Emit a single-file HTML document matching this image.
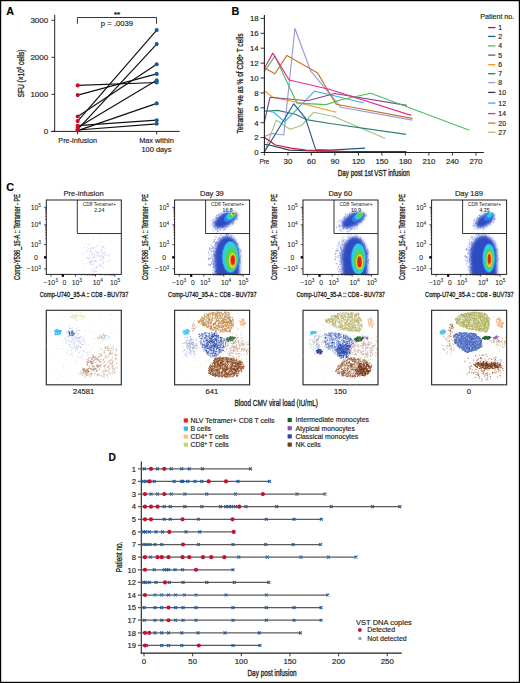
<!DOCTYPE html><html><head><meta charset="utf-8"><style>html,body{margin:0;padding:0;background:#fff;overflow:hidden;}svg{display:block;}text{font-family:"Liberation Sans", sans-serif;stroke:#231f20;stroke-width:0.16px;} text.cd{stroke-width:0.32px;}</style></head><body>
<svg width="520" height="683" viewBox="0 0 520 683">
<defs><filter id="bl" x="-30%" y="-30%" width="160%" height="160%"><feGaussianBlur stdDeviation="0.75"/></filter><filter id="bl2" x="-30%" y="-30%" width="160%" height="160%"><feGaussianBlur stdDeviation="1.5"/></filter></defs>
<rect x="0" y="0" width="520" height="683" fill="#fff"/>
<text x="6.30" y="14.60" font-size="10.8" text-anchor="start" font-weight="bold" fill="#000" >A</text>
<line x1="54.70" y1="14.80" x2="54.70" y2="131.90" stroke="#231f20" stroke-width="1"/>
<line x1="51.40" y1="131.40" x2="179.60" y2="131.40" stroke="#231f20" stroke-width="1"/>
<line x1="51.40" y1="131.40" x2="54.70" y2="131.40" stroke="#231f20" stroke-width="0.9"/>
<text x="48.20" y="134.30" font-size="8" text-anchor="end" font-weight="normal" fill="#231f20" >0</text>
<line x1="51.40" y1="94.37" x2="54.70" y2="94.37" stroke="#231f20" stroke-width="0.9"/>
<text x="48.20" y="97.27" font-size="8" text-anchor="end" font-weight="normal" fill="#231f20" >1000</text>
<line x1="51.40" y1="57.34" x2="54.70" y2="57.34" stroke="#231f20" stroke-width="0.9"/>
<text x="48.20" y="60.24" font-size="8" text-anchor="end" font-weight="normal" fill="#231f20" >2000</text>
<line x1="51.40" y1="20.31" x2="54.70" y2="20.31" stroke="#231f20" stroke-width="0.9"/>
<text x="48.20" y="23.21" font-size="8" text-anchor="end" font-weight="normal" fill="#231f20" >3000</text>
<line x1="77.60" y1="131.40" x2="77.60" y2="134.40" stroke="#231f20" stroke-width="0.9"/>
<line x1="156.60" y1="131.40" x2="156.60" y2="134.40" stroke="#231f20" stroke-width="0.9"/>
<text x="77.70" y="142.70" font-size="7.25" text-anchor="middle" font-weight="normal" fill="#231f20" >Pre-infusion</text>
<text x="156.50" y="142.70" font-size="7.35" text-anchor="middle" font-weight="normal" fill="#231f20" >Max within</text>
<text x="156.50" y="152.20" font-size="7.4" text-anchor="middle" font-weight="normal" fill="#231f20" >100 days</text>
<path d="M77.4,23.8 V17.5 H156.5 V23.8" fill="none" stroke="#231f20" stroke-width="0.9"/>
<text x="117.00" y="17.00" font-size="8" text-anchor="middle" font-weight="bold" fill="#231f20" >**</text>
<text x="117.00" y="25.90" font-size="7.7" text-anchor="middle" font-weight="normal" fill="#231f20" >p = .0039</text>
<text transform="translate(23.8,73.5) rotate(-90)" font-size="8.2" text-anchor="middle" fill="#231f20" textLength="48" lengthAdjust="spacingAndGlyphs" class="cd">SFU (×10<tspan font-size="5" dy="-2.6">5</tspan><tspan dy="2.6"> cells)</tspan></text>
<line x1="77.70" y1="85.40" x2="156.70" y2="82.50" stroke="#111" stroke-width="1.2"/>
<line x1="77.70" y1="95.10" x2="156.70" y2="73.90" stroke="#111" stroke-width="1.2"/>
<line x1="77.70" y1="116.50" x2="156.70" y2="64.20" stroke="#111" stroke-width="1.2"/>
<line x1="77.70" y1="121.10" x2="156.70" y2="30.10" stroke="#111" stroke-width="1.2"/>
<line x1="77.70" y1="129.30" x2="156.70" y2="44.10" stroke="#111" stroke-width="1.2"/>
<line x1="77.70" y1="127.50" x2="156.70" y2="80.30" stroke="#111" stroke-width="1.2"/>
<line x1="77.70" y1="130.60" x2="156.70" y2="103.40" stroke="#111" stroke-width="1.2"/>
<line x1="77.70" y1="125.70" x2="156.70" y2="120.20" stroke="#111" stroke-width="1.2"/>
<line x1="77.70" y1="130.00" x2="156.70" y2="123.80" stroke="#111" stroke-width="1.2"/>
<circle cx="77.70" cy="85.40" r="2.05" fill="#c8102e"/>
<circle cx="77.70" cy="95.10" r="2.05" fill="#c8102e"/>
<circle cx="77.70" cy="116.50" r="2.05" fill="#c8102e"/>
<circle cx="77.70" cy="121.10" r="2.05" fill="#c8102e"/>
<circle cx="77.70" cy="129.30" r="2.05" fill="#c8102e"/>
<circle cx="77.70" cy="127.50" r="2.05" fill="#c8102e"/>
<circle cx="77.70" cy="130.60" r="2.05" fill="#c8102e"/>
<circle cx="77.70" cy="125.70" r="2.05" fill="#c8102e"/>
<circle cx="77.70" cy="130.00" r="2.05" fill="#c8102e"/>
<circle cx="156.70" cy="82.50" r="2.05" fill="#1d5a96"/>
<circle cx="156.70" cy="73.90" r="2.05" fill="#1d5a96"/>
<circle cx="156.70" cy="64.20" r="2.05" fill="#1d5a96"/>
<circle cx="156.70" cy="30.10" r="2.05" fill="#1d5a96"/>
<circle cx="156.70" cy="44.10" r="2.05" fill="#1d5a96"/>
<circle cx="156.70" cy="80.30" r="2.05" fill="#1d5a96"/>
<circle cx="156.70" cy="103.40" r="2.05" fill="#1d5a96"/>
<circle cx="156.70" cy="120.20" r="2.05" fill="#1d5a96"/>
<circle cx="156.70" cy="123.80" r="2.05" fill="#1d5a96"/>
<text x="231.50" y="14.50" font-size="10.8" text-anchor="start" font-weight="bold" fill="#000" >B</text>
<polyline points="264.30,152.20 276.20,120.10 290.00,129.30 301.50,125.50 313.80,112.20 333.80,116.50 385.40,138.50" fill="none" stroke="#a3c287" stroke-width="1.15" stroke-linejoin="round"/>
<polyline points="264.30,111.20 277.70,110.40 295.40,114.20 306.20,119.60 330.00,123.50 406.20,134.40" fill="none" stroke="#2a8068" stroke-width="1.15" stroke-linejoin="round"/>
<polyline points="264.30,136.50 272.30,133.50 283.80,135.00 294.90,28.50 310.80,71.20 331.50,95.80 340.80,107.30 412.50,120.10" fill="none" stroke="#9b98d8" stroke-width="1.15" stroke-linejoin="round"/>
<polyline points="264.30,110.40 273.80,112.20 284.60,121.90 314.60,91.20 330.00,94.70 363.80,103.00" fill="none" stroke="#2db4e6" stroke-width="1.15" stroke-linejoin="round"/>
<polyline points="264.30,90.80 273.00,97.40 296.90,102.30 336.20,112.30" fill="none" stroke="#f7941d" stroke-width="1.15" stroke-linejoin="round"/>
<polyline points="264.30,122.70 270.00,97.30 307.70,100.80 334.60,93.50 406.90,105.40" fill="none" stroke="#7a4a94" stroke-width="1.15" stroke-linejoin="round"/>
<polyline points="264.30,71.50 274.90,56.20 296.90,103.10 326.20,104.60 340.00,100.00 370.80,93.20 469.40,130.20" fill="none" stroke="#4dbf58" stroke-width="1.15" stroke-linejoin="round"/>
<polyline points="264.30,67.70 274.90,73.80 286.90,55.40 317.70,73.10 331.50,96.50 336.20,104.20 412.50,118.40" fill="none" stroke="#c0782e" stroke-width="1.15" stroke-linejoin="round"/>
<polyline points="264.30,68.50 272.80,53.10 289.20,80.00 330.00,89.50 411.20,115.40" fill="none" stroke="#ea2a8e" stroke-width="1.15" stroke-linejoin="round"/>
<polyline points="264.30,152.20 293.80,103.80 305.40,118.10 315.70,149.60 330.00,150.10 365.10,148.10" fill="none" stroke="#1d5a96" stroke-width="1.15" stroke-linejoin="round"/>
<polyline points="264.30,144.50 269.20,145.00 289.20,150.10 320.00,151.20 406.50,151.60" fill="none" stroke="#2e3a58" stroke-width="1.15" stroke-linejoin="round"/>
<polyline points="264.30,137.30 275.40,145.00 290.80,148.10 306.00,150.00 340.00,151.20 349.20,151.60" fill="none" stroke="#c8102e" stroke-width="1.15" stroke-linejoin="round"/>
<line x1="264.40" y1="15.00" x2="264.40" y2="153.00" stroke="#231f20" stroke-width="1.1"/>
<line x1="263.90" y1="152.50" x2="483.90" y2="152.50" stroke="#231f20" stroke-width="1.1"/>
<line x1="260.60" y1="152.50" x2="264.40" y2="152.50" stroke="#231f20" stroke-width="0.9"/>
<text x="258.60" y="155.30" font-size="7.8" text-anchor="end" font-weight="normal" fill="#231f20" >0</text>
<line x1="260.60" y1="137.60" x2="264.40" y2="137.60" stroke="#231f20" stroke-width="0.9"/>
<text x="258.60" y="140.40" font-size="7.8" text-anchor="end" font-weight="normal" fill="#231f20" >2</text>
<line x1="260.60" y1="122.70" x2="264.40" y2="122.70" stroke="#231f20" stroke-width="0.9"/>
<text x="258.60" y="125.50" font-size="7.8" text-anchor="end" font-weight="normal" fill="#231f20" >4</text>
<line x1="260.60" y1="107.80" x2="264.40" y2="107.80" stroke="#231f20" stroke-width="0.9"/>
<text x="258.60" y="110.60" font-size="7.8" text-anchor="end" font-weight="normal" fill="#231f20" >6</text>
<line x1="260.60" y1="92.90" x2="264.40" y2="92.90" stroke="#231f20" stroke-width="0.9"/>
<text x="258.60" y="95.70" font-size="7.8" text-anchor="end" font-weight="normal" fill="#231f20" >8</text>
<line x1="260.60" y1="78.00" x2="264.40" y2="78.00" stroke="#231f20" stroke-width="0.9"/>
<text x="258.60" y="80.80" font-size="7.8" text-anchor="end" font-weight="normal" fill="#231f20" >10</text>
<line x1="260.60" y1="63.10" x2="264.40" y2="63.10" stroke="#231f20" stroke-width="0.9"/>
<text x="258.60" y="65.90" font-size="7.8" text-anchor="end" font-weight="normal" fill="#231f20" >12</text>
<line x1="260.60" y1="48.20" x2="264.40" y2="48.20" stroke="#231f20" stroke-width="0.9"/>
<text x="258.60" y="51.00" font-size="7.8" text-anchor="end" font-weight="normal" fill="#231f20" >14</text>
<line x1="260.60" y1="33.30" x2="264.40" y2="33.30" stroke="#231f20" stroke-width="0.9"/>
<text x="258.60" y="36.10" font-size="7.8" text-anchor="end" font-weight="normal" fill="#231f20" >16</text>
<line x1="260.60" y1="18.40" x2="264.40" y2="18.40" stroke="#231f20" stroke-width="0.9"/>
<text x="258.60" y="21.20" font-size="7.8" text-anchor="end" font-weight="normal" fill="#231f20" >18</text>
<line x1="264.40" y1="152.50" x2="264.40" y2="155.60" stroke="#231f20" stroke-width="0.9"/>
<text x="264.40" y="164.10" font-size="7.8" text-anchor="middle" font-weight="normal" fill="#231f20" textLength="10" lengthAdjust="spacingAndGlyphs" class="cd" style="stroke-width:0.16px">Pre</text>
<line x1="287.90" y1="152.50" x2="287.90" y2="155.60" stroke="#231f20" stroke-width="0.9"/>
<text x="287.90" y="164.10" font-size="7.8" text-anchor="middle" font-weight="normal" fill="#231f20" style="stroke-width:0.16px">30</text>
<line x1="311.40" y1="152.50" x2="311.40" y2="155.60" stroke="#231f20" stroke-width="0.9"/>
<text x="311.40" y="164.10" font-size="7.8" text-anchor="middle" font-weight="normal" fill="#231f20" style="stroke-width:0.16px">60</text>
<line x1="334.90" y1="152.50" x2="334.90" y2="155.60" stroke="#231f20" stroke-width="0.9"/>
<text x="334.90" y="164.10" font-size="7.8" text-anchor="middle" font-weight="normal" fill="#231f20" style="stroke-width:0.16px">90</text>
<line x1="358.40" y1="152.50" x2="358.40" y2="155.60" stroke="#231f20" stroke-width="0.9"/>
<text x="358.40" y="164.10" font-size="7.8" text-anchor="middle" font-weight="normal" fill="#231f20" style="stroke-width:0.16px">120</text>
<line x1="381.89" y1="152.50" x2="381.89" y2="155.60" stroke="#231f20" stroke-width="0.9"/>
<text x="381.89" y="164.10" font-size="7.8" text-anchor="middle" font-weight="normal" fill="#231f20" style="stroke-width:0.16px">150</text>
<line x1="405.39" y1="152.50" x2="405.39" y2="155.60" stroke="#231f20" stroke-width="0.9"/>
<text x="405.39" y="164.10" font-size="7.8" text-anchor="middle" font-weight="normal" fill="#231f20" style="stroke-width:0.16px">180</text>
<line x1="428.89" y1="152.50" x2="428.89" y2="155.60" stroke="#231f20" stroke-width="0.9"/>
<text x="428.89" y="164.10" font-size="7.8" text-anchor="middle" font-weight="normal" fill="#231f20" style="stroke-width:0.16px">210</text>
<line x1="452.39" y1="152.50" x2="452.39" y2="155.60" stroke="#231f20" stroke-width="0.9"/>
<text x="452.39" y="164.10" font-size="7.8" text-anchor="middle" font-weight="normal" fill="#231f20" style="stroke-width:0.16px">240</text>
<line x1="475.89" y1="152.50" x2="475.89" y2="155.60" stroke="#231f20" stroke-width="0.9"/>
<text x="475.89" y="164.10" font-size="7.8" text-anchor="middle" font-weight="normal" fill="#231f20" style="stroke-width:0.16px">270</text>
<text x="337.80" y="176.40" font-size="8.2" text-anchor="start" font-weight="normal" fill="#231f20" textLength="72" lengthAdjust="spacingAndGlyphs" class="cd" >Day post 1st VST infusion</text>
<text transform="translate(243.2,83.5) rotate(-90)" font-size="8.2" text-anchor="middle" fill="#231f20" textLength="100" lengthAdjust="spacingAndGlyphs" class="cd">Tetramer +ve as % of CD8<tspan font-size="5" dy="-2.6">+</tspan><tspan dy="2.6"> T cells</tspan></text>
<text x="480.30" y="18.80" font-size="7.1" text-anchor="start" font-weight="normal" fill="#231f20" >Patient no.</text>
<line x1="488.10" y1="27.60" x2="495.40" y2="27.60" stroke="#c8102e" stroke-width="1.3"/>
<text x="498.30" y="30.10" font-size="6.9" text-anchor="start" font-weight="normal" fill="#231f20" >1</text>
<line x1="488.10" y1="36.40" x2="495.40" y2="36.40" stroke="#1d5a96" stroke-width="1.3"/>
<text x="498.30" y="38.90" font-size="6.9" text-anchor="start" font-weight="normal" fill="#231f20" >2</text>
<line x1="488.10" y1="45.90" x2="495.40" y2="45.90" stroke="#4dbf58" stroke-width="1.3"/>
<text x="498.30" y="48.40" font-size="6.9" text-anchor="start" font-weight="normal" fill="#231f20" >4</text>
<line x1="488.10" y1="55.10" x2="495.40" y2="55.10" stroke="#7a4a94" stroke-width="1.3"/>
<text x="498.30" y="57.60" font-size="6.9" text-anchor="start" font-weight="normal" fill="#231f20" >5</text>
<line x1="488.10" y1="64.70" x2="495.40" y2="64.70" stroke="#f7941d" stroke-width="1.3"/>
<text x="498.30" y="67.20" font-size="6.9" text-anchor="start" font-weight="normal" fill="#231f20" >6</text>
<line x1="488.10" y1="73.70" x2="495.40" y2="73.70" stroke="#2a8068" stroke-width="1.3"/>
<text x="498.30" y="76.20" font-size="6.9" text-anchor="start" font-weight="normal" fill="#231f20" >7</text>
<line x1="488.10" y1="82.60" x2="495.40" y2="82.60" stroke="#9b98d8" stroke-width="1.3"/>
<text x="498.30" y="85.10" font-size="6.9" text-anchor="start" font-weight="normal" fill="#231f20" >8</text>
<line x1="488.10" y1="92.40" x2="495.40" y2="92.40" stroke="#2e3a58" stroke-width="1.3"/>
<text x="498.30" y="94.90" font-size="6.9" text-anchor="start" font-weight="normal" fill="#231f20" >10</text>
<line x1="488.10" y1="103.10" x2="495.40" y2="103.10" stroke="#2db4e6" stroke-width="1.3"/>
<text x="498.30" y="105.60" font-size="6.9" text-anchor="start" font-weight="normal" fill="#231f20" >12</text>
<line x1="488.10" y1="113.60" x2="495.40" y2="113.60" stroke="#ea2a8e" stroke-width="1.3"/>
<text x="498.30" y="116.10" font-size="6.9" text-anchor="start" font-weight="normal" fill="#231f20" >14</text>
<line x1="488.10" y1="123.10" x2="495.40" y2="123.10" stroke="#c0782e" stroke-width="1.3"/>
<text x="498.30" y="125.60" font-size="6.9" text-anchor="start" font-weight="normal" fill="#231f20" >20</text>
<line x1="488.10" y1="132.30" x2="495.40" y2="132.30" stroke="#a3c287" stroke-width="1.3"/>
<text x="498.30" y="134.80" font-size="6.9" text-anchor="start" font-weight="normal" fill="#231f20" >27</text>
<text x="6.20" y="190.60" font-size="10.8" text-anchor="start" font-weight="bold" fill="#000" >C</text>
<clipPath id="cp0"><rect x="46.3" y="200" width="75" height="74.4"/></clipPath>
<clipPath id="ct0"><rect x="46.3" y="310.3" width="75" height="74.5"/></clipPath>
<clipPath id="cp1"><rect x="174.6" y="200" width="75" height="74.4"/></clipPath>
<clipPath id="ct1"><rect x="174.6" y="310.3" width="75" height="74.5"/></clipPath>
<clipPath id="cp2"><rect x="303.0" y="200" width="75" height="74.4"/></clipPath>
<clipPath id="ct2"><rect x="303.0" y="310.3" width="75" height="74.5"/></clipPath>
<clipPath id="cp3"><rect x="431.6" y="200" width="75" height="74.4"/></clipPath>
<clipPath id="ct3"><rect x="431.6" y="310.3" width="75" height="74.5"/></clipPath>
<text x="83.60" y="195.80" font-size="7.5" text-anchor="middle" font-weight="normal" fill="#231f20" >Pre-infusion</text>
<g clip-path="url(#cp0)">
<path d="M94.6 260.8h0M103.0 258.6h0M96.8 267.2h0M90.4 248.3h0M90.6 264.2h0M102.5 252.9h0M90.0 252.0h0M103.2 253.2h0M101.8 266.6h0M91.2 261.9h0M103.1 263.8h0M100.0 256.5h0M104.8 252.8h0M90.4 250.7h0M89.0 258.6h0M98.6 265.9h0M86.4 243.7h0M86.9 258.1h0M95.0 247.2h0M100.9 265.4h0M84.5 252.1h0M99.8 265.0h0M89.0 254.6h0M94.8 257.1h0M98.2 252.6h0M92.0 268.9h0M92.5 264.5h0M87.2 250.8h0M94.1 258.0h0M88.5 245.1h0M91.3 260.9h0M88.2 248.9h0M96.4 271.2h0" stroke="#aab6ea" stroke-width="0.64" stroke-linecap="square" fill="none" opacity="1.0"/><path d="M103.5 261.1h0M108.6 261.3h0M93.4 248.4h0M81.9 260.6h0M103.7 246.8h0M97.1 245.5h0M108.4 255.8h0M93.5 239.1h0M87.7 257.6h0M103.0 267.6h0M105.7 249.1h0M109.1 254.2h0M82.2 254.4h0M95.7 269.5h0M101.6 250.7h0M105.7 255.0h0M96.8 267.8h0M92.9 253.0h0M92.3 259.1h0M105.0 252.0h0M90.7 261.6h0M90.4 263.3h0M99.3 255.8h0M102.0 246.2h0M92.7 252.7h0M101.0 249.4h0M103.1 256.2h0M96.0 261.9h0M94.8 271.7h0M96.9 255.3h0M103.0 247.3h0M102.5 256.7h0" stroke="#b0bcec" stroke-width="0.64" stroke-linecap="square" fill="none" opacity="1.0"/><path d="M83.9 247.2h0M97.9 252.6h0M90.5 252.5h0M92.0 271.1h0M103.0 263.2h0M92.7 270.9h0M86.8 263.5h0M103.5 257.8h0M90.5 250.1h0M96.7 252.1h0M99.9 255.2h0M90.6 264.5h0M89.8 257.5h0M100.4 258.9h0M102.6 248.2h0M94.1 261.8h0M100.4 241.8h0M93.3 261.0h0M95.7 251.4h0M91.6 248.1h0M84.2 263.5h0M103.3 257.6h0M87.6 247.2h0M98.0 254.6h0M95.8 267.4h0M91.9 261.1h0M99.2 238.8h0M90.3 262.4h0M93.9 256.3h0M94.4 274.8h0M94.2 271.5h0M94.9 254.8h0M90.8 248.9h0M94.4 266.2h0M101.8 255.1h0M102.2 255.6h0M104.4 254.7h0M109.4 260.3h0M100.8 260.0h0" stroke="#c0c8f0" stroke-width="0.64" stroke-linecap="square" fill="none" opacity="1.0"/><path d="M89.2 261.7h0M94.3 254.4h0M105.7 261.4h0M102.5 261.0h0M95.6 261.2h0M93.4 247.0h0M105.4 247.8h0M86.4 258.2h0M92.7 255.7h0M97.4 246.1h0M97.6 252.0h0M100.7 257.5h0M90.1 243.2h0M83.5 265.6h0M98.8 260.1h0M90.9 253.9h0M94.4 270.9h0M87.9 260.6h0M91.4 256.2h0M99.9 264.2h0M89.6 262.4h0M97.5 256.9h0" stroke="#e0c8d8" stroke-width="0.64" stroke-linecap="square" fill="none" opacity="1.0"/><path d="M88.0 251.9h0M101.1 260.0h0M93.1 263.2h0M84.7 267.8h0M95.7 261.0h0M99.7 251.3h0M106.1 255.4h0M90.3 245.0h0M107.8 255.5h0M90.5 257.9h0M98.0 252.8h0M98.5 242.6h0M104.9 258.5h0M101.4 252.2h0M88.6 259.6h0M104.7 270.3h0M95.9 260.9h0M92.3 254.8h0M96.5 265.7h0M91.8 247.6h0M94.3 257.7h0M92.6 257.8h0M96.1 256.8h0M96.0 260.2h0" stroke="#d0d6f4" stroke-width="0.64" stroke-linecap="square" fill="none" opacity="1.0"/>
</g>
<rect x="46.30" y="200.0" width="75" height="74.40" fill="none" stroke="#231f20" stroke-width="1"/>
<path d="M77.30,200.0 V233.5 H121.30" fill="none" stroke="#231f20" stroke-width="0.9"/>
<text x="99.30" y="205.50" font-size="4.9" text-anchor="middle" font-weight="normal" fill="#231f20" style="stroke-width:0">CD8 Tetramer+</text>
<text x="99.30" y="212.00" font-size="5.2" text-anchor="middle" font-weight="normal" fill="#231f20" style="stroke-width:0.05px">2.24</text>
<line x1="44.10" y1="207.30" x2="46.30" y2="207.30" stroke="#231f20" stroke-width="0.8"/>
<text x="40.90" y="209.90" font-size="6.8" text-anchor="end" fill="#231f20" style="stroke-width:0.06px">10<tspan font-size="4.8" dy="-2.9">5</tspan></text>
<line x1="44.10" y1="224.80" x2="46.30" y2="224.80" stroke="#231f20" stroke-width="0.8"/>
<text x="40.90" y="227.40" font-size="6.8" text-anchor="end" fill="#231f20" style="stroke-width:0.06px">10<tspan font-size="4.8" dy="-2.9">4</tspan></text>
<line x1="44.10" y1="244.60" x2="46.30" y2="244.60" stroke="#231f20" stroke-width="0.8"/>
<text x="40.90" y="247.20" font-size="6.8" text-anchor="end" fill="#231f20" style="stroke-width:0.06px">10<tspan font-size="4.8" dy="-2.9">3</tspan></text>
<line x1="44.10" y1="257.30" x2="46.30" y2="257.30" stroke="#231f20" stroke-width="0.8"/>
<text x="37.70" y="259.90" font-size="6.8" text-anchor="end" font-weight="normal" fill="#231f20" style="stroke-width:0.06px">0</text>
<line x1="44.10" y1="268.80" x2="46.30" y2="268.80" stroke="#231f20" stroke-width="0.8"/>
<text x="40.90" y="271.40" font-size="6.8" text-anchor="end" fill="#231f20" style="stroke-width:0.06px">−10<tspan font-size="4.8" dy="-2.9">3</tspan></text>
<line x1="45.10" y1="219.53" x2="46.30" y2="219.53" stroke="#231f20" stroke-width="0.6"/>
<line x1="45.10" y1="216.45" x2="46.30" y2="216.45" stroke="#231f20" stroke-width="0.6"/>
<line x1="45.10" y1="214.26" x2="46.30" y2="214.26" stroke="#231f20" stroke-width="0.6"/>
<line x1="45.10" y1="212.57" x2="46.30" y2="212.57" stroke="#231f20" stroke-width="0.6"/>
<line x1="45.10" y1="211.18" x2="46.30" y2="211.18" stroke="#231f20" stroke-width="0.6"/>
<line x1="45.10" y1="210.01" x2="46.30" y2="210.01" stroke="#231f20" stroke-width="0.6"/>
<line x1="45.10" y1="209.00" x2="46.30" y2="209.00" stroke="#231f20" stroke-width="0.6"/>
<line x1="45.10" y1="208.10" x2="46.30" y2="208.10" stroke="#231f20" stroke-width="0.6"/>
<line x1="45.10" y1="238.64" x2="46.30" y2="238.64" stroke="#231f20" stroke-width="0.6"/>
<line x1="45.10" y1="235.15" x2="46.30" y2="235.15" stroke="#231f20" stroke-width="0.6"/>
<line x1="45.10" y1="232.68" x2="46.30" y2="232.68" stroke="#231f20" stroke-width="0.6"/>
<line x1="45.10" y1="230.76" x2="46.30" y2="230.76" stroke="#231f20" stroke-width="0.6"/>
<line x1="45.10" y1="229.19" x2="46.30" y2="229.19" stroke="#231f20" stroke-width="0.6"/>
<line x1="45.10" y1="227.87" x2="46.30" y2="227.87" stroke="#231f20" stroke-width="0.6"/>
<line x1="45.10" y1="226.72" x2="46.30" y2="226.72" stroke="#231f20" stroke-width="0.6"/>
<line x1="45.10" y1="225.71" x2="46.30" y2="225.71" stroke="#231f20" stroke-width="0.6"/>
<rect x="44.00" y="256.2" width="2.3" height="2.3" fill="#000"/>
<line x1="50.90" y1="274.40" x2="50.90" y2="276.60" stroke="#231f20" stroke-width="0.8"/>
<text x="50.70" y="285.1" font-size="6.8" text-anchor="middle" fill="#231f20" style="stroke-width:0.06px">−10<tspan font-size="4.8" dy="-2.9">3</tspan></text>
<line x1="62.80" y1="274.40" x2="62.80" y2="276.60" stroke="#231f20" stroke-width="0.8"/>
<text x="64.50" y="285.10" font-size="6.8" text-anchor="middle" font-weight="normal" fill="#231f20" style="stroke-width:0.06px">0</text>
<line x1="75.50" y1="274.40" x2="75.50" y2="276.60" stroke="#231f20" stroke-width="0.8"/>
<text x="76.80" y="285.1" font-size="6.8" text-anchor="middle" fill="#231f20" style="stroke-width:0.06px">10<tspan font-size="4.8" dy="-2.9">3</tspan></text>
<line x1="95.50" y1="274.40" x2="95.50" y2="276.60" stroke="#231f20" stroke-width="0.8"/>
<text x="97.80" y="285.1" font-size="6.8" text-anchor="middle" fill="#231f20" style="stroke-width:0.06px">10<tspan font-size="4.8" dy="-2.9">4</tspan></text>
<line x1="114.80" y1="274.40" x2="114.80" y2="276.60" stroke="#231f20" stroke-width="0.8"/>
<text x="115.10" y="285.1" font-size="6.8" text-anchor="middle" fill="#231f20" style="stroke-width:0.06px">10<tspan font-size="4.8" dy="-2.9">5</tspan></text>
<line x1="81.52" y1="274.40" x2="81.52" y2="275.60" stroke="#231f20" stroke-width="0.6"/>
<line x1="85.04" y1="274.40" x2="85.04" y2="275.60" stroke="#231f20" stroke-width="0.6"/>
<line x1="87.54" y1="274.40" x2="87.54" y2="275.60" stroke="#231f20" stroke-width="0.6"/>
<line x1="89.48" y1="274.40" x2="89.48" y2="275.60" stroke="#231f20" stroke-width="0.6"/>
<line x1="91.06" y1="274.40" x2="91.06" y2="275.60" stroke="#231f20" stroke-width="0.6"/>
<line x1="92.40" y1="274.40" x2="92.40" y2="275.60" stroke="#231f20" stroke-width="0.6"/>
<line x1="93.56" y1="274.40" x2="93.56" y2="275.60" stroke="#231f20" stroke-width="0.6"/>
<line x1="94.58" y1="274.40" x2="94.58" y2="275.60" stroke="#231f20" stroke-width="0.6"/>
<line x1="101.31" y1="274.40" x2="101.31" y2="275.60" stroke="#231f20" stroke-width="0.6"/>
<line x1="104.71" y1="274.40" x2="104.71" y2="275.60" stroke="#231f20" stroke-width="0.6"/>
<line x1="107.12" y1="274.40" x2="107.12" y2="275.60" stroke="#231f20" stroke-width="0.6"/>
<line x1="108.99" y1="274.40" x2="108.99" y2="275.60" stroke="#231f20" stroke-width="0.6"/>
<line x1="110.52" y1="274.40" x2="110.52" y2="275.60" stroke="#231f20" stroke-width="0.6"/>
<line x1="111.81" y1="274.40" x2="111.81" y2="275.60" stroke="#231f20" stroke-width="0.6"/>
<line x1="112.93" y1="274.40" x2="112.93" y2="275.60" stroke="#231f20" stroke-width="0.6"/>
<line x1="113.92" y1="274.40" x2="113.92" y2="275.60" stroke="#231f20" stroke-width="0.6"/>
<rect x="61.70" y="274.40" width="2.3" height="2.3" fill="#000"/>
<text x="84.05" y="296.50" font-size="8.0" text-anchor="middle" font-weight="normal" fill="#231f20" textLength="88.5" lengthAdjust="spacingAndGlyphs" class="cd" >Comp-U740_35-A :: CD8 - BUV737</text>
<text transform="translate(20.10,236.9) rotate(-90)" font-size="8.2" text-anchor="middle" fill="#231f20" textLength="86" lengthAdjust="spacingAndGlyphs" class="cd">Comp-Y586_15-A :: Tetramer - PE</text>
<text x="211.90" y="195.80" font-size="7.5" text-anchor="middle" font-weight="normal" fill="#231f20" >Day 39</text>
<g clip-path="url(#cp1)">
<path d="M216.1 222.6h0M225.8 220.5h0M224.4 222.6h0M217.1 222.0h0M216.5 217.8h0M226.9 220.1h0M227.0 218.2h0M223.7 220.7h0M219.7 213.1h0M237.4 218.9h0M219.9 220.9h0M218.5 225.7h0M213.0 229.7h0M221.7 225.7h0M215.1 224.1h0M214.0 226.6h0M231.5 217.4h0M216.3 217.4h0M220.2 219.8h0M225.8 223.4h0M226.3 227.7h0M232.7 224.3h0M222.3 225.8h0M225.6 220.4h0M222.9 217.1h0M216.2 223.2h0M233.3 219.7h0M220.3 219.9h0M220.0 225.6h0M222.7 227.8h0M222.6 222.1h0M234.0 218.9h0M221.9 218.8h0M227.1 217.8h0M214.4 222.5h0M227.7 219.3h0M230.7 218.8h0M216.8 229.1h0M223.2 219.6h0M233.1 215.1h0M223.6 227.0h0M212.6 223.4h0M224.2 220.7h0M222.9 216.3h0M225.9 219.3h0M224.1 217.8h0M220.5 230.2h0M233.8 212.2h0M222.5 219.7h0M225.5 213.4h0M223.7 225.5h0M229.4 218.1h0M236.6 216.1h0M216.4 215.6h0M220.0 222.2h0" stroke="#4a64cc" stroke-width="0.60" stroke-linecap="square" fill="none" opacity="1.0"/><path d="M223.4 224.7h0M233.5 222.0h0M218.1 214.7h0M225.5 213.8h0M212.8 224.6h0M228.5 226.8h0M220.2 223.5h0M230.8 216.7h0M230.0 212.0h0M218.4 219.2h0M224.6 218.2h0M224.6 213.6h0M215.9 223.6h0M231.6 216.3h0M217.8 223.2h0M222.7 223.4h0M217.5 231.5h0M217.1 230.5h0M231.6 220.7h0M224.7 222.9h0M218.3 220.6h0M224.4 225.0h0M218.5 224.5h0M220.3 216.7h0M218.7 223.9h0M233.6 219.8h0M225.3 220.4h0M215.4 229.9h0M228.7 216.1h0M235.2 218.5h0M223.7 219.2h0M225.7 211.8h0M222.7 214.7h0M227.0 222.8h0M226.0 223.8h0M222.2 226.4h0M231.8 219.8h0M234.0 217.2h0M229.1 215.7h0M227.1 223.8h0M236.1 215.8h0M223.5 213.7h0M220.8 220.9h0M224.1 221.3h0M216.4 222.8h0M225.8 221.0h0M231.9 220.0h0M230.3 213.1h0M228.8 220.8h0M218.3 220.5h0M215.6 221.5h0M218.0 214.8h0M224.4 229.7h0M215.7 217.9h0M225.6 229.3h0M214.2 227.3h0M223.3 222.5h0M222.9 223.3h0M218.6 215.3h0M223.2 227.2h0M219.3 225.8h0M224.6 221.2h0M233.1 216.0h0M229.3 216.9h0M232.5 219.0h0M224.9 224.1h0M228.3 223.1h0M226.7 214.9h0M217.1 222.9h0M217.9 228.6h0M219.5 221.2h0M222.5 220.4h0M219.9 223.5h0M219.9 229.8h0M223.9 221.1h0M213.7 226.1h0M224.1 224.3h0M224.5 219.7h0M223.3 226.4h0" stroke="#7a8edc" stroke-width="0.60" stroke-linecap="square" fill="none" opacity="1.0"/><path d="M214.2 219.5h0M221.1 214.2h0M238.2 215.2h0M230.0 216.0h0M221.4 220.6h0M216.5 225.3h0M219.9 221.2h0M220.3 218.8h0M223.3 223.2h0M232.0 216.8h0M221.0 224.4h0M223.9 225.7h0M222.5 220.0h0M218.9 222.7h0M220.0 225.2h0M221.1 220.8h0M230.5 211.4h0M217.8 229.3h0M230.7 220.8h0M226.3 210.4h0M236.9 219.4h0M215.3 221.2h0M229.9 217.6h0M228.7 219.2h0M229.0 219.7h0M227.1 218.0h0M216.2 220.1h0M234.9 216.0h0M210.7 225.2h0M218.4 231.6h0M228.1 223.1h0M231.5 217.5h0M229.2 218.4h0M219.4 217.8h0M224.1 218.2h0M221.1 224.4h0M227.9 223.8h0M226.5 221.8h0M225.2 211.3h0M225.5 220.5h0M217.3 220.5h0M213.4 231.3h0M211.0 220.4h0M219.0 221.4h0M227.2 222.3h0M218.7 219.9h0M215.4 229.1h0M215.0 228.3h0M227.0 210.9h0M227.4 220.5h0M226.3 225.9h0M220.9 217.6h0M232.1 221.9h0M229.5 224.5h0M213.9 222.8h0M233.1 217.3h0M227.8 221.3h0M234.3 217.6h0M223.2 220.7h0M220.8 216.8h0M220.5 218.8h0M216.2 232.3h0M212.3 225.9h0M221.8 215.1h0M232.2 216.2h0M215.0 216.8h0M220.8 226.8h0M230.7 211.5h0" stroke="#98a8e4" stroke-width="0.60" stroke-linecap="square" fill="none" opacity="1.0"/><path d="M232.0 211.5h0M223.0 221.4h0M220.8 216.4h0M227.7 216.3h0M213.6 221.8h0M229.7 219.0h0M218.5 226.5h0M223.0 216.0h0M220.2 226.2h0M236.1 210.9h0M231.5 215.3h0M236.6 218.1h0M223.1 217.6h0M221.4 219.9h0M227.3 222.6h0M227.6 217.0h0M228.8 214.4h0M230.1 211.6h0M220.7 223.6h0M224.4 225.3h0M225.6 220.2h0M222.0 225.4h0M228.2 216.3h0M229.7 222.1h0M229.2 217.4h0M213.3 221.6h0M218.2 223.9h0M230.0 218.4h0M218.7 225.1h0M220.8 222.0h0M217.8 219.7h0M224.4 226.7h0M223.2 230.6h0M231.6 215.5h0M213.4 222.2h0M233.5 217.0h0M218.9 223.6h0M217.8 231.3h0M222.5 215.5h0M213.0 219.7h0M233.3 223.3h0M231.0 215.5h0M232.3 223.6h0M218.6 226.3h0M228.4 221.0h0M219.1 218.1h0M226.5 222.1h0M226.1 227.0h0M215.2 227.0h0M225.1 221.1h0M216.9 218.0h0M228.5 220.4h0M232.1 211.5h0M227.2 213.1h0M223.5 219.8h0M224.3 229.0h0M220.1 223.1h0M226.9 224.8h0" stroke="#5a74d4" stroke-width="0.60" stroke-linecap="square" fill="none" opacity="1.0"/><path d="M220.2 265.7h0M216.4 242.5h0M223.0 277.0h0M228.6 266.1h0M226.2 263.5h0M231.8 242.3h0M218.3 248.5h0M234.9 260.6h0M234.3 251.6h0M216.1 242.1h0M217.6 259.0h0M226.4 243.7h0M224.6 262.6h0M228.4 234.7h0M218.3 253.8h0M222.6 248.4h0M214.8 256.1h0M237.8 261.0h0M216.6 274.5h0M220.9 251.7h0M241.3 255.0h0M215.2 271.9h0M219.0 263.7h0M223.3 243.6h0M221.7 265.5h0M223.5 263.4h0M226.3 249.3h0M218.9 256.7h0M227.7 233.7h0M226.3 234.9h0M224.5 260.3h0M231.5 266.7h0M226.1 250.3h0M217.2 260.2h0M212.8 259.4h0M217.8 274.0h0M222.2 242.2h0M218.2 252.7h0M214.4 241.5h0M218.6 260.9h0M227.3 246.7h0M226.8 272.3h0M230.3 244.9h0M222.9 236.8h0M227.8 272.9h0M233.0 270.2h0M222.8 257.9h0M222.4 261.3h0M230.8 265.5h0M218.7 254.8h0M225.9 246.2h0M222.9 267.0h0M234.4 265.1h0M230.8 243.1h0M217.4 259.0h0M220.5 276.8h0M213.7 265.9h0M223.2 273.8h0M217.3 277.7h0M212.3 256.9h0M231.4 248.9h0M209.1 253.7h0M219.1 256.8h0M213.8 247.8h0M219.9 256.4h0M220.9 260.2h0M213.6 263.2h0M225.4 264.0h0M225.0 268.9h0M224.2 259.7h0M224.8 263.3h0M222.6 279.6h0M215.6 252.4h0M217.7 251.0h0M216.2 265.1h0M237.9 260.4h0M219.6 237.5h0M229.5 238.0h0M231.3 261.2h0M223.8 241.8h0M213.3 247.6h0M236.3 256.8h0M211.8 256.0h0M215.4 263.3h0M226.9 263.4h0M226.8 266.9h0M233.5 271.0h0M224.9 249.7h0M231.0 260.6h0M233.0 258.9h0M223.0 264.4h0M224.2 246.3h0M219.8 248.0h0M214.6 257.5h0M228.4 263.7h0M225.6 257.6h0M215.7 255.7h0M221.3 260.6h0M236.0 258.5h0M220.4 258.5h0M236.3 270.8h0M233.5 244.3h0M221.3 244.7h0M232.9 245.5h0M217.7 269.3h0M220.1 264.4h0M223.9 242.7h0M234.8 250.2h0M228.5 248.1h0M225.2 240.2h0M229.1 275.4h0M225.5 258.9h0M213.6 253.2h0M221.5 252.7h0M236.1 239.9h0M216.8 255.0h0M208.9 265.5h0M221.0 247.1h0M235.8 251.3h0M231.9 247.3h0M219.8 269.1h0M225.3 260.8h0M227.8 233.5h0M218.5 237.1h0M234.4 260.4h0M230.2 273.5h0M221.1 263.8h0M223.8 247.5h0M219.8 238.8h0M238.3 266.4h0M215.0 255.1h0M215.4 261.3h0M224.9 250.2h0M217.7 267.8h0M222.0 255.2h0M219.6 266.5h0M225.1 251.0h0M227.5 260.1h0M222.0 255.4h0M211.2 250.8h0M240.3 256.7h0M221.5 247.7h0M223.1 263.0h0M217.2 241.3h0M214.4 273.1h0M213.2 267.8h0M227.4 252.2h0M228.0 242.9h0M226.2 260.4h0M228.5 239.0h0M222.2 265.6h0M233.4 274.6h0M226.1 263.5h0M232.3 259.7h0M227.5 269.9h0M232.2 254.8h0M233.5 265.6h0M236.8 265.9h0M216.5 256.5h0M222.3 271.9h0M236.1 246.5h0M209.6 258.5h0M222.3 249.0h0M234.2 265.0h0M227.1 256.6h0M239.3 261.3h0M223.3 239.0h0M228.9 237.3h0M224.7 239.9h0M218.0 239.4h0M236.2 245.8h0M224.7 233.7h0M227.6 269.6h0M215.8 265.2h0M218.7 263.9h0M221.9 266.8h0M223.7 258.0h0M215.9 252.4h0M231.9 273.7h0M226.0 245.8h0M215.9 256.9h0M225.9 246.7h0M221.4 263.2h0M227.4 239.3h0M232.0 271.6h0M226.5 270.0h0M234.8 253.8h0M227.6 277.9h0M212.7 248.1h0M233.3 262.9h0M233.2 245.6h0M227.2 236.1h0M225.7 246.1h0M227.3 243.9h0M226.7 237.9h0M230.8 235.7h0M212.5 258.7h0M221.7 260.8h0M227.9 251.4h0M222.1 254.5h0M235.6 257.5h0M230.6 259.7h0M228.5 260.8h0M212.4 261.8h0M228.0 275.2h0M223.0 252.4h0M237.0 261.9h0M234.5 249.8h0M231.3 251.9h0M236.2 243.4h0M230.1 269.5h0M228.2 255.7h0M217.1 244.1h0M224.3 269.0h0M225.6 254.4h0M221.8 250.6h0M215.4 268.7h0M215.7 271.5h0M225.5 264.8h0M225.9 233.6h0M221.9 258.9h0M230.0 260.7h0M217.8 242.5h0M220.3 259.5h0M222.1 266.8h0M232.6 252.5h0M221.9 249.7h0M234.0 257.0h0M211.4 248.4h0M223.3 269.3h0M226.8 254.3h0M226.2 248.1h0M237.5 265.6h0M216.9 274.1h0M217.3 259.3h0M228.2 256.3h0M216.3 253.8h0M228.8 263.1h0M227.6 252.9h0M226.3 234.3h0M215.8 243.0h0M239.6 260.9h0M230.1 261.7h0M225.4 266.3h0M219.8 269.5h0M222.0 255.6h0M225.8 251.9h0M228.2 263.0h0M234.0 267.7h0M222.6 267.2h0M231.4 247.7h0M224.4 274.8h0M235.9 274.6h0M222.5 246.0h0M220.1 262.0h0M224.3 270.5h0M219.1 263.0h0M237.3 258.4h0M238.3 255.9h0M212.7 272.6h0M226.3 267.7h0M235.5 257.0h0M238.1 243.4h0M219.7 251.7h0M226.9 235.6h0M226.4 279.2h0M224.5 238.1h0M213.2 267.5h0M217.9 258.6h0M214.6 259.5h0M235.9 252.1h0M220.5 249.0h0M228.0 253.8h0M215.4 243.3h0M231.9 259.6h0M228.4 261.6h0M227.2 267.7h0M237.9 256.4h0M234.0 249.2h0M211.6 257.4h0M229.1 247.6h0M219.7 268.9h0M224.4 255.9h0" stroke="#7a8edc" stroke-width="0.60" stroke-linecap="square" fill="none" opacity="1.0"/><path d="M230.9 247.3h0M229.0 268.3h0M222.7 240.9h0M221.1 243.7h0M221.9 240.5h0M214.4 239.7h0M215.8 244.0h0M223.7 268.6h0M238.2 257.3h0M216.8 270.6h0M220.2 247.4h0M226.4 253.7h0M225.6 250.5h0M225.4 261.5h0M216.3 237.2h0M222.2 250.2h0M215.7 277.3h0M222.9 267.7h0M209.6 249.5h0M218.5 268.1h0M217.8 256.8h0M221.0 266.2h0M222.0 255.9h0M235.2 248.0h0M227.8 252.3h0M218.5 253.5h0M233.9 273.9h0M238.6 249.9h0M223.8 261.1h0M230.2 242.8h0M219.0 258.8h0M221.1 258.3h0M225.5 248.3h0M226.5 264.1h0M219.6 252.7h0M223.6 252.0h0M231.4 278.3h0M225.0 260.3h0M236.5 250.3h0M235.0 264.8h0M220.4 260.7h0M224.3 265.0h0M228.0 254.5h0M220.2 260.6h0M210.5 264.4h0M216.8 255.7h0M230.9 277.8h0M227.8 256.1h0M221.1 235.4h0M231.7 240.8h0M222.4 263.0h0M236.5 260.7h0M232.9 268.1h0M215.1 262.3h0M234.2 249.0h0M224.8 262.1h0M221.3 250.5h0M233.0 254.7h0M221.2 266.5h0M213.6 251.8h0M219.3 242.2h0M234.4 275.9h0M232.4 242.2h0M213.3 254.4h0M219.3 263.9h0M221.4 254.5h0M221.4 271.2h0M218.5 264.2h0M220.8 256.1h0M215.5 258.1h0M220.6 248.7h0M231.2 275.3h0M217.0 242.2h0M228.5 264.0h0M227.5 247.7h0M227.5 252.1h0M228.2 267.3h0M224.8 280.2h0M227.8 254.0h0M235.6 270.2h0M223.6 254.0h0M219.1 257.5h0M232.8 269.7h0M226.6 251.8h0M229.5 268.1h0M224.6 252.0h0M209.8 258.5h0M217.2 243.7h0M235.4 268.4h0M217.3 268.2h0M218.7 258.1h0M215.7 255.8h0M228.8 252.9h0M239.9 257.6h0M215.9 251.4h0M223.3 246.4h0M216.4 252.0h0M212.4 259.1h0M222.9 250.7h0M228.1 251.7h0M226.6 251.5h0M214.3 255.8h0M224.2 253.5h0M219.1 252.2h0M225.9 256.4h0M217.9 268.3h0M219.9 268.8h0M223.1 271.0h0M221.6 247.7h0M217.9 273.2h0M235.7 243.0h0M236.8 243.5h0M217.5 263.8h0M222.3 266.8h0M218.4 251.8h0M221.8 254.1h0M224.4 255.8h0M219.5 247.2h0M226.0 255.0h0M235.6 262.7h0M219.6 265.9h0M218.3 243.4h0M225.8 236.3h0M217.1 252.9h0M237.1 269.8h0M219.5 254.4h0M225.0 268.2h0M225.3 239.8h0M220.3 259.6h0M225.8 256.7h0M225.5 260.5h0M218.5 244.7h0M225.3 271.1h0M222.7 260.4h0M214.9 245.3h0M237.5 247.6h0M232.7 249.6h0M227.7 257.0h0M214.3 254.8h0M228.1 261.8h0M218.9 265.1h0M220.9 271.1h0M227.3 269.0h0M214.1 263.9h0M229.5 253.4h0M228.7 270.7h0M231.8 263.1h0M234.8 241.0h0M215.4 265.4h0M227.1 275.8h0M213.9 266.0h0M240.2 262.9h0M217.7 255.4h0M226.7 266.3h0M223.1 253.8h0M218.9 268.1h0M224.3 249.5h0M221.9 251.9h0M223.2 271.9h0M226.0 252.8h0M220.1 252.8h0M226.5 265.0h0M226.4 254.1h0M225.5 251.9h0M223.8 275.4h0M210.0 265.9h0M238.1 265.7h0M213.0 270.2h0M226.3 274.8h0M218.1 261.6h0M217.2 248.9h0M231.2 243.2h0M229.7 262.5h0M234.0 272.1h0M222.9 252.9h0M232.9 249.2h0M229.8 256.9h0M231.5 238.1h0M214.1 267.4h0M224.7 247.4h0M222.9 245.2h0M224.9 253.5h0M231.4 240.7h0M225.9 245.1h0M216.5 265.3h0M214.5 254.1h0M215.5 265.9h0M226.2 240.8h0M217.5 258.0h0M225.0 254.2h0M221.9 259.0h0M225.4 249.0h0M230.8 242.2h0M213.4 251.0h0M221.1 257.4h0M230.7 245.1h0M218.8 256.6h0M230.3 257.4h0M221.2 240.0h0M221.9 253.7h0M230.3 262.1h0M225.0 250.2h0M225.5 253.2h0M212.2 263.7h0M219.2 245.7h0M217.1 254.4h0M237.2 270.7h0M220.7 252.2h0M224.7 247.9h0M218.5 245.5h0M230.7 246.8h0M229.2 262.1h0M231.4 271.7h0M231.2 260.8h0M227.3 251.9h0M215.1 271.4h0M236.5 262.5h0M224.9 264.3h0M225.4 261.9h0M222.0 253.0h0M221.8 244.0h0M222.2 251.4h0M234.0 274.1h0M223.6 233.4h0M208.9 264.3h0M228.0 269.7h0M224.7 256.8h0M229.2 256.9h0M215.2 261.7h0M225.8 261.5h0M219.7 253.8h0M219.2 247.3h0M217.8 247.5h0M229.6 251.9h0M217.4 266.6h0M215.4 259.5h0M213.3 274.1h0M217.4 250.0h0M229.3 255.7h0M231.7 261.9h0M216.2 263.8h0M215.3 244.0h0M229.3 246.3h0M224.7 242.8h0M226.7 266.9h0M226.7 234.7h0M216.4 265.8h0M218.2 276.0h0M220.8 244.4h0M227.1 238.1h0M223.6 261.3h0M236.2 254.5h0M231.1 274.5h0M232.0 235.5h0M216.9 277.6h0M231.4 253.8h0M227.1 248.5h0M215.4 276.1h0M226.2 255.4h0M221.3 267.0h0M221.7 249.9h0M227.4 266.1h0M226.8 266.7h0M211.0 250.6h0M227.5 245.1h0M224.5 248.2h0M216.4 252.5h0M212.9 261.3h0M219.0 267.1h0M233.1 254.5h0M229.1 254.9h0M220.8 246.1h0M213.8 247.3h0M218.5 269.0h0M218.4 246.5h0M224.3 273.5h0M218.0 254.7h0M224.2 250.4h0M225.0 261.1h0M216.8 261.8h0M221.3 267.7h0M237.6 255.9h0M217.8 245.0h0" stroke="#4a64cc" stroke-width="0.60" stroke-linecap="square" fill="none" opacity="1.0"/><path d="M220.7 254.0h0M228.4 238.3h0M223.3 257.4h0M220.0 258.5h0M230.9 257.3h0M221.2 241.8h0M219.4 241.5h0M229.6 251.5h0M227.0 267.6h0M227.8 274.7h0M233.4 258.0h0M230.2 263.5h0M229.0 241.2h0M217.3 270.7h0M237.3 255.1h0M227.9 250.9h0M221.8 262.7h0M228.6 265.9h0M215.9 266.1h0M226.6 259.3h0M214.9 245.9h0M227.5 274.3h0M225.9 244.6h0M223.2 257.7h0M221.9 251.1h0M221.2 255.5h0M222.8 272.4h0M224.1 252.0h0M229.5 254.9h0M210.0 260.0h0M224.8 268.9h0M222.1 280.2h0M222.6 261.2h0M223.5 260.8h0M223.6 256.1h0M232.3 247.4h0M217.5 268.7h0M221.8 261.0h0M229.4 261.5h0M234.9 261.8h0M213.4 250.2h0M226.0 253.8h0M216.5 259.1h0M228.2 252.8h0M220.1 259.6h0M224.3 262.8h0M232.1 270.5h0M228.2 268.8h0M233.9 236.9h0M232.0 263.6h0M223.6 262.5h0M224.1 247.7h0M228.8 258.7h0M231.3 269.5h0M232.8 276.3h0M226.0 269.4h0M214.2 260.7h0M221.8 263.7h0M221.8 258.6h0M229.0 243.9h0M221.2 259.9h0M225.7 241.1h0M232.7 245.2h0M223.4 247.2h0M238.7 257.8h0M227.6 244.9h0M230.2 254.9h0M231.1 258.5h0M214.4 255.4h0M223.0 254.3h0M228.8 261.3h0M229.7 260.0h0M230.5 258.0h0M217.3 263.3h0M229.0 260.8h0M216.7 253.1h0M228.9 266.4h0M218.5 256.7h0M236.0 256.8h0M218.1 254.5h0M220.8 278.5h0M222.9 268.9h0M226.1 255.4h0M215.0 266.3h0M226.9 266.7h0M219.0 253.6h0M223.2 248.0h0M224.6 251.9h0M223.9 262.1h0M217.3 260.9h0M220.8 244.2h0M225.1 265.9h0M216.8 276.1h0M216.9 249.2h0M235.2 261.0h0M226.7 258.8h0M240.9 257.4h0M228.1 250.1h0M220.6 263.9h0M229.4 273.5h0M215.2 255.7h0M225.0 268.2h0M210.6 264.8h0M234.4 256.5h0M235.2 264.5h0M228.4 278.5h0M221.6 267.0h0M223.7 259.1h0M223.9 250.4h0M218.3 269.3h0M228.0 263.6h0M232.6 256.1h0M222.9 248.9h0M234.6 265.6h0M233.2 256.1h0M226.1 273.5h0M218.4 244.6h0M225.4 258.2h0M231.6 270.7h0M219.5 248.7h0M216.6 252.2h0M226.3 257.5h0M231.4 272.5h0M224.7 243.6h0M231.1 262.9h0M228.4 259.3h0M234.1 243.4h0M215.3 264.0h0M232.9 255.0h0M215.6 265.6h0M212.5 259.9h0M213.2 256.0h0M225.8 273.8h0M225.0 264.4h0M221.1 267.2h0M221.1 258.5h0M217.2 246.8h0M224.4 266.4h0M222.9 247.2h0M232.7 263.3h0M233.1 266.7h0M221.8 244.8h0M226.0 260.9h0M217.9 239.7h0M222.5 267.3h0M215.0 252.1h0M216.6 254.3h0M230.4 258.9h0M221.1 275.3h0M226.7 254.1h0M226.7 253.5h0M210.4 248.9h0M222.1 244.5h0M222.9 259.0h0M229.5 239.1h0M235.4 260.9h0M216.6 277.1h0M227.7 252.9h0M227.7 246.9h0M232.8 252.5h0M227.1 243.7h0M211.3 246.2h0M231.6 247.6h0M221.2 255.6h0M220.7 263.5h0M223.5 239.0h0M216.5 270.5h0M215.5 239.5h0M217.4 277.3h0M212.9 259.6h0M218.0 264.3h0M224.0 265.1h0M222.7 271.6h0M227.2 252.1h0M227.3 253.2h0M232.1 242.7h0M235.9 245.3h0M227.9 252.6h0M215.1 261.7h0M222.8 241.3h0M221.6 263.5h0M223.7 242.6h0M223.7 238.6h0M237.0 244.1h0M227.0 266.1h0M227.3 261.4h0M229.5 248.5h0M233.2 252.6h0M222.6 243.8h0M221.2 253.3h0M224.7 257.5h0M225.0 253.4h0M219.0 249.9h0M240.4 260.4h0M215.3 255.3h0M222.4 251.3h0M222.9 261.8h0M223.6 266.0h0M229.9 256.5h0M218.2 243.5h0M227.2 261.6h0M224.8 259.9h0M220.5 257.5h0M228.1 260.3h0M231.9 261.7h0M225.6 250.8h0M218.6 255.0h0M225.6 270.6h0M217.0 248.5h0M221.5 259.3h0M230.7 247.9h0M225.0 255.4h0M217.5 251.8h0M218.0 238.3h0M226.2 260.8h0M229.4 274.6h0M229.0 244.9h0M225.9 266.8h0M226.7 260.2h0M208.8 264.3h0M225.6 245.5h0M221.7 253.2h0M221.3 258.9h0M218.3 277.3h0M227.2 263.5h0M223.8 276.7h0M219.0 251.0h0M229.0 234.8h0M233.6 252.5h0M227.6 269.7h0M221.0 269.7h0M220.2 272.8h0M227.1 254.3h0M233.7 256.4h0M222.4 253.4h0M222.3 251.2h0M220.2 254.5h0M219.2 256.8h0M232.4 239.7h0M225.4 268.1h0M223.8 246.2h0M239.0 262.4h0M217.3 270.4h0M226.2 250.4h0M213.1 242.5h0M222.3 270.6h0M219.5 260.2h0M218.4 250.5h0M212.2 248.8h0M233.7 276.9h0M233.1 273.4h0M234.0 248.2h0" stroke="#98a8e4" stroke-width="0.60" stroke-linecap="square" fill="none" opacity="1.0"/><path d="M229.7 256.8h0M224.0 262.7h0M218.6 260.8h0M230.3 245.8h0M230.6 250.4h0M217.1 266.0h0M211.5 252.1h0M223.1 240.6h0M224.5 268.8h0M219.6 258.7h0M215.7 258.6h0M223.6 255.5h0M225.9 250.0h0M218.7 257.3h0M224.1 244.1h0M229.1 245.0h0M208.2 251.1h0M223.3 254.8h0M236.8 254.3h0M215.7 245.7h0M230.7 247.8h0M225.5 259.9h0M213.6 264.3h0M214.3 257.2h0M225.7 263.7h0M223.6 257.7h0M227.6 252.4h0M224.0 249.3h0M224.3 255.2h0M234.2 244.8h0M240.2 251.0h0M233.9 242.9h0M227.1 247.8h0M211.2 245.6h0M225.8 250.2h0M218.8 269.0h0M232.9 256.6h0M208.2 258.9h0M232.5 244.0h0M227.4 255.5h0M229.1 259.3h0M216.8 250.1h0M210.2 264.8h0M223.3 258.7h0M228.0 253.6h0M209.6 248.6h0M223.3 249.3h0M219.6 253.0h0M220.9 243.4h0M237.5 261.3h0M225.5 264.5h0M220.5 271.1h0M211.5 254.3h0M212.3 246.6h0M220.6 241.8h0M231.2 235.6h0M224.6 269.6h0M217.7 268.1h0M222.0 264.2h0M214.2 240.8h0M234.9 248.7h0M219.9 250.7h0M228.6 247.3h0M223.4 257.5h0M219.5 238.4h0M228.2 266.2h0M229.3 244.2h0M234.8 262.7h0M225.2 257.1h0M232.0 251.0h0M214.5 255.3h0M229.8 242.2h0M227.8 265.3h0M234.2 253.5h0M221.8 271.9h0M218.3 271.9h0M223.3 265.6h0M227.6 252.6h0M221.5 268.1h0M219.2 273.0h0M223.3 238.1h0M219.2 243.2h0M218.4 254.5h0M228.5 266.6h0M234.4 258.1h0M230.2 263.6h0M221.9 271.9h0M235.5 255.1h0M222.6 253.0h0M228.0 249.2h0M236.1 256.6h0M226.6 260.6h0M213.3 242.0h0M231.5 245.9h0M230.2 255.4h0M227.5 279.5h0M226.0 270.1h0M209.4 247.4h0M226.0 250.9h0M228.1 269.7h0M234.2 272.7h0M222.4 259.1h0M229.2 238.5h0M233.3 265.9h0M235.3 241.6h0M232.8 245.2h0M233.5 247.1h0M226.8 256.8h0M234.8 242.1h0M229.5 260.5h0M223.5 266.1h0M222.6 270.9h0M226.4 267.4h0M232.3 278.3h0M233.7 273.0h0M224.8 251.8h0M217.3 259.6h0M235.4 269.2h0M229.3 264.7h0M232.8 241.3h0M232.7 272.9h0M230.7 258.8h0M212.9 248.6h0M234.8 254.3h0M217.5 245.8h0M208.6 252.7h0M231.3 257.9h0M223.8 267.6h0M235.9 242.3h0M230.3 241.2h0M232.8 239.5h0M217.5 253.8h0M232.2 243.3h0M222.3 269.6h0M224.4 272.3h0M234.8 266.3h0M218.6 249.2h0M222.9 245.6h0M229.9 260.1h0M214.8 254.7h0M214.4 257.8h0M231.0 244.2h0M222.2 243.6h0M222.2 264.0h0M211.8 262.1h0M224.5 255.4h0M225.6 262.3h0M225.7 262.0h0M228.5 265.3h0M213.0 264.7h0M239.3 259.3h0M215.9 248.4h0M218.3 252.2h0M216.8 249.5h0M216.6 270.7h0M222.4 265.8h0M219.6 258.4h0M225.7 255.7h0M228.4 264.7h0M214.0 264.7h0M225.2 277.7h0M223.8 252.7h0M217.1 255.3h0M224.5 240.9h0M232.6 246.1h0M228.6 246.1h0M223.1 257.1h0M234.0 269.5h0M238.9 248.7h0M224.0 254.9h0M222.7 237.2h0M233.8 252.6h0M231.6 269.6h0M220.2 250.6h0M229.1 252.0h0M224.0 265.9h0M227.3 263.5h0M229.8 265.1h0M227.4 255.0h0M219.4 250.8h0M221.7 267.6h0M216.2 271.4h0M215.0 248.3h0M240.0 262.5h0M214.0 266.6h0M231.9 274.5h0M236.5 247.7h0M229.9 260.1h0M231.9 256.5h0M239.9 260.8h0M222.1 257.8h0M225.4 241.4h0M215.3 242.3h0M224.2 263.9h0M225.1 256.6h0M209.8 249.3h0M234.3 238.1h0M224.7 255.6h0M236.5 247.2h0M238.4 245.1h0M228.5 234.4h0M217.7 261.9h0M232.6 252.3h0M221.0 250.3h0M222.6 244.6h0M223.6 261.1h0M221.4 256.0h0M232.8 250.7h0M211.7 263.6h0M221.3 248.5h0M226.5 253.2h0M208.5 259.7h0M217.7 267.9h0M231.9 274.5h0M218.5 246.5h0M225.1 267.9h0M240.9 251.5h0M233.0 261.7h0M220.4 247.3h0M225.1 258.6h0M216.6 242.7h0M234.0 258.3h0M238.7 253.8h0M218.1 263.1h0M228.7 263.8h0M222.3 259.1h0M233.6 239.3h0M223.1 252.8h0M233.4 246.0h0M218.5 277.1h0M219.8 252.8h0M228.8 257.7h0M224.0 266.4h0M223.3 248.5h0M226.2 248.6h0M224.3 254.0h0M235.5 262.6h0M225.2 251.4h0M218.1 248.0h0M236.5 264.0h0M220.2 239.0h0M219.6 244.1h0M214.2 261.0h0M209.3 255.2h0M219.5 240.9h0M239.0 258.3h0M229.6 241.3h0M225.5 275.9h0M228.0 252.5h0M228.5 259.4h0M227.5 258.9h0M224.1 245.8h0M215.4 236.9h0M213.9 260.7h0M222.8 244.6h0M236.7 269.7h0M210.4 258.1h0M227.3 258.3h0M215.1 255.9h0M228.0 272.2h0M222.3 279.7h0M224.1 257.1h0M227.7 264.2h0M231.7 269.5h0M218.8 246.4h0M212.8 251.1h0M236.8 244.1h0M216.5 257.3h0M239.8 259.3h0M230.1 258.1h0M229.9 247.8h0M227.4 258.0h0M215.4 261.6h0M227.8 240.8h0M213.4 262.6h0M226.8 242.2h0M219.8 256.5h0M224.3 255.9h0M230.4 256.7h0M240.7 250.0h0M208.7 258.1h0M230.1 262.8h0" stroke="#5a74d4" stroke-width="0.60" stroke-linecap="square" fill="none" opacity="1.0"/><g filter="url(#bl2)"><ellipse cx="225.60" cy="219.50" rx="13.00" ry="6.50" transform="rotate(-32 225.60 219.50)" fill="#2d4cc2" opacity="1"/><ellipse cx="227.10" cy="257.00" rx="12.50" ry="21.00" transform="rotate(0 227.10 257.00)" fill="#2d4cc2" opacity="1"/><rect x="215.10" y="259.00" width="24.50" height="26.00" rx="2" fill="#2d4cc2"/></g><g filter="url(#bl)"><ellipse cx="230.10" cy="216.50" rx="7.50" ry="4.20" transform="rotate(-40 230.10 216.50)" fill="#2e7ee8" opacity="1"/><ellipse cx="231.20" cy="215.50" rx="5.60" ry="3.30" transform="rotate(-40 231.20 215.50)" fill="#2ad0e0" opacity="1"/><ellipse cx="232.40" cy="214.50" rx="3.80" ry="2.40" transform="rotate(-40 232.40 214.50)" fill="#5cd050" opacity="1"/><ellipse cx="233.00" cy="213.70" rx="2.20" ry="1.60" transform="rotate(-40 233.00 213.70)" fill="#f2e232" opacity="1"/><ellipse cx="233.30" cy="213.40" rx="1.30" ry="1.00" transform="rotate(-40 233.30 213.40)" fill="#e52418" opacity="1"/><ellipse cx="230.40" cy="257.00" rx="8.80" ry="16.10" transform="rotate(0 230.40 257.00)" fill="#2e7ee8" opacity="1"/><ellipse cx="230.50" cy="257.00" rx="8.00" ry="15.30" transform="rotate(0 230.50 257.00)" fill="#2ad0e0" opacity="1"/><ellipse cx="231.40" cy="258.90" rx="5.85" ry="11.85" transform="rotate(0 231.40 258.90)" fill="#5cd050" opacity="1"/><ellipse cx="232.50" cy="260.50" rx="3.50" ry="7.50" transform="rotate(0 232.50 260.50)" fill="#f2e232" opacity="1"/><ellipse cx="232.70" cy="260.30" rx="2.70" ry="6.10" transform="rotate(0 232.70 260.30)" fill="#f48a20" opacity="1"/><ellipse cx="232.85" cy="260.10" rx="2.05" ry="4.70" transform="rotate(0 232.85 260.10)" fill="#e52418" opacity="1"/></g>
<rect x="207.60" y="201" width="40.00" height="11.5" fill="#fff" opacity="0.72"/>
</g>
<rect x="174.60" y="200.0" width="75" height="74.40" fill="none" stroke="#231f20" stroke-width="1"/>
<path d="M205.60,200.0 V233.5 H249.60" fill="none" stroke="#231f20" stroke-width="0.9"/>
<text x="227.60" y="205.50" font-size="4.9" text-anchor="middle" font-weight="normal" fill="#231f20" style="stroke-width:0">CD8 Tetramer+</text>
<text x="227.60" y="212.00" font-size="5.2" text-anchor="middle" font-weight="normal" fill="#231f20" style="stroke-width:0.05px">16.8</text>
<line x1="172.40" y1="207.30" x2="174.60" y2="207.30" stroke="#231f20" stroke-width="0.8"/>
<text x="169.20" y="209.90" font-size="6.8" text-anchor="end" fill="#231f20" style="stroke-width:0.06px">10<tspan font-size="4.8" dy="-2.9">5</tspan></text>
<line x1="172.40" y1="224.80" x2="174.60" y2="224.80" stroke="#231f20" stroke-width="0.8"/>
<text x="169.20" y="227.40" font-size="6.8" text-anchor="end" fill="#231f20" style="stroke-width:0.06px">10<tspan font-size="4.8" dy="-2.9">4</tspan></text>
<line x1="172.40" y1="244.60" x2="174.60" y2="244.60" stroke="#231f20" stroke-width="0.8"/>
<text x="169.20" y="247.20" font-size="6.8" text-anchor="end" fill="#231f20" style="stroke-width:0.06px">10<tspan font-size="4.8" dy="-2.9">3</tspan></text>
<line x1="172.40" y1="257.30" x2="174.60" y2="257.30" stroke="#231f20" stroke-width="0.8"/>
<text x="166.00" y="259.90" font-size="6.8" text-anchor="end" font-weight="normal" fill="#231f20" style="stroke-width:0.06px">0</text>
<line x1="172.40" y1="268.80" x2="174.60" y2="268.80" stroke="#231f20" stroke-width="0.8"/>
<text x="169.20" y="271.40" font-size="6.8" text-anchor="end" fill="#231f20" style="stroke-width:0.06px">−10<tspan font-size="4.8" dy="-2.9">3</tspan></text>
<line x1="173.40" y1="219.53" x2="174.60" y2="219.53" stroke="#231f20" stroke-width="0.6"/>
<line x1="173.40" y1="216.45" x2="174.60" y2="216.45" stroke="#231f20" stroke-width="0.6"/>
<line x1="173.40" y1="214.26" x2="174.60" y2="214.26" stroke="#231f20" stroke-width="0.6"/>
<line x1="173.40" y1="212.57" x2="174.60" y2="212.57" stroke="#231f20" stroke-width="0.6"/>
<line x1="173.40" y1="211.18" x2="174.60" y2="211.18" stroke="#231f20" stroke-width="0.6"/>
<line x1="173.40" y1="210.01" x2="174.60" y2="210.01" stroke="#231f20" stroke-width="0.6"/>
<line x1="173.40" y1="209.00" x2="174.60" y2="209.00" stroke="#231f20" stroke-width="0.6"/>
<line x1="173.40" y1="208.10" x2="174.60" y2="208.10" stroke="#231f20" stroke-width="0.6"/>
<line x1="173.40" y1="238.64" x2="174.60" y2="238.64" stroke="#231f20" stroke-width="0.6"/>
<line x1="173.40" y1="235.15" x2="174.60" y2="235.15" stroke="#231f20" stroke-width="0.6"/>
<line x1="173.40" y1="232.68" x2="174.60" y2="232.68" stroke="#231f20" stroke-width="0.6"/>
<line x1="173.40" y1="230.76" x2="174.60" y2="230.76" stroke="#231f20" stroke-width="0.6"/>
<line x1="173.40" y1="229.19" x2="174.60" y2="229.19" stroke="#231f20" stroke-width="0.6"/>
<line x1="173.40" y1="227.87" x2="174.60" y2="227.87" stroke="#231f20" stroke-width="0.6"/>
<line x1="173.40" y1="226.72" x2="174.60" y2="226.72" stroke="#231f20" stroke-width="0.6"/>
<line x1="173.40" y1="225.71" x2="174.60" y2="225.71" stroke="#231f20" stroke-width="0.6"/>
<rect x="172.30" y="256.2" width="2.3" height="2.3" fill="#000"/>
<line x1="179.20" y1="274.40" x2="179.20" y2="276.60" stroke="#231f20" stroke-width="0.8"/>
<text x="179.00" y="285.1" font-size="6.8" text-anchor="middle" fill="#231f20" style="stroke-width:0.06px">−10<tspan font-size="4.8" dy="-2.9">3</tspan></text>
<line x1="191.10" y1="274.40" x2="191.10" y2="276.60" stroke="#231f20" stroke-width="0.8"/>
<text x="192.80" y="285.10" font-size="6.8" text-anchor="middle" font-weight="normal" fill="#231f20" style="stroke-width:0.06px">0</text>
<line x1="203.80" y1="274.40" x2="203.80" y2="276.60" stroke="#231f20" stroke-width="0.8"/>
<text x="205.10" y="285.1" font-size="6.8" text-anchor="middle" fill="#231f20" style="stroke-width:0.06px">10<tspan font-size="4.8" dy="-2.9">3</tspan></text>
<line x1="223.80" y1="274.40" x2="223.80" y2="276.60" stroke="#231f20" stroke-width="0.8"/>
<text x="226.10" y="285.1" font-size="6.8" text-anchor="middle" fill="#231f20" style="stroke-width:0.06px">10<tspan font-size="4.8" dy="-2.9">4</tspan></text>
<line x1="243.10" y1="274.40" x2="243.10" y2="276.60" stroke="#231f20" stroke-width="0.8"/>
<text x="243.40" y="285.1" font-size="6.8" text-anchor="middle" fill="#231f20" style="stroke-width:0.06px">10<tspan font-size="4.8" dy="-2.9">5</tspan></text>
<line x1="209.82" y1="274.40" x2="209.82" y2="275.60" stroke="#231f20" stroke-width="0.6"/>
<line x1="213.34" y1="274.40" x2="213.34" y2="275.60" stroke="#231f20" stroke-width="0.6"/>
<line x1="215.84" y1="274.40" x2="215.84" y2="275.60" stroke="#231f20" stroke-width="0.6"/>
<line x1="217.78" y1="274.40" x2="217.78" y2="275.60" stroke="#231f20" stroke-width="0.6"/>
<line x1="219.36" y1="274.40" x2="219.36" y2="275.60" stroke="#231f20" stroke-width="0.6"/>
<line x1="220.70" y1="274.40" x2="220.70" y2="275.60" stroke="#231f20" stroke-width="0.6"/>
<line x1="221.86" y1="274.40" x2="221.86" y2="275.60" stroke="#231f20" stroke-width="0.6"/>
<line x1="222.88" y1="274.40" x2="222.88" y2="275.60" stroke="#231f20" stroke-width="0.6"/>
<line x1="229.61" y1="274.40" x2="229.61" y2="275.60" stroke="#231f20" stroke-width="0.6"/>
<line x1="233.01" y1="274.40" x2="233.01" y2="275.60" stroke="#231f20" stroke-width="0.6"/>
<line x1="235.42" y1="274.40" x2="235.42" y2="275.60" stroke="#231f20" stroke-width="0.6"/>
<line x1="237.29" y1="274.40" x2="237.29" y2="275.60" stroke="#231f20" stroke-width="0.6"/>
<line x1="238.82" y1="274.40" x2="238.82" y2="275.60" stroke="#231f20" stroke-width="0.6"/>
<line x1="240.11" y1="274.40" x2="240.11" y2="275.60" stroke="#231f20" stroke-width="0.6"/>
<line x1="241.23" y1="274.40" x2="241.23" y2="275.60" stroke="#231f20" stroke-width="0.6"/>
<line x1="242.22" y1="274.40" x2="242.22" y2="275.60" stroke="#231f20" stroke-width="0.6"/>
<rect x="190.00" y="274.40" width="2.3" height="2.3" fill="#000"/>
<text x="212.35" y="296.50" font-size="8.0" text-anchor="middle" font-weight="normal" fill="#231f20" textLength="88.5" lengthAdjust="spacingAndGlyphs" class="cd" >Comp-U740_35-A :: CD8 - BUV737</text>
<text transform="translate(148.40,236.9) rotate(-90)" font-size="8.2" text-anchor="middle" fill="#231f20" textLength="86" lengthAdjust="spacingAndGlyphs" class="cd">Comp-Y586_15-A :: Tetramer - PE</text>
<text x="340.30" y="195.80" font-size="7.5" text-anchor="middle" font-weight="normal" fill="#231f20" >Day 60</text>
<g clip-path="url(#cp2)">
<path d="M344.3 222.0h0M360.2 219.0h0M360.5 219.6h0M357.6 225.2h0M349.9 214.3h0M366.6 215.4h0M340.0 220.1h0M339.9 229.5h0M360.5 221.4h0M346.9 228.3h0M357.6 220.8h0M347.9 228.8h0M356.6 216.7h0M363.8 219.7h0M355.5 222.8h0M353.5 223.2h0M353.8 211.6h0M363.4 218.6h0M350.6 225.3h0M352.9 223.7h0M354.2 219.8h0M358.4 219.5h0M351.5 224.5h0M350.0 214.1h0M345.7 214.4h0M349.3 223.2h0M359.5 216.1h0M341.9 220.8h0M340.6 226.4h0M352.3 217.3h0M345.1 225.4h0M348.3 224.6h0M348.4 223.0h0M346.0 226.4h0M351.4 221.9h0M356.0 225.6h0M342.4 225.7h0M345.8 224.4h0M355.5 224.0h0M342.7 222.4h0M352.3 223.0h0M354.1 215.7h0M349.9 226.8h0M344.6 216.8h0M350.5 219.3h0M343.0 218.6h0M339.2 224.8h0M356.9 221.8h0M341.3 230.6h0M356.2 217.2h0M354.4 223.2h0M364.8 215.1h0M350.4 230.6h0M346.6 223.2h0M357.1 221.8h0M355.1 222.6h0" stroke="#4a64cc" stroke-width="0.60" stroke-linecap="square" fill="none" opacity="1.0"/><path d="M351.5 217.8h0M339.1 231.3h0M354.1 225.9h0M343.8 221.0h0M356.1 223.9h0M352.6 213.3h0M348.5 222.1h0M351.0 223.5h0M350.9 217.1h0M366.4 216.7h0M362.2 214.8h0M354.4 213.6h0M347.3 225.8h0M349.3 220.5h0M355.5 224.1h0M354.5 218.4h0M353.0 222.8h0M362.7 211.0h0M354.5 220.9h0M360.3 221.0h0M355.9 211.6h0M346.3 223.9h0M345.0 223.6h0M360.7 209.8h0M354.3 228.6h0M350.9 221.8h0M350.2 212.2h0M363.8 213.0h0M352.5 221.2h0M358.6 222.6h0M345.8 219.7h0M353.1 223.5h0M352.3 219.2h0M344.4 218.3h0M352.4 227.0h0M340.7 231.1h0M361.2 213.3h0M347.1 228.2h0M345.9 225.7h0M349.2 224.4h0M347.5 216.0h0M362.1 222.5h0M351.2 213.8h0M343.2 229.1h0M354.2 221.9h0M350.6 228.6h0M343.4 227.0h0M346.0 220.4h0M352.9 222.7h0M352.1 221.0h0M354.6 223.3h0M363.7 220.0h0M353.1 221.7h0M339.4 221.9h0M345.0 218.9h0M354.1 229.4h0M359.2 219.2h0M353.1 220.2h0M339.2 221.0h0" stroke="#98a8e4" stroke-width="0.60" stroke-linecap="square" fill="none" opacity="1.0"/><path d="M344.2 218.2h0M349.0 223.0h0M357.1 224.9h0M361.3 213.6h0M358.7 213.2h0M355.2 217.7h0M352.3 228.7h0M348.3 224.8h0M357.0 224.1h0M350.5 218.1h0M362.9 214.3h0M358.0 219.7h0M346.7 219.5h0M344.0 225.1h0M354.9 221.3h0M358.9 222.2h0M344.1 223.6h0M356.2 215.6h0M350.1 217.3h0M345.3 224.7h0M343.5 229.0h0M355.2 220.1h0M343.7 223.6h0M364.2 216.3h0M358.2 220.4h0M359.5 215.9h0M347.4 220.2h0M358.4 218.5h0M345.6 223.5h0M348.8 231.7h0M361.0 220.5h0M350.7 225.1h0M350.3 220.2h0M361.7 221.3h0M353.7 213.2h0M350.8 228.4h0M358.4 221.0h0M364.1 215.2h0M351.7 229.2h0M351.2 221.3h0M349.8 218.6h0M357.6 221.0h0M347.1 231.4h0M353.5 224.9h0M349.3 219.5h0M344.8 220.4h0M353.2 221.7h0M339.5 225.6h0M362.0 217.7h0M357.0 220.5h0M348.2 226.0h0M360.7 215.8h0" stroke="#5a74d4" stroke-width="0.60" stroke-linecap="square" fill="none" opacity="1.0"/><path d="M339.4 226.1h0M347.0 232.1h0M349.1 218.0h0M350.9 224.3h0M352.6 222.5h0M355.4 224.8h0M344.2 223.8h0M349.7 215.4h0M347.3 219.2h0M336.7 227.1h0M345.0 224.6h0M357.1 218.4h0M355.5 216.9h0M361.3 222.7h0M353.1 223.2h0M349.6 218.6h0M356.8 226.9h0M348.9 230.4h0M352.8 222.0h0M360.6 219.9h0M343.2 222.9h0M339.4 227.1h0M347.5 223.4h0M355.0 225.1h0M362.3 220.7h0M342.8 231.7h0M356.5 212.8h0M358.9 220.4h0M361.8 213.9h0M358.3 220.8h0M341.8 221.7h0M344.3 225.3h0M353.2 214.9h0M350.0 218.7h0M341.1 228.8h0M353.3 219.3h0M352.2 223.8h0M356.4 217.9h0M351.1 223.0h0M359.1 216.5h0M358.2 220.4h0M344.7 218.6h0M357.4 224.4h0M352.1 224.3h0M348.2 223.0h0M352.9 220.0h0M357.3 228.2h0M343.1 227.8h0M357.8 220.5h0M352.3 221.3h0M338.2 226.3h0M356.7 219.6h0M354.7 226.9h0M351.2 228.8h0M342.8 226.6h0M362.5 218.5h0M354.8 229.4h0M362.6 216.0h0M336.7 227.7h0M337.9 222.4h0M351.4 215.8h0M347.3 213.9h0M358.0 214.7h0M351.7 217.8h0M345.1 225.5h0M355.9 228.5h0M349.6 224.3h0M345.3 215.1h0M343.0 221.1h0M344.1 217.0h0M353.3 221.9h0M343.4 227.6h0M343.7 228.8h0" stroke="#7a8edc" stroke-width="0.60" stroke-linecap="square" fill="none" opacity="1.0"/><path d="M357.3 266.4h0M349.7 262.4h0M362.3 269.9h0M341.2 255.2h0M353.1 258.5h0M359.8 250.1h0M347.7 275.0h0M345.7 251.7h0M338.1 243.2h0M349.9 266.2h0M356.0 242.7h0M347.8 261.4h0M355.4 258.1h0M342.5 254.4h0M357.3 248.1h0M346.8 262.1h0M343.4 260.0h0M352.2 266.9h0M355.3 253.0h0M361.6 261.2h0M341.2 260.2h0M350.0 250.1h0M360.3 263.1h0M362.4 243.8h0M337.8 269.1h0M346.0 247.9h0M354.3 267.4h0M346.0 248.1h0M341.6 257.0h0M343.4 257.6h0M343.0 257.2h0M348.5 248.7h0M361.5 267.2h0M361.4 249.0h0M345.1 247.4h0M359.4 257.9h0M348.5 252.6h0M352.8 253.2h0M358.6 241.4h0M356.8 264.6h0M347.3 256.7h0M354.3 249.0h0M352.6 275.5h0M354.2 266.8h0M355.7 252.1h0M357.5 261.5h0M348.1 272.8h0M346.5 256.5h0M348.9 261.3h0M362.7 248.8h0M350.2 238.6h0M346.6 248.5h0M353.1 267.2h0M346.7 253.8h0M359.1 249.8h0M348.6 249.9h0M358.4 274.2h0M344.1 268.4h0M343.9 257.1h0M352.2 266.3h0M346.1 268.4h0M342.4 255.5h0M345.3 251.6h0M355.9 276.9h0M355.3 271.3h0M349.8 260.7h0M354.7 247.6h0M357.2 274.9h0M355.4 255.7h0M358.0 266.1h0M339.9 264.4h0M340.7 257.2h0M351.4 262.0h0M340.1 261.3h0M357.9 256.4h0M358.3 265.8h0M355.6 256.1h0M343.5 264.7h0M365.4 253.0h0M346.6 271.5h0M356.5 269.6h0M356.6 266.5h0M346.2 240.4h0M349.6 252.2h0M362.9 259.2h0M351.4 280.3h0M350.6 266.4h0M353.5 277.7h0M356.2 267.0h0M356.9 264.3h0M339.5 269.2h0M353.0 242.2h0M340.1 261.7h0M348.0 265.9h0M347.6 259.0h0M354.3 247.3h0M360.8 253.3h0M354.5 255.4h0M367.2 252.7h0M341.8 252.1h0M350.5 254.1h0M353.5 252.8h0M358.6 278.9h0M359.2 251.0h0M361.4 273.5h0M338.6 245.0h0M349.7 264.8h0M348.0 240.8h0M351.3 279.2h0M351.8 268.5h0M335.8 250.7h0M339.5 253.0h0M358.3 252.8h0M355.3 257.0h0M345.6 254.6h0M351.4 233.8h0M359.0 259.3h0M342.0 275.0h0M366.5 259.3h0M364.8 244.4h0M357.5 237.3h0M347.3 254.0h0M354.3 266.7h0M342.5 253.4h0M350.8 239.9h0M347.2 265.2h0M345.6 242.2h0M359.2 266.8h0M354.8 254.3h0M364.6 259.0h0M353.3 242.2h0M343.3 262.7h0M347.8 233.8h0M344.4 260.7h0M349.0 270.3h0M340.5 261.3h0M336.9 257.9h0M341.7 262.9h0M341.0 253.6h0M353.1 251.2h0M353.1 266.3h0M340.4 256.1h0M362.9 252.4h0M360.2 274.3h0M359.1 248.5h0M357.0 256.8h0M352.4 260.7h0M350.4 251.3h0M348.7 264.5h0M368.7 252.3h0M356.6 257.2h0M351.5 266.4h0M341.2 250.7h0M353.4 242.6h0M356.3 261.5h0M355.2 254.2h0M352.0 261.6h0M341.9 247.0h0M361.1 259.9h0M350.0 254.8h0M357.7 278.5h0M360.8 243.0h0M364.0 245.4h0M361.1 251.5h0M362.1 241.8h0M357.0 264.5h0M343.6 257.6h0M360.3 238.8h0M350.3 271.2h0M357.7 262.8h0M368.0 250.3h0M358.0 250.5h0M354.5 242.1h0M341.5 258.7h0M359.0 261.0h0M357.8 257.0h0M354.7 244.8h0M358.1 245.8h0M357.2 252.9h0M359.8 253.1h0M367.2 249.2h0M344.9 253.4h0M354.9 266.4h0M353.3 273.9h0M351.3 253.8h0M357.0 258.0h0M335.2 258.7h0M355.8 260.0h0M343.9 250.1h0M343.5 259.9h0M353.7 244.2h0M344.3 254.0h0M336.9 248.8h0M359.8 266.5h0M366.3 254.3h0M352.7 260.1h0M359.5 274.0h0M348.1 259.0h0M350.6 246.4h0M351.5 265.5h0M341.2 255.6h0M358.4 250.0h0M351.4 247.5h0M365.5 253.4h0M359.5 241.7h0M340.9 256.0h0M354.6 270.0h0M350.3 251.7h0M350.6 244.8h0M352.3 238.1h0M351.6 253.5h0M355.0 254.5h0M352.1 241.3h0M342.8 237.4h0M350.3 243.0h0M345.1 245.7h0M359.2 256.5h0M355.3 250.0h0M356.5 244.2h0M360.6 271.1h0M352.1 253.3h0M354.6 270.8h0M359.5 247.2h0M353.1 267.4h0M345.9 244.6h0M342.7 242.4h0M354.7 265.1h0M354.0 263.9h0M346.8 250.0h0M342.7 269.8h0M359.7 273.0h0M353.2 238.0h0M353.2 243.2h0M357.1 261.3h0M347.5 247.9h0M349.1 268.4h0M351.4 252.1h0M361.1 247.4h0M340.8 264.8h0M354.6 259.0h0M362.4 273.1h0M349.9 256.5h0M354.0 264.3h0M362.0 264.6h0M357.9 253.3h0M348.7 271.5h0M359.1 254.6h0M363.1 251.8h0M360.6 252.3h0M352.8 250.3h0M358.4 266.8h0M353.3 256.1h0M343.1 258.0h0M346.9 256.1h0M367.2 253.5h0M344.7 255.1h0M348.1 251.9h0M347.8 258.9h0M353.3 246.4h0M345.0 255.3h0M352.6 241.7h0M338.6 271.3h0M353.5 271.5h0M342.2 258.1h0M357.7 259.9h0M346.1 274.5h0M342.5 269.3h0M358.2 253.5h0M335.7 256.5h0M353.1 270.3h0M347.2 258.2h0M349.1 266.1h0M361.5 255.5h0M343.7 254.7h0M348.0 265.6h0M365.1 257.7h0M365.6 256.7h0M352.2 244.5h0M360.6 237.2h0M351.8 258.2h0M355.3 263.7h0M350.6 239.6h0M355.7 272.0h0M361.1 247.1h0M352.0 260.3h0M349.1 258.3h0M351.3 250.7h0M341.0 267.9h0M348.5 250.2h0M339.1 247.2h0M345.1 257.2h0M354.4 253.8h0M352.1 243.8h0M357.2 249.4h0M337.1 263.8h0M354.7 248.7h0M341.2 252.7h0M355.7 260.3h0" stroke="#5a74d4" stroke-width="0.60" stroke-linecap="square" fill="none" opacity="1.0"/><path d="M351.0 254.9h0M348.7 241.1h0M355.4 253.3h0M347.9 262.5h0M342.3 239.0h0M356.0 251.2h0M357.9 268.9h0M364.2 269.9h0M355.0 246.4h0M348.9 248.1h0M350.4 245.6h0M339.8 259.6h0M357.3 259.1h0M343.0 266.0h0M366.4 252.4h0M350.3 278.0h0M349.8 266.0h0M353.8 270.2h0M344.2 245.5h0M353.6 244.2h0M354.9 267.0h0M353.1 253.2h0M366.6 261.9h0M368.1 260.9h0M358.2 246.2h0M367.8 252.2h0M350.8 256.1h0M352.2 272.7h0M346.8 270.1h0M353.9 248.6h0M352.2 271.5h0M356.7 254.9h0M360.5 276.7h0M350.5 261.1h0M348.2 254.0h0M348.5 258.9h0M352.9 256.4h0M358.1 248.2h0M354.3 253.9h0M360.0 244.1h0M360.6 252.1h0M343.0 261.5h0M368.3 260.6h0M350.5 258.1h0M353.5 268.5h0M343.3 269.8h0M344.0 250.5h0M352.8 273.8h0M348.0 267.4h0M351.7 253.7h0M353.3 277.8h0M358.6 262.1h0M347.2 250.1h0M358.7 256.1h0M358.5 277.1h0M352.3 250.6h0M361.2 258.1h0M362.5 259.8h0M343.6 244.3h0M347.3 276.1h0M353.9 277.7h0M346.5 269.0h0M352.0 272.8h0M354.8 242.1h0M360.7 270.3h0M356.2 272.7h0M359.0 252.5h0M352.0 253.4h0M360.1 243.0h0M350.8 255.7h0M345.3 255.3h0M348.2 260.6h0M358.7 275.5h0M353.4 251.0h0M360.0 271.2h0M343.6 249.6h0M348.0 254.2h0M344.5 252.7h0M350.1 262.3h0M353.2 274.8h0M351.6 275.6h0M360.6 267.6h0M346.7 260.8h0M361.2 266.4h0M345.2 252.3h0M363.0 247.5h0M344.1 264.7h0M339.3 254.1h0M358.0 249.5h0M365.4 257.3h0M356.9 242.7h0M339.1 250.6h0M347.0 256.7h0M340.6 254.0h0M357.3 249.5h0M344.1 271.7h0M347.7 240.5h0M342.0 252.0h0M361.8 275.9h0M347.4 275.4h0M354.0 255.5h0M361.5 244.7h0M353.0 256.6h0M345.0 273.2h0M348.4 258.0h0M349.1 265.4h0M346.5 246.6h0M338.6 255.8h0M365.1 246.8h0M361.5 239.4h0M357.9 257.1h0M353.1 275.8h0M351.3 236.0h0M359.1 252.7h0M344.1 236.8h0M347.0 259.9h0M352.2 262.7h0M356.7 262.3h0M348.4 254.0h0M354.1 253.0h0M352.2 275.4h0M358.7 261.1h0M356.0 269.1h0M356.9 279.6h0M367.9 253.3h0M364.1 247.3h0M353.4 259.5h0M349.4 265.7h0M335.4 253.4h0M341.9 245.5h0M347.9 259.5h0M352.8 246.2h0M346.0 278.7h0M344.2 251.5h0M355.1 265.3h0M341.6 273.6h0M344.7 256.7h0M343.8 244.9h0M351.0 264.8h0M351.8 269.3h0M353.5 264.4h0M358.5 264.1h0M344.4 255.0h0M356.7 260.2h0M353.4 246.6h0M357.9 250.9h0M353.2 266.4h0M342.3 274.2h0M340.7 274.3h0M344.8 243.9h0M359.0 260.3h0M359.7 262.0h0M349.1 266.8h0M360.3 253.6h0M363.7 268.2h0M348.3 255.7h0M341.3 241.6h0M358.1 254.6h0M354.3 264.2h0M351.1 245.4h0M346.5 252.7h0M357.0 247.9h0M343.9 259.7h0M342.2 254.0h0M352.5 262.1h0M344.9 244.9h0M354.8 257.8h0M353.4 258.2h0M353.8 258.6h0M360.4 239.9h0M354.5 241.6h0M346.6 256.0h0M342.8 251.0h0M341.4 258.0h0M346.9 247.5h0M354.2 253.6h0M347.4 253.5h0M345.8 247.6h0M356.5 243.2h0M352.3 244.2h0M349.6 274.5h0M341.6 261.1h0M345.7 261.7h0M354.9 259.4h0M341.5 264.1h0M350.9 233.7h0M352.6 268.6h0M352.7 239.6h0M344.3 254.0h0M353.8 239.6h0M362.1 256.0h0M350.4 249.9h0M343.7 276.0h0M360.2 238.7h0M358.4 252.8h0M353.4 257.4h0M352.7 263.4h0M361.6 252.5h0M345.2 260.2h0M358.5 248.0h0M343.9 270.5h0M352.6 247.4h0M347.8 250.5h0M350.3 246.5h0M347.0 257.5h0M337.9 260.8h0M347.5 274.8h0M362.7 253.0h0M358.2 252.0h0M366.9 261.4h0M356.4 250.2h0M354.3 280.7h0M350.6 253.2h0M360.1 246.3h0M349.9 262.7h0M347.8 248.8h0M349.1 249.3h0M353.9 242.8h0M342.2 260.6h0M358.4 271.2h0M348.7 244.2h0M344.5 261.3h0M349.1 263.3h0M338.6 257.8h0M350.2 266.0h0M354.5 262.6h0M355.3 252.7h0M363.0 249.2h0M363.5 247.7h0M348.7 256.0h0M362.0 251.1h0M346.8 251.4h0M348.6 255.0h0M357.3 238.9h0M360.5 257.9h0M351.7 279.2h0M341.4 259.1h0M362.7 245.6h0M356.6 279.7h0M346.9 248.7h0M364.2 248.9h0M349.2 245.4h0M354.7 243.6h0M338.2 267.9h0M361.0 268.4h0M355.8 260.6h0M356.8 258.1h0M341.6 243.5h0M342.8 273.3h0M351.0 269.4h0M344.9 267.7h0M342.7 267.2h0M338.2 256.6h0M350.5 264.9h0M349.5 253.5h0M344.9 254.6h0M340.3 257.9h0M356.2 245.4h0M342.8 267.6h0M347.8 253.3h0M351.3 254.9h0M350.3 263.0h0M346.9 252.6h0M348.0 263.4h0M353.3 259.7h0M348.3 257.4h0M352.1 249.9h0M342.3 257.5h0M343.0 269.7h0M346.2 264.6h0M350.9 248.7h0M355.6 235.9h0M339.9 254.3h0M343.6 257.9h0M356.3 254.6h0M359.4 267.4h0M357.2 254.2h0M341.4 252.0h0M349.7 269.2h0M339.6 255.8h0M346.9 267.6h0M350.3 240.4h0M353.2 238.6h0M347.2 253.3h0" stroke="#98a8e4" stroke-width="0.60" stroke-linecap="square" fill="none" opacity="1.0"/><path d="M350.1 242.7h0M355.7 239.4h0M345.3 265.6h0M356.0 264.7h0M353.7 258.5h0M341.9 240.2h0M342.0 263.8h0M360.7 249.6h0M351.3 279.0h0M359.1 268.3h0M351.3 273.6h0M347.2 277.5h0M346.3 271.1h0M359.1 242.2h0M347.3 256.0h0M337.2 250.2h0M352.1 275.2h0M349.4 257.4h0M344.6 245.2h0M352.6 248.1h0M356.4 256.1h0M347.0 273.8h0M356.0 241.6h0M363.1 274.9h0M363.2 248.3h0M358.4 265.1h0M354.2 242.6h0M349.2 276.3h0M343.5 262.0h0M347.1 262.3h0M343.0 246.2h0M340.8 273.0h0M346.1 243.8h0M355.0 258.2h0M364.5 254.1h0M340.9 257.1h0M355.9 277.3h0M349.7 257.2h0M348.6 274.7h0M346.0 247.2h0M349.8 270.6h0M344.0 272.8h0M352.6 266.0h0M364.9 260.9h0M346.3 268.2h0M363.5 252.1h0M354.8 252.2h0M348.5 244.6h0M348.9 253.7h0M354.0 263.9h0M365.9 256.4h0M359.8 247.8h0M357.2 261.8h0M360.1 264.5h0M352.4 246.8h0M356.2 256.2h0M343.2 240.3h0M349.8 253.8h0M362.7 260.6h0M348.0 259.0h0M347.1 245.3h0M344.2 250.3h0M344.9 260.4h0M355.5 266.0h0M350.2 249.1h0M344.1 250.2h0M367.8 254.3h0M340.6 255.7h0M344.8 253.7h0M346.0 249.8h0M356.0 261.8h0M345.1 267.6h0M359.4 258.2h0M355.0 257.7h0M350.1 262.8h0M343.9 267.0h0M341.4 250.2h0M355.8 257.6h0M361.0 249.3h0M355.5 254.3h0M349.6 237.2h0M335.5 259.0h0M363.0 248.4h0M357.8 254.8h0M346.1 251.2h0M346.1 259.8h0M343.9 246.3h0M356.1 248.7h0M355.7 257.1h0M358.4 266.3h0M361.0 258.5h0M352.8 261.6h0M348.1 269.5h0M354.7 244.0h0M345.2 276.1h0M342.5 259.3h0M345.1 249.0h0M344.9 253.3h0M339.1 244.5h0M342.1 256.7h0M346.6 256.0h0M349.3 264.3h0M351.0 268.8h0M364.3 266.9h0M354.5 269.6h0M350.6 240.5h0M356.3 258.4h0M345.6 248.4h0M358.7 260.7h0M343.8 241.2h0M358.6 257.1h0M359.6 249.2h0M356.9 245.0h0M357.4 257.3h0M339.8 253.7h0M355.7 266.8h0M340.6 248.9h0M353.6 249.7h0M355.2 251.8h0M335.5 253.4h0M350.0 252.7h0M342.0 250.9h0M366.1 253.3h0M356.4 267.4h0M343.7 254.8h0M344.8 244.5h0M350.8 259.8h0M355.0 270.8h0M351.5 241.9h0M363.2 273.1h0M336.8 246.3h0M357.2 262.9h0M352.0 274.1h0M352.8 258.2h0M358.5 267.9h0M362.7 267.7h0M356.4 262.7h0M355.3 255.7h0M358.4 263.0h0M350.8 256.1h0M351.6 271.3h0M340.3 271.5h0M348.6 254.1h0M346.1 263.6h0M348.0 264.1h0M350.4 252.3h0M341.2 266.4h0M355.2 266.8h0M362.8 245.8h0M355.8 234.9h0M358.4 252.0h0M355.0 260.3h0M338.2 266.4h0M349.2 251.2h0M348.8 278.2h0M347.7 278.1h0M359.2 261.8h0M349.8 241.0h0M363.1 258.4h0M362.1 262.8h0M357.2 265.4h0M336.8 250.4h0M349.9 260.4h0M360.3 242.3h0M361.5 262.4h0M347.0 248.9h0M355.3 263.1h0M362.7 243.8h0M357.2 252.2h0M353.7 256.9h0M343.8 261.9h0M347.1 244.8h0M355.2 258.2h0M354.6 255.3h0M347.6 255.4h0M364.5 256.0h0M364.5 243.2h0M346.0 244.7h0M343.8 247.9h0M344.0 247.6h0M345.8 267.2h0M335.3 260.0h0M355.1 272.9h0M345.1 264.9h0M349.5 271.6h0M352.8 261.2h0M355.1 244.7h0M361.8 248.2h0M348.9 259.7h0M351.7 261.7h0M360.0 277.0h0M361.3 249.0h0M360.7 247.5h0M355.6 266.3h0M366.1 266.8h0M352.2 278.6h0M344.4 247.2h0M361.5 252.9h0M349.9 269.9h0M354.9 248.9h0M347.8 254.5h0M350.6 266.4h0M338.9 243.4h0M343.9 249.0h0M360.2 254.4h0M350.2 271.2h0M343.8 260.1h0M346.1 262.3h0M344.9 257.6h0M351.1 259.3h0M352.8 248.4h0M360.0 241.4h0M352.0 253.7h0M337.6 256.1h0M340.5 246.4h0M355.8 270.0h0M347.7 267.3h0M361.6 240.3h0M359.1 248.3h0M353.6 245.3h0M344.6 239.8h0M353.8 250.8h0M336.8 253.4h0M356.4 236.6h0M364.8 264.0h0M350.9 255.6h0M356.7 271.0h0M342.9 264.1h0M341.2 254.5h0M342.7 244.0h0M343.2 276.6h0M348.7 247.4h0M352.6 244.5h0M356.6 263.2h0M353.8 265.9h0M348.9 269.7h0M361.3 261.3h0M358.7 241.9h0M363.4 249.8h0M351.7 240.9h0M351.6 275.9h0M348.0 275.1h0M350.6 246.6h0M344.8 242.7h0M352.0 266.5h0M336.2 251.5h0M356.5 254.6h0M342.1 275.8h0M359.3 265.6h0M356.2 263.2h0M341.3 265.2h0M355.5 252.6h0M344.0 249.6h0M352.4 238.3h0M340.8 259.1h0M354.8 255.1h0M355.6 271.2h0M363.8 254.9h0M345.5 248.8h0M354.3 250.7h0M346.1 258.0h0M349.6 266.9h0M346.9 248.4h0M363.6 248.7h0M354.9 254.1h0M343.3 245.0h0M344.3 242.6h0M344.6 265.2h0M359.1 263.5h0M352.7 264.7h0" stroke="#7a8edc" stroke-width="0.60" stroke-linecap="square" fill="none" opacity="1.0"/><path d="M348.5 277.7h0M359.2 256.7h0M341.4 248.0h0M343.0 267.5h0M361.0 259.7h0M349.4 254.2h0M355.8 245.8h0M340.0 252.3h0M340.4 247.0h0M361.3 258.8h0M360.5 265.1h0M352.6 262.9h0M351.4 275.7h0M345.1 265.0h0M346.5 243.7h0M367.4 254.1h0M359.5 248.8h0M347.5 261.6h0M356.2 242.7h0M358.3 259.2h0M353.5 265.0h0M346.6 252.4h0M345.8 245.7h0M360.6 267.8h0M359.3 240.1h0M356.9 270.7h0M353.5 256.1h0M355.8 268.7h0M358.4 244.4h0M350.7 262.1h0M352.7 278.1h0M356.2 250.0h0M343.7 258.4h0M363.1 248.8h0M348.2 260.4h0M353.1 253.2h0M348.9 246.1h0M349.0 262.1h0M352.2 252.6h0M349.5 252.8h0M343.2 268.1h0M354.8 238.3h0M347.9 275.3h0M343.0 251.9h0M345.2 275.5h0M351.2 249.1h0M350.5 258.5h0M358.4 253.3h0M353.3 256.5h0M351.4 267.9h0M350.0 271.1h0M357.3 265.7h0M351.4 253.6h0M363.9 269.6h0M355.2 244.4h0M341.4 263.1h0M351.7 259.9h0M352.1 259.9h0M352.8 249.8h0M346.5 254.2h0M348.0 259.2h0M362.8 248.7h0M356.0 264.5h0M341.2 262.1h0M349.9 270.1h0M357.1 234.1h0M339.5 242.0h0M360.3 248.6h0M353.0 250.2h0M351.2 249.7h0M355.4 266.7h0M355.4 260.1h0M367.8 255.0h0M355.5 270.0h0M336.2 263.6h0M340.2 269.5h0M348.4 237.8h0M347.6 248.0h0M352.1 264.2h0M345.7 244.9h0M347.0 259.5h0M347.8 236.4h0M350.0 263.1h0M349.1 246.2h0M348.8 246.7h0M367.0 262.3h0M366.4 251.9h0M359.9 268.8h0M342.8 249.9h0M347.3 267.2h0M361.8 262.1h0M342.7 259.4h0M348.9 260.2h0M356.2 250.6h0M352.7 257.9h0M345.5 273.7h0M352.0 259.7h0M350.9 259.2h0M363.8 265.0h0M361.4 250.4h0M368.2 261.0h0M363.1 269.2h0M354.3 267.6h0M359.7 258.4h0M347.2 262.2h0M338.9 272.0h0M355.4 259.5h0M351.4 263.8h0M341.3 249.0h0M354.7 263.0h0M354.8 251.9h0M359.0 262.2h0M343.1 257.8h0M367.2 256.9h0M349.1 251.1h0M361.5 254.5h0M358.8 255.2h0M357.0 252.2h0M347.7 249.3h0M362.1 256.2h0M349.9 242.4h0M353.2 249.5h0M343.6 240.1h0M353.9 252.4h0M355.5 259.7h0M356.7 271.4h0M362.0 258.8h0M348.0 264.2h0M348.4 272.8h0M349.9 250.5h0M335.3 254.6h0M341.9 259.8h0M354.9 253.0h0M344.5 257.5h0M349.6 244.1h0M355.8 265.5h0M350.3 253.3h0M349.1 257.6h0M348.2 246.5h0M341.0 244.9h0M351.8 269.3h0M338.4 250.1h0M342.3 254.0h0M365.9 251.6h0M349.0 267.7h0M346.5 257.4h0M361.4 240.8h0M344.9 276.1h0M354.7 267.4h0M348.4 246.8h0M356.8 245.5h0M364.5 267.9h0M355.4 250.8h0M360.2 245.2h0M349.0 272.1h0M341.9 269.4h0M342.1 244.3h0M349.5 257.7h0M352.5 254.3h0M352.8 248.7h0M356.0 260.6h0M358.5 251.8h0M360.2 261.8h0M365.7 258.4h0M350.1 249.2h0M360.3 263.9h0M345.5 275.3h0M366.1 269.1h0M361.2 274.8h0M356.9 256.8h0M354.4 253.9h0M345.6 266.5h0M340.6 248.1h0M361.4 268.9h0M355.4 253.0h0M345.8 249.0h0M350.1 268.2h0M355.9 254.0h0M368.5 259.4h0M354.3 258.8h0M338.6 266.8h0M351.5 241.8h0M350.2 251.5h0M351.2 245.5h0M347.9 256.2h0M352.5 249.6h0M353.8 260.1h0M337.4 251.1h0M352.8 260.4h0M351.6 255.5h0M357.3 258.4h0M353.4 261.9h0M351.1 260.9h0M342.6 241.8h0M353.7 269.3h0M363.1 256.2h0M360.1 264.5h0M352.7 251.2h0M354.7 261.2h0M366.5 261.5h0M347.6 250.9h0M351.2 257.1h0M351.6 250.2h0M366.2 250.7h0M341.8 274.0h0M352.8 265.3h0M348.9 255.4h0M345.8 260.8h0M356.6 256.9h0M353.4 246.7h0M358.2 258.0h0M342.0 249.3h0M348.2 264.9h0M358.4 269.6h0M351.4 266.3h0M353.6 264.1h0M347.5 257.4h0M343.3 266.0h0M363.8 271.9h0M350.4 246.2h0M341.3 270.9h0M350.7 261.1h0M345.3 257.9h0M348.1 243.6h0M350.0 254.1h0M349.0 272.2h0M368.4 263.2h0M365.7 259.8h0M363.8 256.8h0M344.8 264.4h0M353.4 256.1h0M352.3 255.5h0M360.6 247.3h0M352.2 260.5h0M348.0 274.2h0M349.7 234.6h0M354.4 247.7h0M353.4 261.5h0M364.3 244.9h0M352.6 238.3h0M356.2 270.7h0M349.9 241.0h0M348.7 266.8h0M361.2 254.6h0M342.3 251.3h0M341.2 258.6h0M367.8 250.7h0M356.3 238.8h0" stroke="#4a64cc" stroke-width="0.60" stroke-linecap="square" fill="none" opacity="1.0"/><g filter="url(#bl2)"><ellipse cx="353.50" cy="219.50" rx="13.00" ry="6.30" transform="rotate(-32 353.50 219.50)" fill="#2d4cc2" opacity="1"/><ellipse cx="354.80" cy="258.00" rx="12.70" ry="21.30" transform="rotate(0 354.80 258.00)" fill="#2d4cc2" opacity="1"/><rect x="342.60" y="259.00" width="24.90" height="26.00" rx="2" fill="#2d4cc2"/></g><g filter="url(#bl)"><ellipse cx="358.00" cy="216.50" rx="7.00" ry="4.00" transform="rotate(-40 358.00 216.50)" fill="#2e7ee8" opacity="1"/><ellipse cx="359.20" cy="215.50" rx="5.20" ry="3.00" transform="rotate(-40 359.20 215.50)" fill="#2ad0e0" opacity="1"/><ellipse cx="360.00" cy="215.00" rx="3.50" ry="2.20" transform="rotate(-40 360.00 215.00)" fill="#5cd050" opacity="1"/><ellipse cx="358.40" cy="259.00" rx="7.80" ry="16.10" transform="rotate(0 358.40 259.00)" fill="#2e7ee8" opacity="1"/><ellipse cx="358.50" cy="259.00" rx="7.05" ry="15.30" transform="rotate(0 358.50 259.00)" fill="#2ad0e0" opacity="1"/><ellipse cx="359.10" cy="260.10" rx="5.25" ry="10.50" transform="rotate(0 359.10 260.10)" fill="#5cd050" opacity="1"/><ellipse cx="359.70" cy="262.00" rx="3.50" ry="7.60" transform="rotate(0 359.70 262.00)" fill="#f2e232" opacity="1"/><ellipse cx="359.60" cy="262.00" rx="2.70" ry="6.40" transform="rotate(0 359.60 262.00)" fill="#f48a20" opacity="1"/><ellipse cx="359.45" cy="261.90" rx="2.05" ry="5.30" transform="rotate(0 359.45 261.90)" fill="#e52418" opacity="1"/></g>
<rect x="336.00" y="201" width="40.00" height="11.5" fill="#fff" opacity="0.72"/>
</g>
<rect x="303.00" y="200.0" width="75" height="74.40" fill="none" stroke="#231f20" stroke-width="1"/>
<path d="M334.00,200.0 V233.5 H378.00" fill="none" stroke="#231f20" stroke-width="0.9"/>
<text x="356.00" y="205.50" font-size="4.9" text-anchor="middle" font-weight="normal" fill="#231f20" style="stroke-width:0">CD8 Tetramer+</text>
<text x="356.00" y="212.00" font-size="5.2" text-anchor="middle" font-weight="normal" fill="#231f20" style="stroke-width:0.05px">10.9</text>
<line x1="300.80" y1="207.30" x2="303.00" y2="207.30" stroke="#231f20" stroke-width="0.8"/>
<text x="297.60" y="209.90" font-size="6.8" text-anchor="end" fill="#231f20" style="stroke-width:0.06px">10<tspan font-size="4.8" dy="-2.9">5</tspan></text>
<line x1="300.80" y1="224.80" x2="303.00" y2="224.80" stroke="#231f20" stroke-width="0.8"/>
<text x="297.60" y="227.40" font-size="6.8" text-anchor="end" fill="#231f20" style="stroke-width:0.06px">10<tspan font-size="4.8" dy="-2.9">4</tspan></text>
<line x1="300.80" y1="244.60" x2="303.00" y2="244.60" stroke="#231f20" stroke-width="0.8"/>
<text x="297.60" y="247.20" font-size="6.8" text-anchor="end" fill="#231f20" style="stroke-width:0.06px">10<tspan font-size="4.8" dy="-2.9">3</tspan></text>
<line x1="300.80" y1="257.30" x2="303.00" y2="257.30" stroke="#231f20" stroke-width="0.8"/>
<text x="294.40" y="259.90" font-size="6.8" text-anchor="end" font-weight="normal" fill="#231f20" style="stroke-width:0.06px">0</text>
<line x1="300.80" y1="268.80" x2="303.00" y2="268.80" stroke="#231f20" stroke-width="0.8"/>
<text x="297.60" y="271.40" font-size="6.8" text-anchor="end" fill="#231f20" style="stroke-width:0.06px">−10<tspan font-size="4.8" dy="-2.9">3</tspan></text>
<line x1="301.80" y1="219.53" x2="303.00" y2="219.53" stroke="#231f20" stroke-width="0.6"/>
<line x1="301.80" y1="216.45" x2="303.00" y2="216.45" stroke="#231f20" stroke-width="0.6"/>
<line x1="301.80" y1="214.26" x2="303.00" y2="214.26" stroke="#231f20" stroke-width="0.6"/>
<line x1="301.80" y1="212.57" x2="303.00" y2="212.57" stroke="#231f20" stroke-width="0.6"/>
<line x1="301.80" y1="211.18" x2="303.00" y2="211.18" stroke="#231f20" stroke-width="0.6"/>
<line x1="301.80" y1="210.01" x2="303.00" y2="210.01" stroke="#231f20" stroke-width="0.6"/>
<line x1="301.80" y1="209.00" x2="303.00" y2="209.00" stroke="#231f20" stroke-width="0.6"/>
<line x1="301.80" y1="208.10" x2="303.00" y2="208.10" stroke="#231f20" stroke-width="0.6"/>
<line x1="301.80" y1="238.64" x2="303.00" y2="238.64" stroke="#231f20" stroke-width="0.6"/>
<line x1="301.80" y1="235.15" x2="303.00" y2="235.15" stroke="#231f20" stroke-width="0.6"/>
<line x1="301.80" y1="232.68" x2="303.00" y2="232.68" stroke="#231f20" stroke-width="0.6"/>
<line x1="301.80" y1="230.76" x2="303.00" y2="230.76" stroke="#231f20" stroke-width="0.6"/>
<line x1="301.80" y1="229.19" x2="303.00" y2="229.19" stroke="#231f20" stroke-width="0.6"/>
<line x1="301.80" y1="227.87" x2="303.00" y2="227.87" stroke="#231f20" stroke-width="0.6"/>
<line x1="301.80" y1="226.72" x2="303.00" y2="226.72" stroke="#231f20" stroke-width="0.6"/>
<line x1="301.80" y1="225.71" x2="303.00" y2="225.71" stroke="#231f20" stroke-width="0.6"/>
<rect x="300.70" y="256.2" width="2.3" height="2.3" fill="#000"/>
<line x1="307.60" y1="274.40" x2="307.60" y2="276.60" stroke="#231f20" stroke-width="0.8"/>
<text x="307.40" y="285.1" font-size="6.8" text-anchor="middle" fill="#231f20" style="stroke-width:0.06px">−10<tspan font-size="4.8" dy="-2.9">3</tspan></text>
<line x1="319.50" y1="274.40" x2="319.50" y2="276.60" stroke="#231f20" stroke-width="0.8"/>
<text x="321.20" y="285.10" font-size="6.8" text-anchor="middle" font-weight="normal" fill="#231f20" style="stroke-width:0.06px">0</text>
<line x1="332.20" y1="274.40" x2="332.20" y2="276.60" stroke="#231f20" stroke-width="0.8"/>
<text x="333.50" y="285.1" font-size="6.8" text-anchor="middle" fill="#231f20" style="stroke-width:0.06px">10<tspan font-size="4.8" dy="-2.9">3</tspan></text>
<line x1="352.20" y1="274.40" x2="352.20" y2="276.60" stroke="#231f20" stroke-width="0.8"/>
<text x="354.50" y="285.1" font-size="6.8" text-anchor="middle" fill="#231f20" style="stroke-width:0.06px">10<tspan font-size="4.8" dy="-2.9">4</tspan></text>
<line x1="371.50" y1="274.40" x2="371.50" y2="276.60" stroke="#231f20" stroke-width="0.8"/>
<text x="371.80" y="285.1" font-size="6.8" text-anchor="middle" fill="#231f20" style="stroke-width:0.06px">10<tspan font-size="4.8" dy="-2.9">5</tspan></text>
<line x1="338.22" y1="274.40" x2="338.22" y2="275.60" stroke="#231f20" stroke-width="0.6"/>
<line x1="341.74" y1="274.40" x2="341.74" y2="275.60" stroke="#231f20" stroke-width="0.6"/>
<line x1="344.24" y1="274.40" x2="344.24" y2="275.60" stroke="#231f20" stroke-width="0.6"/>
<line x1="346.18" y1="274.40" x2="346.18" y2="275.60" stroke="#231f20" stroke-width="0.6"/>
<line x1="347.76" y1="274.40" x2="347.76" y2="275.60" stroke="#231f20" stroke-width="0.6"/>
<line x1="349.10" y1="274.40" x2="349.10" y2="275.60" stroke="#231f20" stroke-width="0.6"/>
<line x1="350.26" y1="274.40" x2="350.26" y2="275.60" stroke="#231f20" stroke-width="0.6"/>
<line x1="351.28" y1="274.40" x2="351.28" y2="275.60" stroke="#231f20" stroke-width="0.6"/>
<line x1="358.01" y1="274.40" x2="358.01" y2="275.60" stroke="#231f20" stroke-width="0.6"/>
<line x1="361.41" y1="274.40" x2="361.41" y2="275.60" stroke="#231f20" stroke-width="0.6"/>
<line x1="363.82" y1="274.40" x2="363.82" y2="275.60" stroke="#231f20" stroke-width="0.6"/>
<line x1="365.69" y1="274.40" x2="365.69" y2="275.60" stroke="#231f20" stroke-width="0.6"/>
<line x1="367.22" y1="274.40" x2="367.22" y2="275.60" stroke="#231f20" stroke-width="0.6"/>
<line x1="368.51" y1="274.40" x2="368.51" y2="275.60" stroke="#231f20" stroke-width="0.6"/>
<line x1="369.63" y1="274.40" x2="369.63" y2="275.60" stroke="#231f20" stroke-width="0.6"/>
<line x1="370.62" y1="274.40" x2="370.62" y2="275.60" stroke="#231f20" stroke-width="0.6"/>
<rect x="318.40" y="274.40" width="2.3" height="2.3" fill="#000"/>
<text x="340.75" y="296.50" font-size="8.0" text-anchor="middle" font-weight="normal" fill="#231f20" textLength="88.5" lengthAdjust="spacingAndGlyphs" class="cd" >Comp-U740_35-A :: CD8 - BUV737</text>
<text transform="translate(276.80,236.9) rotate(-90)" font-size="8.2" text-anchor="middle" fill="#231f20" textLength="86" lengthAdjust="spacingAndGlyphs" class="cd">Comp-Y586_15-A :: Tetramer - PE</text>
<text x="468.90" y="195.80" font-size="7.5" text-anchor="middle" font-weight="normal" fill="#231f20" >Day 189</text>
<g clip-path="url(#cp3)">
<path d="M480.3 216.5h0M479.6 219.1h0M478.2 225.6h0M493.8 215.1h0M483.3 222.8h0M476.3 221.7h0M481.5 224.6h0M479.4 218.8h0M494.0 218.7h0M482.6 218.6h0M480.8 225.0h0M486.4 216.8h0M488.0 217.8h0M474.4 225.0h0M482.8 229.9h0M488.3 213.1h0M480.8 222.6h0M473.5 223.7h0M481.7 223.4h0M481.7 219.0h0M486.9 222.9h0M484.7 219.4h0M475.6 223.5h0M479.4 215.4h0M487.6 222.5h0M480.5 227.3h0M472.3 225.9h0M479.3 215.6h0M477.8 229.4h0M481.9 226.4h0M476.4 227.7h0M477.9 227.0h0M489.1 219.3h0M486.2 224.0h0M483.6 217.2h0M488.7 212.4h0M478.7 225.6h0M486.7 216.7h0M479.6 219.7h0M493.3 222.1h0M480.8 226.6h0M481.8 223.3h0M480.0 217.9h0M475.0 226.4h0M488.5 220.3h0M480.4 224.2h0M484.2 213.0h0M485.9 220.8h0M490.2 219.8h0M482.2 219.6h0M478.0 217.5h0M485.2 221.1h0" stroke="#5a74d4" stroke-width="0.60" stroke-linecap="square" fill="none" opacity="1.0"/><path d="M494.9 219.8h0M487.0 213.0h0M484.0 222.2h0M488.4 221.0h0M488.8 215.3h0M491.5 220.9h0M481.2 219.8h0M482.0 220.1h0M476.1 223.6h0M474.1 221.0h0M494.7 218.9h0M488.3 223.0h0M487.0 226.1h0M482.2 216.0h0M482.4 218.0h0M489.9 216.1h0M487.9 217.2h0M488.2 213.1h0M478.5 227.5h0M487.2 214.6h0M485.8 218.3h0M477.3 224.4h0M489.6 218.3h0M490.1 222.2h0M474.0 225.7h0M475.3 222.9h0M482.3 226.2h0M479.0 225.8h0M483.6 228.4h0M478.9 219.4h0M481.0 224.5h0M479.4 222.0h0M489.8 222.9h0" stroke="#4a64cc" stroke-width="0.60" stroke-linecap="square" fill="none" opacity="1.0"/><path d="M485.6 220.7h0M490.5 218.1h0M485.8 225.3h0M483.4 225.1h0M481.8 218.3h0M483.2 225.4h0M474.6 219.5h0M473.6 220.7h0M488.6 222.5h0M489.7 222.0h0M485.1 224.4h0M481.8 221.5h0M482.2 218.1h0M487.3 212.9h0M480.3 222.6h0M494.5 218.8h0M490.0 222.2h0M480.5 223.4h0M484.3 224.8h0M482.3 218.1h0M482.2 224.0h0M490.9 220.1h0M480.9 225.2h0M482.2 222.7h0M474.6 229.4h0M489.7 217.9h0M484.6 223.6h0M482.4 219.6h0M474.1 225.4h0M481.9 226.9h0M484.6 215.1h0M483.4 221.9h0M485.6 221.6h0M478.6 225.8h0M481.1 218.1h0M486.1 224.5h0M491.5 212.9h0" stroke="#7a8edc" stroke-width="0.60" stroke-linecap="square" fill="none" opacity="1.0"/><path d="M493.4 222.2h0M490.0 211.9h0M485.1 228.7h0M479.6 228.3h0M482.6 220.8h0M492.7 215.6h0M484.7 225.6h0M487.4 217.3h0M484.6 219.9h0M484.4 221.2h0M485.8 213.3h0M480.7 218.4h0M473.9 228.1h0M488.8 224.2h0M480.1 221.1h0M475.9 217.8h0M484.5 219.4h0M479.6 226.4h0M479.4 218.3h0M485.9 219.9h0M486.2 216.0h0M480.7 215.3h0M482.8 217.1h0M482.9 224.6h0M487.0 221.2h0M484.3 221.3h0M490.6 221.6h0M477.6 219.0h0M477.6 218.8h0M490.6 224.9h0M476.5 218.6h0M481.6 222.4h0M486.8 222.5h0M486.4 226.7h0M483.5 226.7h0M484.1 220.7h0M481.4 221.8h0M488.7 212.8h0M484.1 216.2h0M481.6 220.1h0M478.2 223.3h0M480.8 225.3h0M480.2 222.8h0M485.6 213.8h0M483.4 221.8h0M484.9 214.8h0M481.4 223.4h0M484.0 227.4h0M478.3 225.8h0M480.1 219.7h0M482.1 220.5h0M476.4 220.5h0M481.5 226.5h0M489.5 217.9h0M489.9 221.4h0M490.1 224.0h0M486.2 221.4h0M487.6 221.5h0" stroke="#98a8e4" stroke-width="0.60" stroke-linecap="square" fill="none" opacity="1.0"/><path d="M480.8 260.1h0M486.1 252.8h0M491.1 255.5h0M485.6 255.3h0M472.0 253.9h0M485.6 258.5h0M482.7 242.7h0M471.7 249.6h0M479.7 270.5h0M481.3 248.5h0M482.4 247.2h0M485.5 263.0h0M477.6 268.0h0M473.6 262.1h0M480.5 270.0h0M494.0 260.5h0M479.2 255.1h0M470.2 243.0h0M483.8 240.0h0M493.7 257.6h0M475.2 249.9h0M481.4 255.5h0M478.1 264.3h0M479.6 245.5h0M466.8 250.2h0M489.3 255.4h0M496.4 252.0h0M482.0 261.5h0M487.5 261.2h0M478.1 254.6h0M489.0 254.3h0M478.9 258.7h0M479.0 234.3h0M485.7 241.0h0M484.8 256.6h0M487.6 249.0h0M484.0 263.8h0M485.9 256.4h0M484.2 251.5h0M482.9 269.6h0M491.8 249.8h0M484.6 241.8h0M490.8 271.0h0M488.2 250.5h0M483.1 255.1h0M472.9 265.4h0M482.3 277.2h0M487.0 250.7h0M476.0 262.3h0M482.9 247.6h0M473.9 275.8h0M496.8 256.3h0M473.3 260.9h0M472.2 267.7h0M476.1 269.7h0M482.1 262.1h0M476.1 250.6h0M472.0 236.7h0M484.4 263.8h0M485.0 257.8h0M481.1 263.1h0M487.0 273.7h0M489.5 253.5h0M490.9 270.6h0M479.6 247.3h0M476.9 259.1h0M476.3 252.1h0M473.6 247.6h0M484.6 264.7h0M481.7 260.4h0M487.0 239.4h0M481.9 255.8h0M485.2 261.1h0M472.3 244.8h0M481.3 239.0h0M472.9 260.6h0M473.6 261.2h0M472.3 250.1h0M492.8 249.7h0M487.5 259.2h0M481.5 264.6h0M478.8 264.9h0M477.7 256.3h0M474.3 252.7h0M487.2 256.7h0M476.7 256.8h0M471.5 248.6h0M482.6 270.0h0M473.2 245.5h0M482.6 249.5h0M487.2 239.7h0M476.4 270.6h0M492.8 238.0h0M486.6 253.8h0M474.0 261.9h0M484.7 246.8h0M483.6 275.3h0M492.8 269.8h0M476.9 258.1h0M480.7 265.0h0M478.4 259.0h0M489.5 245.9h0M473.0 242.3h0M473.0 251.3h0M491.1 256.7h0M480.5 249.7h0M484.9 246.6h0M487.9 245.2h0M469.6 247.6h0M485.6 259.4h0M478.1 253.8h0M489.0 254.7h0M476.0 258.7h0M480.0 247.8h0M486.0 238.2h0M482.8 245.1h0M475.4 264.5h0M483.7 256.9h0M481.4 248.5h0M482.0 244.8h0M488.7 275.6h0M475.6 252.9h0M471.0 257.5h0M482.2 245.3h0M481.0 257.8h0M481.1 275.2h0M488.0 266.4h0M469.9 252.1h0M468.5 252.3h0M483.5 253.5h0M483.5 269.1h0M481.4 238.7h0M476.3 264.6h0M482.7 237.3h0M471.3 248.9h0M481.0 256.1h0M477.5 255.2h0M475.0 261.2h0M479.7 267.9h0M481.0 246.7h0M491.6 251.5h0M485.6 269.6h0M482.5 245.6h0M480.5 270.6h0M498.2 258.3h0M492.0 255.4h0M472.0 262.9h0M472.4 257.8h0M483.8 264.4h0M471.8 263.0h0M484.8 251.5h0M476.4 240.0h0M485.0 269.5h0M480.8 253.6h0M475.1 276.4h0M478.6 241.9h0M471.1 268.8h0M483.1 255.7h0M482.7 260.6h0M478.0 246.6h0M484.9 241.1h0M493.0 262.9h0M490.2 271.5h0M489.7 251.5h0M482.7 259.0h0M486.3 261.0h0M488.9 253.2h0M471.6 237.3h0M472.5 255.7h0M477.6 249.9h0M492.0 248.2h0M471.8 243.1h0M496.5 249.3h0M470.9 257.5h0M485.9 235.8h0M491.2 241.9h0M483.3 241.7h0M478.8 254.1h0M487.0 251.3h0M491.4 260.8h0M481.0 250.3h0M473.6 244.5h0M486.4 256.6h0M486.9 270.6h0M478.4 251.1h0M486.3 255.8h0M492.3 255.9h0M474.4 250.0h0M478.1 238.5h0M487.0 251.4h0M479.3 265.7h0M474.0 249.7h0M468.1 252.7h0M479.6 251.0h0M477.0 261.9h0M480.0 275.0h0M471.4 260.3h0M487.4 242.0h0M483.3 249.4h0M479.9 273.1h0M487.1 256.8h0M484.6 266.6h0M487.4 250.0h0M481.0 275.1h0M485.7 245.8h0M481.7 253.3h0M476.2 254.0h0M476.7 252.8h0M480.1 244.8h0M481.7 236.4h0M477.3 248.8h0M489.4 252.0h0M477.7 249.8h0M482.5 268.1h0M469.3 239.6h0M494.8 249.8h0M481.4 271.9h0M491.7 265.3h0M477.7 256.3h0M478.8 266.2h0M479.7 261.0h0M469.5 241.1h0M484.0 265.1h0M481.0 255.1h0M476.4 267.5h0M491.1 256.4h0M483.0 267.3h0M487.8 239.1h0M469.5 244.4h0M487.1 272.2h0M476.9 269.3h0M475.1 239.2h0M487.4 272.5h0M472.9 247.5h0M483.8 262.3h0M485.4 245.5h0M481.9 259.6h0M491.8 250.8h0M479.1 259.0h0M490.0 264.5h0M474.8 260.8h0M481.4 261.2h0M466.0 260.7h0M480.2 254.5h0M469.0 250.6h0M491.8 256.8h0M486.0 263.5h0M486.6 250.0h0M480.8 251.0h0M478.7 239.1h0M488.1 242.1h0M486.5 278.7h0M481.6 266.3h0M496.9 260.9h0M484.9 255.5h0M476.2 258.4h0M476.7 265.8h0M473.3 238.9h0M485.1 261.0h0M481.2 235.3h0M488.4 255.7h0M481.5 256.4h0M488.8 245.1h0M478.2 250.4h0M471.9 250.3h0M479.0 263.9h0M480.6 262.8h0M471.6 251.9h0M474.7 259.3h0M483.7 278.3h0M493.1 256.7h0M482.5 262.2h0M478.9 242.0h0M469.6 270.5h0M494.6 268.8h0M495.6 250.0h0M484.7 237.2h0M486.3 237.4h0M487.0 266.8h0M489.4 257.7h0M467.4 258.2h0M466.5 249.2h0M481.5 263.2h0M479.4 240.6h0M477.3 260.3h0M476.3 238.9h0M498.1 260.1h0M483.1 254.6h0M473.7 255.5h0M472.9 267.6h0M480.9 252.9h0M491.5 256.6h0M471.0 245.0h0M489.4 262.3h0M481.4 257.0h0M476.3 254.8h0M477.1 254.6h0M466.4 248.6h0M474.0 254.2h0M491.1 240.8h0M478.6 234.4h0" stroke="#5a74d4" stroke-width="0.60" stroke-linecap="square" fill="none" opacity="1.0"/><path d="M478.3 260.6h0M487.4 254.5h0M471.1 264.1h0M475.9 272.5h0M477.0 247.3h0M472.4 263.0h0M482.1 247.3h0M488.9 276.5h0M469.8 267.6h0M469.9 250.0h0M484.1 260.3h0M495.4 265.3h0M470.2 267.7h0M474.1 251.6h0M487.3 265.7h0M483.2 265.0h0M488.6 274.6h0M477.7 259.0h0M471.7 246.7h0M478.1 235.2h0M479.4 249.0h0M482.4 259.5h0M474.7 243.3h0M478.7 274.0h0M491.0 255.2h0M480.6 267.5h0M485.2 241.3h0M474.0 260.2h0M487.0 239.6h0M479.3 263.7h0M482.4 247.8h0M492.4 253.3h0M484.0 246.0h0M489.6 261.4h0M484.9 264.6h0M491.3 257.0h0M482.1 270.2h0M475.2 247.1h0M479.8 250.5h0M482.8 266.6h0M481.2 258.6h0M482.3 261.1h0M470.5 253.1h0M491.6 272.5h0M479.1 243.5h0M490.8 249.0h0M490.0 242.7h0M486.5 262.8h0M492.8 263.3h0M471.4 256.5h0M482.0 267.0h0M480.7 263.6h0M476.8 262.7h0M478.4 243.4h0M484.8 273.8h0M476.7 245.2h0M489.9 265.7h0M474.6 267.2h0M492.1 256.8h0M474.5 264.8h0M482.3 244.5h0M480.8 263.7h0M485.7 233.9h0M488.8 257.2h0M487.7 260.7h0M477.7 247.8h0M471.3 260.2h0M478.7 252.9h0M471.5 242.6h0M476.4 240.5h0M475.6 257.7h0M474.9 270.7h0M482.7 263.2h0M476.7 267.5h0M493.4 255.8h0M477.5 256.0h0M475.5 274.0h0M484.1 258.3h0M485.6 272.9h0M482.5 267.5h0M487.4 258.0h0M481.9 243.0h0M471.6 257.5h0M477.7 272.8h0M482.2 245.3h0M484.0 254.8h0M473.1 257.6h0M482.2 245.2h0M478.7 247.7h0M486.1 254.6h0M484.9 263.8h0M479.4 237.1h0M476.9 253.6h0M475.4 270.4h0M480.1 240.6h0M484.8 247.6h0M475.8 244.5h0M486.7 271.0h0M471.6 251.7h0M488.3 258.7h0M479.3 264.7h0M481.7 258.0h0M481.2 263.1h0M484.9 266.4h0M480.2 246.6h0M474.8 253.9h0M472.4 253.3h0M489.8 267.4h0M477.4 264.2h0M485.6 263.1h0M494.4 255.0h0M469.3 261.4h0M482.7 250.2h0M484.0 267.5h0M483.1 266.9h0M482.3 256.6h0M490.9 260.2h0M484.7 241.6h0M485.2 262.4h0M478.1 242.8h0M485.9 265.6h0M481.2 264.0h0M480.8 263.5h0M482.0 275.7h0M468.0 246.8h0M480.6 276.5h0M475.5 260.0h0M478.5 265.1h0M485.1 267.5h0M488.3 252.7h0M474.4 254.5h0M477.2 257.6h0M476.5 252.3h0M478.6 262.7h0M486.4 261.7h0M468.1 269.1h0M480.2 253.2h0M474.6 246.8h0M477.7 258.7h0M471.5 248.9h0M483.6 247.4h0M477.4 254.3h0M471.1 248.5h0M473.0 255.9h0M479.9 260.2h0M481.4 266.7h0M482.1 266.9h0M488.0 250.6h0M468.8 242.8h0M484.2 270.9h0M490.7 250.9h0M470.0 258.7h0M477.6 252.1h0M492.4 248.5h0M471.2 245.0h0M477.7 273.1h0M478.7 252.3h0M495.7 249.1h0M488.4 253.9h0M477.9 247.9h0M481.6 242.8h0M487.5 264.0h0M474.8 241.4h0M491.6 259.2h0M472.3 256.9h0M483.8 259.0h0M474.6 254.2h0M476.9 258.9h0M491.8 250.4h0M484.9 258.3h0M476.0 257.9h0M482.3 274.0h0M474.6 253.8h0M492.9 245.0h0M488.0 253.9h0M490.4 247.7h0M490.2 272.5h0M486.5 257.7h0M473.9 244.6h0M493.9 263.3h0M486.0 251.0h0M473.0 243.0h0M466.0 256.3h0M476.2 267.6h0M478.0 254.7h0M484.4 276.0h0M476.3 256.7h0M477.9 251.7h0M470.7 270.3h0M486.6 265.2h0M491.7 257.9h0M472.5 252.1h0M493.3 257.8h0M484.3 265.2h0M493.6 258.3h0M476.2 251.2h0M482.3 245.5h0M475.8 267.7h0M485.5 261.8h0M476.8 278.3h0M488.6 267.9h0M482.9 240.0h0M490.3 245.7h0M493.6 253.6h0M473.0 258.7h0M479.2 266.7h0M473.1 254.1h0M484.5 249.3h0M473.1 246.6h0M476.5 240.0h0M482.0 253.4h0M483.2 262.8h0M481.8 243.5h0M481.9 252.6h0M489.3 247.7h0M480.5 259.5h0M482.5 254.3h0M475.1 251.4h0M488.4 259.5h0M479.6 265.2h0M481.4 250.7h0M492.3 242.4h0M475.8 239.2h0M466.6 264.0h0M475.5 260.2h0M476.0 250.4h0M486.0 260.8h0M490.8 254.4h0M493.0 263.5h0M495.6 253.9h0M472.8 267.5h0M484.9 246.2h0M480.6 249.8h0M494.7 249.5h0M476.6 249.6h0M492.4 265.2h0M477.7 262.0h0M488.3 253.5h0M483.7 244.8h0M488.1 267.0h0M479.4 257.8h0M476.9 247.1h0M474.6 260.8h0M487.3 243.1h0M477.3 249.1h0M479.1 267.7h0M476.4 251.1h0M480.2 257.3h0M479.7 270.8h0M474.6 272.8h0M472.1 270.2h0M474.0 250.0h0M474.8 262.6h0M480.2 259.2h0M491.0 257.5h0M481.7 257.1h0M475.1 268.4h0M484.6 260.1h0M485.9 264.8h0M494.3 240.4h0M480.3 251.7h0M489.0 250.4h0M483.5 255.3h0M482.5 256.3h0M473.8 249.0h0M469.6 260.3h0M478.9 245.3h0M487.8 261.5h0M495.0 242.2h0M480.4 245.4h0M485.8 256.0h0M494.8 250.8h0M481.6 247.2h0M484.0 237.4h0M497.4 249.4h0M469.8 254.7h0M486.1 249.8h0M488.4 246.0h0M466.7 256.4h0M483.0 262.0h0M465.1 256.3h0M474.7 253.4h0M479.3 261.9h0M487.6 252.5h0M487.9 247.6h0M487.8 249.7h0M491.1 264.7h0M484.0 254.0h0M480.4 265.0h0M481.1 255.8h0M465.9 257.7h0M488.4 267.2h0M468.8 249.9h0M480.9 268.1h0M483.8 265.0h0M479.9 265.3h0M487.1 260.1h0M483.6 263.8h0M472.8 270.8h0M479.5 252.4h0M477.4 265.6h0M482.1 252.5h0M484.1 263.8h0M484.1 234.4h0M482.9 266.9h0M481.2 258.8h0M473.9 255.1h0" stroke="#4a64cc" stroke-width="0.60" stroke-linecap="square" fill="none" opacity="1.0"/><path d="M490.7 254.8h0M476.5 243.3h0M474.9 261.8h0M476.3 250.2h0M479.7 238.2h0M487.9 257.3h0M475.8 276.8h0M472.1 245.0h0M489.4 255.5h0M481.1 269.7h0M474.3 266.9h0M481.9 259.9h0M477.6 259.3h0M484.2 254.0h0M477.1 258.8h0M487.5 271.0h0M488.5 250.4h0M475.1 247.6h0M472.6 255.7h0M488.4 267.0h0M481.3 266.1h0M487.2 250.5h0M485.2 267.4h0M485.0 278.4h0M489.6 254.0h0M468.8 266.9h0M478.6 246.4h0M476.2 270.5h0M492.4 266.5h0M487.0 265.1h0M476.2 272.9h0M478.2 251.3h0M471.8 257.5h0M472.4 237.9h0M474.8 252.6h0M478.2 254.1h0M481.9 251.9h0M477.7 265.3h0M482.0 265.3h0M487.3 257.2h0M475.8 248.4h0M481.3 274.4h0M489.5 252.2h0M487.5 255.8h0M497.3 255.7h0M486.9 248.8h0M482.9 243.3h0M487.7 239.7h0M481.6 245.3h0M477.4 274.8h0M471.1 267.5h0M473.3 259.1h0M477.2 244.1h0M484.4 272.3h0M470.0 258.4h0M475.5 266.3h0M479.9 260.6h0M487.5 261.9h0M473.7 266.6h0M493.7 256.7h0M483.2 258.7h0M480.5 263.1h0M473.2 254.8h0M484.2 254.3h0M485.0 237.1h0M481.7 252.1h0M482.8 251.6h0M482.8 254.0h0M477.6 276.8h0M482.4 268.6h0M477.1 262.7h0M483.4 258.4h0M472.0 248.0h0M484.9 254.7h0M486.8 242.9h0M473.1 256.8h0M494.0 252.2h0M465.3 255.8h0M486.9 253.5h0M470.4 250.6h0M495.0 250.5h0M485.5 261.9h0M495.7 243.1h0M491.4 243.6h0M494.1 263.1h0M482.5 268.7h0M467.7 249.4h0M472.4 254.8h0M477.9 252.0h0M486.9 237.0h0M478.4 252.5h0M469.5 262.5h0M474.1 238.0h0M485.6 271.0h0M474.9 257.9h0M483.8 257.2h0M476.1 263.8h0M474.1 253.9h0M474.3 254.1h0M487.7 248.9h0M478.3 240.2h0M484.0 240.3h0M482.1 276.6h0M480.3 247.6h0M473.5 260.9h0M485.8 247.0h0M477.2 257.3h0M487.4 252.1h0M483.0 263.4h0M491.9 252.0h0M490.5 258.9h0M473.8 254.3h0M481.7 264.6h0M477.2 261.3h0M485.9 244.6h0M477.6 262.6h0M485.0 269.5h0M489.7 255.0h0M475.3 263.6h0M472.8 265.0h0M490.9 256.7h0M481.9 246.0h0M496.2 260.8h0M493.9 257.6h0M481.2 240.5h0M481.6 273.9h0M491.9 252.1h0M471.7 248.0h0M483.3 263.6h0M482.4 251.6h0M473.9 255.0h0M490.1 238.6h0M481.3 250.6h0M489.3 258.5h0M477.6 255.2h0M485.2 269.2h0M477.7 255.8h0M473.4 260.5h0M484.7 260.5h0M475.7 234.7h0M475.0 267.7h0M480.3 269.3h0M467.5 253.9h0M476.4 272.7h0M470.2 255.2h0M485.5 256.0h0M482.5 264.4h0M489.6 276.5h0M494.0 264.4h0M485.8 256.5h0M490.6 270.6h0M480.1 250.5h0M482.2 249.1h0M474.7 270.4h0M494.0 244.7h0M472.2 262.7h0M489.8 265.0h0M474.7 256.1h0M474.6 248.5h0M487.6 267.9h0M483.5 257.5h0M480.8 252.9h0M483.4 245.7h0M488.3 265.8h0M481.5 238.9h0M476.4 234.6h0M490.2 270.5h0M481.0 245.3h0M486.2 245.1h0M486.2 246.5h0M484.5 252.6h0M467.2 260.7h0M465.3 249.7h0M487.3 248.7h0M477.4 263.2h0M482.7 276.9h0M481.4 248.7h0M480.2 260.9h0M480.9 254.2h0M492.7 253.6h0M488.9 254.0h0M491.7 265.2h0M484.7 275.4h0M486.5 256.1h0M476.0 244.1h0M473.3 252.9h0M496.4 265.0h0M488.7 246.8h0M487.4 267.0h0M493.4 261.7h0M479.8 242.7h0M481.5 236.8h0M478.8 245.2h0M471.6 251.5h0M480.1 255.8h0M484.2 257.8h0M490.5 253.3h0M491.4 263.7h0M476.0 251.4h0M481.6 251.2h0M475.6 265.9h0M485.3 264.4h0M486.2 271.1h0M482.9 252.5h0M494.5 245.7h0M477.1 257.9h0M484.0 258.6h0M476.2 255.4h0M473.2 249.7h0M470.7 272.1h0M478.8 256.2h0M482.0 252.5h0M475.2 270.1h0M485.2 249.1h0M472.7 257.9h0M472.6 254.9h0M479.2 255.9h0M487.1 264.6h0M473.8 246.6h0M489.3 264.2h0M491.7 254.8h0M480.7 258.5h0M471.7 241.4h0M484.5 256.3h0M477.9 265.0h0M487.0 252.3h0M487.8 255.2h0M487.1 242.4h0M489.4 251.0h0M490.5 260.2h0M490.9 252.1h0M472.3 263.4h0M493.8 250.2h0M486.3 242.9h0M476.4 258.1h0M486.3 273.0h0M476.5 256.7h0M475.5 246.2h0M471.0 274.5h0M481.1 251.2h0M483.9 246.4h0M486.3 263.9h0M488.4 271.1h0M484.3 253.4h0M482.4 237.5h0M476.1 247.8h0M482.1 261.0h0M489.8 253.2h0M490.0 258.0h0M488.7 250.7h0M492.3 250.0h0M491.9 257.2h0M476.6 267.4h0M483.9 262.1h0M475.0 241.9h0M487.6 259.4h0M488.8 266.6h0M487.7 260.4h0M491.2 245.2h0M473.6 270.2h0M466.8 256.8h0M479.4 259.3h0M470.8 256.4h0M470.3 254.5h0M476.7 237.2h0M488.6 260.1h0M477.4 267.3h0M481.0 269.6h0M478.1 247.1h0M482.0 239.9h0M481.1 253.0h0M470.7 268.1h0M480.4 245.8h0M488.8 256.5h0M484.7 256.3h0M488.9 262.5h0M473.0 265.1h0M487.2 258.1h0M489.9 264.5h0M477.6 270.8h0M488.9 245.0h0M481.6 246.1h0M474.7 244.0h0M491.6 255.5h0M481.6 277.9h0M491.0 261.8h0M489.1 255.9h0M485.1 263.3h0M475.3 248.2h0M481.5 254.5h0M488.7 263.5h0M467.2 260.4h0M470.0 250.3h0M478.0 256.5h0M470.7 264.0h0M472.1 268.5h0M474.0 274.6h0M482.6 269.7h0M477.0 248.1h0M478.3 243.9h0M473.0 267.6h0M476.0 250.1h0M484.8 264.0h0M494.6 264.8h0M482.9 252.6h0M478.6 269.4h0M496.0 244.9h0M485.2 257.5h0M478.5 254.7h0M497.5 258.7h0M476.4 266.3h0M471.2 237.9h0M473.0 255.4h0M470.8 263.9h0M478.1 248.7h0M469.6 253.8h0M488.1 265.6h0M491.1 262.1h0M472.9 268.3h0M494.0 252.2h0M485.8 257.4h0M482.0 254.5h0M483.4 240.7h0M478.4 250.4h0M479.3 252.0h0M495.4 255.2h0M486.7 269.3h0" stroke="#7a8edc" stroke-width="0.60" stroke-linecap="square" fill="none" opacity="1.0"/><path d="M478.4 250.1h0M488.1 252.4h0M480.5 246.5h0M478.9 247.5h0M485.0 244.4h0M481.9 249.7h0M467.5 266.7h0M480.0 240.5h0M484.2 265.8h0M480.9 257.8h0M480.5 243.0h0M498.1 251.1h0M481.5 241.6h0M487.4 253.2h0M479.6 248.9h0M492.1 253.3h0M484.6 275.0h0M476.3 254.5h0M476.3 259.5h0M476.8 263.5h0M481.9 258.8h0M487.7 275.7h0M477.9 259.2h0M478.0 263.4h0M482.0 253.0h0M480.3 251.3h0M480.7 265.0h0M469.6 272.0h0M489.9 266.6h0M486.6 242.6h0M480.5 257.7h0M488.1 247.7h0M488.4 269.0h0M478.7 239.5h0M485.2 247.0h0M492.4 261.7h0M489.5 249.7h0M477.1 269.5h0M481.1 263.8h0M470.0 259.2h0M476.2 239.7h0M491.2 261.8h0M471.0 253.5h0M473.3 269.3h0M486.3 262.2h0M489.9 259.9h0M487.0 261.5h0M480.5 238.0h0M488.9 255.9h0M483.7 261.5h0M469.1 259.2h0M476.1 268.5h0M477.7 236.1h0M487.6 261.1h0M484.3 263.9h0M478.2 266.1h0M489.9 248.4h0M481.3 237.7h0M482.6 248.2h0M473.0 255.3h0M482.0 259.3h0M484.0 255.3h0M482.8 239.5h0M494.2 252.0h0M494.8 249.0h0M479.4 258.4h0M481.0 235.8h0M476.3 250.8h0M476.1 248.3h0M484.8 262.3h0M482.4 243.6h0M475.1 243.0h0M483.0 272.3h0M481.5 268.1h0M479.0 251.6h0M481.4 261.1h0M476.1 270.6h0M474.3 249.3h0M470.3 259.9h0M477.7 253.7h0M468.5 253.1h0M483.6 274.9h0M479.6 271.2h0M491.5 252.1h0M482.0 276.6h0M486.2 263.6h0M472.7 235.8h0M476.6 262.2h0M474.3 256.2h0M484.5 253.3h0M473.3 274.4h0M483.7 252.9h0M488.5 263.5h0M487.4 269.4h0M481.8 274.3h0M487.0 261.1h0M478.8 270.4h0M480.1 256.1h0M492.2 273.5h0M484.9 264.5h0M478.2 250.5h0M482.3 257.3h0M474.6 236.7h0M492.3 265.3h0M471.8 252.4h0M484.7 253.2h0M476.9 260.1h0M477.6 253.9h0M487.8 254.3h0M487.0 256.2h0M485.8 237.3h0M480.9 258.8h0M487.4 257.4h0M493.0 273.0h0M486.2 256.9h0M478.1 246.4h0M471.4 250.2h0M480.6 269.8h0M481.2 262.0h0M478.6 269.1h0M479.0 237.8h0M467.3 248.7h0M472.7 257.5h0M492.4 252.2h0M471.9 266.4h0M493.6 256.2h0M478.7 267.8h0M490.8 260.6h0M466.9 257.6h0M480.3 269.1h0M494.1 250.8h0M482.0 265.4h0M483.5 260.5h0M465.4 260.1h0M496.4 260.5h0M481.1 261.1h0M487.6 253.7h0M469.4 262.5h0M472.0 261.4h0M477.1 274.3h0M484.7 267.0h0M477.6 252.4h0M475.3 240.4h0M478.6 273.7h0M480.2 259.2h0M472.9 246.9h0M473.9 247.7h0M487.3 269.8h0M470.9 264.9h0M485.6 263.3h0M484.0 247.6h0M478.8 241.2h0M477.6 261.2h0M479.2 268.0h0M482.8 262.9h0M484.9 245.5h0M491.1 264.7h0M489.0 240.2h0M485.3 248.6h0M487.6 249.8h0M484.5 239.1h0M487.2 257.7h0M476.2 264.9h0M482.2 259.2h0M492.8 259.5h0M491.7 243.5h0M496.7 254.1h0M485.9 251.8h0M474.4 259.5h0M482.6 266.9h0M474.5 263.2h0M494.0 249.4h0M474.2 255.5h0M474.3 254.2h0M479.2 255.3h0M482.6 268.7h0M477.0 235.7h0M471.9 266.1h0M492.2 257.0h0M479.1 255.6h0M470.3 249.8h0M479.4 235.0h0M477.1 246.8h0M485.2 253.0h0M466.8 262.7h0M490.7 245.5h0M487.7 274.1h0M473.0 260.3h0M473.4 242.6h0M482.5 264.5h0M490.7 254.8h0M475.8 271.8h0M471.8 259.7h0M490.1 254.3h0M474.5 252.3h0M478.3 255.0h0M474.6 261.8h0M479.1 252.3h0M480.7 259.9h0M492.5 269.7h0M485.3 270.3h0M486.7 249.9h0M492.1 242.1h0M484.2 268.8h0M477.1 243.3h0M489.4 271.6h0M484.5 250.3h0M483.9 247.5h0M479.8 245.0h0M478.2 261.0h0M484.0 255.9h0M474.9 256.7h0M471.3 253.3h0M486.9 239.7h0M484.6 267.4h0M480.7 267.0h0M474.6 263.0h0M475.6 244.2h0M485.1 264.1h0M481.4 244.7h0M476.0 253.7h0M496.4 254.5h0M481.8 272.8h0M478.8 240.3h0M482.9 244.1h0M484.4 236.7h0M492.7 258.1h0M479.4 259.0h0M478.0 258.5h0M483.1 254.3h0M489.3 244.7h0M469.5 256.4h0M472.6 244.4h0M479.7 263.9h0M486.3 258.7h0M477.5 266.2h0M484.6 251.3h0M482.5 269.4h0M472.1 257.2h0M482.5 260.3h0M466.6 257.4h0M479.2 244.3h0M480.7 259.7h0M478.8 246.4h0M494.5 245.8h0M481.0 262.5h0M485.3 239.6h0M494.5 258.9h0M490.5 255.5h0M488.4 247.4h0M478.9 263.0h0M486.4 258.1h0M485.1 263.8h0M495.9 244.2h0M482.7 250.7h0M472.1 239.2h0M483.7 255.7h0M470.7 264.4h0M486.2 277.3h0M483.2 261.5h0M478.4 238.3h0M485.8 257.8h0M475.4 267.5h0M480.1 263.9h0M488.3 259.6h0M471.9 257.4h0M468.9 244.5h0M468.2 257.2h0M484.9 238.1h0M486.3 257.1h0M486.0 251.3h0M476.8 273.4h0M491.7 247.6h0M471.2 268.7h0M492.5 259.2h0M481.7 259.2h0M477.7 244.4h0M490.1 266.1h0M468.2 259.9h0M492.2 265.7h0M472.3 239.9h0M488.2 268.2h0M470.9 242.4h0M482.7 256.7h0M476.1 250.8h0M467.6 262.4h0M474.8 252.4h0M476.1 261.3h0M476.7 249.0h0M494.5 259.8h0M475.7 262.1h0M477.5 276.4h0M490.5 250.8h0M472.8 248.1h0M473.1 254.2h0M480.1 249.8h0M488.8 253.4h0M479.5 261.5h0M472.5 254.2h0M470.3 266.0h0M482.7 249.6h0M491.4 250.8h0M484.5 258.7h0M473.7 253.3h0M477.1 259.7h0M493.5 265.4h0M489.7 260.5h0M489.5 258.3h0M473.4 260.4h0M481.8 237.7h0M476.7 251.3h0M478.5 233.9h0M478.3 254.5h0M487.6 260.7h0M478.6 245.0h0M494.3 259.6h0M490.8 266.9h0M483.4 271.4h0M475.4 246.1h0M492.4 242.6h0M491.0 264.5h0M482.5 260.9h0M478.2 261.1h0M489.8 266.9h0M476.9 257.7h0M480.5 265.5h0M486.4 260.3h0M475.7 237.4h0M494.7 265.5h0M476.7 264.8h0M474.6 272.5h0M485.0 271.4h0M488.0 255.3h0M482.2 278.0h0M486.4 266.5h0M476.8 240.9h0M485.8 245.9h0M484.1 234.1h0M468.4 266.4h0M486.6 264.0h0M474.9 255.4h0M484.1 243.4h0M485.5 254.0h0M487.2 265.1h0M486.8 238.0h0M475.1 247.3h0M469.0 250.7h0M469.0 261.3h0M476.4 243.1h0M477.8 256.0h0M488.9 245.0h0M478.0 269.6h0M474.1 252.3h0M493.0 257.6h0M491.4 240.1h0M472.0 268.1h0M481.9 267.2h0M487.4 255.8h0M489.7 251.6h0M485.4 255.4h0M485.4 260.9h0M469.5 246.2h0M477.4 258.7h0M473.5 266.2h0M482.8 242.6h0" stroke="#98a8e4" stroke-width="0.60" stroke-linecap="square" fill="none" opacity="1.0"/><g filter="url(#bl2)"><ellipse cx="485.10" cy="220.00" rx="10.50" ry="5.50" transform="rotate(-35 485.10 220.00)" fill="#2d4cc2" opacity="1"/><ellipse cx="483.60" cy="256.00" rx="13.50" ry="20.50" transform="rotate(0 483.60 256.00)" fill="#2d4cc2" opacity="1"/><rect x="470.60" y="256.00" width="26.50" height="29.00" rx="2" fill="#2d4cc2"/></g><g filter="url(#bl)"><ellipse cx="488.60" cy="216.50" rx="5.50" ry="3.30" transform="rotate(-40 488.60 216.50)" fill="#2e7ee8" opacity="1"/><ellipse cx="489.80" cy="215.20" rx="3.00" ry="2.00" transform="rotate(-40 489.80 215.20)" fill="#2ad0e0" opacity="1"/><ellipse cx="488.80" cy="258.10" rx="6.70" ry="14.60" transform="rotate(0 488.80 258.10)" fill="#2e7ee8" opacity="1"/><ellipse cx="488.90" cy="258.10" rx="5.90" ry="13.80" transform="rotate(0 488.90 258.10)" fill="#2ad0e0" opacity="1"/><ellipse cx="489.20" cy="259.00" rx="4.40" ry="10.50" transform="rotate(0 489.20 259.00)" fill="#5cd050" opacity="1"/><ellipse cx="489.50" cy="259.50" rx="2.90" ry="7.60" transform="rotate(0 489.50 259.50)" fill="#f2e232" opacity="1"/><ellipse cx="489.40" cy="259.30" rx="2.20" ry="6.20" transform="rotate(0 489.40 259.30)" fill="#f48a20" opacity="1"/><ellipse cx="489.25" cy="259.00" rx="1.45" ry="4.70" transform="rotate(0 489.25 259.00)" fill="#e52418" opacity="1"/></g>
<rect x="464.60" y="201" width="40.00" height="11.5" fill="#fff" opacity="0.72"/>
</g>
<rect x="431.60" y="200.0" width="75" height="74.40" fill="none" stroke="#231f20" stroke-width="1"/>
<path d="M462.60,200.0 V233.5 H506.60" fill="none" stroke="#231f20" stroke-width="0.9"/>
<text x="484.60" y="205.50" font-size="4.9" text-anchor="middle" font-weight="normal" fill="#231f20" style="stroke-width:0">CD8 Tetramer+</text>
<text x="484.60" y="212.00" font-size="5.2" text-anchor="middle" font-weight="normal" fill="#231f20" style="stroke-width:0.05px">4.35</text>
<line x1="429.40" y1="207.30" x2="431.60" y2="207.30" stroke="#231f20" stroke-width="0.8"/>
<text x="426.20" y="209.90" font-size="6.8" text-anchor="end" fill="#231f20" style="stroke-width:0.06px">10<tspan font-size="4.8" dy="-2.9">5</tspan></text>
<line x1="429.40" y1="224.80" x2="431.60" y2="224.80" stroke="#231f20" stroke-width="0.8"/>
<text x="426.20" y="227.40" font-size="6.8" text-anchor="end" fill="#231f20" style="stroke-width:0.06px">10<tspan font-size="4.8" dy="-2.9">4</tspan></text>
<line x1="429.40" y1="244.60" x2="431.60" y2="244.60" stroke="#231f20" stroke-width="0.8"/>
<text x="426.20" y="247.20" font-size="6.8" text-anchor="end" fill="#231f20" style="stroke-width:0.06px">10<tspan font-size="4.8" dy="-2.9">3</tspan></text>
<line x1="429.40" y1="257.30" x2="431.60" y2="257.30" stroke="#231f20" stroke-width="0.8"/>
<text x="423.00" y="259.90" font-size="6.8" text-anchor="end" font-weight="normal" fill="#231f20" style="stroke-width:0.06px">0</text>
<line x1="429.40" y1="268.80" x2="431.60" y2="268.80" stroke="#231f20" stroke-width="0.8"/>
<text x="426.20" y="271.40" font-size="6.8" text-anchor="end" fill="#231f20" style="stroke-width:0.06px">−10<tspan font-size="4.8" dy="-2.9">3</tspan></text>
<line x1="430.40" y1="219.53" x2="431.60" y2="219.53" stroke="#231f20" stroke-width="0.6"/>
<line x1="430.40" y1="216.45" x2="431.60" y2="216.45" stroke="#231f20" stroke-width="0.6"/>
<line x1="430.40" y1="214.26" x2="431.60" y2="214.26" stroke="#231f20" stroke-width="0.6"/>
<line x1="430.40" y1="212.57" x2="431.60" y2="212.57" stroke="#231f20" stroke-width="0.6"/>
<line x1="430.40" y1="211.18" x2="431.60" y2="211.18" stroke="#231f20" stroke-width="0.6"/>
<line x1="430.40" y1="210.01" x2="431.60" y2="210.01" stroke="#231f20" stroke-width="0.6"/>
<line x1="430.40" y1="209.00" x2="431.60" y2="209.00" stroke="#231f20" stroke-width="0.6"/>
<line x1="430.40" y1="208.10" x2="431.60" y2="208.10" stroke="#231f20" stroke-width="0.6"/>
<line x1="430.40" y1="238.64" x2="431.60" y2="238.64" stroke="#231f20" stroke-width="0.6"/>
<line x1="430.40" y1="235.15" x2="431.60" y2="235.15" stroke="#231f20" stroke-width="0.6"/>
<line x1="430.40" y1="232.68" x2="431.60" y2="232.68" stroke="#231f20" stroke-width="0.6"/>
<line x1="430.40" y1="230.76" x2="431.60" y2="230.76" stroke="#231f20" stroke-width="0.6"/>
<line x1="430.40" y1="229.19" x2="431.60" y2="229.19" stroke="#231f20" stroke-width="0.6"/>
<line x1="430.40" y1="227.87" x2="431.60" y2="227.87" stroke="#231f20" stroke-width="0.6"/>
<line x1="430.40" y1="226.72" x2="431.60" y2="226.72" stroke="#231f20" stroke-width="0.6"/>
<line x1="430.40" y1="225.71" x2="431.60" y2="225.71" stroke="#231f20" stroke-width="0.6"/>
<rect x="429.30" y="256.2" width="2.3" height="2.3" fill="#000"/>
<line x1="436.20" y1="274.40" x2="436.20" y2="276.60" stroke="#231f20" stroke-width="0.8"/>
<text x="436.00" y="285.1" font-size="6.8" text-anchor="middle" fill="#231f20" style="stroke-width:0.06px">−10<tspan font-size="4.8" dy="-2.9">3</tspan></text>
<line x1="448.10" y1="274.40" x2="448.10" y2="276.60" stroke="#231f20" stroke-width="0.8"/>
<text x="449.80" y="285.10" font-size="6.8" text-anchor="middle" font-weight="normal" fill="#231f20" style="stroke-width:0.06px">0</text>
<line x1="460.80" y1="274.40" x2="460.80" y2="276.60" stroke="#231f20" stroke-width="0.8"/>
<text x="462.10" y="285.1" font-size="6.8" text-anchor="middle" fill="#231f20" style="stroke-width:0.06px">10<tspan font-size="4.8" dy="-2.9">3</tspan></text>
<line x1="480.80" y1="274.40" x2="480.80" y2="276.60" stroke="#231f20" stroke-width="0.8"/>
<text x="483.10" y="285.1" font-size="6.8" text-anchor="middle" fill="#231f20" style="stroke-width:0.06px">10<tspan font-size="4.8" dy="-2.9">4</tspan></text>
<line x1="500.10" y1="274.40" x2="500.10" y2="276.60" stroke="#231f20" stroke-width="0.8"/>
<text x="500.40" y="285.1" font-size="6.8" text-anchor="middle" fill="#231f20" style="stroke-width:0.06px">10<tspan font-size="4.8" dy="-2.9">5</tspan></text>
<line x1="466.82" y1="274.40" x2="466.82" y2="275.60" stroke="#231f20" stroke-width="0.6"/>
<line x1="470.34" y1="274.40" x2="470.34" y2="275.60" stroke="#231f20" stroke-width="0.6"/>
<line x1="472.84" y1="274.40" x2="472.84" y2="275.60" stroke="#231f20" stroke-width="0.6"/>
<line x1="474.78" y1="274.40" x2="474.78" y2="275.60" stroke="#231f20" stroke-width="0.6"/>
<line x1="476.36" y1="274.40" x2="476.36" y2="275.60" stroke="#231f20" stroke-width="0.6"/>
<line x1="477.70" y1="274.40" x2="477.70" y2="275.60" stroke="#231f20" stroke-width="0.6"/>
<line x1="478.86" y1="274.40" x2="478.86" y2="275.60" stroke="#231f20" stroke-width="0.6"/>
<line x1="479.88" y1="274.40" x2="479.88" y2="275.60" stroke="#231f20" stroke-width="0.6"/>
<line x1="486.61" y1="274.40" x2="486.61" y2="275.60" stroke="#231f20" stroke-width="0.6"/>
<line x1="490.01" y1="274.40" x2="490.01" y2="275.60" stroke="#231f20" stroke-width="0.6"/>
<line x1="492.42" y1="274.40" x2="492.42" y2="275.60" stroke="#231f20" stroke-width="0.6"/>
<line x1="494.29" y1="274.40" x2="494.29" y2="275.60" stroke="#231f20" stroke-width="0.6"/>
<line x1="495.82" y1="274.40" x2="495.82" y2="275.60" stroke="#231f20" stroke-width="0.6"/>
<line x1="497.11" y1="274.40" x2="497.11" y2="275.60" stroke="#231f20" stroke-width="0.6"/>
<line x1="498.23" y1="274.40" x2="498.23" y2="275.60" stroke="#231f20" stroke-width="0.6"/>
<line x1="499.22" y1="274.40" x2="499.22" y2="275.60" stroke="#231f20" stroke-width="0.6"/>
<rect x="447.00" y="274.40" width="2.3" height="2.3" fill="#000"/>
<text x="469.35" y="296.50" font-size="8.0" text-anchor="middle" font-weight="normal" fill="#231f20" textLength="88.5" lengthAdjust="spacingAndGlyphs" class="cd" >Comp-U740_35-A :: CD8 - BUV737</text>
<text transform="translate(405.40,236.9) rotate(-90)" font-size="8.2" text-anchor="middle" fill="#231f20" textLength="86" lengthAdjust="spacingAndGlyphs" class="cd">Comp-Y586_15-A :: Tetramer - PE</text>
<rect x="46.30" y="310.3" width="75" height="74.50" fill="none" stroke="#333" stroke-width="1.2"/>
<text x="83.60" y="393.80" font-size="7.6" text-anchor="middle" font-weight="normal" fill="#231f20" >24581</text>
<rect x="174.60" y="310.3" width="75" height="74.50" fill="none" stroke="#333" stroke-width="1.2"/>
<text x="211.90" y="393.80" font-size="7.6" text-anchor="middle" font-weight="normal" fill="#231f20" >641</text>
<rect x="303.00" y="310.3" width="75" height="74.50" fill="none" stroke="#333" stroke-width="1.2"/>
<text x="340.30" y="393.80" font-size="7.6" text-anchor="middle" font-weight="normal" fill="#231f20" >150</text>
<rect x="431.60" y="310.3" width="75" height="74.50" fill="none" stroke="#333" stroke-width="1.2"/>
<text x="468.90" y="393.80" font-size="7.6" text-anchor="middle" font-weight="normal" fill="#231f20" >0</text>
<text x="234.50" y="406.20" font-size="8.8" text-anchor="start" font-weight="normal" fill="#231f20" textLength="83.5" lengthAdjust="spacingAndGlyphs" class="cd" >Blood CMV viral load (IU/mL)</text>
<rect x="183.7" y="418.40" width="4.2" height="4.2" fill="#e8202a"/>
<text x="190.50" y="422.90" font-size="6.96" text-anchor="start" font-weight="normal" fill="#231f20" >NLV Tetramer+ CD8 T cells</text>
<rect x="183.7" y="426.50" width="4.2" height="4.2" fill="#29b5e8"/>
<text x="190.50" y="431.00" font-size="6.96" text-anchor="start" font-weight="normal" fill="#231f20" >B cells</text>
<rect x="183.7" y="434.60" width="4.2" height="4.2" fill="#f9c07e"/>
<text x="190.50" y="439.10" font-size="6.96" text-anchor="start" font-weight="normal" fill="#231f20" >CD4<tspan font-size="4.5" dy="-2.5">+</tspan><tspan dy="2.5"> T cells</tspan></text>
<rect x="183.7" y="442.70" width="4.2" height="4.2" fill="#b9d873"/>
<text x="190.50" y="447.20" font-size="6.96" text-anchor="start" font-weight="normal" fill="#231f20" >CD8<tspan font-size="4.5" dy="-2.5">+</tspan><tspan dy="2.5"> T cells</tspan></text>
<rect x="287.6" y="417.90" width="4.2" height="4.2" fill="#1a5c2a"/>
<text x="295.50" y="422.40" font-size="6.9" text-anchor="start" font-weight="normal" fill="#231f20" >Intermediate monocytes</text>
<rect x="287.6" y="426.10" width="4.2" height="4.2" fill="#8b4fb8"/>
<text x="295.50" y="430.60" font-size="6.9" text-anchor="start" font-weight="normal" fill="#231f20" >Atypical monocytes</text>
<rect x="287.6" y="434.30" width="4.2" height="4.2" fill="#2a48a8"/>
<text x="295.50" y="438.80" font-size="6.9" text-anchor="start" font-weight="normal" fill="#231f20" >Classical monocytes</text>
<rect x="287.6" y="442.50" width="4.2" height="4.2" fill="#7a3a12"/>
<text x="295.50" y="447.00" font-size="6.9" text-anchor="start" font-weight="normal" fill="#231f20" >NK cells</text>
<g clip-path="url(#ct0)"><path d="M84.1 335.8h0M103.1 360.5h0M54.4 409.9h0M50.1 331.0h0M100.1 317.0h0M48.6 354.1h0M57.1 378.3h0M71.4 368.1h0M121.2 323.1h0M114.8 335.5h0M71.5 337.8h0M84.9 376.6h0M132.2 357.1h0M76.8 330.9h0M123.2 382.4h0M79.1 337.7h0M39.5 346.5h0M65.7 359.0h0M65.3 341.0h0M82.3 357.5h0M77.1 321.2h0M44.4 381.9h0M105.8 346.8h0M53.9 393.2h0M77.6 356.0h0M111.7 275.4h0M49.9 322.8h0M63.9 368.4h0M13.6 388.3h0M186.5 267.5h0M106.2 339.8h0M131.7 292.3h0M68.1 333.8h0M54.9 409.1h0M77.9 327.4h0" stroke="#d8d0c8" stroke-width="0.60" stroke-linecap="square" fill="none" opacity="1.0"/><path d="M101.8 348.9h0M81.2 357.6h0M110.5 314.5h0M84.0 398.6h0M50.8 319.9h0M95.9 333.5h0M100.6 341.5h0M95.3 357.4h0M95.8 408.1h0M104.7 330.9h0M129.5 362.8h0M61.9 376.3h0M67.4 378.8h0M33.4 351.8h0M88.6 345.1h0M100.3 386.6h0M98.7 360.3h0M57.1 309.6h0M77.6 357.4h0M62.4 345.6h0M77.3 330.6h0M61.4 363.3h0M32.0 367.1h0M75.9 308.4h0M108.9 299.9h0M70.5 365.1h0M59.5 374.2h0M76.6 330.7h0M38.7 355.9h0M47.7 376.5h0M91.8 322.8h0M77.1 295.5h0M72.9 330.4h0" stroke="#d0d8e4" stroke-width="0.60" stroke-linecap="square" fill="none" opacity="1.0"/><path d="M73.7 386.3h0M86.7 314.1h0M66.2 364.4h0M46.6 346.1h0M67.6 426.5h0M94.1 347.6h0M28.7 358.5h0M46.9 329.4h0M92.4 373.4h0M42.1 380.5h0M58.4 395.2h0M80.8 341.1h0M88.5 329.7h0M90.3 286.7h0M65.0 301.6h0M36.2 333.8h0M89.6 332.7h0M91.6 330.2h0M49.9 370.6h0M85.8 350.5h0M76.1 278.3h0M78.9 342.6h0M91.4 367.9h0M74.6 344.3h0M111.3 332.4h0M28.5 393.5h0M76.7 300.0h0M76.4 339.4h0M60.4 337.2h0M63.2 367.1h0M65.7 332.6h0M116.6 348.7h0M20.7 365.0h0M16.8 374.3h0M82.7 336.7h0M82.1 350.0h0M33.2 354.3h0M56.8 393.5h0M76.2 292.9h0M114.8 283.5h0M105.7 327.3h0M37.4 338.0h0" stroke="#e4d8c8" stroke-width="0.60" stroke-linecap="square" fill="none" opacity="1.0"/><path d="M47.9 306.4h0M131.6 384.7h0M107.3 378.0h0M80.6 399.8h0M125.0 357.8h0M116.6 346.6h0M76.5 328.5h0M84.9 398.5h0M105.6 369.0h0M76.9 334.9h0M38.1 353.1h0M131.3 344.9h0M107.8 414.1h0M54.9 330.2h0M81.9 367.5h0M67.4 355.9h0M42.3 350.7h0M83.1 359.9h0M67.0 339.8h0M67.4 350.1h0M120.8 357.9h0M84.6 316.3h0M85.9 443.8h0M81.6 386.1h0M96.0 358.5h0M153.2 344.7h0M63.4 348.7h0M92.9 346.2h0M100.1 348.2h0M57.7 348.6h0M85.4 330.0h0M93.4 333.0h0M69.9 354.6h0M74.6 303.3h0M111.3 319.2h0M107.8 365.6h0M90.7 349.4h0M105.0 427.1h0M78.2 336.4h0M99.2 300.0h0M73.2 279.7h0M93.6 415.5h0M12.6 337.2h0M55.9 364.0h0M78.9 358.0h0M60.6 419.3h0M106.9 338.8h0M108.9 336.2h0M63.4 365.2h0M91.1 373.4h0" stroke="#c8d0e4" stroke-width="0.60" stroke-linecap="square" fill="none" opacity="1.0"/><path d="M77.4 312.8h0M84.9 316.6h0M76.7 315.0h0M81.6 316.3h0M72.9 316.7h0M81.8 316.3h0M74.8 317.7h0M74.0 315.3h0M75.8 320.0h0M79.1 315.5h0M80.9 315.6h0M81.0 314.5h0M76.0 316.6h0" stroke="#e0d8a0" stroke-width="0.70" stroke-linecap="square" fill="none" opacity="1.0"/><path d="M72.8 317.0h0M70.0 313.4h0M83.9 316.6h0M72.0 316.0h0M75.5 315.8h0M72.5 314.9h0M74.9 316.2h0M74.5 318.8h0M83.5 316.8h0M75.3 317.6h0M74.6 317.5h0M78.4 315.8h0M70.8 317.2h0" stroke="#c8d890" stroke-width="0.70" stroke-linecap="square" fill="none" opacity="1.0"/><path d="M63.9 316.6h0M72.0 317.3h0M72.4 317.0h0M71.5 316.1h0M80.2 312.5h0M82.6 318.1h0M77.1 315.5h0M83.4 316.3h0M75.0 314.9h0M76.5 318.4h0M80.2 317.1h0M75.1 315.5h0M81.8 319.1h0M76.5 320.3h0" stroke="#d0dc98" stroke-width="0.70" stroke-linecap="square" fill="none" opacity="1.0"/><path d="M61.3 331.0h0M57.5 333.4h0M54.6 330.4h0M57.7 334.6h0M55.9 331.4h0M60.1 330.5h0M55.6 334.8h0M59.3 330.6h0M56.1 332.7h0M57.5 329.9h0M60.7 332.8h0M57.0 332.3h0M57.7 332.2h0M55.7 331.3h0M59.8 333.9h0M57.2 329.8h0M55.5 333.1h0M54.5 330.7h0M60.9 330.9h0M56.1 332.1h0M61.1 331.4h0M57.1 334.3h0M58.9 331.3h0M61.2 330.7h0M55.1 331.9h0M60.2 331.1h0M55.1 330.4h0M55.4 333.3h0M54.9 334.0h0M57.2 331.5h0M58.8 332.2h0M55.9 331.1h0M57.0 333.9h0M58.0 331.2h0M58.4 330.3h0M59.6 330.6h0M56.1 330.3h0M57.1 329.5h0" stroke="#40c0f0" stroke-width="0.80" stroke-linecap="square" fill="none" opacity="1.0"/><path d="M58.5 330.9h0M59.0 330.8h0M56.7 331.4h0M59.7 333.5h0M58.2 333.0h0M60.3 333.2h0M56.6 330.6h0M58.5 334.2h0M54.6 330.9h0M60.0 332.2h0M56.3 334.7h0M59.4 333.0h0M55.8 334.7h0M57.5 332.6h0M55.1 334.6h0M58.1 330.8h0M60.2 334.0h0M56.8 330.2h0M59.0 331.6h0M59.7 332.5h0M57.5 330.7h0M59.2 331.4h0M58.9 334.4h0M55.8 332.6h0M56.1 330.8h0M57.0 331.8h0M57.1 333.0h0M60.0 332.7h0M59.4 333.3h0M60.8 331.1h0M57.1 334.5h0M55.5 333.2h0" stroke="#28b4ee" stroke-width="0.80" stroke-linecap="square" fill="none" opacity="1.0"/><path d="M69.1 334.9h0M71.3 332.9h0M71.1 335.7h0M72.1 331.2h0M72.0 333.9h0M68.8 331.0h0M69.8 332.1h0" stroke="#3050b0" stroke-width="0.76" stroke-linecap="square" fill="none" opacity="1.0"/><path d="M70.2 335.3h0M69.7 332.5h0M73.9 334.2h0M69.3 332.8h0M73.3 335.2h0M72.5 332.2h0M73.7 334.3h0M71.9 335.5h0M69.9 334.1h0M72.2 330.5h0M69.6 334.2h0M74.2 333.9h0" stroke="#2a5a6a" stroke-width="0.76" stroke-linecap="square" fill="none" opacity="1.0"/><path d="M72.3 334.1h0M73.7 332.7h0M73.0 333.3h0M69.3 335.7h0M72.2 332.6h0M73.4 332.8h0M72.4 331.6h0M69.1 333.1h0M71.5 333.7h0M68.6 331.4h0M73.4 334.0h0M72.1 332.7h0M71.8 333.5h0M69.6 332.8h0" stroke="#6078c0" stroke-width="0.76" stroke-linecap="square" fill="none" opacity="1.0"/><path d="M69.4 332.2h0M72.8 335.2h0M69.6 333.6h0M73.0 333.0h0M71.1 331.8h0M72.5 335.7h0M71.6 333.4h0" stroke="#1a3a9a" stroke-width="0.76" stroke-linecap="square" fill="none" opacity="1.0"/><path d="M78.4 333.5h0M84.5 338.0h0M73.8 346.3h0M75.2 338.6h0M79.2 343.0h0M72.2 356.0h0M78.2 344.6h0M75.3 342.0h0M68.8 340.0h0M78.5 335.3h0M67.8 332.4h0M75.7 333.6h0M73.5 347.3h0M82.4 338.8h0M73.1 337.8h0M72.8 339.9h0M75.8 340.8h0M73.6 341.9h0M71.7 347.6h0M83.0 341.0h0M73.9 335.9h0M66.2 331.3h0M78.4 340.5h0M71.3 350.6h0M83.5 351.4h0M73.2 335.6h0M74.8 337.6h0M77.3 337.2h0M85.9 345.0h0M75.4 360.0h0M80.6 347.3h0M72.6 348.4h0M63.7 342.7h0M72.9 333.9h0" stroke="#b0bce4" stroke-width="0.60" stroke-linecap="square" fill="none" opacity="1.0"/><path d="M76.2 349.0h0M77.7 340.2h0M64.3 338.1h0M69.2 336.3h0M79.1 352.4h0M72.2 342.7h0M78.5 338.4h0M78.1 340.5h0M74.1 343.8h0M81.0 343.3h0M75.8 346.9h0M62.6 335.0h0M71.0 341.3h0M65.3 338.3h0M62.4 333.3h0M69.5 337.4h0M74.6 341.1h0M80.6 336.8h0M69.7 344.8h0M70.7 328.6h0M69.8 355.3h0M66.7 332.4h0M67.7 342.5h0M66.9 333.2h0M72.3 344.1h0M79.3 352.8h0M70.6 347.2h0M82.6 354.8h0M78.3 347.3h0M65.5 338.8h0M71.2 350.2h0M77.3 361.9h0" stroke="#c0c8e8" stroke-width="0.60" stroke-linecap="square" fill="none" opacity="1.0"/><path d="M77.3 333.3h0M75.7 349.2h0M84.5 342.0h0M77.0 338.7h0M78.4 345.9h0M82.9 344.5h0M75.2 336.8h0M80.0 346.7h0M69.8 344.7h0M71.8 353.6h0M82.2 344.4h0M80.0 340.7h0M79.5 338.5h0M66.3 340.7h0M79.8 330.7h0M76.9 347.5h0M74.6 344.0h0M75.3 332.7h0M87.0 352.5h0M81.0 337.2h0M69.2 341.3h0M83.6 340.2h0M72.2 327.9h0M76.5 345.7h0M83.2 351.8h0M75.6 351.1h0" stroke="#8898d0" stroke-width="0.60" stroke-linecap="square" fill="none" opacity="1.0"/><path d="M77.7 348.0h0M71.6 342.0h0M80.6 342.8h0M78.9 337.8h0M87.6 354.9h0M89.4 352.1h0M79.6 337.5h0M75.7 347.1h0M66.7 352.1h0M77.5 349.6h0M68.2 331.6h0M81.0 347.2h0M68.6 345.4h0M81.2 356.4h0M70.1 328.5h0M85.1 359.0h0M69.1 327.2h0M69.2 328.8h0M67.9 337.9h0M66.0 343.3h0M72.1 353.3h0M76.6 337.8h0M78.6 330.3h0M72.0 340.0h0M70.0 324.9h0M73.4 339.0h0M67.7 336.6h0M78.3 341.5h0" stroke="#98a8d8" stroke-width="0.60" stroke-linecap="square" fill="none" opacity="1.0"/><path d="M104.0 335.2h0M100.1 337.5h0M101.4 337.9h0M104.1 337.6h0M99.5 337.9h0M104.8 336.1h0M105.0 337.1h0M101.4 338.8h0M103.5 334.0h0M104.6 338.1h0M102.7 340.3h0M101.6 336.6h0" stroke="#8aa090" stroke-width="0.60" stroke-linecap="square" fill="none" opacity="1.0"/><path d="M101.9 336.8h0M97.7 337.6h0M99.1 336.9h0M103.8 335.0h0M106.4 335.8h0M98.0 339.0h0" stroke="#6a8a70" stroke-width="0.60" stroke-linecap="square" fill="none" opacity="1.0"/><path d="M101.4 337.6h0M94.2 338.6h0M103.6 338.7h0M101.2 335.8h0M105.2 335.6h0M102.1 335.9h0M101.3 334.6h0M102.3 337.9h0M104.2 338.1h0M109.1 338.1h0M99.4 335.3h0M108.6 336.9h0" stroke="#a0b0b0" stroke-width="0.60" stroke-linecap="square" fill="none" opacity="1.0"/><path d="M94.8 373.6h0M108.4 366.6h0M107.9 348.3h0M109.6 353.6h0M110.3 362.8h0M99.7 369.6h0M83.9 374.2h0M88.6 358.9h0M115.5 355.1h0M112.1 367.1h0M105.6 370.4h0M101.5 355.3h0M110.2 373.4h0M116.3 358.9h0M104.3 366.4h0M109.9 368.4h0M87.5 364.9h0M93.5 356.4h0M88.1 361.7h0M110.6 350.7h0M113.0 368.6h0M104.0 374.9h0M106.7 347.6h0M99.6 361.3h0M104.1 352.9h0M111.4 348.5h0M106.3 371.0h0M105.1 365.4h0M88.7 372.7h0M116.7 363.6h0M113.4 347.6h0M86.3 375.0h0M80.9 371.3h0M104.4 351.9h0M110.3 353.7h0M97.6 365.9h0" stroke="#a06040" stroke-width="0.64" stroke-linecap="square" fill="none" opacity="1.0"/><path d="M109.0 371.7h0M110.4 350.8h0M109.2 348.3h0M108.0 349.1h0M94.2 357.7h0M101.3 349.9h0M103.2 376.6h0M92.9 354.8h0M87.6 359.6h0M101.6 375.5h0M108.7 350.8h0M110.4 364.0h0M96.8 359.8h0M97.0 375.1h0M98.9 360.4h0M113.0 369.8h0M112.0 355.1h0M112.5 366.0h0M106.8 374.8h0M82.5 375.3h0M89.2 357.4h0M112.2 362.6h0M105.2 347.4h0M101.1 353.7h0M91.6 361.4h0M101.0 356.2h0M108.6 366.7h0M90.4 376.4h0M109.6 360.6h0M97.5 370.4h0M101.0 354.6h0M104.7 372.1h0M98.9 365.8h0M103.3 371.5h0M91.6 359.9h0M99.9 356.5h0M114.6 373.3h0M98.9 353.8h0M88.5 368.3h0M82.3 372.9h0M85.7 371.4h0M110.7 363.8h0M97.8 374.8h0M93.5 368.5h0M87.3 364.0h0M87.0 375.1h0M113.0 371.3h0M108.5 369.8h0M105.0 358.2h0M87.1 374.9h0" stroke="#b08060" stroke-width="0.64" stroke-linecap="square" fill="none" opacity="1.0"/><path d="M115.2 355.6h0M97.6 364.5h0M108.3 373.0h0M83.2 372.9h0M105.5 348.3h0M104.3 374.4h0M88.6 362.6h0M107.5 346.4h0M99.2 369.0h0M114.0 364.7h0M104.2 363.1h0M97.7 370.5h0M117.0 351.9h0M107.6 362.0h0M81.1 373.6h0M105.0 370.7h0M117.3 368.1h0M100.7 365.4h0M114.9 369.8h0M103.2 373.4h0M108.5 356.7h0M115.1 361.9h0M111.9 353.5h0M112.8 349.7h0M114.3 372.5h0M98.1 374.3h0M107.5 367.6h0M105.1 365.5h0M102.9 371.0h0M106.3 356.2h0M93.1 369.5h0M116.6 350.0h0M104.0 374.7h0M110.5 352.7h0M82.9 368.1h0M92.7 367.8h0M114.3 368.9h0M88.5 374.9h0M93.0 355.9h0M112.4 363.5h0M102.7 362.4h0M89.3 366.3h0M104.6 376.9h0M112.5 357.8h0M112.1 352.0h0" stroke="#c09878" stroke-width="0.64" stroke-linecap="square" fill="none" opacity="1.0"/><path d="M108.8 346.6h0M110.8 345.5h0M104.6 367.1h0M112.2 360.4h0M87.7 371.5h0M92.1 363.0h0M108.5 355.2h0M92.4 370.0h0M101.5 372.8h0M113.2 349.8h0M96.8 370.2h0M98.1 376.2h0M108.4 362.0h0M89.7 368.3h0M98.2 366.2h0M111.8 364.6h0M108.2 367.5h0M99.2 374.8h0M109.1 353.1h0M92.4 354.8h0M109.7 361.9h0M103.3 350.7h0M112.1 352.9h0M92.8 366.6h0M88.1 365.3h0M82.1 370.3h0M112.5 361.9h0M111.0 360.1h0M94.0 369.7h0M104.9 361.6h0M115.0 369.6h0M93.5 360.9h0M87.2 375.4h0M79.1 373.4h0M115.6 357.7h0M110.3 373.3h0M109.1 349.8h0M105.2 353.8h0M95.2 359.0h0M107.8 357.0h0M87.9 372.5h0M80.1 374.1h0M92.2 369.1h0M92.1 359.3h0M98.5 359.8h0M94.2 369.6h0M115.1 358.9h0M112.3 365.4h0M92.2 366.5h0M94.9 374.1h0M98.3 375.5h0M99.7 362.0h0M104.8 368.8h0M100.1 361.7h0M94.2 357.0h0M117.1 367.6h0" stroke="#d0b098" stroke-width="0.64" stroke-linecap="square" fill="none" opacity="1.0"/><path d="M101.5 377.0h0M105.1 356.3h0M115.7 349.7h0M99.6 374.8h0M85.2 376.8h0M105.8 355.1h0M105.7 364.8h0M85.4 375.7h0M96.3 370.3h0M115.9 359.3h0M110.8 360.0h0M104.8 347.1h0M113.2 353.1h0M112.2 374.5h0M92.3 357.2h0M115.3 367.5h0M100.1 354.9h0M92.2 371.5h0M109.3 365.3h0M110.1 354.7h0M112.4 372.7h0M107.5 375.5h0M96.1 365.9h0M106.3 357.5h0M84.5 368.5h0M103.7 365.8h0M98.5 351.0h0M116.3 355.4h0M101.0 367.1h0M81.0 373.3h0M89.4 374.8h0M112.8 361.1h0M87.0 361.1h0M111.3 358.9h0M90.3 356.9h0M99.2 374.6h0M112.7 345.9h0M99.7 362.5h0M105.4 370.7h0M112.3 366.6h0M88.7 371.1h0M107.8 370.3h0M113.3 366.4h0M113.1 362.8h0M86.5 369.0h0M107.5 350.3h0M87.8 361.2h0M116.9 354.5h0M116.4 349.9h0M115.3 371.7h0M105.4 350.3h0M107.7 377.2h0M115.1 353.5h0" stroke="#c8a888" stroke-width="0.64" stroke-linecap="square" fill="none" opacity="1.0"/><path d="M85.1 370.2h0M95.8 368.5h0M101.0 361.8h0M95.9 368.3h0M101.1 364.5h0M91.8 361.8h0M90.8 368.7h0M93.8 362.3h0M92.5 365.3h0M89.4 368.1h0M84.7 370.6h0M86.4 370.0h0M88.3 368.9h0M91.2 375.1h0M92.8 363.2h0M91.3 358.7h0M89.3 371.3h0M91.9 370.2h0M93.7 369.7h0M83.0 369.7h0M87.2 372.5h0M87.9 362.0h0M87.2 362.3h0M97.7 367.4h0M86.9 364.9h0M96.5 371.0h0" stroke="#a0603a" stroke-width="0.66" stroke-linecap="square" fill="none" opacity="1.0"/><path d="M93.8 366.1h0M89.8 366.0h0M90.6 368.9h0M96.2 371.6h0M92.0 358.5h0M93.8 370.3h0M92.7 359.7h0M93.8 366.7h0M91.3 368.4h0M83.6 370.3h0M94.2 358.0h0M90.0 362.4h0M88.1 370.3h0M99.5 365.3h0M89.1 360.6h0M83.4 368.9h0M92.0 361.5h0M97.4 364.8h0M87.1 369.4h0M87.3 372.0h0M85.7 373.4h0M94.5 367.8h0M97.1 357.2h0M85.9 371.0h0M88.0 371.6h0M100.2 366.5h0M90.3 361.1h0M90.8 362.2h0M98.9 366.2h0M87.7 362.8h0M93.8 360.5h0M86.4 371.4h0M84.4 371.9h0M87.2 369.4h0M94.5 369.4h0M98.8 367.9h0M100.9 359.6h0" stroke="#b07050" stroke-width="0.66" stroke-linecap="square" fill="none" opacity="1.0"/><path d="M87.3 370.3h0M83.8 370.0h0M98.2 360.2h0M85.6 372.0h0M91.7 363.8h0M97.5 359.0h0M95.2 369.1h0M92.0 363.1h0M95.2 359.7h0M83.6 371.1h0M84.8 369.1h0M98.9 356.7h0M91.5 373.9h0M95.3 356.8h0M96.0 362.0h0M91.6 363.7h0M93.3 357.5h0M84.0 372.8h0M90.8 361.6h0M88.3 371.3h0M90.7 373.6h0M86.7 373.7h0M103.5 359.8h0M97.2 366.0h0M83.2 369.2h0M96.9 358.6h0M96.9 365.8h0" stroke="#8a4a20" stroke-width="0.66" stroke-linecap="square" fill="none" opacity="1.0"/></g>
<g clip-path="url(#ct1)"><path d="M234.4 348.9h0M201.5 384.8h0M198.6 332.0h0M284.0 355.4h0M219.2 363.6h0M227.3 400.4h0M193.2 339.4h0M239.7 305.5h0M221.1 318.3h0M197.1 399.8h0M112.1 331.1h0M198.2 400.4h0M188.5 426.0h0M206.3 320.6h0M208.3 361.0h0M237.2 313.2h0M197.3 317.5h0M204.0 313.4h0M178.9 319.7h0M220.8 352.1h0M219.4 386.5h0M244.9 327.6h0M163.4 368.9h0M190.8 376.3h0M240.8 332.4h0M209.5 355.0h0M234.9 365.7h0M231.5 385.8h0M173.8 360.5h0M198.5 360.0h0M304.5 332.3h0M188.3 315.2h0M155.6 316.4h0M248.1 322.5h0M207.9 336.6h0M236.6 349.4h0M211.8 341.6h0M225.4 339.8h0M205.4 339.1h0M252.1 350.9h0M220.0 355.9h0M182.1 356.5h0M189.7 293.7h0M240.9 422.0h0" stroke="#c8d0e4" stroke-width="0.60" stroke-linecap="square" fill="none" opacity="1.0"/><path d="M207.9 381.6h0M188.2 271.3h0M197.4 351.2h0M184.9 324.1h0M250.7 264.8h0M241.0 368.9h0M265.0 366.2h0M236.1 351.5h0M222.6 344.1h0M224.5 375.7h0M192.6 332.0h0M233.1 298.5h0M261.7 407.4h0M237.4 331.4h0M261.0 362.1h0M220.1 283.4h0M238.2 313.0h0M240.3 371.3h0M220.3 392.4h0M213.9 357.7h0M229.5 367.1h0M216.5 381.0h0M295.0 351.1h0M218.7 385.1h0M190.5 347.5h0M234.1 408.2h0M257.5 343.1h0M218.9 336.8h0M201.0 419.3h0M222.9 348.5h0M269.1 330.2h0M223.9 371.3h0M200.3 366.0h0M241.7 376.2h0M205.1 361.1h0M221.1 339.6h0M200.8 363.8h0M164.7 337.0h0" stroke="#e4d8c8" stroke-width="0.60" stroke-linecap="square" fill="none" opacity="1.0"/><path d="M273.7 315.4h0M263.1 328.0h0M195.6 358.5h0M237.2 349.5h0M247.2 297.1h0M204.0 363.7h0M210.5 396.8h0M209.5 375.5h0M237.0 390.9h0M157.6 366.3h0M217.7 383.1h0M257.4 330.8h0M185.6 385.4h0M202.7 317.0h0M262.1 356.8h0M262.5 332.4h0M237.2 338.6h0M187.9 387.5h0M233.7 375.3h0M240.5 337.8h0M188.0 343.1h0M206.4 309.6h0M139.4 337.3h0M254.2 350.6h0M258.2 308.6h0M212.0 391.6h0M122.0 292.4h0M206.7 344.8h0M213.4 404.0h0M193.8 328.9h0M213.4 362.2h0M196.7 367.6h0M216.2 427.2h0M210.3 327.7h0M268.3 355.2h0M178.5 373.5h0M176.8 354.7h0M236.6 368.6h0" stroke="#d8d0c8" stroke-width="0.60" stroke-linecap="square" fill="none" opacity="1.0"/><path d="M228.0 319.1h0M209.0 325.2h0M226.4 315.0h0M216.4 313.5h0M229.1 316.2h0M220.0 329.3h0M221.5 327.6h0M206.7 326.7h0M222.0 321.9h0M213.0 313.5h0M215.6 321.7h0M215.1 320.2h0M208.6 316.9h0M221.2 314.5h0M224.8 328.9h0M232.0 327.3h0M225.6 320.2h0M211.7 321.3h0M229.3 329.0h0M218.4 319.3h0M227.9 320.5h0M228.5 326.9h0M213.4 312.5h0M225.7 329.5h0M230.1 322.7h0M219.0 321.6h0M210.8 324.3h0M229.8 331.8h0M203.2 320.8h0M201.3 318.3h0M207.5 314.4h0M213.8 330.5h0M206.4 313.7h0M226.2 328.7h0M209.3 315.4h0M210.0 328.8h0M217.9 321.0h0M228.6 318.5h0M219.2 322.9h0M208.4 318.2h0M219.9 327.3h0M222.1 328.7h0M228.3 327.9h0M220.2 323.3h0M225.5 317.6h0M224.1 326.5h0M207.7 314.3h0M210.6 322.9h0M217.5 327.9h0M218.6 326.2h0M213.7 326.3h0M231.6 320.9h0M218.8 315.0h0M216.7 325.5h0M198.1 320.5h0M224.9 326.4h0M200.5 321.1h0M228.9 322.2h0M221.4 324.6h0M221.7 314.4h0M215.2 315.2h0M217.0 316.0h0M225.3 314.7h0M212.3 314.6h0M211.3 327.4h0M217.4 313.4h0M204.2 324.3h0M222.6 322.9h0M211.6 328.3h0M205.1 320.1h0M207.0 327.6h0" stroke="#d8a060" stroke-width="0.84" stroke-linecap="square" fill="none" opacity="1.0"/><path d="M230.2 324.2h0M229.7 313.8h0M203.1 322.0h0M215.8 330.9h0M222.6 326.3h0M211.3 326.1h0M233.3 324.1h0M201.7 323.5h0M224.2 321.0h0M208.0 314.6h0M215.6 314.4h0M231.8 326.1h0M226.7 329.0h0M224.9 331.6h0M228.9 327.6h0M208.1 319.9h0M212.3 320.7h0M226.1 319.5h0M205.3 316.8h0M208.6 323.6h0M224.1 330.6h0M233.2 323.3h0M223.2 325.7h0M223.0 318.6h0M210.7 321.4h0M217.0 317.9h0M231.5 322.0h0M205.6 320.2h0M231.8 328.6h0M209.9 325.7h0M222.0 313.8h0M223.3 325.7h0M221.2 312.8h0M232.1 324.4h0M222.1 330.2h0M220.6 316.6h0M211.4 327.8h0M212.2 329.6h0M222.6 332.1h0M211.9 320.1h0M224.2 321.0h0M210.4 321.2h0M217.1 311.9h0M233.4 322.7h0M210.2 314.8h0M222.2 316.7h0M208.6 325.7h0M212.2 318.7h0M202.7 317.2h0M217.4 313.5h0M220.6 330.7h0M226.6 323.2h0M211.3 323.4h0M225.2 330.0h0M216.0 328.4h0M217.0 329.7h0M202.8 321.6h0M218.0 313.2h0M231.0 328.6h0M207.2 314.3h0M204.6 325.6h0M225.8 329.7h0M229.0 323.8h0M228.2 312.5h0M209.5 320.1h0M211.9 313.8h0M229.4 321.1h0M233.0 319.4h0M222.4 320.6h0M204.2 319.0h0M212.4 320.6h0M218.3 328.1h0M200.5 320.6h0M211.0 326.7h0M200.5 320.8h0M220.2 319.0h0M199.7 322.2h0M230.9 322.8h0M229.3 317.0h0M209.3 318.4h0M228.9 331.3h0M219.2 314.8h0M224.1 319.7h0M227.8 318.0h0M224.1 329.0h0M209.4 319.9h0M215.0 316.7h0M212.1 316.3h0M213.8 314.3h0M214.9 318.3h0M211.9 329.6h0M201.5 317.0h0M221.6 320.5h0" stroke="#b8a058" stroke-width="0.84" stroke-linecap="square" fill="none" opacity="1.0"/><path d="M208.2 316.0h0M228.9 314.8h0M205.1 316.8h0M206.2 323.9h0M212.8 312.7h0M218.4 326.1h0M198.1 322.2h0M215.4 324.0h0M211.4 313.3h0M217.4 328.5h0M224.5 322.4h0M216.2 325.2h0M229.0 326.1h0M230.5 330.6h0M223.0 314.0h0M225.6 329.3h0M219.7 326.4h0M227.1 322.4h0M211.4 323.2h0M218.8 324.0h0M203.0 323.1h0M211.2 319.8h0M215.5 322.4h0M221.7 317.7h0M225.6 312.8h0M228.3 327.8h0M221.1 327.3h0M203.7 324.4h0M210.5 328.8h0M230.6 321.0h0M224.7 313.3h0M224.9 312.4h0M221.4 317.8h0M229.1 321.9h0M228.1 318.6h0M212.3 317.8h0M231.7 320.9h0M208.7 326.3h0M228.0 323.9h0M208.5 315.0h0M215.5 315.8h0M230.4 317.1h0M229.3 322.8h0M209.9 322.3h0M224.6 317.6h0M208.4 319.3h0M228.9 318.4h0M230.7 321.0h0M219.8 318.4h0M208.5 313.8h0M216.9 320.8h0M217.5 317.4h0M222.3 329.2h0M219.0 320.6h0M206.3 321.5h0M220.5 316.2h0M230.5 319.6h0M218.4 312.3h0M230.2 326.2h0M227.6 331.2h0M225.2 315.8h0M232.7 319.7h0M215.8 317.8h0M215.1 313.3h0M229.5 330.6h0M232.9 326.2h0M218.6 312.3h0M215.1 327.2h0M222.8 315.0h0M218.2 324.3h0M226.9 322.7h0M226.3 326.7h0M226.0 322.6h0M214.6 323.5h0M225.2 316.3h0M208.7 323.5h0M226.1 321.5h0M232.3 325.3h0M202.8 321.5h0M225.4 329.4h0M220.0 322.5h0M228.6 322.0h0M221.2 325.2h0M208.7 322.5h0M214.6 328.7h0M216.8 314.3h0" stroke="#c06838" stroke-width="0.84" stroke-linecap="square" fill="none" opacity="1.0"/><path d="M204.4 324.4h0M221.8 325.5h0M229.9 329.4h0M219.1 317.0h0M216.0 331.0h0M227.9 312.6h0M228.2 315.3h0M219.0 312.9h0M214.3 324.3h0M204.6 322.4h0M214.1 329.8h0M230.0 325.5h0M228.0 318.5h0M221.5 313.1h0M228.8 326.5h0M223.5 313.7h0M211.9 330.0h0M223.9 318.2h0M219.6 314.1h0M231.2 325.2h0M227.3 324.5h0M213.5 324.8h0M219.7 316.8h0M228.7 314.5h0M219.4 318.1h0M217.0 317.2h0M213.8 327.4h0M223.0 329.6h0M212.5 318.7h0M217.7 329.7h0M215.1 328.1h0M230.8 327.5h0M220.9 331.8h0M223.1 320.4h0M206.1 325.6h0M214.9 327.7h0M204.3 323.6h0M209.7 328.3h0M233.3 321.2h0M231.4 325.4h0M216.5 319.5h0M206.1 323.8h0M216.4 315.3h0M222.1 327.2h0M223.2 320.8h0M217.0 320.6h0M203.6 321.8h0M223.4 327.3h0M207.1 326.8h0M228.1 331.5h0M201.5 322.0h0M227.8 327.5h0M230.2 331.8h0M229.1 330.8h0M219.0 318.6h0M208.8 317.2h0M218.0 316.0h0M230.9 321.2h0M224.6 316.2h0M224.2 330.0h0M203.8 323.6h0M217.9 319.8h0M223.4 321.8h0M217.8 320.6h0M214.4 312.4h0M224.9 311.9h0M211.4 326.1h0M216.0 324.2h0M200.5 320.9h0M226.7 331.4h0M231.7 320.9h0M218.1 312.1h0" stroke="#a8a860" stroke-width="0.84" stroke-linecap="square" fill="none" opacity="1.0"/><path d="M203.4 320.4h0M203.8 318.7h0M216.4 328.8h0M226.3 316.9h0M215.7 329.2h0M207.4 322.0h0M222.2 323.3h0M223.3 323.4h0M210.7 327.9h0M203.9 322.0h0M213.0 315.0h0M223.5 318.7h0M221.8 323.2h0M201.7 321.3h0M224.5 324.6h0M209.0 322.3h0M204.5 318.1h0M225.0 315.5h0M207.3 315.3h0M210.3 316.9h0M219.5 312.8h0M202.7 320.6h0M208.1 323.1h0M215.6 327.2h0M220.7 323.0h0M225.2 319.2h0M231.3 327.7h0M210.1 324.8h0M217.7 314.0h0M220.7 330.0h0M223.4 322.4h0M217.1 315.4h0M210.3 327.0h0M224.7 319.1h0M220.9 321.2h0M203.6 317.9h0M220.1 322.4h0M219.2 331.9h0M219.7 325.3h0M203.3 325.0h0M199.0 322.0h0M220.4 327.0h0M229.5 318.3h0M203.6 318.1h0M211.7 327.4h0M228.8 318.1h0M202.7 319.1h0M210.2 313.3h0M224.1 321.6h0M227.5 323.9h0M213.0 329.9h0M210.2 319.1h0M205.2 325.3h0M200.8 319.0h0M222.1 325.7h0M222.9 329.7h0M221.8 321.3h0M204.6 315.5h0M226.6 319.7h0M216.3 326.8h0M218.4 324.9h0M222.1 320.4h0M205.4 322.9h0M231.9 323.5h0M218.9 326.1h0M229.2 328.8h0M226.2 325.6h0M224.5 319.3h0M211.3 322.2h0M216.0 330.6h0M217.8 326.4h0M208.1 324.8h0M208.3 321.6h0M209.0 314.9h0M230.5 322.9h0M230.1 319.9h0M222.2 315.7h0M218.9 323.3h0M226.2 322.2h0M229.0 321.3h0M213.8 314.6h0M215.0 327.8h0M226.7 326.9h0M226.3 315.9h0M219.9 313.6h0M220.0 312.8h0M228.0 322.0h0M219.0 329.6h0M214.3 323.9h0M213.2 317.7h0M210.8 329.3h0M226.3 330.8h0M200.0 320.6h0M203.5 325.5h0M225.4 324.6h0" stroke="#d08848" stroke-width="0.84" stroke-linecap="square" fill="none" opacity="1.0"/><path d="M227.6 318.8h0M207.7 320.8h0M198.2 320.5h0M233.3 319.7h0M200.5 320.6h0M209.9 317.5h0M218.0 322.6h0M208.8 325.9h0M225.4 325.8h0M229.1 316.9h0M211.0 313.7h0M207.0 324.9h0M215.2 319.8h0M204.5 323.2h0M227.0 316.1h0M231.0 324.4h0M230.8 318.4h0M206.5 325.2h0M219.4 315.6h0M223.1 326.1h0M208.4 314.8h0M203.1 317.5h0M224.2 332.1h0M226.5 326.1h0M206.3 322.3h0M225.4 317.1h0M216.9 318.1h0M223.7 319.1h0M222.7 327.7h0M230.0 319.9h0M228.5 318.9h0M224.8 322.4h0M227.3 325.5h0M233.0 323.9h0M202.2 324.7h0M229.1 312.4h0M228.2 322.7h0M215.4 314.5h0M217.4 319.7h0M229.2 323.6h0M228.0 313.8h0M226.3 320.5h0M222.9 322.1h0M222.8 321.2h0M222.2 314.2h0M225.3 323.3h0M223.2 325.7h0M230.9 321.9h0M228.7 327.5h0M201.7 321.8h0M217.4 327.4h0M214.7 315.0h0M221.0 317.5h0M207.5 327.3h0M212.9 314.6h0M212.5 316.5h0M219.1 329.8h0M212.4 313.3h0M220.8 313.1h0M218.6 316.2h0M213.6 313.5h0M217.3 321.0h0M204.7 323.3h0M226.5 321.0h0M216.3 321.2h0M208.6 321.6h0M228.6 323.9h0M224.3 322.2h0M224.9 318.1h0M199.0 322.9h0M216.3 317.8h0M216.9 320.8h0M205.3 322.5h0M222.4 317.7h0M231.5 326.5h0M227.7 319.0h0" stroke="#e0b070" stroke-width="0.84" stroke-linecap="square" fill="none" opacity="1.0"/><path d="M225.9 325.5h0M209.5 313.2h0M218.0 320.7h0M223.0 320.8h0M228.2 327.4h0M225.6 314.1h0M211.8 312.9h0M216.5 321.1h0M203.6 323.6h0M199.1 322.3h0M226.9 328.4h0M223.8 331.0h0M213.7 323.9h0M210.5 314.2h0M206.1 316.1h0M215.2 315.1h0M201.8 319.6h0M206.8 317.7h0M214.2 323.6h0M208.9 320.4h0M217.3 312.4h0M205.7 319.4h0M213.3 323.9h0M224.8 328.3h0M223.9 322.7h0M226.2 313.3h0M222.8 323.9h0M207.7 323.2h0M208.0 326.7h0M229.3 319.7h0M228.3 317.5h0M218.7 324.2h0M213.2 324.6h0M230.9 321.9h0M217.4 325.5h0M202.2 318.2h0M212.6 328.7h0M222.9 329.9h0M214.7 323.2h0M212.6 318.8h0M231.7 325.1h0M222.4 331.7h0M204.5 314.3h0M226.7 322.4h0M229.1 317.7h0M222.7 323.1h0M222.5 319.9h0M221.7 327.0h0M215.6 327.1h0M232.9 320.3h0M221.2 330.9h0M228.7 314.1h0M223.5 325.9h0M225.4 322.7h0M201.1 323.9h0M208.1 316.6h0M231.1 323.0h0M223.5 321.7h0M230.4 320.3h0M214.1 327.5h0M215.2 323.3h0M220.4 323.0h0M204.9 325.7h0M212.7 315.2h0M208.0 327.4h0M202.7 324.3h0M222.8 318.6h0M210.3 326.6h0M220.1 332.1h0M199.5 321.2h0M230.3 330.5h0M215.1 324.3h0M225.7 312.1h0M215.7 331.2h0M209.6 318.3h0M228.3 325.5h0M229.5 320.3h0" stroke="#c87840" stroke-width="0.84" stroke-linecap="square" fill="none" opacity="1.0"/><path d="M219.0 320.7h0M225.4 330.5h0M222.6 315.3h0M203.3 324.8h0M224.1 319.5h0M231.7 321.2h0M202.9 320.1h0M210.7 323.7h0M213.3 325.5h0M229.3 323.9h0M216.4 315.7h0M222.3 327.1h0M207.0 318.2h0M201.1 320.5h0M218.6 323.8h0M207.2 318.2h0M226.0 325.7h0M227.9 331.5h0M226.1 317.7h0M202.6 322.5h0M229.5 316.3h0M223.8 321.8h0M206.2 325.3h0M204.2 323.1h0M218.9 321.0h0M212.1 318.8h0M227.7 328.0h0M225.3 325.7h0M224.1 321.2h0M227.4 314.8h0M219.9 327.1h0M231.8 323.4h0M206.0 316.5h0M220.5 315.6h0M225.0 330.0h0M228.0 312.3h0M219.5 329.4h0M215.3 317.7h0M204.3 319.0h0M233.5 325.1h0M221.3 312.3h0M200.3 319.8h0M223.8 322.4h0M211.9 325.8h0M231.9 317.6h0M204.1 315.9h0M202.8 325.1h0M209.0 320.4h0M217.9 317.9h0M227.4 321.8h0M216.7 314.8h0M225.8 324.8h0M207.5 315.1h0M199.3 322.2h0M223.5 326.3h0M215.3 317.9h0M209.0 315.7h0M206.7 326.1h0M229.4 328.3h0M227.6 316.8h0M215.4 313.3h0M230.6 323.0h0M230.2 332.2h0M205.6 324.3h0M212.7 312.4h0M206.6 321.3h0M219.2 315.4h0M216.8 316.0h0M224.8 322.2h0M227.2 318.2h0M221.0 322.8h0M216.4 321.9h0M232.6 317.6h0M226.5 331.2h0M226.6 325.7h0M204.1 326.1h0M209.4 319.6h0M210.0 328.3h0M219.0 327.3h0M226.8 322.2h0" stroke="#b89050" stroke-width="0.84" stroke-linecap="square" fill="none" opacity="1.0"/><path d="M244.1 321.8h0M242.0 321.5h0M241.2 324.3h0M245.0 322.9h0M242.4 319.7h0M244.2 323.2h0M244.4 323.4h0M239.3 320.2h0M242.6 323.9h0M243.7 325.4h0M241.6 323.0h0M243.1 323.3h0M242.1 325.6h0M245.6 323.6h0M241.9 319.8h0M243.9 322.1h0M243.0 319.8h0M242.5 319.7h0M241.2 319.9h0M242.2 323.0h0M242.5 320.5h0M241.6 321.8h0" stroke="#f0b888" stroke-width="0.70" stroke-linecap="square" fill="none" opacity="1.0"/><path d="M243.1 320.0h0M243.3 325.6h0M244.3 324.7h0M239.4 320.8h0M245.2 324.2h0M241.2 322.3h0M241.0 322.6h0M243.3 319.9h0M241.3 324.1h0M245.4 323.6h0M241.3 321.1h0M241.3 323.0h0M244.1 325.7h0M243.2 322.9h0M242.1 324.1h0M243.9 319.6h0M242.7 321.3h0M240.2 322.6h0M242.7 324.7h0" stroke="#f8c8a0" stroke-width="0.70" stroke-linecap="square" fill="none" opacity="1.0"/><path d="M243.9 322.0h0M242.3 324.5h0M240.0 322.1h0M243.4 319.1h0M245.4 323.3h0M243.6 324.2h0M244.2 320.1h0M240.8 324.4h0M241.2 318.8h0M243.5 320.2h0M245.3 322.5h0M243.2 321.0h0M243.6 324.2h0M240.4 324.5h0M241.7 321.0h0M243.2 323.5h0M242.8 318.9h0M241.0 322.3h0M240.5 321.5h0" stroke="#e8a070" stroke-width="0.70" stroke-linecap="square" fill="none" opacity="1.0"/><path d="M185.4 334.3h0M185.4 331.7h0M188.3 333.6h0M187.2 329.7h0M186.4 332.4h0M187.5 332.6h0M187.1 334.1h0M185.6 333.6h0M188.7 331.9h0M184.5 334.1h0M187.8 330.4h0M188.3 330.9h0M183.5 334.0h0M186.5 331.1h0M186.8 334.0h0M186.5 329.9h0M186.7 332.8h0M184.1 332.5h0M187.3 332.3h0M183.2 332.5h0M186.8 332.3h0M187.0 330.8h0M185.9 330.9h0M188.9 333.6h0M183.1 330.8h0M186.0 332.9h0M187.4 332.6h0M188.0 330.0h0M187.0 333.8h0M185.2 331.2h0M185.0 331.7h0M186.2 333.6h0M186.3 332.5h0M185.3 332.8h0" stroke="#30bdf0" stroke-width="0.80" stroke-linecap="square" fill="none" opacity="1.0"/><path d="M186.3 332.5h0M184.5 330.4h0M186.7 330.1h0M188.7 331.5h0M187.2 331.4h0M185.3 333.2h0M186.4 333.7h0M186.1 332.0h0M186.7 333.6h0M189.5 331.6h0M189.6 330.6h0M187.2 329.6h0M188.4 333.0h0M188.4 330.4h0M186.8 329.4h0M184.0 330.8h0M187.9 332.2h0M189.8 331.0h0M187.7 331.0h0M184.4 330.8h0M184.1 331.8h0M187.0 329.8h0M187.8 330.6h0M185.2 330.0h0M185.3 333.0h0M186.5 330.2h0M183.6 332.4h0M185.0 333.8h0M186.2 332.4h0M183.0 331.8h0M186.8 330.5h0M187.8 331.5h0M186.5 329.9h0M187.0 330.8h0M185.1 332.7h0M185.6 332.8h0" stroke="#48c8f0" stroke-width="0.80" stroke-linecap="square" fill="none" opacity="1.0"/><path d="M197.2 326.3h0M192.0 328.2h0M192.9 330.9h0M192.3 331.6h0M193.4 328.8h0M195.2 328.4h0M195.8 327.4h0M193.6 322.8h0M192.0 328.1h0M193.1 324.8h0M192.1 328.2h0" stroke="#d0a090" stroke-width="0.60" stroke-linecap="square" fill="none" opacity="1.0"/><path d="M194.1 328.6h0M195.4 325.7h0M194.5 325.1h0M193.2 330.0h0M193.8 326.8h0M192.6 326.1h0M192.6 326.4h0M193.7 328.1h0M194.0 328.8h0M193.4 323.6h0M193.3 324.4h0M194.5 320.7h0M192.4 325.4h0M193.8 330.0h0" stroke="#c09080" stroke-width="0.60" stroke-linecap="square" fill="none" opacity="1.0"/><path d="M190.7 352.0h0M189.4 343.8h0M189.0 342.9h0M190.1 340.2h0M189.8 342.3h0M188.6 346.5h0M187.1 344.3h0M187.3 345.4h0M190.4 336.7h0M192.5 342.5h0M184.1 350.6h0M188.6 340.7h0M190.3 339.7h0M194.3 348.1h0M191.9 343.4h0M193.3 345.1h0M187.0 347.6h0M190.0 344.1h0M195.8 345.1h0M185.8 343.0h0M196.0 343.5h0M193.9 342.4h0M190.0 346.6h0M196.6 345.7h0M193.7 347.8h0M184.8 349.8h0M190.2 336.4h0M194.1 352.0h0M198.5 342.1h0M190.0 352.9h0M187.2 343.8h0M194.9 354.7h0M196.5 339.3h0M191.8 339.3h0M189.7 349.3h0M193.0 344.4h0" stroke="#7080c0" stroke-width="0.60" stroke-linecap="square" fill="none" opacity="1.0"/><path d="M191.3 344.2h0M184.0 343.5h0M190.6 346.8h0M188.6 353.1h0M198.8 347.8h0M184.4 342.8h0M193.5 350.7h0M195.1 348.8h0M191.0 339.4h0M188.0 340.8h0M193.0 340.1h0M188.8 343.4h0M192.3 347.2h0M191.9 342.7h0M196.1 340.8h0M182.7 347.4h0M182.9 351.7h0M187.1 351.6h0M191.1 338.5h0M188.1 348.4h0M195.9 345.3h0M188.8 345.9h0" stroke="#a0a8d0" stroke-width="0.60" stroke-linecap="square" fill="none" opacity="1.0"/><path d="M186.6 342.4h0M189.8 346.1h0M193.8 343.3h0M193.8 346.9h0M193.0 348.5h0M189.5 342.1h0M190.3 344.1h0M193.4 352.1h0M186.3 355.8h0M184.4 354.0h0M190.2 345.3h0M192.9 345.1h0M192.7 347.4h0M185.9 340.9h0M186.5 346.4h0M187.1 356.8h0M187.0 352.4h0M192.2 344.3h0M187.3 349.6h0M194.6 351.5h0M193.6 343.0h0M193.9 346.9h0M193.8 357.2h0M189.4 342.9h0M193.3 339.7h0M188.0 343.6h0M186.0 354.1h0M187.0 340.0h0M192.8 345.0h0M186.8 337.0h0" stroke="#b8b0c0" stroke-width="0.60" stroke-linecap="square" fill="none" opacity="1.0"/><path d="M193.2 347.2h0M193.5 351.8h0M188.0 343.8h0M187.9 347.1h0M190.9 340.3h0M196.5 347.8h0M192.7 344.2h0M194.9 345.7h0M196.7 349.7h0M185.1 355.0h0M190.4 350.2h0M191.1 341.8h0M187.5 337.1h0M194.5 345.6h0M189.5 350.5h0M186.6 354.6h0M188.8 347.0h0M192.6 348.4h0M186.7 342.8h0M197.2 346.0h0M191.4 343.6h0M190.3 348.3h0M191.9 354.1h0M190.9 350.3h0M191.8 341.4h0M190.5 343.6h0M190.0 344.6h0M182.7 343.4h0M195.8 344.9h0M190.9 347.4h0M192.8 348.3h0M189.3 348.5h0M190.6 354.5h0M194.3 354.0h0M186.3 340.5h0M192.1 344.4h0M192.6 350.0h0M191.1 351.7h0M184.8 337.3h0M190.4 351.8h0M195.4 347.8h0M188.8 345.9h0" stroke="#8898c8" stroke-width="0.60" stroke-linecap="square" fill="none" opacity="1.0"/><path d="M202.3 344.6h0M217.1 347.7h0M214.4 355.3h0M208.0 341.0h0M220.7 340.0h0M223.3 341.9h0M210.1 349.3h0M217.5 346.7h0M211.7 336.4h0M223.7 345.1h0M204.4 333.3h0M225.5 344.2h0M212.5 337.5h0M205.9 335.0h0M215.2 338.6h0M209.0 347.3h0M205.8 333.4h0M219.6 352.8h0M209.2 352.3h0M199.4 334.0h0M202.3 333.7h0M203.9 334.3h0M200.7 343.9h0M215.0 338.8h0M206.0 347.3h0M210.3 350.7h0M212.6 342.4h0M220.5 351.3h0M219.3 347.3h0M217.3 344.5h0M214.3 348.8h0M210.4 347.6h0M220.7 343.0h0M211.3 352.1h0M206.8 350.7h0M212.4 342.9h0M222.7 342.1h0M215.3 344.7h0M218.2 335.5h0M208.0 336.3h0M210.7 345.3h0M213.9 343.0h0M205.6 337.8h0M222.8 343.7h0M212.0 340.2h0M205.6 347.3h0M218.3 340.7h0M222.9 349.4h0M214.8 349.7h0M202.8 345.6h0M222.6 343.9h0M203.9 347.0h0M211.9 333.8h0M211.9 342.0h0M215.8 354.3h0M202.5 347.5h0" stroke="#5070c8" stroke-width="0.80" stroke-linecap="square" fill="none" opacity="1.0"/><path d="M210.4 347.5h0M211.6 347.8h0M206.7 341.5h0M223.8 338.8h0M210.9 350.6h0M206.4 340.1h0M218.7 337.5h0M204.2 344.4h0M219.4 341.2h0M217.0 341.1h0M209.4 348.3h0M206.2 352.0h0M207.5 339.1h0M200.5 341.7h0M201.4 338.5h0M223.0 347.7h0M221.4 337.9h0M212.1 335.4h0M215.4 345.0h0M214.3 346.0h0M218.2 340.5h0M207.6 343.0h0M223.0 350.4h0M216.7 342.4h0M201.4 340.2h0M205.1 348.3h0M207.4 354.0h0M223.4 350.4h0M220.2 337.8h0M216.2 335.8h0M209.1 346.6h0M202.6 347.1h0M209.5 348.8h0M199.1 334.4h0M225.6 340.8h0M202.3 334.6h0M217.0 346.8h0M223.6 346.4h0M214.3 345.4h0M215.2 353.7h0M215.0 345.2h0M215.8 352.3h0M212.1 334.3h0M218.7 336.2h0M220.7 337.2h0M206.6 343.6h0M207.0 335.8h0M214.6 335.2h0M211.0 348.1h0M207.7 352.5h0M201.0 338.5h0M204.7 337.5h0M219.6 351.6h0M217.2 340.2h0M202.0 334.8h0M207.3 353.3h0" stroke="#2248b0" stroke-width="0.80" stroke-linecap="square" fill="none" opacity="1.0"/><path d="M207.2 339.3h0M216.5 340.9h0M214.5 354.6h0M207.3 348.0h0M217.8 345.4h0M201.5 343.2h0M220.1 348.9h0M215.8 340.7h0M200.9 344.1h0M208.0 345.6h0M200.5 341.8h0M211.4 349.5h0M216.3 343.5h0M213.0 336.9h0M201.4 333.3h0M219.5 352.4h0M207.7 346.3h0M215.5 355.9h0M206.1 349.3h0M206.5 350.8h0M215.0 353.3h0M214.4 347.6h0M214.7 346.9h0M225.8 346.1h0M219.2 343.0h0M210.7 356.3h0M206.3 349.0h0M219.8 349.7h0M224.1 340.3h0M214.0 335.3h0M211.2 344.1h0M221.0 352.7h0M204.8 349.8h0M207.3 332.9h0M218.3 336.7h0M217.1 339.7h0M205.9 341.4h0M206.5 343.6h0M216.4 349.7h0M210.2 353.8h0M204.2 333.1h0M201.2 339.0h0M199.4 337.8h0M222.1 350.8h0M214.9 350.9h0M216.7 337.4h0M218.3 354.8h0M208.8 355.5h0M216.3 339.4h0M218.8 351.1h0M203.2 346.6h0M204.4 347.8h0M210.9 353.1h0M223.4 343.1h0M225.5 340.6h0M216.1 340.8h0M215.9 344.8h0M219.7 347.6h0M207.1 340.8h0M216.5 348.4h0" stroke="#6a84d0" stroke-width="0.80" stroke-linecap="square" fill="none" opacity="1.0"/><path d="M209.2 345.8h0M212.3 350.6h0M204.1 333.9h0M215.8 334.0h0M216.4 340.3h0M219.3 344.5h0M209.6 346.7h0M221.8 344.7h0M211.2 349.3h0M200.5 336.2h0M210.0 348.9h0M202.0 346.9h0M212.1 354.8h0M219.0 339.7h0M205.5 332.9h0M212.0 342.3h0M202.6 337.9h0M213.4 344.5h0M218.1 340.9h0M217.3 335.4h0M211.8 352.7h0M214.3 342.0h0M211.9 354.0h0M210.8 354.1h0M217.7 337.8h0M221.1 348.9h0M211.9 335.7h0M216.3 355.0h0M225.1 342.7h0M217.9 337.0h0M216.0 340.6h0M213.5 337.6h0M225.5 340.5h0M218.2 342.6h0M206.3 335.3h0M205.5 349.1h0M218.4 353.1h0M209.7 339.9h0M217.4 340.3h0M200.3 341.0h0M216.9 341.8h0M210.1 355.7h0M212.5 354.0h0M209.6 341.8h0M217.3 344.8h0M219.3 346.3h0M200.7 340.5h0M215.6 337.2h0M219.7 342.3h0M220.5 342.2h0M217.2 352.1h0M209.3 339.5h0M203.4 339.3h0M199.3 333.7h0M220.9 343.7h0M214.1 357.4h0M218.0 344.8h0M204.8 335.5h0M213.5 334.2h0M214.3 334.4h0" stroke="#c0c8e8" stroke-width="0.80" stroke-linecap="square" fill="none" opacity="1.0"/><path d="M214.4 333.9h0M224.0 340.6h0M213.1 355.2h0M223.9 346.8h0M211.3 347.1h0M218.9 349.9h0M203.0 344.4h0M224.1 340.1h0M222.0 338.1h0M217.1 348.5h0M217.1 338.0h0M212.9 350.5h0M215.8 351.3h0M211.5 346.2h0M212.4 340.4h0M208.3 343.3h0M214.7 355.4h0M216.7 336.1h0M211.4 356.4h0M212.8 347.3h0M204.3 333.9h0M210.6 341.5h0M220.0 351.8h0M204.3 338.3h0M202.5 335.7h0M203.3 349.6h0M209.9 341.7h0M210.6 347.1h0M206.3 346.6h0M209.2 333.7h0M211.8 342.2h0M205.0 345.2h0M208.7 333.8h0M213.2 336.5h0M212.9 343.0h0M211.4 336.9h0M214.6 335.6h0M207.9 352.4h0M205.8 340.5h0M214.7 351.2h0M225.9 342.2h0M215.1 353.7h0M214.3 346.0h0M221.9 350.3h0M199.7 334.8h0M208.1 354.3h0M202.6 336.7h0M213.0 336.2h0M202.5 338.1h0M209.0 348.1h0M211.7 336.9h0M212.8 353.9h0M201.3 342.2h0M206.1 344.0h0M209.5 337.5h0M220.9 341.0h0M207.8 342.1h0M202.8 344.7h0M216.1 355.1h0M209.4 340.8h0M217.5 342.7h0" stroke="#3a5ac0" stroke-width="0.80" stroke-linecap="square" fill="none" opacity="1.0"/><path d="M207.5 351.0h0M207.2 347.4h0M214.3 347.3h0M214.2 358.4h0M206.7 351.3h0M204.7 342.1h0M221.6 348.8h0M202.6 342.9h0M202.5 345.3h0M209.5 334.3h0M218.0 343.3h0M208.4 339.5h0M214.1 346.4h0M205.2 337.4h0M211.2 334.6h0M218.9 337.7h0M212.3 339.5h0M212.0 345.8h0M217.8 341.3h0M214.6 347.4h0M209.1 343.0h0M206.3 336.5h0M210.6 347.3h0M208.4 337.7h0M216.0 336.2h0M199.5 336.4h0M201.6 343.7h0M211.3 335.0h0M226.0 342.2h0M211.2 338.8h0M208.9 342.2h0M219.2 350.7h0M216.8 338.3h0M214.8 354.4h0M204.0 351.2h0M206.1 349.1h0M215.9 346.9h0M212.0 342.5h0M224.3 340.0h0M205.8 340.5h0M215.5 352.1h0M219.9 344.9h0M217.4 343.1h0M205.9 336.3h0M218.5 341.6h0M218.2 338.3h0M218.3 339.6h0M207.3 341.2h0M221.8 340.6h0M215.4 357.2h0M214.9 348.5h0M203.3 345.2h0M218.9 345.2h0M216.9 355.9h0M222.5 338.6h0M208.9 352.6h0M217.4 354.7h0M220.6 351.6h0M220.1 343.2h0M212.6 357.1h0M209.0 337.9h0" stroke="#b0bce8" stroke-width="0.80" stroke-linecap="square" fill="none" opacity="1.0"/><path d="M210.1 347.4h0M219.3 350.7h0M213.9 350.9h0M217.2 354.4h0M210.7 353.6h0M221.7 337.9h0M215.7 353.5h0M220.9 350.4h0M213.5 351.0h0M207.4 348.3h0M206.1 335.8h0M207.0 345.0h0M211.9 343.9h0M204.6 341.7h0M215.0 335.5h0M210.0 355.0h0M225.4 343.7h0M211.7 348.0h0M218.2 337.5h0M218.5 335.5h0M213.5 350.3h0M215.2 346.7h0M211.8 340.6h0M216.2 339.6h0M213.5 336.9h0M219.5 342.6h0M211.3 346.6h0M211.4 347.1h0M212.1 339.0h0M212.6 355.9h0M207.0 352.3h0M216.4 336.7h0M205.2 338.0h0M200.7 335.3h0M212.3 341.3h0M207.2 344.4h0M201.3 338.2h0M214.3 334.1h0M222.3 347.3h0M221.0 350.3h0M214.3 346.5h0M199.2 336.5h0M217.2 334.3h0M204.2 339.0h0M208.0 337.1h0M213.4 349.0h0M223.6 346.7h0M216.7 355.9h0M215.2 351.9h0M214.6 355.8h0M218.7 353.1h0M216.7 339.1h0M216.0 353.8h0M204.6 345.5h0M223.5 345.2h0M213.3 336.3h0M202.5 344.9h0M215.3 335.8h0M222.4 347.1h0M223.1 347.0h0M209.9 338.3h0M213.8 356.2h0M210.6 345.1h0M224.3 339.1h0M205.7 332.5h0" stroke="#2a4ab0" stroke-width="0.80" stroke-linecap="square" fill="none" opacity="1.0"/><path d="M216.5 340.5h0M217.8 351.5h0M208.9 342.4h0M214.3 350.6h0M206.5 341.5h0M201.7 339.4h0M211.9 348.2h0M211.4 334.3h0M212.9 356.4h0M211.8 347.4h0M224.3 346.2h0M209.0 335.0h0M210.2 334.5h0M206.0 334.1h0M222.2 346.5h0M206.3 333.2h0M215.2 357.5h0M201.9 343.4h0M206.1 342.4h0M218.4 347.6h0M215.5 336.7h0M205.4 351.0h0M213.3 335.4h0M208.5 339.5h0M219.8 342.0h0M215.9 356.9h0M210.1 343.4h0M206.1 336.7h0M205.5 340.0h0M207.1 339.2h0M217.5 340.6h0M209.1 348.4h0M221.6 340.9h0M205.3 349.2h0M203.3 336.5h0M205.1 335.2h0M203.3 344.7h0M204.6 347.0h0M216.1 343.4h0M220.0 351.1h0M205.8 349.0h0M215.0 339.6h0M206.3 351.3h0M226.2 345.4h0M203.8 350.1h0" stroke="#a0b0e0" stroke-width="0.80" stroke-linecap="square" fill="none" opacity="1.0"/><path d="M222.8 343.4h0M199.8 336.3h0M221.7 345.8h0M213.9 348.3h0M220.4 351.8h0M211.4 349.2h0M204.5 343.7h0M215.7 339.4h0M211.6 342.5h0M219.9 339.0h0M206.4 343.4h0M209.0 351.3h0M201.6 345.9h0M202.1 334.2h0M219.1 348.2h0M221.7 351.3h0M210.7 337.7h0M213.4 339.5h0M225.6 343.5h0M220.5 345.6h0M211.6 341.3h0M208.6 341.5h0M200.7 343.1h0M219.1 341.6h0M202.0 336.2h0M206.9 353.3h0M213.8 351.7h0M221.4 342.2h0M216.1 334.6h0M222.0 347.9h0M203.3 334.9h0M216.8 346.1h0M218.6 350.4h0M215.3 344.0h0M216.7 351.2h0M208.5 344.6h0M208.1 338.9h0M224.1 347.5h0M214.8 348.1h0M220.8 349.6h0M203.3 341.0h0M223.1 342.4h0M220.8 339.7h0M207.2 342.6h0M214.7 340.3h0M205.2 350.2h0M217.2 347.3h0M206.4 350.4h0M219.0 352.7h0M216.9 336.3h0M213.4 334.6h0M218.9 341.9h0M211.9 335.8h0M203.1 342.6h0M216.8 342.7h0M201.9 336.2h0" stroke="#8898d8" stroke-width="0.80" stroke-linecap="square" fill="none" opacity="1.0"/><path d="M217.5 348.3h0M216.7 341.4h0M219.3 349.1h0M216.4 344.0h0M218.8 345.5h0M218.9 343.1h0M213.5 345.2h0M210.6 343.4h0M214.5 341.8h0M213.9 349.6h0M215.8 339.3h0M210.7 340.1h0M216.5 349.3h0M208.6 353.1h0M213.4 345.8h0M209.9 342.2h0M213.1 334.5h0M210.1 349.9h0M207.4 345.4h0M214.3 339.7h0M218.6 348.3h0M208.8 348.9h0M212.7 345.3h0M206.3 340.4h0M216.7 351.6h0M207.4 348.2h0M209.7 336.9h0M218.8 347.3h0M211.2 346.8h0M206.0 350.6h0M221.0 339.1h0M213.1 342.4h0M213.7 341.1h0M211.4 350.7h0M221.8 340.4h0M215.0 332.6h0M221.1 341.5h0M206.3 350.4h0M211.6 338.7h0M212.0 341.0h0M210.2 338.6h0M213.8 339.9h0M206.0 346.6h0" stroke="#2a4ab8" stroke-width="0.90" stroke-linecap="square" fill="none" opacity="1.0"/><path d="M220.7 337.5h0M207.7 342.1h0M215.8 347.2h0M212.9 346.6h0M204.9 347.6h0M221.0 341.1h0M213.2 348.5h0M207.2 340.6h0M213.9 353.1h0M219.5 349.6h0M220.9 340.1h0M212.4 336.8h0M214.5 333.5h0M216.6 339.9h0M210.7 339.7h0M209.4 345.9h0M217.0 347.3h0M220.4 346.1h0M209.7 341.1h0M212.0 338.6h0M208.2 348.3h0M209.9 338.2h0M206.7 345.5h0M212.7 336.5h0M221.0 343.8h0M215.0 342.9h0M212.1 345.4h0M215.9 335.9h0M219.2 344.8h0M211.5 341.8h0M214.6 346.6h0M215.5 340.2h0M206.9 351.6h0M209.2 335.8h0M220.9 344.7h0M214.3 343.7h0M209.4 342.4h0M213.6 347.9h0M212.1 336.1h0M203.7 341.2h0M206.8 343.7h0M213.2 341.5h0" stroke="#1e3ea8" stroke-width="0.90" stroke-linecap="square" fill="none" opacity="1.0"/><path d="M217.4 345.3h0M214.4 343.8h0M208.4 344.0h0M210.4 348.0h0M208.6 351.1h0M213.7 342.5h0M213.3 351.8h0M216.2 333.0h0M213.3 344.7h0M214.8 343.8h0M208.5 341.5h0M217.7 346.2h0M214.4 346.5h0M216.3 344.6h0M205.2 346.8h0M203.9 345.0h0M209.3 333.1h0M206.4 337.0h0M206.1 345.4h0M216.2 344.0h0M215.7 338.5h0M212.8 336.2h0M210.3 341.0h0M205.7 335.7h0M213.0 353.0h0M208.4 344.6h0M209.7 335.6h0M213.3 352.1h0M214.3 336.9h0M215.3 345.0h0M211.7 336.5h0M211.0 349.6h0M217.3 336.3h0M212.4 335.0h0M207.1 346.6h0M206.3 339.1h0M215.2 346.0h0M214.0 334.0h0M211.3 338.8h0M211.4 341.5h0M216.8 335.5h0M220.7 347.5h0M212.0 353.5h0M216.9 345.8h0M211.9 332.4h0" stroke="#2848b0" stroke-width="0.90" stroke-linecap="square" fill="none" opacity="1.0"/><path d="M230.3 340.1h0M231.4 339.9h0M227.2 339.8h0M229.7 337.5h0M231.6 340.5h0M231.5 338.2h0M232.2 337.0h0M232.7 340.5h0M229.7 339.6h0M228.4 339.4h0M227.1 338.6h0M232.1 337.6h0M230.8 338.8h0M228.8 338.9h0M227.8 338.3h0M230.9 337.4h0M229.2 337.3h0M227.9 339.0h0M233.5 339.0h0M231.2 337.3h0M232.5 338.0h0M232.6 338.7h0M232.2 338.7h0M231.7 338.8h0M231.8 337.3h0M230.9 337.2h0M234.3 338.6h0M233.2 338.0h0M230.0 338.4h0M232.1 340.6h0" stroke="#2a6a3a" stroke-width="0.90" stroke-linecap="square" fill="none" opacity="1.0"/><path d="M226.8 340.0h0M233.0 337.3h0M229.1 339.9h0M230.2 338.7h0M233.3 337.6h0M233.7 338.2h0M230.5 340.6h0M232.3 339.3h0M233.9 338.2h0M230.6 336.7h0M229.9 339.9h0M228.6 341.4h0M227.4 338.0h0M228.1 341.2h0M233.2 337.7h0M230.5 338.3h0M226.9 338.7h0M231.9 338.5h0M232.7 338.7h0M232.1 340.6h0M232.0 339.0h0M228.2 341.4h0M230.1 339.8h0M227.7 340.4h0M230.5 337.5h0M231.8 339.1h0M233.2 337.6h0M229.4 339.0h0M232.2 339.6h0M231.8 338.9h0M231.3 338.0h0M235.1 337.4h0M226.8 339.1h0" stroke="#1e6030" stroke-width="0.90" stroke-linecap="square" fill="none" opacity="1.0"/><path d="M230.8 340.9h0M231.4 340.1h0M230.1 337.1h0M234.7 337.9h0M232.6 338.8h0M233.5 337.3h0M227.2 339.9h0M231.5 338.0h0M231.9 340.2h0M232.8 338.1h0M228.1 340.7h0M231.6 338.8h0M235.4 337.6h0M231.1 337.8h0M233.1 339.7h0M233.1 337.1h0M227.8 338.8h0M228.0 337.6h0M230.7 339.6h0M231.2 338.6h0M230.7 339.9h0M230.0 337.2h0M228.5 340.6h0M229.2 341.0h0M232.3 338.3h0M231.6 340.4h0M227.4 338.5h0" stroke="#3a7a48" stroke-width="0.90" stroke-linecap="square" fill="none" opacity="1.0"/><path d="M234.9 339.8h0M238.0 337.7h0M236.2 359.7h0M220.3 357.8h0M241.3 338.3h0M233.8 350.5h0M242.2 337.5h0M234.1 346.9h0M234.2 359.7h0M235.8 340.3h0M231.1 352.7h0M235.4 349.2h0M244.0 341.4h0M255.9 356.7h0M235.1 351.1h0M233.4 341.9h0M236.2 353.6h0M229.4 354.3h0M225.3 348.1h0M243.7 344.4h0M231.5 367.8h0M251.0 358.4h0M231.5 360.6h0M232.4 339.2h0M237.4 351.6h0M232.1 353.3h0M239.7 348.9h0M226.4 349.8h0M242.1 345.6h0M246.0 346.1h0M239.8 347.4h0M228.5 345.3h0M230.0 355.1h0M248.5 341.5h0M247.8 344.7h0M241.7 355.4h0M235.5 353.6h0M257.0 355.8h0M231.8 346.8h0M236.2 349.0h0M241.1 343.4h0M229.6 353.5h0M236.5 359.0h0M230.2 352.4h0M238.5 342.7h0M239.7 346.7h0M233.3 350.0h0M244.3 350.4h0M228.3 345.5h0M234.8 343.7h0M247.0 343.4h0M227.0 359.1h0M240.1 351.6h0M232.4 333.7h0M246.0 353.8h0M241.7 349.5h0M246.8 352.9h0M230.1 340.1h0M240.4 345.0h0M244.2 354.3h0" stroke="#c8a898" stroke-width="0.60" stroke-linecap="square" fill="none" opacity="1.0"/><path d="M233.5 343.2h0M222.7 341.9h0M232.6 357.1h0M237.9 350.8h0M235.7 340.7h0M251.0 351.1h0M244.1 344.3h0M231.5 348.8h0M247.0 350.6h0M224.8 351.5h0M233.6 346.6h0M243.7 349.2h0M250.8 349.9h0M232.7 347.2h0M251.8 354.2h0M241.4 335.0h0M238.3 348.6h0M226.5 342.1h0M244.9 347.8h0M218.1 338.8h0M229.0 354.2h0M230.1 355.3h0M236.4 357.8h0M233.4 345.9h0M238.0 328.9h0M231.1 351.0h0M237.3 336.0h0M241.4 350.8h0M242.6 348.2h0M244.9 349.1h0M234.2 350.3h0M231.2 343.5h0M239.0 358.5h0M250.1 349.2h0M237.0 348.6h0M249.5 357.6h0M241.3 359.8h0M237.5 337.9h0M230.8 347.5h0M239.7 344.6h0M229.6 348.7h0M246.4 351.5h0M234.5 342.1h0M236.9 345.5h0M240.1 354.1h0M239.2 356.2h0M220.1 341.3h0M233.3 341.5h0M222.8 341.9h0M230.4 350.1h0M235.7 341.6h0M233.1 353.0h0M247.2 353.2h0M238.9 348.3h0M234.2 350.9h0M238.5 356.8h0M236.7 353.9h0M241.7 341.1h0M235.3 348.0h0M232.1 353.1h0M225.5 344.1h0M221.9 345.1h0M234.7 346.7h0" stroke="#b08060" stroke-width="0.60" stroke-linecap="square" fill="none" opacity="1.0"/><path d="M242.8 344.7h0M252.9 342.9h0M219.5 345.8h0M238.7 340.1h0M244.1 350.6h0M225.6 339.0h0M242.8 349.1h0M241.7 349.3h0M221.1 342.6h0M248.8 343.8h0M233.1 338.3h0M250.3 346.4h0M233.5 343.3h0M238.7 341.5h0M247.4 349.4h0M236.4 347.4h0M250.0 345.6h0M237.0 359.7h0M232.8 349.9h0M235.1 342.0h0M231.8 338.9h0M245.0 349.6h0M235.7 346.3h0M242.5 343.5h0M248.9 344.7h0M242.3 340.8h0M238.8 343.2h0M234.0 357.7h0M243.8 344.0h0M227.4 345.0h0M225.1 341.8h0M253.6 356.5h0M241.5 349.4h0M250.5 352.0h0M236.1 342.7h0M238.9 345.6h0M224.8 346.9h0M237.1 349.3h0M236.3 339.2h0M229.0 351.9h0M238.5 353.5h0M234.8 360.1h0M226.6 338.0h0M251.4 354.9h0M234.0 348.0h0M246.6 350.9h0M243.1 345.7h0M237.7 341.3h0M237.9 360.3h0M233.4 351.5h0M233.9 342.6h0M239.0 353.6h0M240.3 342.6h0" stroke="#a07050" stroke-width="0.60" stroke-linecap="square" fill="none" opacity="1.0"/><path d="M252.4 350.3h0M237.9 354.2h0M241.1 346.2h0M246.5 359.0h0M239.8 344.6h0M229.1 343.7h0M232.5 343.2h0M248.2 351.2h0M259.3 340.1h0M254.5 342.7h0M246.8 342.0h0M237.2 350.7h0M233.8 346.6h0M239.8 347.8h0M236.4 346.7h0M231.0 353.2h0M243.9 342.9h0M233.9 355.4h0M233.6 348.0h0M248.3 348.7h0M233.3 356.8h0M232.7 344.6h0M247.0 344.5h0M236.3 337.9h0M231.9 345.9h0M231.2 350.6h0M227.4 353.2h0M227.4 346.6h0M227.0 348.5h0M250.0 342.3h0M233.3 343.6h0M231.2 339.6h0M241.5 344.7h0M247.1 355.4h0M234.3 343.3h0M235.0 345.9h0M227.8 343.1h0M236.5 344.6h0M236.5 334.3h0M234.4 336.3h0M224.4 351.7h0M227.8 343.9h0M260.2 351.6h0M230.0 355.9h0" stroke="#c0a090" stroke-width="0.60" stroke-linecap="square" fill="none" opacity="1.0"/><path d="M224.1 374.0h0M218.8 373.1h0M222.4 358.1h0M217.3 373.2h0M229.7 365.9h0M227.5 365.5h0M222.4 368.3h0M212.4 373.5h0M225.6 373.4h0M219.3 375.0h0M218.8 376.5h0M240.5 364.4h0M237.4 365.9h0M242.6 362.7h0M231.9 360.1h0M223.7 368.9h0M217.8 370.8h0M235.9 369.0h0M210.6 372.4h0M231.3 371.6h0M228.7 376.8h0M227.9 361.6h0M222.9 360.7h0M219.1 365.1h0M209.5 367.0h0M235.5 371.8h0M227.5 373.5h0M237.5 368.7h0M230.8 358.3h0M225.9 370.2h0M223.2 363.6h0M237.8 370.6h0M216.9 362.2h0M233.8 370.8h0M242.1 367.7h0M231.5 367.4h0M231.7 369.1h0M222.7 368.2h0M228.0 373.7h0M228.7 368.5h0M236.4 360.1h0M232.3 360.9h0M226.2 360.2h0M215.4 376.1h0M211.0 365.4h0M226.4 366.7h0M226.2 370.3h0M228.8 360.9h0M230.7 358.5h0M226.8 359.3h0M212.1 372.8h0M234.4 368.6h0M238.8 366.1h0M238.1 368.8h0M239.6 363.7h0M214.6 374.8h0M214.8 364.0h0M233.1 360.7h0M243.4 366.0h0M214.7 359.9h0M209.4 369.7h0M224.6 376.4h0M234.2 359.0h0M231.8 363.6h0M219.5 359.3h0M242.9 368.2h0M235.0 372.4h0M212.5 373.9h0M222.9 364.8h0M233.8 359.6h0M231.2 370.0h0M236.6 371.3h0M213.2 375.4h0M241.3 365.1h0M224.9 364.6h0M225.4 367.2h0M237.3 365.9h0M222.1 359.0h0M221.2 374.6h0M216.4 359.2h0M233.7 365.5h0M231.1 359.1h0M217.0 371.0h0M214.3 365.7h0M240.3 368.4h0M236.7 364.1h0M218.7 360.7h0M228.5 369.1h0M229.3 372.2h0M220.7 363.1h0M226.4 367.1h0M212.7 366.8h0M218.7 375.1h0M208.7 370.2h0M212.8 372.0h0M238.0 362.9h0M222.0 359.0h0M210.0 373.0h0M215.3 362.5h0M232.3 372.5h0M227.2 373.9h0M210.4 373.9h0M230.6 367.5h0M223.0 369.5h0M230.7 360.2h0M234.6 360.3h0M234.4 375.3h0M215.7 376.4h0M225.2 373.1h0M238.7 364.1h0M217.8 374.5h0M232.2 365.2h0M233.0 368.3h0M227.6 362.0h0M220.5 368.3h0M225.5 373.1h0M231.6 362.9h0M221.8 372.5h0M215.9 362.7h0M227.2 367.6h0M241.6 367.0h0M233.5 369.3h0M212.7 368.8h0M222.2 360.9h0M230.4 371.4h0M241.9 363.1h0M238.4 372.2h0M231.8 364.5h0M238.4 364.6h0M213.6 363.2h0M226.2 377.3h0M226.3 375.0h0M223.7 357.8h0M236.7 368.5h0M218.8 376.8h0M220.7 359.8h0M223.1 375.7h0M208.8 373.3h0M218.1 358.8h0M232.1 366.5h0M216.1 375.5h0M215.3 376.1h0M230.6 374.9h0M216.9 366.6h0M230.1 362.9h0M225.8 365.5h0M222.6 368.6h0M217.1 364.7h0M230.5 371.3h0M222.6 365.9h0M230.8 359.4h0M223.8 359.9h0M236.7 375.1h0M235.0 365.5h0M222.6 362.1h0M233.6 360.4h0M236.8 366.8h0M234.5 373.4h0M227.5 369.7h0M213.9 360.8h0M210.6 364.9h0M215.1 362.1h0M220.7 368.1h0M230.3 359.9h0M221.9 361.3h0M227.8 363.1h0M228.5 373.1h0M224.1 364.3h0M220.5 363.9h0M234.6 366.6h0M237.5 373.7h0M224.7 360.9h0M238.0 369.0h0M211.3 369.2h0M221.1 363.6h0M226.9 368.1h0M214.5 362.1h0M210.2 373.4h0M232.2 372.8h0M210.7 367.4h0M236.9 366.9h0M229.9 375.7h0M242.4 367.1h0M230.9 365.4h0M217.2 361.7h0M237.8 364.9h0M238.8 366.0h0M215.5 375.0h0M219.4 372.6h0M222.6 368.7h0M218.8 371.0h0M217.7 370.9h0M212.2 364.8h0M237.6 366.9h0M238.0 364.3h0M221.6 365.1h0M222.0 359.4h0M219.8 365.7h0M237.7 362.4h0M238.1 368.5h0M219.4 375.0h0M223.5 361.4h0M219.4 357.7h0M234.6 363.3h0M238.8 362.8h0M237.3 375.7h0M216.2 370.1h0M218.4 370.3h0M225.1 370.1h0M225.6 371.5h0M226.1 361.1h0M223.3 375.1h0M224.9 371.4h0" stroke="#7a3a12" stroke-width="0.84" stroke-linecap="square" fill="none" opacity="1.0"/><path d="M233.2 359.6h0M232.8 368.8h0M229.5 360.1h0M227.4 360.3h0M241.6 371.2h0M234.3 368.7h0M218.9 371.4h0M224.7 370.6h0M214.3 370.0h0M216.8 369.1h0M215.4 366.4h0M214.1 366.1h0M239.5 364.8h0M225.0 369.8h0M211.1 368.1h0M229.7 359.6h0M237.6 373.7h0M228.4 359.0h0M212.2 370.4h0M210.8 372.5h0M222.5 370.9h0M240.1 369.0h0M242.7 367.3h0M222.7 374.1h0M235.0 368.0h0M231.2 360.4h0M217.5 373.1h0M222.7 376.3h0M215.4 369.2h0M226.1 377.0h0M212.8 366.7h0M216.2 371.7h0M217.5 364.3h0M227.4 367.4h0M243.5 366.2h0M210.6 367.2h0M233.9 360.0h0M227.5 372.4h0M235.5 363.8h0M234.1 359.3h0M218.8 362.4h0M233.2 368.6h0M219.6 357.8h0M219.2 360.5h0M236.8 370.6h0M243.8 364.7h0M226.0 367.6h0M230.0 366.5h0M214.5 366.3h0M215.5 369.2h0M229.6 370.7h0M234.5 361.6h0M227.7 358.2h0M217.8 358.3h0M226.9 365.9h0M232.4 358.6h0M221.6 376.2h0M217.0 367.8h0M220.2 368.5h0M234.6 363.0h0M236.7 375.9h0M232.6 367.3h0M216.9 366.8h0M234.4 362.5h0M232.0 370.7h0M217.6 364.9h0M240.1 367.0h0M223.9 366.4h0M230.1 366.4h0M234.8 370.2h0M233.3 376.6h0M217.6 371.2h0M236.8 362.3h0M224.9 373.4h0M211.1 371.2h0M241.7 364.9h0M227.0 373.5h0M238.2 369.2h0M234.8 373.8h0M215.9 369.7h0M234.2 375.8h0M238.2 366.9h0M215.5 372.5h0M215.7 366.9h0M214.9 368.9h0M227.7 374.6h0M240.6 366.7h0M243.1 366.9h0M210.4 373.0h0M214.9 364.2h0M240.5 361.8h0M225.0 367.8h0M235.2 369.2h0M237.0 364.3h0M218.9 364.3h0M212.0 366.2h0M230.1 374.8h0M238.8 371.8h0M240.0 368.2h0M243.5 367.0h0M231.7 371.3h0M217.0 363.3h0M216.2 365.3h0M214.7 370.1h0M218.0 370.6h0M232.8 362.5h0M224.3 363.9h0M239.9 367.4h0M209.3 369.3h0M221.3 363.2h0M221.6 359.6h0M238.9 367.8h0M229.4 359.2h0M233.1 360.4h0M237.6 372.0h0M242.0 367.7h0M221.3 371.8h0M220.8 377.0h0M224.9 366.5h0M222.9 362.1h0M222.8 367.7h0M217.4 359.8h0M211.1 370.6h0M241.4 363.2h0M228.4 361.8h0M234.0 374.9h0M219.0 358.2h0M236.2 373.7h0M226.1 364.0h0M209.5 371.1h0" stroke="#c09070" stroke-width="0.84" stroke-linecap="square" fill="none" opacity="1.0"/><path d="M215.5 374.6h0M228.3 361.5h0M226.5 376.7h0M227.2 370.8h0M237.7 363.5h0M232.7 362.6h0M223.1 369.4h0M217.3 360.1h0M232.8 363.6h0M216.3 369.8h0M227.5 358.6h0M225.2 359.6h0M235.4 369.1h0M240.2 363.8h0M219.9 366.4h0M217.7 364.8h0M229.9 371.0h0M233.3 360.2h0M240.3 366.2h0M226.5 369.4h0M223.5 359.0h0M238.3 373.0h0M216.3 369.7h0M235.8 370.7h0M231.4 368.7h0M213.8 373.4h0M227.5 369.1h0M215.8 358.8h0M224.2 371.2h0M218.7 363.3h0M211.5 371.7h0M238.2 367.7h0M238.8 367.1h0M219.7 373.6h0M232.6 368.4h0M226.6 373.5h0M219.9 375.9h0M208.9 368.3h0M226.4 358.3h0M218.8 364.0h0M230.0 374.1h0M225.8 357.5h0M219.1 376.3h0M242.2 367.1h0M214.0 369.1h0M209.9 366.2h0M225.3 371.0h0M239.4 366.5h0M217.5 363.5h0M235.2 361.7h0M225.1 370.6h0M231.0 361.5h0M211.1 374.3h0M235.6 370.4h0M220.1 369.2h0M211.7 366.5h0M233.1 369.1h0M218.0 366.4h0M236.3 373.8h0M219.6 372.4h0M241.5 369.2h0M211.3 370.1h0M223.3 364.5h0M222.2 358.5h0M219.5 359.9h0M236.4 371.4h0M217.9 369.6h0M224.8 368.8h0M214.9 359.3h0M215.1 374.6h0M214.5 365.8h0M221.1 373.2h0M221.5 360.9h0M229.9 377.1h0M230.2 368.4h0M231.2 358.6h0M217.8 358.1h0M225.8 369.7h0M234.8 366.3h0M219.1 368.9h0M229.2 370.3h0M238.1 363.4h0M210.5 367.5h0M222.6 362.7h0M210.3 373.3h0M236.4 371.4h0M221.3 362.0h0M226.5 368.8h0M237.8 369.6h0M240.2 362.5h0M213.3 375.6h0M232.4 364.4h0M224.8 375.9h0M218.0 362.1h0M214.5 365.8h0M220.3 365.2h0M228.8 357.9h0M210.8 372.7h0M227.0 358.1h0M235.9 370.6h0M222.0 376.9h0M235.1 366.8h0M218.4 364.6h0M218.2 369.0h0M225.7 369.4h0M217.9 376.0h0M209.3 370.9h0M228.5 373.0h0M239.0 367.8h0M211.2 368.9h0M239.1 371.2h0M210.8 370.7h0M224.4 374.7h0M232.5 373.8h0M221.8 371.4h0M219.0 371.4h0M218.8 358.2h0M219.6 365.1h0M235.8 365.1h0M240.3 362.9h0M232.2 359.1h0M231.3 370.4h0M233.8 363.0h0M243.3 368.5h0M239.1 367.7h0M225.4 364.5h0M236.9 376.1h0M233.7 369.2h0M218.7 362.8h0M231.1 367.2h0M222.8 365.0h0M219.3 369.5h0M217.4 361.9h0M232.6 372.0h0M222.7 358.1h0M232.0 370.3h0M226.1 367.7h0M234.9 369.4h0M211.1 368.4h0M220.8 365.1h0M212.2 374.8h0M231.7 366.4h0M232.1 362.1h0M231.2 376.4h0M224.0 367.9h0M242.2 364.4h0M224.8 366.7h0M218.8 358.9h0M214.2 371.1h0M214.8 367.4h0M235.6 366.0h0M228.1 374.1h0M222.9 372.8h0M223.5 370.3h0M213.2 368.1h0M234.1 368.9h0M216.2 372.8h0M242.9 367.4h0M212.5 375.1h0M237.4 364.2h0M217.1 365.2h0M227.3 362.2h0M215.6 358.8h0M222.5 370.0h0M236.4 367.1h0M235.6 362.6h0M222.3 372.2h0M221.8 366.8h0M229.1 368.0h0M221.8 373.0h0M235.9 366.6h0M234.4 370.8h0M233.6 373.4h0M237.5 368.8h0M217.4 372.4h0M221.4 358.7h0M225.8 362.7h0M235.3 369.8h0M217.1 359.2h0M220.0 367.2h0M220.3 357.3h0M226.5 368.5h0M221.2 362.8h0M225.2 363.4h0M209.3 371.7h0M217.9 367.8h0M221.9 375.7h0M218.8 365.4h0M221.0 365.4h0M220.5 362.9h0M220.1 367.9h0M225.4 365.4h0M210.0 373.4h0M236.8 363.1h0M226.6 357.9h0M234.6 372.7h0M222.5 361.3h0M221.5 363.3h0M227.8 360.8h0M220.2 360.5h0M214.3 363.8h0M220.7 365.4h0M233.9 375.0h0M222.4 364.2h0M225.3 376.3h0M221.9 372.9h0M233.4 368.4h0M233.3 368.8h0M221.8 373.9h0M216.9 371.2h0M224.8 368.4h0M227.4 361.2h0M211.7 369.9h0M216.0 361.5h0M212.2 371.3h0M215.0 364.1h0M235.8 373.4h0M217.6 372.4h0M212.5 369.6h0M215.3 360.3h0M228.0 362.0h0M223.5 364.4h0M229.6 372.1h0M210.6 367.0h0M232.8 376.8h0M224.0 362.1h0M220.3 363.8h0M237.5 375.5h0M239.5 361.1h0M232.9 365.4h0M231.9 373.6h0M214.3 363.0h0M229.1 376.0h0M215.4 373.8h0M220.7 362.5h0M240.3 361.2h0M213.4 365.9h0" stroke="#6a3010" stroke-width="0.84" stroke-linecap="square" fill="none" opacity="1.0"/><path d="M215.4 365.1h0M226.8 376.1h0M238.3 363.5h0M219.2 372.0h0M221.3 363.1h0M217.4 374.9h0M215.9 374.2h0M235.6 366.2h0M236.4 366.4h0M216.9 375.7h0M216.9 357.6h0M231.8 361.4h0M232.8 372.8h0M217.0 364.8h0M236.9 363.8h0M224.1 364.8h0M234.1 363.1h0M220.2 360.7h0M216.6 370.4h0M225.0 365.4h0M224.2 368.7h0M212.1 374.5h0M227.4 366.2h0M227.0 367.1h0M234.1 367.9h0M238.1 371.3h0M238.0 361.3h0M237.7 375.7h0M241.5 367.2h0M238.7 365.6h0M240.6 363.8h0M224.7 372.9h0M223.0 371.0h0M227.3 375.6h0M222.7 367.2h0M226.1 368.9h0M213.3 369.3h0M231.2 370.0h0M232.1 368.6h0M238.3 367.6h0M228.2 374.2h0M239.1 364.4h0M213.3 373.3h0M212.8 373.7h0M219.4 372.2h0M220.6 367.8h0M240.3 366.2h0M231.4 374.6h0M239.8 362.5h0M236.3 365.2h0M226.0 367.5h0M219.3 360.7h0M227.9 364.7h0M229.8 361.7h0M216.6 366.7h0M224.3 357.9h0M225.4 363.2h0M215.7 364.9h0M236.1 360.1h0M228.3 374.7h0M217.3 361.5h0M230.6 366.9h0M209.7 366.5h0M228.2 372.9h0M221.9 373.4h0M210.6 373.6h0M209.8 371.1h0M217.5 373.1h0M237.1 362.3h0M212.2 371.0h0M239.1 374.1h0M224.8 377.0h0M216.7 374.5h0M222.0 358.3h0M222.3 367.4h0M220.3 361.4h0M233.2 358.6h0M220.4 366.9h0M237.9 369.7h0M228.8 358.1h0M244.3 366.7h0M227.5 362.2h0M220.7 366.4h0M228.5 371.9h0M211.0 368.8h0M240.3 365.0h0M236.4 369.5h0M229.3 375.8h0M226.5 361.2h0M209.6 369.3h0M216.5 375.2h0M229.5 370.2h0M211.4 369.9h0M239.8 361.1h0M225.2 374.1h0M226.9 359.9h0M232.9 366.5h0M219.4 366.3h0M226.7 358.7h0M226.2 361.4h0M215.4 369.8h0M224.3 365.8h0M228.2 373.3h0M236.2 373.7h0M236.6 359.9h0M233.5 368.6h0M241.8 368.0h0M232.5 368.4h0M233.7 365.5h0M212.0 371.1h0M220.1 368.4h0M217.1 367.6h0M225.1 374.7h0M231.0 358.6h0M219.9 372.9h0M229.6 361.9h0M222.2 376.0h0M221.6 358.1h0" stroke="#9a5a30" stroke-width="0.84" stroke-linecap="square" fill="none" opacity="1.0"/><path d="M225.2 357.5h0M222.2 367.8h0M226.9 359.0h0M234.9 367.1h0M212.8 366.8h0M220.8 359.6h0M212.6 362.9h0M223.1 369.1h0M231.1 364.7h0M222.5 363.0h0M226.4 372.4h0M231.5 370.7h0M234.6 363.1h0M224.7 358.3h0M216.7 360.7h0M221.8 376.8h0M210.5 369.8h0M233.0 361.3h0M233.5 374.2h0M239.2 370.7h0M218.4 373.4h0M209.1 370.2h0M229.1 371.9h0M218.7 360.3h0M215.2 371.2h0M223.5 375.5h0M240.2 367.7h0M220.0 370.3h0M234.2 372.1h0M229.9 372.9h0M211.0 369.3h0M232.0 369.1h0M227.4 377.2h0M222.0 363.3h0M215.8 358.3h0M226.4 364.9h0M213.6 370.8h0M235.9 368.2h0M226.5 376.7h0M217.8 363.0h0M230.0 372.2h0M217.2 370.6h0M226.0 363.6h0M218.1 373.4h0M231.5 373.9h0M231.2 363.9h0M222.8 367.5h0M242.3 370.3h0M227.1 362.6h0M237.0 361.8h0M236.5 369.0h0M212.3 374.8h0M230.1 368.6h0M210.3 369.1h0M230.2 368.1h0M212.0 363.1h0M239.6 362.1h0M222.7 374.0h0M233.9 372.0h0M242.0 367.9h0M213.3 370.5h0M224.1 359.6h0M234.1 365.1h0M214.5 368.6h0M241.0 361.3h0M213.4 370.8h0M219.8 365.9h0M209.5 371.4h0M223.8 376.1h0M220.0 359.0h0M234.3 374.8h0M225.5 364.6h0M220.4 375.3h0M240.9 361.9h0M230.8 368.9h0M215.4 363.3h0M224.7 366.0h0M226.4 372.3h0M240.3 369.1h0M208.8 370.6h0M227.8 376.1h0M231.9 363.6h0M214.2 374.2h0M238.5 363.0h0M227.0 359.7h0M213.4 374.5h0M233.4 362.8h0M235.8 372.9h0M233.2 360.6h0M222.9 365.2h0M231.6 364.1h0M223.8 370.9h0M215.4 365.4h0M241.0 368.7h0M241.2 368.7h0M212.7 367.4h0M209.0 368.0h0M208.6 372.5h0M220.1 359.0h0M233.0 361.7h0M217.7 373.1h0M215.0 370.1h0M229.6 375.0h0M231.7 371.5h0M227.4 376.0h0M220.2 358.4h0M229.2 368.6h0M232.4 363.6h0M232.5 373.2h0M220.3 365.3h0M235.2 374.0h0M212.7 363.8h0M224.6 376.5h0M216.7 366.8h0M214.1 360.6h0M226.1 374.1h0M227.5 363.9h0M221.3 372.7h0M222.4 372.0h0M231.2 368.0h0M217.1 363.5h0M217.6 372.2h0M215.6 364.0h0M229.2 359.7h0M230.7 364.4h0M237.8 375.4h0M219.6 375.6h0" stroke="#a86a40" stroke-width="0.84" stroke-linecap="square" fill="none" opacity="1.0"/><path d="M234.4 367.0h0M227.9 366.7h0M214.1 372.9h0M232.3 364.5h0M230.7 362.1h0M215.7 373.5h0M223.4 358.0h0M216.1 367.0h0M233.1 376.1h0M213.9 362.5h0M231.1 359.1h0M233.1 366.2h0M224.5 375.0h0M212.0 369.2h0M236.5 360.2h0M225.7 376.3h0M217.2 368.8h0M238.8 363.3h0M214.7 376.0h0M235.8 360.7h0M240.5 370.1h0M213.7 374.1h0M216.2 370.4h0M238.8 361.8h0M222.1 376.3h0M224.9 372.1h0M238.9 366.3h0M212.0 366.4h0M214.8 366.9h0M219.1 366.8h0M234.5 369.9h0M214.7 361.4h0M228.7 362.9h0M222.4 360.6h0M213.0 371.3h0M214.7 371.8h0M217.5 361.1h0M216.7 361.7h0M230.8 374.5h0M216.8 375.7h0M237.3 375.9h0M235.5 369.4h0M233.3 362.7h0M235.1 369.6h0M213.2 368.2h0M239.4 370.9h0M215.1 367.4h0M235.2 373.1h0M215.9 370.1h0M227.8 361.9h0M239.1 365.0h0M227.1 366.3h0M225.7 358.7h0M216.6 362.4h0M234.9 362.7h0M216.2 362.1h0M227.9 367.6h0M219.2 358.7h0M212.0 366.4h0M230.9 373.7h0M226.9 374.9h0M214.3 361.7h0M228.4 359.6h0M232.2 369.8h0M227.3 374.9h0M215.8 358.5h0M234.5 373.3h0M233.6 363.7h0M218.8 360.6h0M230.6 368.8h0M225.7 372.8h0M243.6 366.3h0M227.1 368.2h0M214.7 366.3h0M221.2 368.6h0M231.9 369.2h0M231.3 374.3h0M243.0 366.5h0M219.2 373.3h0M237.5 369.6h0M218.6 361.7h0M229.0 374.3h0M213.6 360.6h0M220.0 357.2h0M231.1 361.1h0M228.2 374.8h0M229.5 362.0h0M235.7 363.2h0M218.7 361.0h0M233.3 372.8h0M232.2 362.7h0M221.0 366.7h0M219.3 364.5h0M214.9 359.4h0M235.5 364.3h0M228.5 364.5h0M226.7 359.6h0M234.4 375.1h0M240.9 368.3h0M224.7 375.0h0M232.1 375.0h0M236.4 363.9h0M229.0 374.5h0M224.4 369.4h0M230.6 369.4h0M217.3 369.4h0M214.9 363.8h0M227.6 373.8h0M222.8 361.4h0M241.6 370.0h0M241.7 362.2h0M219.8 372.4h0M219.2 360.6h0M214.6 364.8h0M217.4 375.1h0M221.4 362.4h0M225.1 374.3h0M232.3 372.0h0M231.5 366.5h0M216.8 360.2h0M241.5 371.8h0M212.3 366.3h0M236.1 372.8h0M218.5 366.8h0M223.2 371.3h0" stroke="#8a4a20" stroke-width="0.84" stroke-linecap="square" fill="none" opacity="1.0"/></g>
<g clip-path="url(#ct2)"><path d="M324.3 362.3h0M318.0 340.3h0M323.5 374.1h0M381.0 351.5h0M311.4 344.9h0M364.4 384.0h0M400.1 375.1h0M354.2 346.7h0M309.9 345.7h0M366.2 375.9h0M320.1 348.1h0M356.7 384.2h0M315.8 338.9h0M332.5 371.3h0M267.2 342.7h0M345.7 316.8h0M365.2 415.1h0M289.1 356.3h0M346.6 350.2h0M408.2 380.8h0M324.7 355.8h0M323.2 356.1h0M324.7 329.4h0M338.0 368.7h0M332.1 339.5h0M342.3 364.5h0M348.4 366.2h0M338.9 330.5h0M298.4 380.5h0M339.1 364.9h0M417.6 313.0h0M339.9 372.8h0M359.3 359.9h0M303.8 355.7h0M339.9 332.6h0M339.9 365.7h0M342.1 316.0h0M341.6 338.6h0" stroke="#e4d8c8" stroke-width="0.60" stroke-linecap="square" fill="none" opacity="1.0"/><path d="M329.9 358.2h0M310.0 344.1h0M370.4 373.3h0M360.4 321.1h0M377.3 346.2h0M353.0 323.0h0M372.8 369.6h0M363.9 396.3h0M350.0 366.1h0M338.9 369.4h0M292.8 352.1h0M403.3 397.6h0M378.3 412.3h0M343.4 403.2h0M345.6 309.8h0M386.4 379.4h0M348.6 311.3h0M313.7 309.2h0M342.3 393.7h0M332.4 324.0h0M363.9 331.8h0M372.2 376.5h0M383.5 398.7h0M338.5 393.0h0M315.0 352.1h0M333.1 347.9h0M394.9 346.1h0M367.8 376.0h0M337.9 324.2h0M368.5 363.0h0M405.6 372.2h0M357.3 360.5h0M341.7 374.6h0M323.0 324.9h0M329.5 367.9h0M341.0 310.0h0" stroke="#d8d0c8" stroke-width="0.60" stroke-linecap="square" fill="none" opacity="1.0"/><path d="M348.8 355.6h0M346.3 376.0h0M349.8 323.1h0M347.0 329.9h0M334.0 391.6h0M323.7 379.4h0M343.0 369.8h0M379.7 377.4h0M346.1 311.0h0M372.1 393.5h0M389.0 323.3h0M406.7 381.1h0M370.7 382.0h0M318.6 395.3h0M358.4 381.6h0M337.9 324.8h0M359.3 349.8h0M344.1 363.0h0M377.7 381.2h0M369.4 311.6h0M330.4 350.1h0M301.7 359.2h0M349.3 353.8h0M341.4 339.6h0M335.5 355.8h0M291.8 352.3h0M349.9 384.6h0M299.1 322.7h0M311.3 373.4h0M389.8 379.7h0M352.4 339.8h0M318.0 323.3h0M369.9 357.6h0M415.8 301.6h0M326.9 338.0h0M358.3 349.3h0M298.4 339.5h0M370.5 344.3h0M350.0 353.7h0M328.3 339.2h0M317.3 341.5h0M335.7 335.7h0M334.8 344.0h0M351.9 345.1h0M383.8 363.4h0M320.4 397.6h0" stroke="#c8d0e4" stroke-width="0.60" stroke-linecap="square" fill="none" opacity="1.0"/><path d="M340.5 323.7h0M356.1 321.4h0M354.2 320.8h0M346.8 328.8h0M345.2 319.1h0M345.0 330.0h0M335.4 322.0h0M349.7 326.2h0M359.5 318.7h0M341.8 327.9h0M335.7 316.7h0M345.1 320.5h0M332.9 323.3h0M341.4 325.3h0M358.1 330.1h0M356.5 315.0h0M329.7 319.3h0M328.3 318.5h0M339.1 318.0h0M335.7 322.6h0M360.4 326.2h0M356.4 315.0h0M334.1 323.8h0M348.6 324.9h0M338.8 319.0h0M361.7 328.1h0M336.0 315.7h0M352.3 316.8h0M360.3 320.8h0M362.0 325.6h0M356.1 320.0h0M340.5 327.6h0M359.3 325.6h0M355.6 320.1h0M336.2 316.9h0M339.1 316.0h0M355.2 330.5h0M343.4 318.9h0M350.9 314.1h0M353.5 325.0h0M338.9 319.0h0M358.6 313.9h0M351.4 323.9h0M350.2 329.5h0M359.1 317.0h0M329.4 320.4h0M355.4 316.3h0M349.1 320.1h0M342.9 316.5h0M340.7 320.0h0M334.0 315.8h0M347.8 316.9h0M344.0 316.5h0M336.4 318.1h0M334.6 323.1h0M326.4 319.7h0M355.3 330.6h0M335.1 320.6h0M327.3 320.3h0M355.5 321.1h0M357.5 317.8h0M346.2 327.2h0M352.1 316.3h0M356.7 322.5h0M337.9 315.0h0M346.5 323.5h0M335.6 319.8h0M351.9 327.6h0M352.5 327.8h0M345.7 324.0h0M357.9 319.8h0M355.8 328.2h0M349.3 330.2h0M346.1 325.3h0M356.1 325.6h0M351.7 313.1h0M327.3 322.3h0M326.9 322.4h0M341.7 323.6h0M348.6 326.6h0M352.5 331.1h0" stroke="#c0b070" stroke-width="0.84" stroke-linecap="square" fill="none" opacity="1.0"/><path d="M356.3 329.0h0M360.1 317.2h0M344.1 314.7h0M348.8 328.8h0M347.5 325.7h0M360.9 319.9h0M340.8 326.8h0M359.2 329.7h0M342.3 326.6h0M342.5 313.0h0M352.1 329.1h0M359.1 327.3h0M347.8 330.2h0M344.4 326.7h0M351.2 316.3h0M350.5 321.3h0M358.4 319.8h0M333.3 322.5h0M342.1 325.2h0M347.5 314.7h0M358.7 330.8h0M342.0 325.2h0M350.2 324.6h0M356.8 321.2h0M326.3 319.6h0M351.0 324.1h0M343.1 312.6h0M335.8 316.6h0M333.4 319.1h0M349.7 328.2h0M328.6 319.0h0M352.3 313.7h0M348.6 317.4h0M333.5 319.2h0M336.8 328.1h0M349.2 314.0h0M351.1 313.8h0M344.2 328.8h0M350.2 321.1h0M355.4 315.8h0M332.2 316.1h0M342.4 318.3h0M340.2 327.1h0M335.2 315.4h0M333.4 317.2h0M332.4 318.7h0M349.9 327.7h0M352.4 324.9h0M330.7 318.4h0M356.5 314.0h0M335.6 316.9h0M351.7 313.8h0M359.0 330.6h0M358.5 329.2h0M355.7 325.5h0M350.6 313.1h0M347.8 322.9h0M325.9 321.1h0M354.2 330.4h0M351.1 330.9h0M334.5 317.9h0M357.4 330.0h0M353.9 330.4h0M335.7 326.0h0M336.8 316.0h0M342.4 325.6h0M341.5 320.7h0M347.2 321.5h0M354.5 327.1h0M358.7 316.9h0M341.7 313.9h0M341.9 329.3h0M359.4 326.9h0M362.5 326.9h0M350.8 317.6h0M335.4 326.7h0M355.7 327.4h0M354.1 326.0h0M341.1 325.0h0M353.8 321.2h0M351.0 321.5h0M350.2 317.5h0M354.5 318.8h0M331.5 318.2h0M345.4 322.9h0M337.9 316.4h0M350.1 321.8h0M328.4 320.4h0M341.8 315.8h0M356.3 328.1h0M341.5 318.3h0M351.4 320.0h0M328.8 320.3h0M351.0 316.4h0M353.7 326.0h0M348.0 324.9h0M355.5 315.9h0M350.9 329.6h0M340.2 320.1h0" stroke="#a8c080" stroke-width="0.84" stroke-linecap="square" fill="none" opacity="1.0"/><path d="M335.6 321.6h0M356.0 313.1h0M333.0 323.6h0M355.3 323.6h0M358.8 313.4h0M348.5 317.5h0M328.7 320.6h0M333.4 321.1h0M339.3 322.3h0M355.6 327.5h0M341.1 326.8h0M334.9 315.7h0M342.4 328.1h0M352.3 315.2h0M332.4 320.1h0M330.5 319.4h0M343.7 319.5h0M355.3 330.0h0M327.0 322.5h0M345.6 315.7h0M333.4 319.8h0M353.9 325.5h0M327.6 320.8h0M361.1 326.0h0M355.0 327.3h0M356.3 315.1h0M354.0 329.2h0M331.2 319.8h0M337.4 321.7h0M342.1 318.1h0M351.2 316.1h0M352.4 314.4h0M328.2 321.0h0M354.0 318.7h0M350.7 321.5h0M335.7 322.3h0M350.6 316.2h0M347.0 314.0h0M358.8 332.0h0M358.8 320.3h0M330.6 321.5h0M341.5 326.0h0M334.3 326.9h0M360.0 328.6h0M357.9 331.6h0M352.6 328.3h0M326.5 321.5h0M346.8 330.5h0M346.0 316.2h0M354.6 317.0h0M326.5 320.4h0M337.0 315.4h0M358.9 324.0h0M347.2 321.3h0M350.5 328.0h0M337.2 327.1h0M357.0 314.7h0M347.2 320.0h0M360.2 329.9h0M358.7 315.1h0M350.0 327.9h0M334.8 323.0h0M361.3 320.2h0M356.5 329.4h0M347.8 328.4h0M351.3 313.2h0M326.5 321.9h0M349.3 323.4h0M357.1 320.4h0M344.7 315.5h0M326.0 320.1h0M352.0 320.1h0M336.6 317.4h0M350.5 322.1h0M354.3 315.2h0M348.6 314.2h0M357.8 330.0h0M339.2 321.5h0M358.4 322.9h0M347.3 328.1h0M334.6 317.1h0M357.3 314.2h0M356.5 314.6h0M358.2 324.6h0M345.7 312.6h0M330.1 320.2h0" stroke="#a8b870" stroke-width="0.84" stroke-linecap="square" fill="none" opacity="1.0"/><path d="M349.7 323.9h0M350.0 314.5h0M345.3 323.1h0M335.9 325.0h0M349.2 323.3h0M339.2 321.2h0M339.4 325.4h0M352.0 316.4h0M341.9 329.4h0M344.3 329.2h0M331.9 321.5h0M352.6 327.5h0M330.0 321.6h0M360.8 325.2h0M362.1 325.0h0M355.8 327.1h0M356.2 331.3h0M343.9 329.9h0M343.2 326.4h0M347.8 314.2h0M329.0 320.1h0M351.0 321.4h0M334.6 325.1h0M358.1 325.3h0M350.3 326.8h0M355.7 321.0h0M355.4 320.5h0M339.7 323.2h0M346.3 328.2h0M343.9 319.1h0M343.2 329.1h0M353.2 328.5h0M355.2 319.8h0M350.2 329.2h0M350.1 318.2h0M338.4 316.7h0M338.9 322.8h0M345.7 328.3h0M342.7 322.0h0M339.6 320.9h0M358.7 321.4h0M340.6 317.3h0M348.6 319.1h0M333.3 325.3h0M358.2 330.5h0M331.1 325.2h0M357.5 325.1h0M331.7 316.3h0M349.0 315.2h0M352.2 326.6h0M330.0 322.3h0M334.7 315.6h0M358.2 322.2h0M353.3 330.7h0M359.0 318.5h0M341.6 313.9h0M360.7 323.9h0M346.5 312.9h0M346.4 323.9h0M337.6 314.1h0M352.4 319.4h0M355.9 314.0h0M347.8 320.7h0M345.5 324.6h0M343.7 317.5h0M347.6 316.8h0M344.1 314.1h0M354.8 327.1h0M341.6 315.6h0M346.2 319.8h0M348.9 328.9h0M359.5 328.4h0M333.9 324.1h0M361.0 319.7h0M337.6 318.7h0M337.6 320.1h0M329.0 319.2h0M344.0 328.6h0M352.3 318.9h0M352.4 327.5h0M351.7 315.7h0M336.1 326.0h0" stroke="#b0b868" stroke-width="0.84" stroke-linecap="square" fill="none" opacity="1.0"/><path d="M332.2 321.2h0M349.7 317.7h0M329.6 322.9h0M356.7 314.2h0M335.6 316.2h0M332.4 322.0h0M331.3 319.5h0M357.6 322.8h0M342.8 321.1h0M343.4 328.4h0M346.0 328.4h0M340.6 315.3h0M332.6 320.4h0M338.2 317.2h0M352.9 325.0h0M326.4 320.7h0M347.9 324.6h0M358.0 314.7h0M360.0 330.6h0M344.6 328.2h0M336.2 321.1h0M339.6 314.2h0M352.9 318.4h0M326.4 321.3h0M354.1 322.9h0M360.0 326.1h0M345.5 328.2h0M359.1 318.4h0M348.7 326.5h0M348.8 330.9h0M358.8 320.7h0M357.1 319.5h0M332.1 318.4h0M333.4 326.1h0M351.6 317.5h0M345.6 317.6h0M359.2 322.4h0M358.8 318.9h0M352.3 326.8h0M335.6 322.5h0M341.7 318.7h0M345.2 326.6h0M335.9 320.3h0M351.3 325.2h0M346.2 324.3h0M360.3 318.8h0M338.7 318.4h0M342.7 318.6h0M340.7 325.5h0M344.8 328.3h0M342.0 316.5h0M339.5 322.8h0M354.5 315.9h0M344.2 315.6h0M341.3 324.6h0M360.3 320.1h0M356.7 321.0h0M337.8 314.7h0M345.0 319.5h0M333.9 320.2h0M349.7 324.3h0M335.3 316.2h0M357.0 321.4h0M330.5 321.5h0M339.2 327.5h0M351.7 329.3h0M346.0 313.8h0M355.3 314.3h0M358.9 314.6h0M349.8 330.2h0M336.4 316.6h0" stroke="#c09858" stroke-width="0.84" stroke-linecap="square" fill="none" opacity="1.0"/><path d="M347.8 317.9h0M356.7 315.7h0M336.8 319.1h0M333.7 325.4h0M338.9 313.7h0M347.0 328.1h0M350.9 312.7h0M352.2 331.2h0M357.5 327.5h0M351.5 313.3h0M346.6 320.9h0M355.7 315.4h0M356.0 316.7h0M339.2 314.5h0M342.0 316.1h0M347.4 329.2h0M357.0 321.3h0M340.6 327.0h0M354.7 325.1h0M351.2 328.7h0M344.8 328.4h0M347.6 327.8h0M353.6 327.5h0M325.7 320.7h0M346.0 325.5h0M353.1 325.1h0M346.9 322.5h0M333.3 319.5h0M335.5 324.5h0M348.5 323.9h0M353.1 318.2h0M334.8 322.8h0M329.5 322.3h0M344.3 313.8h0M334.5 323.5h0M354.7 329.0h0M344.6 322.2h0M353.0 312.7h0M355.8 314.8h0M337.8 313.7h0M358.7 323.9h0M350.7 323.8h0M356.3 330.1h0M344.0 326.9h0M338.9 326.5h0M332.2 321.4h0M350.1 317.3h0M344.8 322.9h0M338.5 326.0h0M332.2 323.6h0M344.3 324.5h0M335.1 318.0h0M341.6 315.3h0M341.4 320.8h0M346.6 322.0h0M339.6 323.4h0M356.7 330.2h0M356.5 314.5h0M345.2 316.9h0M331.3 316.4h0M348.3 314.2h0M349.0 315.2h0M342.2 326.6h0M348.9 315.7h0M335.1 319.7h0M327.1 320.2h0M348.2 319.5h0M340.4 312.7h0M332.6 324.7h0M352.2 322.4h0" stroke="#c8a868" stroke-width="0.84" stroke-linecap="square" fill="none" opacity="1.0"/><path d="M332.3 322.6h0M343.8 328.6h0M359.0 328.7h0M333.6 323.7h0M359.0 322.6h0M333.9 315.1h0M351.2 314.8h0M331.4 321.6h0M331.7 317.3h0M350.0 326.4h0M341.4 327.5h0M355.1 330.8h0M357.3 329.3h0M342.1 322.3h0M357.6 320.3h0M355.6 330.9h0M329.3 323.6h0M356.3 318.2h0M356.5 314.8h0M344.9 319.6h0M349.0 323.8h0M353.4 322.3h0M332.9 324.3h0M357.5 314.2h0M346.4 321.4h0M348.7 329.2h0M349.5 319.3h0M343.5 314.7h0M350.6 330.8h0M347.9 313.1h0M350.1 327.7h0M328.5 319.3h0M332.5 316.0h0M334.6 317.4h0M338.6 321.9h0M337.1 316.9h0M361.2 329.6h0M349.0 316.5h0M348.4 317.8h0M355.3 317.6h0M354.4 319.9h0M347.2 313.5h0M352.5 321.1h0M359.2 317.7h0M331.4 318.6h0M349.6 327.2h0M361.4 325.7h0M357.7 325.5h0M354.9 324.6h0M348.4 314.2h0M355.4 319.7h0M340.7 329.2h0M359.5 326.6h0M341.5 324.4h0M354.3 321.6h0M352.0 322.9h0M348.0 325.6h0M358.4 313.1h0M338.7 326.9h0M352.9 313.0h0M351.5 326.1h0M343.9 328.4h0M340.6 322.7h0M352.9 323.1h0M352.5 320.5h0M336.6 327.0h0M354.4 322.8h0M350.9 330.6h0M338.0 317.2h0M340.6 314.9h0M351.8 330.3h0M350.8 320.3h0M352.3 330.9h0M354.2 322.2h0M333.4 323.9h0M348.1 320.1h0M358.4 315.9h0M348.4 314.7h0M326.8 319.3h0M353.4 313.9h0" stroke="#b8c078" stroke-width="0.84" stroke-linecap="square" fill="none" opacity="1.0"/><path d="M331.5 315.9h0M345.7 327.0h0M356.3 330.7h0M356.9 319.0h0M359.7 323.6h0M355.2 329.0h0M361.9 323.3h0M333.4 322.2h0M335.5 319.0h0M361.8 324.5h0M359.5 323.8h0M330.0 319.7h0M346.0 325.8h0M355.7 316.7h0M352.2 319.7h0M361.5 321.4h0M348.1 329.9h0M333.8 315.6h0M335.9 319.1h0M344.1 315.9h0M333.5 325.1h0M357.1 323.8h0M347.8 322.6h0M340.2 329.1h0M353.5 328.9h0M349.5 325.7h0M340.7 322.1h0M352.2 323.5h0M347.0 317.8h0M349.2 330.8h0M347.8 328.6h0M343.3 319.9h0M344.6 313.3h0M335.4 320.9h0M358.4 328.2h0M353.6 319.2h0M346.5 324.3h0M335.9 320.6h0M346.6 327.1h0M344.2 326.7h0M359.9 329.6h0M347.3 320.8h0M333.3 321.4h0M337.1 317.2h0M334.8 315.0h0M335.0 319.9h0M342.2 328.6h0M360.5 329.4h0M347.6 318.0h0M345.7 319.3h0M335.2 323.9h0M357.8 318.0h0M333.0 321.0h0M343.5 319.0h0M355.3 314.4h0M339.0 327.0h0M343.8 324.8h0M356.0 317.0h0M339.5 314.8h0M349.6 321.9h0M345.0 324.3h0M344.6 320.7h0M344.5 323.6h0M352.0 316.3h0M342.5 317.4h0M341.5 313.5h0M339.1 328.0h0M351.6 314.3h0M343.1 320.8h0M330.1 321.9h0M347.2 318.9h0M343.3 313.3h0M353.9 321.4h0M344.8 317.2h0M335.1 322.8h0M359.6 331.7h0M341.0 317.3h0M345.0 328.7h0M344.3 328.9h0M354.3 316.8h0M356.3 317.5h0" stroke="#d0c890" stroke-width="0.84" stroke-linecap="square" fill="none" opacity="1.0"/><path d="M370.6 321.5h0M370.6 322.3h0M371.9 322.1h0M371.0 320.7h0M370.9 324.4h0M371.9 319.2h0M371.1 317.8h0M369.6 324.1h0M369.3 318.9h0M372.5 327.2h0M371.5 324.4h0M368.5 322.1h0M368.3 320.8h0M370.5 318.4h0M371.6 323.2h0M369.2 326.2h0M372.2 325.4h0M371.7 326.3h0M370.8 319.9h0M371.5 322.3h0M368.0 319.5h0" stroke="#e8a070" stroke-width="0.70" stroke-linecap="square" fill="none" opacity="1.0"/><path d="M368.4 321.4h0M372.2 324.2h0M374.2 324.1h0M370.0 324.8h0M370.3 322.0h0M369.9 322.7h0M370.9 318.9h0M373.0 321.0h0M373.3 323.3h0M370.2 325.0h0M368.8 322.5h0M373.3 325.3h0M369.8 318.6h0M369.4 325.6h0M368.7 323.9h0M371.2 324.8h0M371.4 327.0h0M372.0 320.2h0M370.3 322.9h0M368.5 323.9h0M368.5 323.8h0M372.6 320.7h0M372.3 326.7h0M368.6 321.5h0" stroke="#f0b888" stroke-width="0.70" stroke-linecap="square" fill="none" opacity="1.0"/><path d="M371.2 318.6h0M368.9 322.2h0M368.0 321.3h0M368.9 321.1h0M370.9 319.8h0M371.3 324.5h0M369.8 319.4h0M368.5 320.7h0M371.9 324.5h0M371.4 322.0h0M372.5 322.4h0M368.4 319.7h0M371.4 320.9h0M369.4 319.7h0M370.9 323.0h0" stroke="#f8c8a0" stroke-width="0.70" stroke-linecap="square" fill="none" opacity="1.0"/><path d="M312.5 332.5h0M315.3 332.7h0M313.9 333.3h0M312.8 334.1h0M314.2 333.1h0M313.3 332.5h0M312.0 332.7h0M313.0 331.8h0M313.0 331.6h0M313.6 331.8h0M314.5 331.3h0M310.5 332.2h0M313.9 333.0h0M311.5 333.1h0M310.9 332.2h0M315.2 331.7h0M312.5 331.3h0M313.0 333.4h0M313.5 332.2h0M313.1 333.3h0M315.3 331.6h0M310.9 333.9h0M312.1 333.2h0M315.6 332.0h0M315.3 333.3h0M312.7 332.4h0" stroke="#30bdf0" stroke-width="0.80" stroke-linecap="square" fill="none" opacity="1.0"/><path d="M315.3 332.3h0M312.2 333.2h0M313.8 331.8h0M312.2 331.5h0M315.6 333.1h0M311.1 333.5h0M314.5 331.4h0M314.8 332.3h0M313.0 332.5h0M312.8 331.9h0M311.6 331.5h0M313.6 332.4h0M313.8 332.2h0M311.5 331.6h0M316.1 331.9h0M314.5 332.2h0M311.9 334.2h0M311.2 334.4h0M311.8 332.5h0M315.7 332.4h0M311.4 333.6h0M314.8 332.8h0M312.1 334.1h0M311.8 333.8h0M311.6 333.7h0M313.4 331.9h0M314.2 332.4h0M315.8 332.3h0M313.6 333.1h0M313.0 333.4h0M312.5 332.4h0M311.6 333.2h0M311.4 333.6h0M311.6 333.3h0" stroke="#48c8f0" stroke-width="0.80" stroke-linecap="square" fill="none" opacity="1.0"/><path d="M314.5 343.0h0M316.4 339.6h0M319.0 345.1h0M322.0 342.5h0M317.9 339.5h0M323.2 349.9h0M311.0 344.4h0M320.1 336.5h0M322.8 335.2h0M315.0 336.3h0M318.7 339.8h0M314.7 343.1h0M314.3 338.7h0M313.5 346.6h0M314.4 341.6h0M316.6 344.1h0M318.2 339.8h0M320.2 353.4h0M318.8 335.9h0M318.6 345.8h0M315.6 351.0h0M315.0 336.3h0M313.3 342.0h0M318.4 346.0h0" stroke="#8898c8" stroke-width="0.60" stroke-linecap="square" fill="none" opacity="1.0"/><path d="M314.7 353.5h0M316.5 344.4h0M312.8 344.3h0M317.8 340.2h0M316.8 333.1h0M319.3 337.5h0M316.7 344.6h0M310.2 335.5h0M319.5 350.4h0M316.4 340.1h0M316.1 341.5h0M317.4 338.4h0M310.2 340.2h0M318.6 348.8h0M318.3 334.3h0M319.4 345.2h0M313.4 350.5h0M315.3 341.2h0M316.1 335.7h0M323.1 342.5h0M321.2 339.8h0M322.2 346.8h0M315.3 354.1h0M324.8 347.4h0M319.2 347.6h0M316.5 340.2h0M313.8 349.8h0M316.8 347.6h0M319.5 345.9h0M323.0 341.4h0" stroke="#c0a890" stroke-width="0.60" stroke-linecap="square" fill="none" opacity="1.0"/><path d="M320.1 341.7h0M323.6 337.3h0M318.8 338.1h0M314.7 348.3h0M317.8 344.6h0M319.0 349.7h0M318.3 337.5h0M319.0 346.1h0M315.6 346.6h0M313.3 333.6h0M314.6 340.4h0M319.0 335.6h0M320.3 331.2h0M321.5 344.0h0M318.7 344.2h0M316.2 345.8h0M316.7 338.9h0M314.5 331.9h0M319.2 346.5h0M319.9 337.2h0M312.3 340.5h0M320.3 334.0h0M316.1 336.2h0M323.0 341.2h0M309.8 343.5h0M315.3 331.6h0M321.5 336.7h0M313.6 339.2h0M318.2 346.7h0" stroke="#b8b0c0" stroke-width="0.60" stroke-linecap="square" fill="none" opacity="1.0"/><path d="M317.6 348.1h0M316.7 332.2h0M310.9 347.0h0M318.1 352.6h0M317.5 344.2h0M317.3 342.3h0M318.3 336.4h0M315.6 335.7h0M318.7 343.0h0M315.9 348.5h0M312.0 339.2h0M317.5 346.8h0M316.4 344.4h0M318.0 340.2h0M315.9 341.5h0M316.8 345.9h0M317.9 347.8h0M317.1 339.6h0M322.9 336.1h0M310.1 348.2h0M309.4 340.1h0M317.9 338.7h0M314.5 337.2h0M312.3 341.5h0M313.9 342.6h0M316.7 343.2h0M317.3 343.8h0" stroke="#a0a8d0" stroke-width="0.60" stroke-linecap="square" fill="none" opacity="1.0"/><path d="M321.9 351.9h0M319.9 351.5h0M316.6 350.9h0M317.6 353.1h0M319.1 353.6h0M318.9 351.3h0M321.3 352.9h0M316.5 350.6h0M318.7 352.6h0M319.2 350.2h0M317.4 350.1h0M321.7 351.8h0M319.2 349.7h0M318.7 349.1h0M318.5 350.8h0M320.4 352.7h0M317.6 350.9h0M322.0 351.6h0" stroke="#1e3ea8" stroke-width="0.90" stroke-linecap="square" fill="none" opacity="1.0"/><path d="M319.9 350.4h0M320.9 352.5h0M318.2 349.9h0M318.8 350.0h0M321.8 351.9h0M320.9 352.8h0M317.2 352.9h0M318.7 350.2h0M317.6 351.6h0M320.4 353.8h0M320.2 353.0h0M321.3 351.9h0M317.2 352.5h0M318.7 351.5h0M316.6 350.5h0M319.9 354.0h0M318.8 349.3h0M321.2 353.7h0M320.0 350.2h0M321.0 352.6h0M321.7 351.5h0M320.8 350.3h0M319.2 351.2h0M319.5 352.1h0M319.0 351.2h0M317.8 352.2h0" stroke="#2848b0" stroke-width="0.90" stroke-linecap="square" fill="none" opacity="1.0"/><path d="M320.6 352.1h0M318.8 351.6h0M322.1 351.3h0M319.0 350.1h0M321.2 351.7h0M317.1 351.4h0M320.8 352.7h0M317.4 350.5h0M321.1 352.0h0M318.6 352.6h0M317.9 352.0h0M320.1 352.6h0M321.1 353.0h0M318.1 349.8h0M320.4 350.6h0M320.6 352.9h0M317.3 351.6h0M320.7 351.7h0M317.1 352.7h0M319.5 349.8h0M320.5 349.7h0M321.3 350.1h0M320.7 353.6h0M317.2 351.2h0M320.8 350.8h0M320.9 350.0h0" stroke="#2a4ab8" stroke-width="0.90" stroke-linecap="square" fill="none" opacity="1.0"/><path d="M336.4 346.5h0M326.5 343.8h0M343.6 341.2h0M326.7 335.3h0M350.4 339.1h0M342.9 344.0h0M324.4 340.7h0M345.3 347.3h0M349.6 350.2h0M351.8 342.3h0M341.3 347.3h0M343.9 344.7h0M336.0 338.2h0M352.9 340.7h0M344.0 344.4h0M330.4 335.3h0M347.8 346.6h0M332.8 351.0h0M327.7 340.8h0M330.5 339.0h0M334.7 346.9h0M339.6 353.4h0M346.2 349.6h0M324.5 340.6h0M331.2 338.3h0M329.4 345.4h0M334.2 340.3h0M344.2 341.2h0M346.4 347.0h0M337.1 345.0h0M333.5 339.7h0M333.2 348.4h0M327.3 337.8h0M330.8 349.4h0M343.6 335.3h0M338.6 354.9h0M352.5 346.5h0M343.2 357.2h0M332.1 342.3h0M332.9 351.3h0M337.0 346.8h0M343.3 339.4h0M338.5 338.3h0M332.7 349.6h0M353.3 346.1h0M337.9 337.3h0M324.9 346.0h0M338.0 336.9h0M329.4 349.0h0M337.0 342.5h0M343.2 342.9h0M331.6 343.2h0M337.8 350.3h0M345.1 355.5h0M329.5 340.2h0M339.6 347.5h0M351.7 341.3h0M338.7 338.7h0M344.0 349.1h0M325.9 336.9h0M341.2 344.5h0M336.2 343.2h0M339.9 351.7h0" stroke="#8898d8" stroke-width="0.80" stroke-linecap="square" fill="none" opacity="1.0"/><path d="M329.8 334.3h0M335.8 335.3h0M327.4 339.8h0M325.6 343.2h0M341.2 348.3h0M338.2 335.0h0M335.8 346.8h0M345.0 337.2h0M328.1 335.9h0M327.7 343.5h0M336.2 334.0h0M338.4 346.5h0M336.6 340.6h0M338.5 347.0h0M341.0 358.3h0M345.3 348.1h0M332.6 345.3h0M348.9 348.4h0M345.1 338.4h0M339.9 334.5h0M336.9 336.5h0M347.9 341.2h0M347.7 343.5h0M338.9 352.4h0M343.7 345.2h0M347.9 339.7h0M347.6 341.6h0M346.1 342.8h0M325.1 335.4h0M330.8 336.0h0M330.9 346.1h0M331.8 348.0h0M343.9 335.6h0M343.6 336.5h0M329.8 333.4h0M343.0 350.8h0M339.9 348.0h0M334.7 334.9h0M343.6 340.7h0M338.9 341.4h0M328.5 348.2h0M342.6 352.0h0M348.0 338.5h0M342.4 349.1h0M335.7 336.5h0M331.0 345.6h0M328.2 344.1h0M331.2 340.2h0M338.4 346.0h0M346.1 344.3h0M340.8 345.3h0M346.3 344.4h0M349.5 341.7h0M343.1 354.6h0M334.9 340.3h0M341.3 358.6h0M340.5 337.3h0M326.3 334.1h0M335.0 353.9h0M345.9 336.6h0M330.1 338.2h0M338.2 354.2h0M339.0 337.7h0M328.6 333.3h0M349.2 338.7h0M340.0 357.6h0M335.4 338.9h0M337.2 341.6h0" stroke="#3a5ac0" stroke-width="0.80" stroke-linecap="square" fill="none" opacity="1.0"/><path d="M340.9 351.8h0M329.2 335.8h0M328.3 343.2h0M338.1 341.0h0M324.9 333.8h0M338.9 350.2h0M333.0 343.8h0M349.8 345.6h0M347.0 341.3h0M332.6 340.4h0M346.2 343.0h0M348.9 349.5h0M327.1 340.6h0M329.8 335.2h0M352.8 343.6h0M325.7 337.5h0M347.4 341.5h0M343.6 337.5h0M347.1 336.6h0M335.2 333.9h0M348.7 344.2h0M328.5 345.2h0M339.7 348.6h0M334.2 342.4h0M331.1 334.0h0M351.2 339.1h0M347.3 337.9h0M335.1 338.0h0M347.0 350.1h0M331.1 338.5h0M350.7 339.9h0M344.3 351.9h0M346.5 348.6h0M344.9 338.4h0M335.7 352.0h0M347.6 346.8h0M332.7 332.9h0M349.6 346.5h0M341.8 340.8h0M338.6 336.0h0M340.2 342.2h0M349.8 347.5h0M332.7 342.6h0M349.9 340.1h0M345.5 351.6h0M325.9 341.8h0M338.5 342.4h0M339.0 344.6h0M337.3 355.0h0M335.1 333.5h0M328.2 335.3h0M333.4 342.5h0M334.5 346.3h0M349.2 343.0h0M338.8 333.5h0M332.6 341.7h0M345.0 345.1h0M345.4 335.1h0M331.0 342.8h0M338.6 352.7h0M332.1 345.3h0" stroke="#2a4ab0" stroke-width="0.80" stroke-linecap="square" fill="none" opacity="1.0"/><path d="M341.6 337.1h0M339.3 355.4h0M348.1 337.0h0M345.1 342.7h0M339.3 338.2h0M326.5 344.6h0M343.6 351.7h0M328.1 337.9h0M351.1 349.1h0M349.6 346.1h0M348.2 339.5h0M334.7 347.6h0M335.5 336.4h0M340.7 351.5h0M348.8 337.4h0M349.3 346.0h0M339.6 337.2h0M341.8 345.2h0M325.0 340.4h0M334.8 342.9h0M346.0 351.5h0M339.9 355.8h0M332.7 347.5h0M341.0 344.6h0M338.1 341.2h0M340.0 341.6h0M332.2 346.0h0M331.2 345.6h0M346.6 348.4h0M345.3 348.2h0M345.5 340.1h0M350.3 338.3h0M339.4 343.5h0M339.6 338.7h0M337.8 356.3h0M326.0 346.6h0M339.5 355.8h0M339.1 335.7h0M333.9 334.9h0M337.9 348.1h0M333.7 338.9h0M353.3 344.2h0M345.9 352.4h0M331.5 336.5h0M352.2 343.1h0M343.4 345.7h0M334.2 335.5h0M346.1 346.4h0M349.7 343.7h0M335.3 348.3h0M340.9 349.2h0M325.5 337.4h0M335.0 350.5h0M341.3 350.5h0M329.1 333.8h0M342.6 340.2h0M349.2 340.8h0M346.3 344.2h0M342.8 344.1h0M335.4 332.7h0M327.1 345.2h0M329.4 340.1h0M336.9 337.0h0M338.6 343.4h0M325.6 344.7h0M331.0 345.3h0M334.2 334.3h0M348.4 341.3h0M339.2 353.7h0M347.2 335.8h0M353.2 341.9h0M335.5 347.6h0M337.0 338.3h0M336.9 343.0h0M351.6 344.6h0M328.6 348.9h0M351.4 344.4h0M336.9 348.5h0M339.3 337.3h0M338.2 335.8h0" stroke="#5070c8" stroke-width="0.80" stroke-linecap="square" fill="none" opacity="1.0"/><path d="M348.8 339.0h0M328.6 346.4h0M346.6 342.0h0M330.8 336.0h0M339.9 346.5h0M340.8 345.9h0M334.4 344.9h0M348.2 349.6h0M344.9 353.1h0M339.0 348.0h0M337.5 355.3h0M341.8 334.1h0M338.4 333.6h0M341.5 356.9h0M332.2 342.5h0M328.3 344.5h0M345.5 337.2h0M334.2 346.9h0M345.0 341.5h0M344.5 353.0h0M343.6 341.2h0M343.4 348.9h0M329.5 343.7h0M336.8 349.6h0M347.0 338.0h0M330.8 336.3h0M325.6 338.4h0M331.7 338.3h0M337.6 351.1h0M343.6 346.3h0M324.8 341.1h0M343.6 335.1h0M351.4 348.2h0M326.9 334.7h0M349.7 340.9h0M339.1 355.4h0M333.0 338.3h0M353.3 343.3h0M350.1 344.1h0M340.2 346.9h0M325.0 342.3h0M343.0 346.5h0M342.8 355.9h0M343.0 349.7h0M324.9 337.4h0M350.2 346.3h0M335.5 335.6h0M347.3 343.8h0M332.0 334.9h0M345.4 337.8h0M331.7 336.8h0M332.9 339.6h0M346.7 351.8h0M350.3 338.5h0M331.1 332.8h0M343.7 336.5h0M329.9 341.9h0M331.6 339.9h0M343.3 357.5h0M345.6 338.1h0M339.7 348.5h0M344.5 352.7h0M342.3 352.0h0M350.8 339.8h0M347.5 347.9h0M351.2 339.4h0M334.7 349.7h0M339.5 333.8h0M345.3 354.5h0M351.5 342.1h0M330.7 347.9h0M325.7 337.7h0M342.3 352.5h0M329.5 347.2h0M335.7 350.2h0M332.1 346.7h0M339.5 350.0h0M337.2 354.2h0M339.3 335.2h0M346.5 339.8h0" stroke="#2248b0" stroke-width="0.80" stroke-linecap="square" fill="none" opacity="1.0"/><path d="M337.7 338.1h0M343.0 339.0h0M350.8 348.4h0M345.0 352.7h0M344.4 355.0h0M351.0 340.9h0M329.1 334.0h0M350.5 342.9h0M339.4 348.9h0M326.7 339.9h0M338.3 345.6h0M340.0 350.3h0M338.1 344.1h0M338.5 347.6h0M340.0 355.7h0M337.9 340.1h0M329.7 336.8h0M324.8 338.7h0M334.3 342.7h0M331.0 333.7h0M345.5 345.0h0M344.4 336.0h0M331.1 336.8h0M342.0 354.0h0M330.5 347.3h0M334.5 339.6h0M338.1 344.3h0M329.3 348.7h0M346.1 335.6h0M347.0 346.8h0M337.5 336.4h0M339.6 343.1h0M337.2 344.6h0M342.2 337.4h0M346.7 342.6h0M340.7 347.7h0M333.6 343.3h0M328.7 343.3h0M329.5 338.8h0M337.6 339.5h0M336.0 340.3h0M334.6 336.1h0M336.7 349.0h0M343.3 352.4h0M339.7 338.7h0M337.6 354.8h0M334.4 353.0h0M337.0 333.6h0M329.9 339.1h0M340.2 353.3h0M337.7 355.4h0M327.9 346.9h0M343.6 347.5h0M331.5 344.2h0M341.7 355.5h0M343.8 356.4h0M345.5 349.0h0M333.8 352.3h0M333.7 343.9h0M346.6 338.5h0M342.5 346.4h0M346.6 354.3h0M347.6 345.8h0M341.0 351.6h0M342.7 351.9h0M324.9 334.1h0M349.7 342.7h0M343.5 350.3h0M347.8 342.5h0M340.6 354.7h0M351.3 341.0h0M337.1 354.6h0M327.6 344.0h0M346.0 335.0h0" stroke="#a0b0e0" stroke-width="0.80" stroke-linecap="square" fill="none" opacity="1.0"/><path d="M329.6 342.9h0M351.8 348.5h0M331.9 337.5h0M333.5 337.6h0M331.2 337.2h0M326.7 337.2h0M332.4 338.2h0M341.4 338.2h0M348.4 345.7h0M353.0 346.1h0M343.8 349.6h0M336.3 350.2h0M329.4 342.7h0M338.1 356.1h0M343.9 340.7h0M330.5 347.7h0M345.8 353.2h0M333.3 339.2h0M339.2 345.7h0M332.1 339.9h0M324.3 340.6h0M353.1 346.8h0M329.8 337.5h0M352.3 342.2h0M341.1 357.3h0M333.5 346.0h0M348.1 347.3h0M343.3 352.8h0M348.4 350.4h0M331.1 338.4h0M339.4 338.6h0M338.9 350.2h0M335.6 333.3h0M342.1 354.0h0M334.8 335.8h0M335.1 339.4h0M348.7 346.0h0M328.5 333.2h0M344.9 353.9h0M331.4 339.2h0M347.3 342.2h0M347.7 350.7h0M328.1 347.7h0M329.1 348.6h0M345.7 350.1h0M346.9 353.0h0M325.9 343.5h0M347.9 338.2h0M326.2 333.8h0M336.3 351.6h0M340.4 350.4h0M328.1 345.4h0M337.6 342.4h0M330.8 338.5h0M340.9 339.5h0M328.5 344.0h0M335.6 348.2h0M340.9 349.8h0M340.3 341.5h0M345.8 350.8h0M350.0 343.1h0M340.4 351.0h0M345.8 335.1h0M348.8 350.9h0M345.1 348.0h0M344.5 351.6h0M350.4 350.0h0M327.0 339.7h0M341.8 348.9h0" stroke="#b0bce8" stroke-width="0.80" stroke-linecap="square" fill="none" opacity="1.0"/><path d="M335.0 349.4h0M336.6 334.2h0M329.3 334.9h0M337.1 334.6h0M343.5 338.3h0M344.3 349.4h0M338.5 343.7h0M330.3 335.6h0M343.6 351.1h0M328.8 346.7h0M336.4 337.4h0M339.0 345.2h0M330.8 333.5h0M336.6 338.1h0M341.8 352.8h0M341.6 336.8h0M338.3 352.9h0M326.8 347.9h0M345.1 342.1h0M349.8 350.0h0M335.9 334.8h0M340.7 335.1h0M333.0 334.0h0M343.2 341.2h0M332.6 345.4h0M329.5 346.0h0M341.0 344.4h0M348.8 339.1h0M347.4 345.1h0M343.8 338.1h0M333.9 342.9h0M333.9 333.4h0M325.7 341.9h0M349.7 340.4h0M339.5 350.4h0M340.8 344.6h0M337.6 347.5h0M340.9 342.7h0M327.6 347.7h0M331.7 337.2h0M331.1 333.5h0M340.6 336.1h0M341.1 356.7h0M329.3 333.2h0M344.9 338.2h0M347.2 337.4h0M350.0 339.2h0M346.2 347.6h0M338.4 334.3h0M345.4 354.8h0M326.8 342.8h0M346.2 352.3h0M344.0 340.2h0M347.9 348.5h0M352.6 340.8h0M336.9 345.3h0M342.1 352.3h0M330.4 347.0h0M339.5 344.0h0M331.8 343.3h0M327.0 347.7h0M338.3 335.7h0M345.4 345.3h0M336.8 344.2h0M351.0 346.1h0" stroke="#6a84d0" stroke-width="0.80" stroke-linecap="square" fill="none" opacity="1.0"/><path d="M348.8 351.8h0M338.4 347.7h0M346.1 357.0h0M344.4 352.6h0M344.5 351.8h0M345.3 345.0h0M346.4 354.8h0M348.4 355.6h0M339.6 354.8h0M349.3 346.9h0M349.1 349.5h0M339.1 351.4h0M345.4 348.2h0M345.2 351.3h0M348.3 348.4h0M338.7 353.9h0M345.0 351.3h0M341.3 347.3h0M350.5 345.7h0M337.9 350.4h0M341.0 346.8h0M347.1 353.5h0M346.5 346.7h0M343.8 349.6h0M348.4 345.4h0M344.3 353.1h0M345.3 352.5h0M342.8 352.1h0M344.0 351.3h0M343.0 342.7h0M344.4 354.9h0M338.3 346.2h0M339.2 352.8h0M343.5 356.2h0M340.5 345.3h0M344.3 346.6h0M338.0 349.5h0M341.1 355.3h0M342.3 351.4h0M342.6 345.3h0M344.8 354.3h0M344.9 345.6h0M344.0 347.6h0M346.7 348.0h0M345.0 350.6h0M339.6 355.9h0M342.4 349.5h0M343.5 352.8h0M342.3 352.5h0M340.0 345.1h0M340.4 353.2h0M350.7 346.4h0M339.2 355.1h0M343.6 353.8h0M345.3 350.8h0M341.9 348.0h0M343.4 350.3h0M346.9 356.9h0M347.5 351.2h0M341.6 354.0h0M336.9 349.6h0M341.7 346.5h0M347.3 352.7h0M346.1 353.3h0M347.4 343.6h0M348.4 349.7h0M342.3 346.1h0M348.9 351.1h0" stroke="#2a4ab8" stroke-width="0.90" stroke-linecap="square" fill="none" opacity="1.0"/><path d="M337.6 353.2h0M341.1 355.2h0M343.7 349.0h0M342.4 352.5h0M340.0 345.0h0M341.8 347.8h0M343.5 347.1h0M340.6 350.0h0M348.6 348.2h0M337.7 348.5h0M339.3 349.2h0M347.6 353.3h0M345.4 347.7h0M347.8 349.5h0M341.1 356.6h0M341.2 348.7h0M347.3 350.0h0M344.3 353.3h0M348.3 346.9h0M340.4 348.2h0M347.8 345.9h0M341.7 348.3h0M343.2 357.0h0M343.5 355.5h0M340.9 346.1h0M349.0 352.3h0M339.8 355.9h0M342.8 351.2h0M336.8 351.2h0M342.6 343.7h0M347.4 348.8h0M347.5 349.0h0M349.6 352.6h0M348.3 348.4h0M336.8 349.6h0M340.0 350.7h0M348.0 346.3h0M340.6 349.8h0M346.6 356.4h0M341.6 351.1h0M337.3 352.2h0M347.3 343.2h0M340.3 348.4h0M340.3 352.7h0M342.1 348.0h0M342.0 349.3h0M339.8 344.3h0M345.8 352.5h0M343.0 355.6h0M346.5 352.9h0" stroke="#1e3ea8" stroke-width="0.90" stroke-linecap="square" fill="none" opacity="1.0"/><path d="M341.9 350.6h0M344.4 342.3h0M341.4 353.7h0M337.9 348.3h0M347.1 346.0h0M337.8 348.2h0M349.8 352.7h0M343.9 351.9h0M347.7 353.8h0M345.1 349.7h0M340.5 352.3h0M336.5 349.8h0M340.0 352.8h0M347.1 346.7h0M342.5 353.8h0M341.9 353.0h0M346.6 355.5h0M338.4 351.3h0M342.2 349.1h0M346.5 350.0h0M344.9 348.6h0M338.9 347.8h0M343.6 351.3h0M346.8 354.7h0M340.5 344.1h0M346.5 351.8h0M339.2 353.0h0M345.0 349.8h0M349.5 345.8h0M345.3 357.1h0M340.7 352.2h0M347.6 353.4h0M339.0 347.3h0M338.1 345.3h0M337.7 352.1h0M343.0 352.6h0M346.2 346.1h0M349.0 353.9h0M346.5 346.9h0M343.9 347.1h0M347.2 356.8h0M344.4 353.2h0M340.6 348.3h0M345.0 349.0h0M343.1 353.3h0M339.3 354.0h0M344.8 345.1h0M343.1 357.8h0M350.7 351.0h0M343.7 352.1h0M338.2 349.1h0M341.5 351.8h0M347.4 353.6h0M350.2 353.4h0M346.8 345.3h0M338.7 349.1h0M342.3 346.8h0M346.0 345.2h0M341.4 355.2h0M347.0 350.4h0M343.5 350.3h0M338.9 350.2h0" stroke="#2848b0" stroke-width="0.90" stroke-linecap="square" fill="none" opacity="1.0"/><path d="M357.8 337.2h0M357.0 341.4h0M360.0 340.9h0M358.3 337.5h0M356.1 339.8h0M362.6 338.6h0M357.1 339.7h0M357.8 340.1h0M361.5 340.3h0M357.2 340.1h0M360.9 339.7h0M360.6 338.4h0M360.3 338.7h0M357.7 339.9h0M360.7 340.3h0M357.9 339.2h0M358.6 339.6h0M362.6 338.2h0M358.5 337.3h0M354.7 339.5h0M355.2 338.4h0M360.3 336.9h0M360.2 337.8h0M360.0 336.9h0M360.4 339.8h0M361.8 337.9h0M356.3 339.0h0M356.5 340.4h0M363.2 338.4h0M362.2 338.5h0M357.7 338.3h0M356.1 338.5h0M361.4 337.6h0M356.6 341.0h0M356.0 340.4h0M362.1 339.1h0M359.4 337.8h0M358.2 340.9h0M358.8 340.3h0M361.5 339.9h0" stroke="#1e6030" stroke-width="0.90" stroke-linecap="square" fill="none" opacity="1.0"/><path d="M358.8 340.2h0M355.0 340.0h0M357.0 337.2h0M357.2 337.6h0M361.0 339.1h0M362.3 337.9h0M360.9 338.9h0M358.6 339.3h0M362.1 339.0h0M354.3 338.8h0M362.8 338.3h0M360.2 340.5h0M356.5 341.4h0M358.0 340.1h0M358.6 337.3h0M356.2 340.5h0M363.9 337.5h0M358.9 339.9h0M359.9 338.8h0M361.0 340.3h0M358.9 341.1h0M359.1 340.1h0M360.7 340.3h0M363.3 337.2h0M356.1 338.8h0M362.6 338.1h0M358.0 337.1h0M359.7 338.6h0M355.8 339.8h0M361.5 339.3h0M360.9 340.0h0M358.3 339.6h0" stroke="#1a5a2a" stroke-width="0.90" stroke-linecap="square" fill="none" opacity="1.0"/><path d="M358.6 340.3h0M362.7 337.0h0M356.2 340.3h0M356.3 337.6h0M356.5 339.5h0M362.5 337.4h0M358.0 341.1h0M358.6 340.5h0M358.2 340.1h0M358.3 340.2h0M359.3 337.0h0M362.4 337.8h0M357.5 338.1h0M362.9 337.5h0M359.8 339.5h0M357.7 338.3h0M362.3 337.8h0M356.5 338.6h0M360.7 340.6h0M357.6 340.4h0M355.4 340.0h0M355.9 339.1h0M359.4 338.1h0M358.0 339.0h0M361.9 339.3h0M358.4 341.2h0M361.0 338.6h0M358.1 338.6h0" stroke="#2a6a3a" stroke-width="0.90" stroke-linecap="square" fill="none" opacity="1.0"/><path d="M368.0 338.3h0M366.7 337.9h0M364.8 338.2h0M366.9 338.1h0M367.7 338.7h0M366.7 338.1h0M367.2 338.8h0M365.4 337.0h0M367.3 337.5h0M366.5 337.6h0M367.4 339.4h0M367.0 337.0h0" stroke="#8b4fb8" stroke-width="0.80" stroke-linecap="square" fill="none" opacity="1.0"/><path d="M355.7 349.3h0M345.6 354.4h0M349.9 351.2h0M347.1 349.8h0M354.6 354.6h0M368.2 343.8h0M360.7 345.8h0M367.3 356.3h0M382.5 356.9h0M367.5 354.1h0M370.0 349.3h0M354.8 345.8h0M366.6 363.9h0M362.3 355.5h0M361.4 352.1h0M350.4 354.4h0M368.6 341.8h0M367.3 357.2h0M377.8 347.8h0M361.6 353.7h0M354.6 348.3h0M363.4 353.8h0M352.7 352.7h0M367.8 344.7h0M371.7 338.7h0M358.1 344.7h0M354.8 351.8h0M362.0 350.0h0M350.5 350.8h0M373.8 345.7h0M375.0 344.2h0M372.4 345.6h0M355.5 353.5h0M365.5 345.5h0M367.5 338.5h0M376.2 337.1h0M358.7 340.2h0M371.8 348.3h0M362.1 345.1h0M376.7 348.9h0M371.7 349.7h0M350.5 347.8h0M362.4 347.8h0M374.1 348.1h0M377.9 344.2h0M369.5 344.7h0M362.1 343.3h0M355.4 342.9h0M363.3 337.2h0M360.6 351.1h0M366.5 354.7h0M361.3 357.9h0M368.3 345.2h0M353.6 340.9h0M361.5 338.0h0M362.5 335.0h0" stroke="#b08060" stroke-width="0.60" stroke-linecap="square" fill="none" opacity="1.0"/><path d="M357.2 351.7h0M361.8 341.6h0M365.7 355.6h0M370.3 353.3h0M365.6 337.0h0M358.8 352.5h0M358.7 349.7h0M372.8 365.4h0M363.5 342.0h0M372.7 347.2h0M358.7 346.2h0M356.7 351.0h0M350.6 336.9h0M368.5 345.0h0M382.4 351.0h0M364.0 353.5h0M375.8 356.5h0M351.8 347.6h0M356.9 346.2h0M372.5 350.8h0M366.5 353.1h0M357.8 346.0h0M372.3 349.0h0M376.6 352.3h0M352.3 354.7h0M375.8 354.7h0M363.8 354.4h0M360.5 341.2h0M358.0 350.7h0M363.7 345.4h0M350.9 356.2h0M373.5 346.8h0M337.7 336.4h0M363.3 345.1h0M358.3 351.0h0M365.4 350.6h0M370.3 355.7h0M371.0 356.4h0M370.1 347.9h0M365.1 345.0h0M350.0 360.2h0M348.8 350.2h0M357.4 347.5h0M373.0 350.7h0M353.1 346.5h0M377.0 342.6h0M359.3 339.7h0M354.9 345.7h0M347.8 347.4h0M363.3 344.2h0M368.2 344.7h0M381.4 345.0h0M368.6 355.8h0M380.7 357.8h0M354.5 346.1h0M350.4 344.2h0" stroke="#c8a898" stroke-width="0.60" stroke-linecap="square" fill="none" opacity="1.0"/><path d="M370.1 352.9h0M365.8 353.8h0M379.2 347.5h0M355.4 354.4h0M354.1 350.6h0M370.7 351.6h0M359.6 338.0h0M370.6 355.3h0M351.3 352.1h0M363.0 346.0h0M377.5 343.1h0M365.0 339.0h0M363.3 348.2h0M376.1 340.7h0M366.0 352.1h0M363.1 354.4h0M368.6 360.1h0M366.6 345.0h0M340.6 355.4h0M371.7 352.5h0M366.2 347.3h0M364.3 341.2h0M363.1 344.9h0M361.8 353.1h0M364.7 343.9h0M372.6 353.8h0M354.9 342.1h0M332.0 343.6h0M364.8 357.3h0M358.7 346.1h0M356.0 344.7h0M374.0 345.6h0M378.1 354.5h0M365.5 348.8h0M371.1 342.8h0M363.3 351.5h0M354.7 345.0h0M363.9 342.9h0M366.9 347.4h0M371.9 346.9h0M363.9 343.8h0M353.9 357.5h0M370.1 347.8h0M359.9 341.1h0M371.0 343.3h0M372.5 354.8h0M377.4 348.4h0M350.5 359.0h0M369.7 351.0h0M365.7 348.8h0M353.2 347.7h0M363.1 340.5h0M367.7 347.5h0M378.1 352.0h0" stroke="#a07050" stroke-width="0.60" stroke-linecap="square" fill="none" opacity="1.0"/><path d="M348.7 344.6h0M368.5 342.8h0M368.9 344.6h0M358.4 349.9h0M356.5 354.8h0M359.9 339.5h0M366.5 354.4h0M371.7 350.5h0M356.4 343.1h0M343.7 337.1h0M360.4 345.5h0M367.8 354.5h0M361.0 352.5h0M369.1 342.3h0M375.0 345.8h0M355.7 350.3h0M367.8 352.4h0M358.1 342.7h0M362.7 351.5h0M359.2 356.6h0M375.3 352.7h0M379.9 348.1h0M364.9 343.9h0M363.8 342.9h0M380.9 350.8h0M367.1 356.5h0M367.4 351.2h0M370.4 359.0h0M367.1 362.6h0M358.0 352.0h0M364.1 350.5h0M363.0 345.7h0M360.4 354.0h0M362.6 342.8h0M367.2 348.3h0M367.0 342.1h0M366.3 354.9h0M361.6 337.8h0M365.8 344.0h0M354.6 358.5h0M353.9 350.2h0M369.3 348.2h0M359.6 350.6h0M386.4 360.8h0M354.1 335.6h0M356.6 354.9h0M368.2 335.9h0M364.5 336.2h0M350.5 350.2h0M347.8 343.2h0M367.5 354.4h0M363.8 338.1h0M360.2 347.3h0M355.3 341.3h0" stroke="#c0a090" stroke-width="0.60" stroke-linecap="square" fill="none" opacity="1.0"/><path d="M344.3 368.8h0M350.6 369.8h0M360.2 369.6h0M366.6 371.7h0M347.5 370.2h0M362.6 369.5h0M362.0 374.5h0M369.2 371.6h0M341.0 365.4h0M356.1 369.3h0M366.3 365.9h0M354.9 369.2h0M354.1 376.0h0M343.0 375.5h0M365.7 373.2h0M364.5 374.4h0M359.0 360.0h0M367.2 362.5h0M342.8 364.6h0M362.6 370.1h0M341.3 367.1h0M342.2 373.7h0M343.0 368.7h0M364.1 366.7h0M361.7 361.5h0M365.9 361.9h0M342.2 375.8h0M336.2 371.5h0M344.0 372.8h0M354.7 362.0h0M365.9 371.4h0M337.9 366.3h0M365.7 368.3h0M338.5 369.2h0M341.8 364.9h0M347.1 368.3h0M349.4 358.6h0M365.0 363.3h0M371.3 366.0h0M363.5 374.1h0M349.4 371.5h0M351.3 365.4h0M351.2 364.0h0M349.0 372.5h0M338.2 373.6h0M364.9 362.3h0M344.9 362.9h0M368.5 368.6h0M352.4 360.1h0M364.5 360.2h0M354.6 364.8h0M349.8 376.2h0M362.8 369.0h0M355.4 374.4h0M348.1 368.1h0M350.9 377.0h0M358.3 369.3h0M369.6 366.3h0M356.3 363.4h0M351.8 367.4h0M342.6 373.0h0M355.5 369.8h0M366.4 363.0h0M349.6 373.6h0M346.3 375.2h0M342.3 374.1h0M360.0 365.4h0M367.7 365.7h0M347.6 367.4h0M349.7 361.7h0M361.7 367.2h0M363.3 368.5h0M349.3 365.5h0M340.9 365.7h0M345.5 374.9h0M336.4 370.2h0M342.9 365.0h0M352.3 365.2h0M339.1 367.6h0M360.5 369.5h0M355.8 361.2h0M347.1 360.7h0M364.1 360.3h0M352.9 361.4h0M368.9 363.2h0M359.1 359.0h0M355.4 367.2h0M342.3 361.1h0M350.1 357.9h0" stroke="#a86a40" stroke-width="0.80" stroke-linecap="square" fill="none" opacity="1.0"/><path d="M355.9 374.2h0M352.5 376.6h0M352.4 364.4h0M360.9 372.4h0M344.0 363.8h0M354.2 361.3h0M349.1 359.4h0M353.9 366.8h0M364.1 363.2h0M360.1 371.9h0M359.2 369.5h0M358.9 373.4h0M358.1 373.6h0M342.3 375.8h0M359.5 364.4h0M337.8 372.0h0M352.9 375.3h0M349.7 363.3h0M364.0 362.3h0M357.2 370.2h0M351.1 363.5h0M344.9 364.8h0M363.3 363.8h0M357.9 364.6h0M355.7 376.5h0M366.4 367.9h0M343.2 371.4h0M362.5 374.9h0M365.7 366.9h0M343.6 363.1h0M358.3 374.3h0M348.9 362.5h0M359.3 375.7h0M365.7 372.1h0M348.0 359.1h0M357.2 363.6h0M366.6 364.5h0M354.4 363.0h0M365.1 361.3h0M351.6 369.5h0M363.1 371.9h0M347.0 357.5h0M362.9 360.0h0M365.9 374.3h0M356.2 373.6h0M338.4 369.1h0M350.9 363.9h0M370.8 367.4h0M351.1 365.9h0M353.4 373.1h0M359.4 362.9h0M363.2 370.1h0M365.5 363.0h0M360.4 373.3h0M338.9 371.3h0M348.6 374.5h0M345.0 370.3h0M357.8 369.9h0M359.7 360.3h0M362.6 364.7h0M344.8 361.2h0M343.3 372.6h0M359.6 374.8h0M358.8 361.5h0M350.2 366.1h0M368.6 371.7h0M354.8 359.5h0M350.2 371.9h0M368.4 365.4h0M352.2 364.7h0M361.3 370.6h0M359.8 360.3h0M337.7 367.1h0M345.9 365.6h0M349.8 376.5h0M353.8 364.1h0M359.9 375.8h0M347.5 376.3h0M367.1 363.9h0M352.1 367.5h0M343.4 370.8h0M354.6 363.5h0" stroke="#6a3010" stroke-width="0.80" stroke-linecap="square" fill="none" opacity="1.0"/><path d="M355.9 368.4h0M358.3 362.9h0M348.4 368.4h0M347.4 368.5h0M351.9 364.6h0M338.6 368.7h0M351.7 373.0h0M360.0 364.2h0M349.1 375.6h0M357.3 364.5h0M357.4 368.4h0M343.6 363.4h0M339.5 367.4h0M343.5 361.9h0M359.7 367.6h0M346.7 371.9h0M357.7 375.6h0M342.8 370.2h0M364.2 366.5h0M363.7 369.2h0M350.2 376.0h0M364.2 372.9h0M367.5 366.2h0M363.8 375.8h0M339.5 372.6h0M347.6 368.5h0M346.5 371.0h0M360.2 361.8h0M343.9 363.7h0M358.0 369.8h0M369.2 366.4h0M368.8 363.3h0M363.4 372.1h0M351.0 371.5h0M364.9 374.4h0M354.4 376.5h0M366.4 366.9h0M352.1 366.6h0M335.5 371.5h0M366.0 363.7h0M358.8 375.4h0M346.7 369.2h0M348.1 366.4h0M368.3 365.4h0M350.8 375.5h0M358.6 372.2h0M348.8 359.3h0M353.4 364.0h0M364.3 375.8h0M347.4 373.7h0M347.2 373.0h0M362.0 370.6h0M361.0 361.8h0M353.6 370.2h0M366.6 370.4h0M342.2 373.3h0M347.6 375.0h0M369.4 362.8h0M362.3 361.7h0M358.8 375.2h0M341.2 363.8h0M345.6 368.7h0M339.8 373.3h0M349.2 365.5h0M351.2 358.6h0M364.3 365.8h0M360.1 368.7h0M339.0 374.0h0M348.5 371.7h0M347.9 357.4h0M355.5 365.9h0M355.2 366.2h0M346.8 362.9h0M358.7 373.6h0M349.5 372.4h0M343.5 375.8h0M354.8 375.4h0M363.1 362.1h0M344.0 361.8h0M362.9 369.7h0M347.0 369.0h0M361.3 361.5h0M350.0 376.1h0M358.2 371.2h0M355.8 359.8h0M367.6 370.7h0M355.5 376.4h0M348.9 363.2h0M352.2 358.7h0M341.0 366.2h0M352.5 367.6h0M354.7 358.1h0M343.6 371.7h0M355.6 361.5h0M357.5 369.8h0" stroke="#c09070" stroke-width="0.80" stroke-linecap="square" fill="none" opacity="1.0"/><path d="M347.5 359.4h0M342.5 374.2h0M355.0 360.5h0M342.4 374.9h0M354.4 365.8h0M346.2 371.6h0M358.2 364.7h0M353.4 368.6h0M357.6 363.7h0M341.3 375.5h0M357.5 372.3h0M340.0 371.9h0M352.8 359.6h0M370.2 368.5h0M347.6 365.1h0M353.4 376.4h0M347.3 372.3h0M365.7 374.7h0M359.8 363.6h0M360.9 368.2h0M345.4 368.8h0M361.3 375.3h0M348.9 376.5h0M358.4 361.5h0M347.5 362.1h0M348.1 373.9h0M361.6 365.0h0M360.3 366.6h0M363.6 371.7h0M354.5 370.0h0M352.4 361.7h0M363.5 375.4h0M360.7 360.8h0M366.2 361.8h0M356.6 362.8h0M354.5 358.1h0M351.9 360.1h0M337.8 371.1h0M346.5 373.9h0M362.4 371.1h0M355.1 361.4h0M339.6 374.8h0M367.5 363.5h0M347.9 373.6h0M348.3 372.9h0M342.9 364.0h0M356.0 359.5h0M364.1 359.9h0M360.3 371.2h0M360.2 367.2h0M351.9 363.9h0M356.5 365.6h0M341.8 371.7h0M369.2 364.1h0M347.0 366.2h0M370.6 366.2h0M365.7 372.9h0M361.6 369.9h0M339.9 372.7h0M363.9 366.3h0M350.7 366.7h0M355.2 373.9h0M364.9 363.7h0M349.3 361.0h0M367.2 361.6h0M343.4 373.4h0M364.2 360.5h0M347.5 373.5h0M345.8 374.3h0M354.7 362.5h0M353.1 360.6h0M340.5 367.1h0M341.7 375.9h0M347.3 371.9h0M337.0 370.4h0M339.8 372.8h0M349.6 364.6h0M344.5 363.5h0M352.1 373.9h0M345.1 361.3h0M367.2 361.8h0M367.8 366.0h0M354.5 364.0h0M361.7 361.2h0M351.0 366.8h0M359.1 372.0h0M349.9 376.5h0M358.4 360.6h0M338.6 367.4h0M365.3 365.8h0M351.7 371.1h0M344.6 364.4h0M358.7 365.7h0M357.3 358.9h0M354.9 366.8h0M343.2 375.2h0M338.9 367.3h0M371.3 366.9h0M347.0 362.2h0M360.9 368.0h0M362.6 370.1h0M341.4 365.4h0M357.6 369.6h0M345.0 370.8h0M348.8 359.9h0M345.3 362.2h0M355.3 359.3h0" stroke="#d0b0a0" stroke-width="0.80" stroke-linecap="square" fill="none" opacity="1.0"/><path d="M366.9 361.4h0M352.1 365.8h0M367.3 372.1h0M355.6 362.1h0M356.0 371.5h0M344.7 361.6h0M365.2 367.5h0M350.0 376.0h0M342.0 374.4h0M350.4 374.8h0M336.7 369.1h0M366.7 364.2h0M357.4 376.5h0M357.9 374.7h0M363.2 361.1h0M355.2 362.2h0M344.6 372.8h0M339.1 365.0h0M339.5 368.4h0M356.8 367.9h0M355.4 369.2h0M341.8 373.8h0M353.8 371.7h0M341.1 367.1h0M346.7 357.3h0M352.9 361.4h0M338.7 372.3h0M363.4 362.8h0M355.4 376.2h0M369.6 371.0h0M350.8 364.6h0M342.0 372.8h0M347.4 359.8h0M352.8 368.9h0M357.4 362.5h0M355.0 375.7h0M347.2 369.8h0M356.5 361.7h0M354.6 377.3h0M367.7 365.0h0M351.7 358.7h0M356.0 369.2h0M363.7 365.1h0M368.6 371.3h0M348.2 375.9h0M349.5 371.2h0M358.8 366.5h0M351.5 365.4h0M355.2 359.2h0M358.2 358.6h0M358.2 359.3h0M367.6 371.7h0M358.5 361.8h0M346.7 363.9h0M357.8 370.5h0M366.4 370.5h0M353.1 376.5h0M351.2 359.9h0M345.0 368.0h0M365.1 373.1h0M357.3 373.8h0M346.9 363.4h0M370.1 367.9h0M351.3 366.1h0M371.0 369.9h0M345.5 370.5h0M362.3 368.3h0M347.5 370.6h0M355.0 359.9h0M348.0 368.1h0M342.6 366.4h0M371.2 366.1h0M351.1 358.3h0M364.0 359.8h0M365.9 360.2h0M357.9 375.9h0M363.7 371.2h0M339.3 373.5h0M352.4 369.3h0M351.0 365.3h0M352.6 359.8h0M347.0 373.2h0M362.0 370.6h0M347.0 362.2h0M360.7 361.5h0M342.3 363.2h0M362.9 375.4h0M336.4 369.8h0M368.3 370.7h0M343.3 374.8h0M341.3 364.5h0M357.2 374.3h0M355.7 373.6h0M341.3 371.7h0M347.0 376.3h0M343.6 370.7h0M359.1 370.4h0M346.9 363.1h0" stroke="#7a3a12" stroke-width="0.80" stroke-linecap="square" fill="none" opacity="1.0"/><path d="M345.1 375.0h0M364.9 369.2h0M363.7 365.1h0M353.8 367.8h0M336.3 370.6h0M345.6 372.5h0M354.1 372.0h0M360.8 375.0h0M354.4 366.5h0M361.2 373.4h0M359.4 374.3h0M342.4 371.4h0M343.3 359.9h0M343.7 363.5h0M349.8 368.1h0M350.7 376.8h0M352.0 359.9h0M365.6 368.4h0M350.1 358.3h0M337.7 369.5h0M362.1 370.1h0M356.3 372.1h0M358.3 375.4h0M367.2 362.6h0M371.6 365.3h0M358.2 360.6h0M350.1 366.2h0M361.8 365.7h0M348.9 365.9h0M354.2 367.6h0M341.0 366.6h0M364.7 360.7h0M342.1 363.1h0M343.2 361.6h0M361.6 369.8h0M344.5 367.2h0M352.6 376.3h0M350.9 368.8h0M364.7 373.9h0M341.0 367.4h0M345.3 364.7h0M358.0 371.4h0M348.6 373.9h0M369.2 365.4h0M362.4 373.6h0M350.1 367.3h0M355.2 373.3h0M360.9 375.0h0M339.4 366.1h0M361.4 365.2h0M358.9 366.5h0M363.5 370.5h0M341.8 364.4h0M353.0 374.0h0M359.6 375.0h0M346.3 360.3h0M347.7 365.9h0M360.3 370.0h0M361.3 363.9h0M357.6 374.5h0M352.4 367.1h0M360.9 364.5h0M338.6 366.0h0M354.6 364.8h0M348.6 358.0h0M362.5 372.2h0M363.9 366.8h0M352.5 359.4h0M364.9 366.8h0M349.2 362.0h0M351.7 373.7h0M344.3 371.7h0M360.4 365.9h0M342.3 363.3h0M357.2 369.6h0M345.4 368.2h0M352.1 376.6h0M344.9 366.1h0M365.7 372.8h0M346.6 360.6h0M359.4 366.7h0M351.9 357.7h0M365.2 365.3h0M356.3 359.8h0M351.7 366.6h0M342.3 365.0h0M344.3 370.2h0M352.7 364.2h0M348.1 372.0h0M359.3 362.7h0M345.0 370.7h0M351.1 359.9h0M341.7 363.2h0M370.6 363.7h0M360.0 363.1h0M358.1 366.6h0M347.0 365.1h0M359.9 371.9h0M342.7 373.5h0M356.9 373.0h0M354.8 369.8h0M337.7 373.5h0M335.5 371.2h0" stroke="#9a5a30" stroke-width="0.80" stroke-linecap="square" fill="none" opacity="1.0"/><path d="M354.4 357.9h0M349.9 375.7h0M353.2 361.1h0M357.0 367.1h0M353.4 358.9h0M346.1 376.6h0M343.2 363.5h0M355.8 361.0h0M359.2 365.0h0M352.1 369.9h0M341.6 369.7h0M368.4 365.4h0M359.3 366.1h0M338.7 369.3h0M371.1 367.6h0M364.8 375.1h0M353.8 361.4h0M347.5 365.4h0M357.5 368.0h0M370.1 368.7h0M359.6 368.6h0M364.5 376.0h0M349.0 362.0h0M367.9 370.8h0M364.0 371.2h0M340.8 367.7h0M364.2 372.2h0M342.3 369.3h0M355.0 373.3h0M353.7 370.7h0M342.8 363.7h0M359.3 367.1h0M347.9 369.9h0M355.0 375.8h0M341.3 369.0h0M354.7 375.7h0M343.0 373.7h0M344.4 372.7h0M346.7 374.4h0M355.7 374.4h0M365.5 361.8h0M356.4 364.1h0M340.5 365.8h0M353.6 359.7h0M348.0 373.9h0M348.9 362.9h0M344.9 373.1h0M363.9 370.8h0M344.1 375.5h0M362.3 373.7h0M363.2 368.1h0M349.9 358.7h0M339.0 373.5h0M345.3 365.5h0M344.3 363.7h0M343.5 370.5h0M343.3 374.8h0M360.0 371.8h0M343.0 365.5h0M371.2 366.6h0M359.8 365.6h0M359.6 366.4h0M343.9 373.3h0M361.0 366.8h0M348.6 366.2h0M352.1 375.8h0M354.9 360.6h0M352.7 364.7h0M359.3 369.1h0M357.5 370.2h0M352.7 375.8h0M344.9 360.0h0M340.1 372.0h0M351.6 359.3h0M366.5 362.5h0M357.4 359.4h0M360.3 359.1h0M351.9 366.2h0M350.5 373.7h0M353.8 369.3h0M337.8 369.1h0M347.9 369.3h0" stroke="#8a4a20" stroke-width="0.80" stroke-linecap="square" fill="none" opacity="1.0"/><path d="M350.1 376.3h0M367.8 363.1h0M353.5 372.5h0M347.3 372.4h0M352.1 358.8h0M356.5 369.8h0M346.3 369.0h0M356.4 362.3h0M346.0 369.2h0M357.2 370.3h0M351.7 373.3h0M358.8 360.2h0M348.3 364.3h0M364.2 359.8h0M369.9 369.5h0M353.1 367.2h0M364.2 366.2h0M368.5 363.1h0M356.1 368.7h0M355.8 360.6h0M337.6 367.5h0M342.8 361.2h0M360.9 362.6h0M355.8 362.9h0M346.8 375.6h0M336.9 369.4h0M366.7 370.5h0M337.5 370.3h0M346.8 372.0h0M359.2 369.8h0M344.9 367.3h0M353.6 367.0h0M365.9 361.4h0M339.2 373.0h0M352.9 367.3h0M350.6 373.6h0M348.2 364.9h0M341.1 369.0h0M349.5 376.4h0M347.7 365.0h0M354.0 371.0h0M352.4 374.7h0M364.6 364.1h0M366.2 363.8h0M355.1 374.4h0M362.2 368.3h0M337.2 372.4h0M362.9 371.1h0M354.1 371.4h0M348.3 374.2h0M370.9 367.1h0M352.5 377.5h0M346.1 366.3h0M346.3 369.2h0M353.9 371.3h0M368.3 363.4h0M341.1 366.9h0M364.9 374.7h0M348.6 364.1h0M357.4 373.2h0M366.8 368.9h0M345.2 357.6h0M366.9 365.9h0M360.6 359.8h0M355.9 372.5h0M344.4 362.9h0M354.7 366.2h0M361.5 361.4h0M342.1 368.2h0M359.7 360.7h0M341.2 367.5h0M354.9 377.2h0M366.9 369.5h0M344.0 365.9h0M356.5 364.2h0M358.7 368.2h0M356.9 362.0h0M360.4 375.9h0M349.7 366.7h0M347.2 369.8h0M362.5 374.9h0M343.8 363.9h0M359.4 375.9h0M360.2 362.4h0M346.1 358.4h0M354.4 377.1h0M353.6 371.8h0M344.2 363.4h0M345.5 358.3h0M370.2 369.5h0M351.2 376.8h0M343.0 366.3h0M350.8 372.2h0M354.0 363.1h0" stroke="#e0c8b8" stroke-width="0.80" stroke-linecap="square" fill="none" opacity="1.0"/><path d="M363.4 370.3h0M358.5 372.8h0M361.9 373.5h0M364.8 368.6h0M361.6 369.1h0M361.5 371.7h0M360.5 370.3h0M367.6 374.3h0M363.8 373.1h0M370.4 370.3h0M362.5 374.0h0M361.8 369.2h0M368.7 372.4h0M366.0 368.1h0M362.2 372.5h0M363.3 368.9h0M361.3 369.9h0M369.9 367.0h0M358.7 366.7h0M366.2 370.0h0M368.3 370.5h0M363.3 370.3h0M369.0 372.2h0M358.3 371.5h0M359.4 368.3h0M366.8 364.5h0M369.5 367.1h0M367.2 373.4h0M360.8 363.6h0M365.8 366.2h0M365.2 372.6h0M365.6 373.2h0M361.7 372.6h0M359.2 365.9h0M360.4 371.2h0M365.3 368.4h0M363.2 371.2h0M363.4 375.5h0M359.9 372.0h0M365.7 374.8h0M360.3 366.8h0M366.9 370.2h0M364.3 373.1h0M364.2 369.7h0M364.1 367.0h0M366.8 369.4h0M359.4 369.5h0M360.7 366.0h0M361.1 373.8h0M368.4 366.7h0M364.3 364.6h0M361.3 366.5h0M358.3 365.7h0M369.6 366.6h0M360.5 371.7h0M361.6 363.4h0M361.9 368.8h0M357.5 370.3h0M366.3 366.8h0M367.1 373.3h0M359.4 370.9h0M358.8 367.7h0M363.7 367.6h0M364.9 369.9h0M362.6 371.9h0M356.9 370.8h0M366.0 368.5h0M360.5 372.7h0M361.6 370.2h0M362.6 364.3h0M361.5 368.1h0M362.9 369.7h0M368.5 365.1h0" stroke="#7a3a12" stroke-width="0.90" stroke-linecap="square" fill="none" opacity="1.0"/><path d="M361.3 366.3h0M367.1 369.2h0M362.7 367.5h0M361.7 366.5h0M367.9 365.3h0M366.7 365.7h0M357.4 371.1h0M370.1 368.4h0M368.6 366.0h0M359.9 363.8h0M362.1 375.3h0M359.9 372.9h0M355.8 370.9h0M361.5 366.7h0M364.5 365.8h0M369.9 371.4h0M356.9 371.7h0M361.0 366.2h0M368.3 373.5h0M365.0 375.0h0M368.0 371.2h0M355.5 370.3h0M364.8 368.7h0M361.1 367.8h0M362.4 375.2h0M364.6 371.8h0M358.2 368.9h0M359.9 364.0h0M358.5 367.3h0M369.2 371.0h0M363.9 369.4h0M364.9 369.9h0M359.8 373.4h0M363.4 368.3h0M365.6 372.0h0M366.9 369.0h0M363.5 365.8h0M357.6 373.4h0M362.5 371.7h0M357.9 370.9h0M366.3 363.5h0M363.9 364.2h0M367.3 372.2h0M362.3 373.5h0M358.4 364.1h0M365.5 374.3h0M361.7 368.9h0M361.8 368.5h0M360.7 369.3h0M363.3 371.0h0M365.0 368.5h0M363.1 374.0h0M367.4 364.2h0M367.5 364.4h0M360.5 363.9h0M367.3 370.3h0M356.5 369.3h0M367.8 366.4h0M363.3 369.3h0M365.0 372.1h0M362.9 366.1h0M366.5 371.2h0M369.9 370.5h0M360.1 367.2h0M367.4 369.1h0M366.3 367.9h0M368.8 367.7h0M363.9 370.4h0M360.6 369.3h0M359.9 368.4h0M357.0 372.8h0M364.7 374.7h0M360.3 373.7h0M364.2 369.7h0M365.2 373.1h0M361.2 367.5h0M359.8 371.1h0" stroke="#6a3010" stroke-width="0.90" stroke-linecap="square" fill="none" opacity="1.0"/></g>
<g clip-path="url(#ct3)"><path d="M503.9 332.0h0M416.1 375.5h0M501.0 341.5h0M434.5 333.9h0M472.1 381.7h0M516.2 315.2h0M484.6 337.5h0M504.5 384.9h0M516.7 375.3h0M460.8 324.6h0M433.8 322.4h0M433.3 351.3h0M475.9 347.4h0M441.4 344.3h0M446.8 348.3h0M460.5 370.6h0M456.6 324.1h0M416.5 312.2h0M500.7 367.5h0M465.4 376.3h0M441.8 313.5h0M478.9 318.1h0M463.0 318.0h0M469.2 358.2h0M441.1 330.1h0M481.0 337.0h0M488.5 349.9h0M512.8 383.4h0M396.9 322.4h0M476.2 342.2h0M495.9 391.7h0M500.8 373.9h0M440.9 289.6h0M456.6 399.8h0" stroke="#e4d8c8" stroke-width="0.60" stroke-linecap="square" fill="none" opacity="1.0"/><path d="M470.8 317.7h0M467.5 358.1h0M493.0 363.4h0M509.4 337.1h0M481.7 354.9h0M450.1 357.0h0M525.9 359.9h0M514.3 329.0h0M512.6 326.3h0M476.8 360.0h0M469.5 356.8h0M496.0 335.3h0M507.0 380.0h0M500.9 363.6h0M501.2 361.0h0M500.6 408.3h0M492.0 333.4h0M432.0 355.9h0M482.6 354.5h0M475.4 274.0h0M442.4 299.9h0M431.5 410.8h0M418.1 354.6h0M499.5 351.6h0M453.2 302.3h0M422.2 332.4h0M440.0 318.0h0M475.4 364.7h0M497.1 335.5h0M507.8 367.1h0M451.4 349.6h0M467.8 338.4h0M449.3 345.8h0" stroke="#c8d0e4" stroke-width="0.60" stroke-linecap="square" fill="none" opacity="1.0"/><path d="M493.9 334.0h0M475.7 347.6h0M477.2 377.7h0M479.1 374.1h0M503.3 321.7h0M470.5 344.2h0M499.7 349.7h0M513.6 357.8h0M493.4 317.5h0M523.8 338.9h0M513.0 339.1h0M411.2 347.0h0M440.3 360.1h0M460.4 287.2h0M507.8 355.2h0M468.3 346.1h0M441.1 353.1h0M520.7 342.9h0M468.7 330.1h0M489.2 355.8h0M416.0 292.8h0M520.5 337.3h0M503.4 391.1h0M423.8 344.1h0M447.4 336.7h0M413.0 340.8h0M481.0 366.2h0M473.7 352.7h0M511.4 340.7h0M483.6 323.8h0M474.5 340.5h0M509.2 387.5h0M497.1 342.6h0" stroke="#d8d0c8" stroke-width="0.60" stroke-linecap="square" fill="none" opacity="1.0"/><path d="M483.0 331.3h0M477.2 318.8h0M466.6 325.5h0M462.5 323.8h0M474.3 319.3h0M478.5 325.1h0M457.2 322.0h0M469.6 326.5h0M487.9 321.4h0M473.0 326.2h0M477.4 321.5h0M460.4 322.6h0M463.6 327.4h0M478.2 330.3h0M485.7 319.4h0M468.6 324.5h0M460.2 323.3h0M469.6 328.2h0M486.2 330.9h0M467.9 326.0h0M487.6 329.6h0M469.9 313.3h0M466.0 317.5h0M467.0 320.7h0M475.3 319.8h0M482.8 315.1h0M468.4 325.1h0M473.3 312.9h0M476.4 324.9h0M457.8 320.1h0M467.2 328.3h0M467.9 325.9h0M479.2 324.8h0M488.4 320.8h0M471.8 316.7h0M469.8 323.8h0M471.2 315.5h0M481.1 317.2h0M486.7 317.6h0M485.2 325.0h0M480.2 319.5h0M471.5 312.9h0M467.8 320.0h0M475.1 320.1h0M476.8 315.8h0M482.9 325.0h0M469.2 325.9h0M469.1 322.8h0M480.8 329.4h0M466.2 326.8h0M472.5 327.4h0M487.6 329.5h0M473.0 322.1h0M474.2 314.8h0M460.2 319.2h0M476.5 330.2h0M477.9 312.5h0M485.3 313.6h0M476.4 329.8h0M466.2 314.1h0M483.4 314.9h0M462.1 323.3h0M466.6 319.4h0M477.1 327.2h0M464.8 316.9h0M469.1 315.2h0M482.6 329.0h0M475.8 327.8h0M468.0 317.5h0M466.7 325.4h0M479.7 331.2h0M477.5 323.2h0M482.0 328.5h0M474.3 330.0h0M487.8 322.6h0M462.3 326.5h0M466.8 324.6h0M463.7 319.0h0M474.8 324.9h0M462.6 314.8h0M463.0 323.0h0M483.5 323.9h0M475.8 327.6h0M476.3 325.9h0M468.5 324.9h0M477.0 317.6h0M463.5 315.7h0M486.2 330.4h0M479.3 326.3h0M470.2 322.4h0M478.7 320.7h0M475.6 319.1h0M483.8 325.9h0M470.3 313.5h0M481.0 313.2h0M486.5 319.6h0M465.5 316.5h0M471.9 319.4h0M479.8 326.2h0M488.4 324.6h0M468.6 324.9h0M473.7 312.3h0M472.1 315.4h0M489.3 324.0h0M474.5 327.2h0M481.7 317.0h0M464.7 322.5h0M458.1 318.0h0M458.4 324.7h0M477.7 316.6h0M466.2 319.2h0M479.3 316.8h0M473.9 326.0h0M489.0 327.0h0M474.7 313.9h0M474.0 318.3h0M476.8 324.5h0M480.5 314.6h0M477.6 325.9h0M466.8 317.4h0M473.6 320.7h0M484.9 317.2h0M479.9 316.2h0" stroke="#d0c890" stroke-width="0.84" stroke-linecap="square" fill="none" opacity="1.0"/><path d="M461.8 316.1h0M474.4 312.8h0M465.3 313.6h0M462.4 321.1h0M469.6 327.7h0M466.4 315.3h0M465.1 317.7h0M487.3 328.1h0M478.3 318.2h0M488.2 318.2h0M474.8 315.8h0M481.8 330.9h0M482.2 322.3h0M470.0 314.8h0M484.6 331.7h0M466.7 323.7h0M463.7 324.2h0M486.1 319.0h0M478.3 320.8h0M478.9 315.8h0M470.8 326.1h0M468.5 324.4h0M488.8 327.7h0M479.2 328.7h0M486.8 322.3h0M480.1 318.5h0M488.0 321.4h0M481.0 316.1h0M474.3 321.5h0M484.2 323.2h0M466.9 326.8h0M458.8 320.4h0M480.8 316.5h0M469.4 325.1h0M486.1 327.7h0M485.0 322.2h0M478.7 314.1h0M465.6 325.4h0M470.6 320.4h0M475.8 323.2h0M466.8 314.5h0M477.2 321.1h0M475.9 321.8h0M484.7 324.2h0M467.6 318.7h0M484.0 328.6h0M468.4 314.9h0M480.3 315.8h0M469.5 314.7h0M472.9 324.9h0M489.1 322.1h0M476.1 330.3h0M481.3 313.9h0M469.2 329.0h0M468.7 323.5h0M480.5 326.6h0M484.8 324.5h0M480.2 330.1h0M460.3 326.0h0M484.8 328.8h0M474.7 312.3h0M472.0 314.1h0M473.2 312.5h0M470.6 326.5h0M477.7 326.2h0M459.3 322.1h0M459.4 319.6h0M463.4 320.8h0M464.1 315.4h0M460.9 314.8h0M482.8 325.5h0M477.5 329.5h0M485.2 326.6h0M471.8 315.8h0M478.4 323.3h0M463.5 322.5h0M472.2 314.1h0M484.1 321.1h0M465.2 318.0h0M476.9 322.8h0M468.9 318.9h0M478.9 323.3h0M477.4 313.2h0M473.4 318.0h0M478.5 316.6h0M483.6 324.6h0M483.2 313.6h0M483.5 330.0h0M480.8 320.3h0M481.5 314.1h0M480.5 320.4h0M479.2 324.6h0M479.1 324.6h0M470.4 317.6h0M479.8 328.2h0M471.9 329.8h0M488.0 317.4h0M475.8 328.9h0M475.3 323.6h0M475.3 325.3h0M463.3 324.5h0M475.1 322.1h0M479.4 322.5h0M477.1 327.3h0M465.4 322.0h0M468.5 322.6h0M474.4 322.1h0M476.7 329.0h0M476.9 324.0h0M488.3 328.7h0M485.1 331.4h0M464.0 316.3h0M479.3 313.2h0M478.7 331.1h0M460.6 317.6h0M479.4 316.2h0M476.3 315.0h0M483.9 324.6h0M466.3 327.7h0M482.5 329.3h0M462.5 314.3h0M461.3 321.9h0M476.7 318.6h0M467.7 320.6h0M481.6 314.3h0M471.9 318.0h0" stroke="#a8b868" stroke-width="0.84" stroke-linecap="square" fill="none" opacity="1.0"/><path d="M482.6 315.5h0M473.1 325.7h0M480.8 323.4h0M483.9 321.3h0M487.9 325.9h0M484.7 324.4h0M464.1 322.7h0M486.9 318.0h0M475.3 329.4h0M467.2 325.4h0M466.5 324.6h0M476.3 312.8h0M484.7 328.6h0M461.7 315.1h0M479.4 318.4h0M488.0 321.0h0M472.3 324.9h0M476.6 329.1h0M485.7 332.0h0M456.2 319.2h0M479.2 323.1h0M482.2 328.3h0M480.4 328.4h0M462.3 321.7h0M480.0 328.6h0M489.0 325.0h0M479.6 327.0h0M471.4 314.3h0M485.7 328.7h0M471.2 322.4h0M477.4 327.8h0M464.7 315.8h0M459.2 319.9h0M483.9 329.1h0M455.9 319.1h0M472.2 312.5h0M456.9 319.1h0M457.1 322.0h0M459.4 319.7h0M482.1 320.4h0M486.9 320.5h0M481.2 326.1h0M458.0 318.3h0M463.3 315.7h0M459.4 323.0h0M469.7 319.0h0M468.4 313.5h0M467.3 319.8h0M486.7 316.9h0M467.1 321.6h0M469.4 314.1h0M463.5 314.7h0M468.5 321.2h0M474.0 318.7h0M462.7 322.4h0M459.9 322.2h0M484.5 314.3h0M467.3 326.3h0M473.6 329.2h0M478.5 328.2h0M479.3 327.1h0M475.2 319.7h0M486.3 326.5h0M484.3 322.6h0M471.4 325.9h0M467.3 316.9h0M470.0 324.8h0M473.8 323.7h0M474.8 327.2h0M469.0 317.5h0M475.7 319.7h0M466.9 322.7h0M466.8 319.3h0M472.2 314.8h0M464.8 324.0h0M469.4 328.0h0M457.2 322.4h0M472.8 325.9h0M480.5 324.6h0M462.3 321.4h0M474.5 322.5h0M464.2 324.4h0M469.9 327.9h0M474.8 323.3h0M478.3 323.0h0M471.2 314.7h0M486.3 318.6h0M487.1 321.0h0M481.3 315.6h0M468.0 314.2h0M476.2 312.1h0M460.5 317.9h0M473.9 328.3h0M485.7 319.8h0M472.5 326.7h0M474.2 317.8h0M465.0 325.9h0M458.7 316.6h0M483.8 320.5h0M477.9 316.1h0M480.5 317.7h0M484.7 322.9h0M488.5 322.1h0M474.3 318.3h0M485.0 315.1h0M478.5 330.0h0M488.1 325.3h0M471.0 317.5h0M456.3 321.9h0M461.1 326.2h0M486.2 323.2h0M469.2 314.6h0" stroke="#b89850" stroke-width="0.84" stroke-linecap="square" fill="none" opacity="1.0"/><path d="M479.7 329.9h0M477.3 312.8h0M481.6 322.9h0M487.8 328.5h0M481.2 319.7h0M480.3 328.7h0M473.3 312.6h0M468.3 323.1h0M470.2 314.6h0M457.1 323.6h0M476.6 314.2h0M467.6 328.7h0M485.6 324.3h0M465.5 325.9h0M466.4 320.5h0M464.5 313.7h0M462.0 315.1h0M469.4 313.2h0M481.3 320.9h0M478.7 316.6h0M472.3 318.1h0M479.3 321.8h0M474.0 321.4h0M481.7 320.9h0M488.5 323.0h0M488.1 319.9h0M456.7 318.4h0M482.0 320.6h0M486.3 331.5h0M456.8 320.7h0M471.5 313.0h0M466.2 315.1h0M478.0 312.8h0M476.1 325.5h0M487.2 329.3h0M457.7 322.8h0M471.5 326.8h0M487.2 319.7h0M456.5 323.0h0M473.9 324.2h0M476.1 322.9h0M484.6 327.0h0M479.9 328.6h0M470.9 314.6h0M481.4 325.5h0M462.0 316.9h0M484.3 323.2h0M486.6 324.8h0M482.7 319.5h0M477.4 316.6h0M465.9 326.2h0M486.3 314.8h0M479.7 326.8h0M459.3 316.3h0M486.8 329.5h0M468.1 316.2h0M469.4 328.2h0M471.7 325.9h0M480.6 319.5h0M474.9 319.9h0M478.9 314.4h0M482.5 315.7h0M469.1 316.3h0M465.7 327.4h0M469.6 324.4h0M486.4 321.8h0M474.7 325.8h0M473.1 321.1h0M475.0 316.1h0M482.8 326.4h0M464.8 319.1h0M488.7 318.3h0M465.2 316.9h0M473.6 328.4h0M481.3 325.1h0M481.6 317.4h0M464.6 324.8h0M471.9 326.4h0M478.7 313.5h0M488.6 324.7h0M484.5 313.5h0M465.3 321.8h0M488.7 326.0h0M482.1 316.8h0M466.4 314.1h0M481.2 330.5h0M475.0 312.8h0M485.6 331.3h0M466.2 320.3h0M465.6 314.6h0M457.3 319.4h0M487.6 320.2h0M461.7 314.2h0M474.2 312.8h0M476.7 325.9h0M469.3 315.8h0M483.4 318.5h0M478.7 317.8h0M483.8 324.7h0M487.2 321.0h0M479.7 313.1h0M475.2 317.3h0M471.1 320.2h0M463.8 326.5h0M489.1 325.2h0M468.1 325.3h0M461.2 325.6h0M483.4 314.8h0M480.3 325.6h0M487.7 322.3h0M464.9 320.3h0M482.7 317.9h0M473.1 313.1h0M486.2 331.6h0M469.7 316.1h0M469.2 324.7h0M487.4 315.6h0M481.6 321.6h0M480.3 322.7h0M467.0 326.1h0M486.9 317.7h0M463.2 316.9h0M460.0 323.5h0M473.6 315.4h0M465.6 314.1h0M488.9 320.6h0" stroke="#98b860" stroke-width="0.84" stroke-linecap="square" fill="none" opacity="1.0"/><path d="M464.0 327.2h0M465.4 327.6h0M470.7 312.7h0M485.0 325.5h0M470.9 313.2h0M486.8 326.9h0M469.2 320.4h0M468.1 321.0h0M483.1 328.1h0M488.0 326.9h0M485.1 315.6h0M471.6 325.9h0M479.5 315.8h0M476.6 323.7h0M474.9 315.7h0M462.8 323.5h0M480.7 318.6h0M480.4 318.4h0M460.6 319.7h0M458.1 321.1h0M464.5 315.0h0M473.1 323.7h0M485.3 331.5h0M468.4 320.7h0M479.5 326.0h0M471.6 329.0h0M488.1 325.6h0M469.3 324.2h0M457.0 317.5h0M470.6 319.3h0M459.0 322.9h0M481.6 313.1h0M477.0 329.6h0M480.8 329.5h0M461.0 314.6h0M482.5 328.8h0M462.1 319.2h0M482.9 330.0h0M465.9 321.1h0M473.5 322.6h0M463.9 321.0h0M478.8 326.3h0M483.0 328.5h0M479.8 329.6h0M469.5 318.0h0M474.8 315.0h0M458.0 320.7h0M481.6 313.8h0M485.2 331.9h0M466.4 322.0h0M474.3 322.3h0M484.1 320.0h0M467.3 327.9h0M485.9 322.0h0M465.6 321.9h0M478.4 317.1h0M472.8 327.1h0M476.3 315.8h0M462.6 314.7h0M488.5 326.6h0M468.3 317.0h0M476.0 329.6h0M487.1 318.4h0M475.9 318.4h0M480.2 319.1h0M481.6 323.4h0M479.1 322.0h0M471.3 324.2h0M484.3 326.5h0M484.7 321.6h0M475.2 318.3h0M464.4 324.1h0M482.2 328.9h0M463.9 319.9h0M468.4 326.0h0M480.1 315.3h0M484.2 324.5h0M457.8 320.9h0M489.2 318.4h0M479.4 318.5h0M484.5 328.0h0M465.0 323.6h0M474.6 322.6h0M485.3 324.3h0M474.4 315.0h0M468.1 321.8h0M485.3 324.3h0M459.9 324.3h0M484.9 314.8h0M480.2 316.7h0M487.8 326.4h0M470.5 313.3h0M475.3 330.1h0M463.1 319.8h0M486.2 323.7h0M484.7 317.8h0M486.5 318.0h0M466.5 315.9h0M479.1 313.3h0M474.1 318.3h0M472.9 314.0h0M478.4 312.7h0M472.0 329.0h0M486.5 326.9h0M485.8 332.0h0M475.9 329.5h0M479.5 330.9h0M470.2 319.2h0M467.4 313.2h0M458.4 319.1h0M473.6 320.9h0M457.6 321.0h0M485.2 326.2h0M475.9 330.6h0M468.0 316.1h0M486.6 317.9h0M471.9 325.9h0M487.6 329.2h0M489.6 320.6h0M479.2 312.5h0M483.0 320.8h0M475.1 312.9h0M465.3 320.5h0" stroke="#c8c070" stroke-width="0.84" stroke-linecap="square" fill="none" opacity="1.0"/><path d="M484.9 326.1h0M455.7 318.5h0M460.0 315.1h0M477.1 325.1h0M488.8 322.8h0M474.2 314.6h0M479.0 329.6h0M480.0 314.9h0M474.7 319.6h0M487.3 328.8h0M465.3 318.7h0M486.7 314.6h0M459.3 317.7h0M476.6 313.2h0M488.7 323.4h0M484.3 318.5h0M467.0 317.6h0M478.2 326.8h0M479.4 329.6h0M484.7 327.3h0M481.8 321.9h0M484.8 316.0h0M486.8 320.0h0M463.1 316.9h0M476.1 315.0h0M484.4 320.2h0M462.7 315.9h0M488.0 329.6h0M461.6 322.4h0M457.1 322.6h0M481.1 319.9h0M483.7 329.6h0M486.8 318.2h0M472.3 316.5h0M470.1 328.5h0M484.5 313.2h0M478.2 330.2h0M474.2 316.3h0M468.8 324.6h0M473.6 318.3h0M471.1 319.7h0M462.1 323.8h0M480.5 317.6h0M473.3 312.2h0M472.6 319.0h0M470.0 322.4h0M480.7 318.2h0M463.2 323.9h0M477.8 321.3h0M459.9 324.7h0M474.0 318.4h0M471.4 317.1h0M469.9 322.4h0M484.3 316.9h0M464.8 317.0h0M483.4 316.9h0M462.5 322.9h0M469.7 315.7h0M478.1 322.8h0M489.2 318.3h0M470.6 319.2h0M462.4 319.2h0M456.9 319.3h0M480.6 316.1h0M466.8 328.3h0M471.5 314.7h0M479.9 315.0h0M468.8 322.6h0M462.8 324.7h0M473.1 318.3h0M490.0 319.5h0M472.4 323.4h0M471.2 324.3h0M467.9 312.9h0M468.8 316.1h0M472.3 329.4h0M458.3 318.8h0M464.8 321.5h0M472.9 318.5h0M482.6 323.7h0M469.7 317.2h0M476.1 323.0h0M478.9 313.8h0M480.5 331.3h0M476.5 319.7h0M487.4 331.3h0M472.4 316.7h0M462.8 323.5h0M474.1 314.2h0M465.4 319.5h0M469.3 320.6h0M482.6 330.5h0M469.7 322.7h0M466.2 315.7h0M482.7 331.5h0M457.5 322.6h0M487.9 317.6h0M487.7 316.1h0M475.3 327.7h0M487.8 322.2h0M466.5 326.9h0M477.4 315.3h0M476.7 320.7h0M463.5 325.5h0M478.8 315.1h0M483.4 327.0h0M470.2 329.1h0M478.6 323.4h0M473.1 329.5h0M476.4 320.5h0M473.2 321.0h0M464.4 323.9h0M461.5 315.6h0M464.2 314.1h0M469.7 321.1h0M458.4 321.4h0M463.8 315.8h0M459.4 325.2h0M465.0 316.1h0M485.5 317.7h0" stroke="#a0b070" stroke-width="0.84" stroke-linecap="square" fill="none" opacity="1.0"/><path d="M477.8 326.6h0M472.3 328.8h0M481.2 328.1h0M470.3 314.5h0M482.5 313.0h0M473.6 323.1h0M467.5 312.9h0M468.1 321.2h0M479.2 313.2h0M486.0 323.5h0M485.3 322.9h0M481.6 328.1h0M463.7 315.1h0M484.3 316.1h0M455.5 319.7h0M466.2 313.4h0M486.9 318.2h0M475.9 327.9h0M464.1 323.4h0M475.0 324.3h0M456.5 322.5h0M487.6 327.6h0M473.1 328.1h0M487.2 330.3h0M458.0 316.5h0M484.4 313.9h0M478.1 326.4h0M484.7 330.6h0M460.3 319.2h0M482.5 323.9h0M468.2 321.7h0M485.0 322.2h0M459.4 320.6h0M476.9 326.6h0M487.7 321.5h0M457.2 323.8h0M479.0 323.7h0M481.6 325.4h0M477.0 323.7h0M461.3 315.0h0M480.8 313.9h0M478.6 328.7h0M470.1 315.6h0M471.9 329.3h0M469.5 323.0h0M473.6 318.9h0M469.4 312.7h0M476.8 326.0h0M485.8 324.5h0M476.6 317.0h0M482.1 323.0h0M474.7 320.3h0M462.0 314.2h0M464.6 325.4h0M463.9 326.5h0M477.3 319.2h0M485.4 319.7h0M486.4 327.8h0M472.8 329.6h0M462.8 319.3h0M487.3 324.6h0M478.6 321.4h0M485.3 322.8h0M457.3 321.5h0M476.3 326.5h0M484.6 326.2h0M471.7 320.4h0M481.9 318.0h0M461.7 324.5h0M477.7 322.6h0M489.1 318.8h0M483.2 318.3h0M485.3 330.0h0M483.3 317.5h0M482.6 321.9h0M473.6 320.4h0M471.4 326.3h0M467.9 326.3h0M466.2 326.1h0M463.2 326.6h0M472.8 328.0h0M465.9 318.8h0M470.5 319.0h0M468.2 319.0h0M485.3 326.2h0M463.4 322.8h0M482.0 329.2h0M459.5 322.6h0M485.2 326.0h0M469.4 316.3h0M484.6 319.5h0M483.6 328.8h0M466.2 326.9h0M488.0 321.3h0M483.4 319.1h0M480.2 312.6h0M465.3 320.4h0M464.6 317.2h0M467.7 325.6h0M484.8 325.1h0M475.1 327.5h0M472.1 314.2h0M483.6 325.9h0M484.2 317.7h0M462.9 322.6h0M474.1 312.3h0M476.1 318.6h0M483.3 323.0h0M481.0 313.3h0M476.2 324.4h0M466.9 327.7h0M477.7 327.7h0M468.7 328.8h0M484.6 313.3h0M481.9 316.5h0M484.0 328.8h0M476.0 324.6h0M479.6 329.3h0M487.2 318.8h0M488.6 323.4h0M467.6 316.0h0M486.2 317.2h0M484.2 321.1h0M480.2 321.1h0M475.3 312.9h0" stroke="#c0a858" stroke-width="0.84" stroke-linecap="square" fill="none" opacity="1.0"/><path d="M485.7 327.0h0M469.0 321.9h0M468.4 322.7h0M465.7 326.1h0M484.9 322.6h0M459.4 320.7h0M462.6 317.4h0M455.8 320.5h0M468.4 324.0h0M485.4 322.0h0M485.8 313.9h0M475.3 315.6h0M483.9 324.9h0M477.1 323.9h0M487.7 324.3h0M481.8 328.3h0M459.9 315.3h0M462.6 324.9h0M476.3 323.6h0M463.4 314.0h0M480.1 326.7h0M486.4 321.1h0M484.4 324.5h0M475.4 319.7h0M475.4 327.4h0M459.3 318.6h0M481.4 327.1h0M485.1 331.9h0M486.3 327.4h0M489.2 324.0h0M458.7 316.5h0M474.6 317.6h0M473.1 314.9h0M478.4 320.9h0M460.2 321.9h0M464.0 320.4h0M485.7 326.3h0M461.6 321.8h0M478.2 329.3h0M476.1 322.1h0M478.6 318.0h0M469.1 323.0h0M483.9 327.3h0M462.2 315.8h0M458.2 323.3h0M460.1 315.8h0M482.3 330.7h0M486.3 322.0h0M465.0 324.6h0M460.9 317.2h0M482.5 313.1h0M478.4 319.4h0M480.4 320.5h0M479.1 314.3h0M467.3 313.2h0M463.6 314.9h0M472.0 321.0h0M485.1 314.0h0M485.5 328.5h0M479.7 329.8h0M482.3 316.3h0M478.9 330.4h0M476.2 328.7h0M459.9 320.9h0M483.8 324.9h0M461.9 323.8h0M486.3 320.9h0M464.3 324.8h0M481.5 316.5h0M479.3 313.9h0M462.7 326.2h0M466.3 315.1h0M458.1 322.0h0M473.9 325.7h0M457.7 320.5h0M479.6 315.1h0M479.7 317.5h0M467.1 316.0h0M467.7 322.7h0M468.8 319.4h0M467.7 319.8h0M483.0 324.4h0M462.8 324.7h0M463.3 314.5h0M473.7 328.5h0M464.0 321.5h0M482.0 329.2h0M487.6 320.3h0M485.9 319.5h0M475.8 315.1h0M482.5 319.4h0M473.3 313.9h0M483.7 317.4h0M466.7 316.5h0M485.3 327.0h0" stroke="#b0c060" stroke-width="0.84" stroke-linecap="square" fill="none" opacity="1.0"/><path d="M501.0 327.3h0M500.4 322.1h0M498.0 318.5h0M496.2 320.3h0M502.0 327.5h0M499.4 321.9h0M498.3 318.7h0M499.8 320.0h0M497.0 322.3h0M498.7 326.2h0M498.0 323.0h0M499.7 326.1h0M497.6 324.3h0M499.6 325.3h0M500.4 320.6h0M500.9 323.5h0M501.9 326.2h0M497.1 319.3h0M498.9 325.7h0M499.2 319.0h0M500.8 325.4h0M500.4 322.6h0M502.4 323.5h0M497.9 318.9h0M498.6 318.5h0M496.7 322.2h0M501.8 324.8h0M496.4 319.9h0M502.4 324.0h0" stroke="#f0a870" stroke-width="0.80" stroke-linecap="square" fill="none" opacity="1.0"/><path d="M498.5 326.1h0M500.8 325.1h0M499.9 318.7h0M500.8 320.2h0M500.1 325.1h0M500.8 321.8h0M501.6 321.0h0M496.5 320.9h0M500.8 319.6h0M499.3 322.8h0M499.4 318.2h0M497.4 319.5h0M499.4 323.6h0M503.2 323.2h0M501.5 326.9h0M499.1 318.1h0M501.6 324.0h0M499.4 322.6h0M499.7 318.6h0M500.3 320.6h0M502.2 323.0h0" stroke="#f8b880" stroke-width="0.80" stroke-linecap="square" fill="none" opacity="1.0"/><path d="M499.5 321.5h0M499.7 325.1h0M503.0 322.4h0M498.9 323.5h0M501.7 327.5h0M498.4 324.3h0M503.3 323.8h0M499.7 319.5h0M497.7 326.0h0M499.6 317.9h0M497.0 321.8h0M502.7 325.9h0M502.3 324.6h0M500.9 326.6h0M499.1 320.5h0M501.2 326.7h0M497.2 324.6h0M502.3 326.7h0M498.1 319.4h0M501.0 323.3h0" stroke="#e89860" stroke-width="0.80" stroke-linecap="square" fill="none" opacity="1.0"/><path d="M440.3 331.9h0M445.2 330.8h0M440.4 332.9h0M441.8 334.4h0M444.9 330.8h0M443.3 332.1h0M443.0 330.4h0M443.8 329.4h0M440.4 333.1h0M444.7 332.1h0M444.8 332.5h0M441.4 332.2h0M443.1 332.1h0M441.1 332.0h0M444.7 331.1h0M444.4 332.2h0M440.2 333.0h0M444.0 331.9h0M440.8 334.0h0M443.6 332.8h0M445.1 331.8h0M442.5 332.2h0M442.5 332.1h0M445.2 331.0h0M443.0 331.6h0M443.7 331.1h0M440.3 331.4h0M443.6 333.8h0M444.4 333.7h0M444.1 330.9h0M442.9 333.2h0M441.5 333.3h0" stroke="#30bdf0" stroke-width="0.80" stroke-linecap="square" fill="none" opacity="1.0"/><path d="M445.2 332.0h0M444.2 331.0h0M444.7 332.2h0M442.4 329.9h0M443.5 330.3h0M444.2 334.0h0M445.1 331.9h0M443.0 331.9h0M441.9 333.0h0M440.6 331.7h0M441.8 330.6h0M442.5 333.5h0M441.4 331.7h0M444.5 331.9h0M443.5 333.0h0M443.5 330.4h0M440.3 333.3h0M441.4 331.4h0M443.9 331.2h0M441.5 330.9h0M442.6 331.8h0M440.5 332.1h0M443.9 331.8h0M441.6 333.1h0M443.5 331.0h0M442.4 333.3h0M443.1 330.4h0M441.7 331.9h0" stroke="#48c8f0" stroke-width="0.80" stroke-linecap="square" fill="none" opacity="1.0"/><path d="M450.8 324.0h0M449.7 328.0h0M452.9 327.2h0M451.2 328.2h0M449.8 331.4h0M448.2 330.6h0M452.4 325.1h0M450.1 330.1h0M449.3 327.3h0M451.0 328.4h0M452.0 328.3h0M452.2 324.9h0M450.5 336.4h0M449.0 329.9h0M452.5 326.3h0M451.9 325.9h0M451.3 326.6h0" stroke="#a06040" stroke-width="0.70" stroke-linecap="square" fill="none" opacity="1.0"/><path d="M451.1 326.6h0M450.3 334.7h0M450.7 333.4h0M452.7 332.6h0M449.7 324.8h0M452.1 326.3h0M452.9 328.9h0M450.6 324.9h0M453.1 327.4h0M452.2 324.1h0M450.8 330.3h0M450.6 331.8h0M450.6 330.3h0" stroke="#8a4a20" stroke-width="0.70" stroke-linecap="square" fill="none" opacity="1.0"/><path d="M455.5 340.0h0M473.0 343.7h0M463.3 339.4h0M463.6 333.4h0M458.0 334.4h0M477.4 349.0h0M468.8 334.5h0M475.3 349.8h0M475.4 334.8h0M479.2 346.9h0M462.2 333.3h0M471.9 333.3h0M473.6 344.2h0M469.7 338.8h0M472.0 337.5h0M467.1 346.9h0M462.7 345.0h0M470.4 336.9h0M470.1 337.7h0M471.3 342.0h0M480.1 347.3h0M462.3 347.5h0M476.9 344.3h0M471.7 348.3h0M472.2 339.6h0M473.3 342.4h0M470.1 333.2h0M465.5 346.6h0M454.0 336.6h0M471.4 351.0h0M466.5 348.2h0M469.5 347.4h0M456.2 334.5h0M467.0 337.0h0M468.1 352.2h0M465.7 345.7h0M472.0 344.8h0M465.6 333.8h0M478.1 338.8h0M465.0 341.7h0M474.5 333.6h0M473.9 348.3h0M466.9 349.0h0M465.5 337.6h0M471.9 348.0h0M466.5 336.4h0M480.4 347.1h0M463.8 343.4h0M480.1 346.7h0M468.0 344.8h0M463.8 338.0h0M457.5 344.9h0M467.1 345.2h0M464.6 343.9h0M471.3 349.5h0M479.8 343.9h0M480.3 338.9h0M460.8 344.8h0M471.0 343.5h0M458.0 341.9h0M471.4 333.4h0M465.2 337.2h0M460.0 332.7h0M459.0 334.3h0M472.1 339.4h0M469.4 345.6h0M475.2 347.8h0M475.7 346.5h0M469.3 348.3h0M477.3 341.7h0M458.2 343.0h0M455.7 343.5h0M463.2 343.9h0M475.8 349.9h0M475.4 342.9h0M464.1 333.3h0M457.0 337.2h0M477.8 339.8h0M471.2 349.8h0M455.9 342.8h0M475.9 334.3h0M459.4 340.5h0M459.8 335.6h0M478.5 341.0h0M467.7 342.6h0M475.1 335.5h0M476.5 349.0h0M469.6 351.5h0M467.2 339.0h0M463.3 349.9h0M459.8 338.9h0M471.7 348.5h0M467.5 340.2h0M469.1 349.3h0M468.7 349.5h0M462.6 334.6h0M481.0 344.2h0M471.3 337.6h0M467.1 344.4h0M461.7 341.6h0M481.5 344.7h0M480.8 341.6h0M454.8 336.2h0M469.2 348.7h0M459.5 332.7h0M475.2 343.9h0M464.7 343.8h0M455.5 340.3h0M461.7 339.0h0M471.2 339.6h0M470.9 343.8h0M464.0 344.2h0M461.2 336.9h0M464.6 351.0h0M477.8 344.1h0M475.2 347.7h0M477.2 339.0h0M468.2 349.1h0M464.9 351.1h0M456.9 334.2h0M472.4 348.8h0M468.0 338.1h0M462.1 348.0h0M463.5 337.9h0M463.7 340.8h0M466.3 347.3h0M477.1 341.6h0M462.5 341.7h0M464.3 343.1h0M472.7 347.0h0M470.1 345.0h0M465.5 350.5h0M460.8 347.9h0M471.1 351.0h0M471.3 349.2h0M466.6 335.9h0M467.7 339.4h0M460.4 342.1h0M473.8 333.5h0M456.1 336.5h0M466.1 343.8h0M479.5 344.8h0M456.7 342.5h0M470.4 333.4h0M466.8 344.1h0M459.0 337.4h0M459.8 343.1h0M478.5 341.0h0M460.8 337.3h0M461.5 340.1h0M470.6 345.6h0M469.1 350.2h0M479.8 338.6h0M462.3 347.7h0M473.0 347.1h0M466.2 348.0h0M467.8 346.2h0M465.0 340.4h0M466.8 334.7h0M466.0 335.3h0M480.6 340.4h0M458.8 340.7h0M462.6 334.1h0M469.5 342.7h0M478.4 341.7h0M465.6 339.8h0M462.3 350.0h0M462.5 334.9h0M463.9 347.2h0M468.4 341.0h0M464.4 349.4h0M474.9 334.4h0M477.5 336.5h0M473.1 342.8h0M465.3 341.6h0M477.6 343.1h0M467.9 337.2h0M476.4 347.5h0M477.2 342.9h0M470.6 345.9h0M456.1 343.3h0M463.8 335.8h0M469.4 347.6h0M464.4 344.7h0M469.5 341.5h0M472.0 333.5h0M473.5 350.7h0M475.3 345.2h0M474.0 341.1h0M461.2 341.6h0M465.6 346.8h0M470.9 342.0h0M476.8 337.0h0M478.6 341.4h0M465.3 346.2h0M472.1 349.6h0M463.4 347.8h0M460.3 346.9h0M475.2 347.1h0M475.0 334.6h0M460.9 333.6h0M465.8 345.8h0M463.2 345.1h0M471.8 338.6h0M469.1 341.8h0" stroke="#2a4ab0" stroke-width="0.80" stroke-linecap="square" fill="none" opacity="1.0"/><path d="M460.3 341.6h0M473.2 350.4h0M460.7 341.7h0M466.1 352.1h0M472.8 339.8h0M474.6 342.3h0M454.1 335.1h0M472.9 350.1h0M458.6 335.5h0M454.8 340.2h0M473.0 346.8h0M466.8 342.1h0M477.8 346.9h0M467.2 344.0h0M476.2 340.7h0M475.6 349.8h0M480.9 341.1h0M476.0 350.0h0M473.4 336.6h0M480.8 341.6h0M468.7 344.1h0M467.3 334.6h0M478.2 346.0h0M463.1 342.7h0M471.8 342.8h0M462.1 338.1h0M467.0 335.5h0M462.2 336.9h0M470.6 338.8h0M461.0 340.2h0M480.9 341.2h0M470.5 341.6h0M478.4 348.0h0M472.5 334.6h0M477.5 348.2h0M468.3 341.2h0M472.3 343.3h0M474.8 350.1h0M464.7 345.9h0M457.9 346.2h0M473.4 338.1h0M466.0 339.7h0M475.9 340.9h0M475.3 338.1h0M463.3 336.0h0M477.3 336.9h0M461.2 332.6h0M469.6 339.9h0M471.7 345.4h0M481.3 340.8h0M462.7 341.0h0M472.1 339.2h0M461.0 347.4h0M478.7 336.8h0M473.3 345.2h0M466.8 351.0h0M472.1 349.2h0M464.0 338.4h0M467.9 343.3h0M475.8 338.7h0M468.3 341.2h0M474.6 336.5h0M469.3 349.5h0M480.3 344.0h0M471.1 337.6h0M460.8 345.3h0M463.7 337.0h0M476.5 335.9h0M479.3 345.7h0M467.6 342.3h0M459.1 342.0h0M463.7 332.6h0M461.7 343.6h0M466.0 345.2h0M470.3 347.3h0M471.4 338.9h0M454.8 341.3h0M458.2 345.2h0M480.2 346.3h0M475.6 349.5h0M464.1 349.5h0M473.9 338.9h0M469.7 337.3h0M462.8 341.0h0M454.2 335.9h0M477.2 348.0h0M474.7 348.1h0M476.6 335.1h0M473.2 337.9h0M473.5 342.1h0M478.3 344.1h0M465.0 349.2h0M469.0 335.9h0M469.7 343.8h0M467.8 346.1h0M480.8 342.8h0M470.4 345.4h0M467.6 338.1h0M472.6 347.3h0M464.5 342.4h0M469.4 345.1h0M457.4 345.7h0M466.4 338.5h0M454.9 342.1h0M460.2 345.2h0M469.6 339.3h0M479.4 344.6h0M455.1 334.6h0M478.0 343.2h0M454.8 341.9h0M461.9 335.0h0M473.1 348.8h0M467.1 340.1h0M478.4 348.1h0M470.1 336.6h0M462.9 346.3h0M481.2 340.3h0M457.4 335.4h0M476.1 335.9h0M473.4 335.6h0M481.5 342.3h0M476.0 334.4h0M473.3 347.7h0M475.4 342.7h0M469.7 340.8h0M460.3 342.5h0M457.1 335.3h0M465.4 333.9h0M456.8 338.6h0M469.6 344.0h0M475.3 345.7h0M479.1 348.3h0M463.2 345.1h0M473.5 350.1h0M473.9 335.7h0M464.5 340.8h0M458.5 336.0h0M478.4 338.1h0M472.1 335.1h0M462.3 336.4h0M476.1 338.1h0M464.4 332.7h0M459.4 341.5h0M477.9 347.4h0M464.0 346.8h0M472.1 346.5h0M479.5 343.5h0M454.2 339.9h0M468.9 343.0h0M459.4 347.8h0M472.8 350.3h0M454.9 342.8h0M455.7 335.1h0M468.9 335.7h0M465.3 349.8h0M471.5 337.2h0M474.0 333.6h0M461.6 339.5h0M459.0 346.5h0M456.1 334.5h0M477.3 344.5h0M465.2 347.4h0M479.8 341.2h0M478.7 341.9h0M475.7 343.3h0M465.2 344.3h0M459.7 338.8h0M474.1 350.3h0M461.6 338.5h0M475.6 348.2h0M458.1 335.8h0" stroke="#3a5ab8" stroke-width="0.80" stroke-linecap="square" fill="none" opacity="1.0"/><path d="M480.1 339.8h0M473.2 335.3h0M468.7 342.3h0M465.3 338.3h0M460.8 338.5h0M470.0 344.6h0M471.1 339.4h0M475.6 342.3h0M461.0 333.9h0M457.9 335.7h0M474.3 333.6h0M456.0 342.3h0M463.7 346.2h0M467.0 351.1h0M478.9 338.1h0M475.9 340.2h0M477.0 349.0h0M473.3 342.5h0M478.8 348.2h0M478.5 347.0h0M477.3 343.2h0M476.6 336.4h0M475.0 344.1h0M468.3 351.7h0M464.6 337.2h0M458.9 334.7h0M467.5 336.4h0M467.9 350.0h0M461.9 340.2h0M474.9 339.5h0M476.6 343.9h0M467.0 341.8h0M479.8 344.6h0M463.2 341.9h0M461.5 348.1h0M456.7 337.1h0M457.3 337.8h0M469.4 344.2h0M456.4 341.3h0M459.1 339.6h0M475.8 343.7h0M468.8 342.4h0M472.6 346.4h0M475.7 341.6h0M457.6 337.2h0M460.2 333.0h0M461.5 334.6h0M477.6 338.9h0M460.5 342.4h0M457.8 343.4h0M463.4 344.8h0M481.6 341.2h0M472.8 350.9h0M459.7 335.1h0M481.0 343.7h0M472.0 335.9h0M462.8 348.8h0M465.3 334.2h0M468.3 342.0h0M459.2 335.5h0M471.9 336.3h0M463.7 341.3h0M465.4 341.7h0M475.5 347.7h0M468.9 341.1h0M466.8 339.5h0M463.6 347.2h0M466.8 346.3h0M466.9 343.4h0M475.2 335.0h0M466.1 344.0h0M461.8 336.6h0M480.4 343.9h0M480.4 343.0h0M477.0 345.6h0M462.1 343.7h0M470.0 351.1h0M471.5 341.0h0M470.2 339.0h0M475.6 334.5h0M457.7 340.6h0M479.3 347.3h0M465.4 342.8h0M477.4 344.9h0M466.7 347.9h0M459.3 342.2h0M469.0 333.8h0M471.3 350.8h0M463.0 338.8h0M481.0 341.2h0M462.3 343.3h0M463.7 349.8h0M475.0 334.6h0M466.6 340.4h0M480.3 346.9h0M468.0 349.5h0M457.5 333.4h0M473.1 348.1h0M468.5 347.0h0M459.7 342.6h0M456.8 341.4h0M464.5 339.0h0M471.8 351.3h0M459.5 339.2h0M474.6 346.0h0M471.0 344.6h0M468.9 343.4h0M471.3 346.3h0M471.0 343.0h0M472.5 333.4h0M464.8 340.8h0M468.8 349.2h0M475.1 343.2h0M469.2 341.7h0M476.9 345.2h0M458.1 339.7h0M479.6 338.0h0M469.6 341.8h0M471.4 349.9h0M474.1 349.1h0M479.7 346.3h0M460.7 342.1h0M473.4 348.9h0M476.7 338.7h0M461.1 342.7h0M475.3 336.2h0M465.6 351.5h0M476.9 336.7h0M456.9 339.1h0M460.0 346.7h0M457.8 334.9h0M468.9 336.8h0M467.6 339.9h0M460.7 341.9h0M457.1 337.7h0M474.8 341.4h0M476.0 346.1h0M466.9 336.1h0M470.8 335.5h0M457.1 342.7h0M470.7 345.9h0M469.7 337.7h0M466.9 340.9h0M473.5 334.9h0M471.6 338.3h0M466.9 334.3h0M468.5 351.1h0M457.1 342.4h0M459.4 338.9h0M464.0 337.3h0M469.7 336.6h0M463.6 348.8h0M471.4 334.6h0M475.2 334.8h0M472.4 341.1h0M455.7 339.3h0M474.6 343.6h0M476.7 335.2h0M475.9 337.6h0M472.5 349.0h0M461.8 337.1h0M477.5 343.1h0M464.2 348.3h0M462.0 334.3h0M467.3 345.6h0M475.0 334.0h0M465.0 345.9h0M470.2 338.4h0M474.1 335.2h0M476.9 337.4h0M459.5 348.0h0M459.9 334.0h0M474.8 346.4h0M460.3 341.3h0M480.6 342.3h0M479.3 338.6h0M472.1 339.7h0M456.5 340.4h0M454.5 339.3h0M473.1 335.0h0M477.1 341.0h0M462.6 336.0h0M473.5 346.5h0M473.2 341.8h0M469.7 348.0h0M478.5 348.5h0M457.1 336.6h0M472.8 338.6h0M466.8 336.5h0" stroke="#4a68c0" stroke-width="0.80" stroke-linecap="square" fill="none" opacity="1.0"/><path d="M479.6 338.1h0M472.1 338.4h0M472.4 346.9h0M481.9 339.7h0M457.6 336.1h0M468.0 352.3h0M467.4 347.8h0M455.1 336.1h0M469.9 335.9h0M470.9 343.4h0M476.1 343.0h0M462.2 342.6h0M467.2 338.6h0M474.0 346.6h0M455.4 338.9h0M479.9 347.4h0M471.3 346.6h0M468.3 342.5h0M473.4 345.5h0M466.9 351.7h0M464.1 343.7h0M473.7 341.3h0M474.3 342.3h0M456.5 336.9h0M473.2 339.5h0M459.9 344.8h0M467.9 333.0h0M473.7 346.0h0M468.5 350.2h0M458.0 338.8h0M474.8 340.8h0M461.4 349.1h0M466.8 345.7h0M468.0 338.4h0M458.9 338.8h0M464.1 334.4h0M462.6 337.8h0M476.5 344.6h0M465.8 347.3h0M464.1 335.3h0M466.9 346.5h0M462.7 343.2h0M470.8 346.1h0M462.4 340.2h0M464.0 338.9h0M481.6 346.3h0M458.0 341.6h0M473.2 345.9h0M471.0 341.6h0M464.6 334.9h0M478.9 337.2h0M459.4 341.8h0M459.9 344.6h0M465.4 349.8h0M461.8 345.0h0M470.8 341.8h0M476.2 335.7h0M457.8 337.1h0M473.3 349.1h0M479.9 343.5h0M465.1 349.8h0M466.1 335.6h0M476.3 343.3h0M470.5 345.8h0M479.4 343.6h0M480.0 337.9h0M466.8 349.1h0M475.7 340.8h0M461.2 333.5h0M463.6 349.5h0M470.5 335.4h0M479.9 340.1h0M480.6 345.8h0M456.6 336.9h0M460.5 341.6h0M469.9 345.4h0M481.8 343.6h0M465.7 337.4h0M472.9 337.8h0M464.0 349.3h0M461.4 335.5h0M466.2 333.0h0M459.7 342.7h0M470.5 336.7h0M468.7 341.1h0M475.3 334.1h0M463.4 350.1h0M462.2 349.9h0M464.0 349.8h0M468.0 333.9h0M473.2 350.5h0M480.5 341.4h0M473.9 340.3h0M466.8 337.9h0M467.7 333.8h0M462.9 343.6h0M468.6 344.0h0M459.7 334.3h0M459.0 340.5h0M466.6 350.7h0M461.1 333.9h0M456.2 338.8h0M477.1 341.2h0M454.0 335.7h0M477.5 337.8h0M474.8 340.7h0M457.2 344.7h0M468.1 347.2h0M471.0 338.4h0M472.2 346.6h0M460.7 335.3h0M460.7 333.8h0M462.8 348.3h0M470.4 345.8h0M476.4 339.3h0M464.7 348.6h0M461.0 339.7h0M465.3 335.3h0M475.8 334.1h0M480.9 342.7h0M459.3 334.1h0M479.3 345.1h0M479.9 339.5h0M471.1 345.5h0M468.7 334.7h0M476.2 350.1h0M462.5 336.8h0M456.4 333.9h0M466.7 341.5h0M477.2 342.0h0M459.2 334.0h0M474.2 335.4h0M463.1 340.3h0M473.5 344.0h0M461.0 342.7h0M459.7 345.2h0M478.1 345.9h0M458.8 338.3h0M467.9 351.9h0M472.8 345.5h0M462.9 335.5h0M454.0 335.8h0M467.5 337.8h0M463.3 341.0h0M467.9 352.2h0M464.2 346.8h0M471.9 338.7h0M479.1 338.2h0M460.8 337.6h0M477.1 342.9h0M465.0 341.2h0M473.1 342.7h0M480.1 345.3h0M473.7 350.3h0M466.6 343.4h0M475.7 349.3h0M464.7 349.6h0M457.3 344.0h0M465.2 343.9h0M474.5 341.4h0M465.7 347.2h0M463.9 346.3h0M461.1 336.0h0M466.5 343.5h0M466.5 332.8h0M461.2 346.6h0M463.1 348.7h0M477.0 338.9h0M473.7 334.4h0M475.7 335.4h0M463.5 343.4h0M465.5 338.7h0M469.8 347.3h0M478.5 338.7h0M474.2 337.8h0M465.9 348.9h0M469.5 338.9h0M479.0 337.0h0M473.7 334.3h0M475.2 344.5h0M474.3 349.7h0M468.2 335.3h0M457.2 345.2h0M478.3 341.9h0M475.3 335.8h0M455.1 343.3h0M460.2 342.9h0M476.9 349.7h0M472.2 335.3h0M462.4 337.8h0M473.8 337.0h0M461.8 342.5h0M461.5 340.0h0M463.1 341.0h0M466.3 341.2h0M457.2 344.4h0M478.2 346.7h0M464.8 347.0h0M471.3 341.7h0M453.9 337.4h0M464.3 338.7h0M458.3 340.0h0" stroke="#8098d8" stroke-width="0.80" stroke-linecap="square" fill="none" opacity="1.0"/><path d="M461.7 339.3h0M463.8 346.9h0M460.3 341.1h0M475.0 341.5h0M465.3 341.4h0M472.1 335.4h0M473.2 339.0h0M456.4 339.6h0M461.6 336.1h0M473.1 339.0h0M469.0 348.5h0M480.8 339.1h0M477.9 336.9h0M464.2 349.2h0M466.2 333.1h0M469.9 348.9h0M469.0 345.6h0M455.9 339.0h0M479.7 345.0h0M477.3 345.0h0M455.1 341.9h0M474.8 338.3h0M464.8 347.1h0M460.9 339.2h0M465.4 334.4h0M474.3 346.8h0M479.7 343.7h0M467.7 346.7h0M476.8 340.6h0M476.1 337.5h0M463.7 337.8h0M470.7 342.4h0M462.1 339.8h0M474.7 349.9h0M455.9 337.8h0M473.5 333.8h0M471.5 341.8h0M471.7 340.6h0M469.0 348.2h0M474.0 346.0h0M465.3 351.4h0M455.7 342.4h0M470.1 334.0h0M456.1 334.3h0M459.3 346.8h0M470.3 346.7h0M459.7 342.0h0M454.6 335.9h0M480.2 343.7h0M472.0 346.8h0M456.4 342.4h0M465.4 336.6h0M480.1 340.6h0M473.6 342.0h0M462.8 343.7h0M463.1 335.9h0M458.1 338.1h0M460.3 340.6h0M474.0 344.6h0M465.5 338.3h0M466.8 342.0h0M478.9 342.5h0M469.6 333.4h0M473.7 344.4h0M481.5 346.2h0M469.6 334.8h0M466.2 344.7h0M472.7 343.9h0M474.2 336.6h0M472.4 343.3h0M468.5 336.2h0M478.5 347.0h0M473.1 347.4h0M464.3 348.9h0M474.0 341.7h0M467.4 344.3h0M471.1 344.7h0M462.1 344.9h0M458.3 345.3h0M461.2 346.3h0M470.2 350.8h0M469.0 340.7h0M467.2 340.5h0M469.3 349.7h0M466.2 341.0h0M455.5 343.7h0M467.1 348.5h0M469.2 351.3h0M482.0 345.8h0M468.2 350.9h0M467.5 352.0h0M474.0 339.8h0M479.4 339.0h0M468.7 337.4h0M462.7 346.0h0M465.9 343.3h0M477.8 348.4h0M463.8 335.6h0M464.1 339.0h0M467.1 347.6h0M479.8 340.6h0M455.8 333.9h0M471.3 339.2h0M472.2 341.4h0M454.2 336.8h0M456.0 342.2h0M460.9 345.5h0M466.2 351.0h0M470.2 338.3h0M460.5 343.1h0M466.0 340.7h0M462.3 338.0h0M467.7 339.8h0M471.3 333.4h0M460.9 337.8h0M465.4 350.0h0M470.4 338.4h0M470.1 340.8h0M472.9 344.8h0M472.6 343.7h0M480.3 342.6h0M462.3 347.3h0M461.7 336.4h0M467.2 343.4h0M467.6 344.1h0M466.9 348.2h0M473.9 338.3h0M468.3 335.1h0M467.2 337.7h0M465.5 339.6h0M473.0 342.7h0M474.9 346.7h0M460.5 344.3h0M474.9 335.5h0M453.9 337.6h0M481.0 346.8h0M476.0 346.6h0M468.2 347.7h0M468.4 335.8h0M461.8 342.5h0M461.5 343.6h0M458.2 343.9h0M459.9 334.7h0M468.1 340.9h0M465.7 342.9h0M468.4 334.5h0M467.7 339.7h0M463.2 349.0h0M472.7 338.9h0M470.1 350.6h0M459.2 339.7h0M467.0 332.9h0M458.7 340.4h0M473.6 347.3h0M475.0 338.3h0M476.7 344.6h0M466.1 348.9h0M464.5 335.4h0M462.6 340.1h0M467.9 341.9h0M478.6 345.0h0M461.0 341.1h0M471.3 336.8h0M460.7 339.2h0M469.8 336.3h0M469.5 335.4h0M461.6 333.3h0M471.9 336.7h0M466.2 345.2h0M475.0 342.7h0M467.8 352.4h0M470.6 345.1h0M459.0 346.5h0M468.1 351.7h0M469.6 351.4h0M465.0 333.4h0M459.6 334.8h0M471.2 338.8h0M458.4 337.4h0M459.0 344.0h0M478.9 338.5h0M472.8 337.5h0M472.6 344.5h0M475.6 346.1h0M458.0 344.1h0M466.4 343.5h0M481.5 341.7h0" stroke="#3050b0" stroke-width="0.80" stroke-linecap="square" fill="none" opacity="1.0"/><path d="M467.5 340.5h0M457.3 345.6h0M478.6 341.6h0M465.8 345.9h0M455.2 341.7h0M463.0 342.3h0M464.2 343.2h0M477.1 348.2h0M463.8 340.8h0M463.1 337.5h0M479.2 344.6h0M466.8 339.7h0M469.0 337.5h0M475.6 343.7h0M466.9 343.5h0M461.3 339.9h0M479.2 348.0h0M468.3 342.5h0M470.4 341.0h0M480.9 346.4h0M463.4 350.2h0M460.9 340.6h0M467.6 340.3h0M470.9 348.2h0M458.6 335.1h0M469.1 345.0h0M466.6 346.4h0M461.0 333.4h0M469.7 336.9h0M460.4 338.2h0M476.1 338.2h0M465.4 340.3h0M471.7 348.9h0M466.4 332.9h0M466.4 336.2h0M470.1 342.1h0M459.7 347.3h0M458.9 332.9h0M464.9 334.8h0M468.6 334.3h0M466.1 347.1h0M476.3 341.2h0M462.2 344.2h0M471.1 342.8h0M460.8 345.6h0M476.9 345.4h0M465.9 344.8h0M470.6 344.5h0M475.8 342.5h0M461.2 337.9h0M462.5 347.6h0M465.2 349.8h0M472.7 343.6h0M457.9 342.9h0M470.8 337.0h0M455.5 341.2h0M478.2 347.9h0M461.8 333.8h0M474.8 343.5h0M480.8 343.2h0M457.7 335.8h0M463.0 335.3h0M459.7 333.1h0M454.8 335.7h0M472.9 346.4h0M467.8 340.1h0M480.1 341.5h0M468.5 349.8h0M475.0 348.8h0M476.2 338.5h0M465.3 349.7h0M458.6 337.2h0M458.9 346.7h0M481.2 343.3h0M466.2 352.1h0M468.0 345.5h0M468.0 342.3h0M473.8 338.0h0M475.3 340.4h0M478.2 337.0h0M477.2 344.0h0M479.9 340.1h0M461.2 340.0h0M467.7 340.4h0M482.0 346.7h0M475.8 337.7h0M467.6 349.1h0M470.0 336.0h0M463.4 340.4h0M473.1 343.5h0M468.1 334.8h0M472.1 336.7h0M453.7 335.6h0M463.9 350.5h0M459.5 335.4h0M466.8 340.4h0M460.9 341.2h0M460.3 341.3h0M467.9 334.6h0M479.2 337.5h0M458.7 340.0h0M465.9 349.8h0M477.6 345.7h0M462.7 344.1h0M472.7 334.5h0M461.4 342.7h0M460.5 341.7h0M474.1 344.3h0M466.7 334.5h0M480.2 345.2h0M462.4 338.6h0M469.5 336.3h0M469.5 337.4h0M463.8 344.1h0M456.7 338.2h0M476.3 349.4h0M475.1 341.4h0M480.8 346.2h0M478.4 337.5h0M460.7 336.8h0M466.9 347.7h0M461.9 347.5h0M463.4 340.6h0M479.4 338.9h0M454.5 335.5h0M468.9 334.7h0M456.2 335.7h0M457.9 340.3h0M476.0 342.2h0M460.5 343.5h0M465.8 334.4h0M456.1 340.4h0M471.7 337.4h0M470.7 335.7h0M460.5 336.3h0M457.2 337.8h0M462.7 334.4h0M461.5 340.5h0M473.9 345.8h0M473.5 347.5h0M461.7 338.4h0M466.0 343.2h0M475.1 343.5h0M471.2 346.8h0M458.4 344.2h0M474.1 338.1h0M477.3 343.7h0M470.3 338.9h0M463.6 344.5h0M476.0 341.6h0M468.7 351.7h0M473.2 334.3h0M478.5 345.2h0M473.8 343.2h0M473.2 337.6h0M478.9 346.6h0M477.7 336.5h0M463.4 346.8h0M457.7 337.0h0M477.0 342.1h0M480.1 346.0h0M461.2 338.8h0M472.2 342.1h0M455.5 335.5h0M475.7 348.3h0M454.4 340.8h0M464.7 348.8h0M468.4 349.5h0M458.2 341.4h0M456.4 342.7h0M466.7 334.3h0M466.7 339.6h0M462.8 345.9h0M463.0 345.1h0M463.2 335.9h0M458.5 342.1h0M463.6 337.2h0M473.8 346.0h0M467.4 339.8h0M472.1 346.8h0M459.2 337.0h0M464.5 333.9h0M458.2 340.1h0M471.2 344.2h0M469.1 351.0h0M470.5 339.9h0M468.0 334.8h0M460.1 345.4h0M460.7 335.7h0M464.8 341.7h0M467.0 339.1h0M462.2 348.9h0M476.8 339.4h0M474.1 340.2h0M476.4 344.6h0M470.0 350.6h0" stroke="#6080d0" stroke-width="0.80" stroke-linecap="square" fill="none" opacity="1.0"/><path d="M485.1 337.8h0M486.6 337.4h0M489.1 337.7h0M482.2 338.3h0M484.2 337.5h0M486.6 337.9h0M482.8 338.0h0M486.8 336.3h0M490.5 337.2h0M489.3 337.4h0M485.4 338.3h0M482.8 338.7h0M483.0 338.3h0M489.5 337.1h0M483.5 337.7h0M486.7 336.7h0M484.9 336.8h0M485.7 339.0h0M486.0 337.0h0M487.2 338.5h0M482.6 338.7h0M485.0 338.3h0M486.1 338.6h0M486.6 338.6h0M489.7 338.2h0M485.1 337.0h0M489.5 336.7h0M490.2 337.4h0M490.7 337.5h0M488.9 337.4h0M488.6 338.5h0M489.1 338.8h0" stroke="#1a5a2a" stroke-width="0.90" stroke-linecap="square" fill="none" opacity="1.0"/><path d="M488.9 338.0h0M489.5 337.7h0M486.4 338.8h0M484.7 339.5h0M484.1 337.3h0M486.9 338.0h0M488.4 338.8h0M486.7 338.1h0M487.8 339.5h0M484.7 336.9h0M489.4 338.4h0M488.0 339.1h0M488.6 337.7h0M486.2 337.5h0M485.7 336.3h0M488.2 337.7h0M489.8 337.8h0M489.3 337.7h0M482.6 338.4h0M488.7 337.0h0M487.2 337.2h0M490.8 337.5h0M488.1 338.4h0M487.8 337.2h0M483.9 338.4h0M487.7 338.6h0" stroke="#2a6a3a" stroke-width="0.90" stroke-linecap="square" fill="none" opacity="1.0"/><path d="M484.2 338.4h0M488.7 336.7h0M484.2 337.1h0M489.3 336.9h0M487.9 337.8h0M484.9 336.8h0M487.5 337.0h0M484.6 338.8h0M488.3 337.5h0M489.4 337.0h0M487.7 337.5h0M484.5 339.0h0M489.6 336.9h0M487.8 339.2h0M483.9 338.7h0M484.8 339.2h0M485.3 338.0h0M484.0 338.0h0M489.7 337.5h0M486.3 337.8h0M484.0 337.8h0M488.8 337.7h0" stroke="#1e6030" stroke-width="0.90" stroke-linecap="square" fill="none" opacity="1.0"/><path d="M493.7 337.3h0M496.1 338.5h0M495.4 337.9h0M494.5 337.3h0M496.8 337.5h0M495.2 337.6h0M496.3 337.0h0M496.9 337.0h0M493.3 337.8h0M496.8 336.2h0M494.7 338.4h0M498.8 336.8h0M494.2 338.7h0M495.7 337.0h0M496.7 336.2h0M497.5 337.6h0" stroke="#8b4fb8" stroke-width="0.80" stroke-linecap="square" fill="none" opacity="1.0"/><path d="M496.0 336.1h0M498.1 337.0h0M497.5 337.3h0M495.8 338.4h0M494.5 337.5h0M494.2 338.4h0M497.4 338.0h0M495.3 338.5h0M494.4 338.5h0M497.1 337.3h0M494.8 338.5h0M495.4 336.6h0M495.0 338.3h0M495.8 336.8h0" stroke="#9a60c0" stroke-width="0.80" stroke-linecap="square" fill="none" opacity="1.0"/><path d="M448.4 338.0h0M446.8 340.1h0M449.7 344.1h0M453.0 343.8h0M450.7 353.2h0M443.9 349.7h0M448.8 336.1h0M449.3 340.6h0M451.3 339.5h0M453.6 350.1h0M456.7 340.7h0M449.4 335.9h0M447.7 346.0h0M443.5 336.5h0M451.4 348.7h0M454.1 347.9h0M448.1 341.1h0M450.8 345.2h0M447.0 338.1h0M454.1 335.5h0M451.6 351.0h0M453.3 344.5h0M455.2 339.9h0M450.5 346.1h0" stroke="#a07050" stroke-width="0.60" stroke-linecap="square" fill="none" opacity="1.0"/><path d="M449.7 340.6h0M445.8 339.4h0M449.7 345.7h0M446.1 346.0h0M451.5 347.3h0M443.2 345.4h0M451.4 331.2h0M447.7 334.2h0M449.9 343.5h0M450.3 349.6h0M454.9 336.8h0M449.9 341.9h0M449.5 344.4h0M447.7 345.5h0M448.1 342.6h0M450.4 349.3h0M444.3 350.0h0M448.8 346.6h0M452.6 340.8h0M449.5 336.0h0M446.7 348.1h0M447.4 352.0h0M451.4 336.2h0M444.9 338.1h0M443.5 348.9h0M446.8 353.7h0" stroke="#b08060" stroke-width="0.60" stroke-linecap="square" fill="none" opacity="1.0"/><path d="M502.5 347.1h0M500.6 345.7h0M493.4 341.8h0M498.7 341.7h0M494.1 340.8h0M497.5 346.0h0M497.6 339.5h0M495.0 337.9h0M505.3 338.1h0M506.2 340.7h0M501.5 341.8h0M507.3 341.3h0M496.1 338.9h0M505.1 343.9h0M504.4 342.0h0M496.4 344.6h0M489.3 340.9h0M506.9 345.3h0M498.0 340.6h0M502.5 340.5h0M493.2 340.2h0M501.8 342.7h0M495.7 338.8h0M494.7 342.2h0M499.1 340.5h0" stroke="#a07050" stroke-width="0.60" stroke-linecap="square" fill="none" opacity="1.0"/><path d="M493.3 339.4h0M504.7 341.8h0M503.8 347.2h0M496.9 337.6h0M499.5 342.8h0M498.3 340.4h0M491.4 342.0h0M498.2 341.7h0M493.4 342.6h0M496.7 343.0h0M502.1 338.0h0M498.9 340.9h0M498.7 344.3h0M504.7 345.8h0M498.4 340.5h0M502.5 344.2h0M504.8 341.7h0M505.0 343.7h0M491.2 341.0h0M497.2 342.0h0M500.2 341.6h0M505.5 341.3h0M495.1 338.9h0M496.2 341.0h0M495.5 338.9h0" stroke="#b08060" stroke-width="0.60" stroke-linecap="square" fill="none" opacity="1.0"/><path d="M494.8 361.1h0M489.9 358.4h0M486.3 379.6h0M480.1 361.1h0M503.1 368.3h0M489.0 361.9h0M487.4 363.4h0M496.1 367.3h0M486.4 366.0h0M478.5 375.6h0M473.2 373.0h0M481.8 363.5h0M470.5 368.4h0M479.4 355.4h0M480.4 366.2h0M469.0 366.6h0M484.0 358.2h0M497.2 365.6h0M485.0 368.9h0M472.0 369.9h0M485.4 360.0h0M495.4 359.5h0M481.9 379.0h0M476.0 362.1h0M476.1 363.6h0" stroke="#9a5a30" stroke-width="0.70" stroke-linecap="square" fill="none" opacity="1.0"/><path d="M481.1 367.9h0M488.5 362.8h0M482.1 364.5h0M484.6 371.2h0M485.6 378.8h0M494.1 367.3h0M475.8 356.4h0M467.6 374.1h0M475.5 363.6h0M477.7 359.8h0M493.1 372.4h0M493.5 361.4h0M471.0 365.5h0M483.8 370.2h0M499.0 371.4h0M484.4 373.9h0M487.7 363.8h0M503.5 362.5h0M478.7 374.3h0M469.8 369.4h0M473.0 363.7h0M490.3 376.4h0M500.7 372.5h0M502.0 361.0h0M480.1 363.4h0M475.9 364.3h0M473.5 361.6h0M482.7 371.1h0M474.0 364.0h0" stroke="#d0b0a0" stroke-width="0.70" stroke-linecap="square" fill="none" opacity="1.0"/><path d="M469.5 372.3h0M494.8 372.5h0M475.3 377.4h0M488.2 365.5h0M481.2 358.2h0M482.3 355.2h0M487.7 379.1h0M485.1 369.1h0M483.7 372.1h0M496.6 363.1h0M486.0 354.4h0M470.1 363.1h0M476.3 374.5h0M500.1 367.8h0M486.8 364.5h0M483.5 367.0h0M491.6 359.5h0M484.4 370.4h0M500.1 370.4h0M484.9 375.1h0M468.2 358.4h0M498.9 372.0h0M494.0 368.4h0M480.7 358.0h0M488.3 366.2h0M476.0 369.2h0M476.1 372.2h0M500.6 375.8h0M483.8 355.3h0" stroke="#6a3010" stroke-width="0.70" stroke-linecap="square" fill="none" opacity="1.0"/><path d="M481.4 364.2h0M473.6 373.4h0M487.1 369.4h0M496.5 367.6h0M500.1 367.7h0M477.3 366.5h0M492.6 373.3h0M475.6 364.5h0M479.9 366.1h0M493.1 364.8h0M471.3 366.3h0M490.4 376.5h0M483.8 364.5h0M481.7 381.1h0M484.8 376.8h0M498.4 370.0h0M477.8 373.8h0M495.2 370.0h0M478.0 372.4h0M486.9 374.9h0M474.8 372.1h0M476.5 366.6h0M483.4 372.8h0M497.4 377.1h0M495.1 366.7h0M487.5 361.9h0M498.1 369.0h0" stroke="#8a4a20" stroke-width="0.70" stroke-linecap="square" fill="none" opacity="1.0"/><path d="M495.2 357.4h0M497.9 367.6h0M488.9 368.4h0M503.5 370.5h0M474.6 365.0h0M479.6 376.8h0M479.9 362.8h0M479.5 378.3h0M481.3 367.3h0M500.4 365.4h0M486.0 360.2h0M478.0 359.7h0M485.6 369.7h0M480.8 364.7h0M475.4 366.3h0M488.4 359.0h0M485.4 364.8h0M479.5 363.6h0M471.2 365.9h0M481.7 359.9h0M499.9 359.9h0M493.8 372.4h0M483.9 370.4h0M483.6 365.5h0M480.8 367.3h0" stroke="#a86a40" stroke-width="0.70" stroke-linecap="square" fill="none" opacity="1.0"/><path d="M468.3 372.0h0M499.9 364.9h0M493.8 359.0h0M480.3 368.4h0M483.5 374.1h0M490.1 368.0h0M499.9 375.7h0M481.6 358.1h0M495.5 373.0h0M469.5 369.5h0M488.2 370.6h0M486.3 368.2h0M482.6 373.9h0M476.1 362.6h0M495.4 367.9h0M481.9 373.5h0M479.6 368.0h0M478.7 370.5h0M476.9 369.5h0M501.7 360.0h0M482.4 372.2h0M479.2 376.5h0M475.4 369.4h0M494.2 358.2h0M466.9 373.5h0M494.9 370.2h0M485.2 366.8h0M494.6 365.9h0M497.0 360.5h0M481.7 379.1h0M474.9 365.1h0M481.3 371.6h0" stroke="#c09070" stroke-width="0.70" stroke-linecap="square" fill="none" opacity="1.0"/><path d="M487.3 375.7h0M479.8 364.5h0M478.6 358.7h0M469.6 367.9h0M464.9 361.2h0M491.7 362.2h0M496.0 357.4h0M471.8 372.6h0M496.5 372.0h0M490.8 378.9h0M487.1 373.0h0M486.4 368.6h0M482.9 362.5h0M487.8 377.4h0M481.2 370.1h0M478.2 375.3h0M475.6 355.7h0M487.3 373.8h0M492.6 372.4h0M483.6 364.3h0M480.7 358.3h0M496.8 365.9h0M487.2 356.4h0M482.7 370.9h0M485.7 373.6h0M494.8 365.8h0M489.3 374.3h0M478.4 374.9h0M473.4 360.0h0M499.4 364.6h0M492.8 368.5h0M477.0 360.3h0M486.8 361.9h0" stroke="#7a3a12" stroke-width="0.70" stroke-linecap="square" fill="none" opacity="1.0"/><path d="M487.8 363.7h0M489.6 368.5h0M495.0 362.5h0M488.0 366.4h0M492.6 367.9h0M480.1 368.5h0M482.7 367.7h0M494.0 365.5h0M495.8 366.4h0M487.5 365.0h0M481.5 369.0h0M492.3 368.4h0M495.3 363.2h0M486.2 363.7h0M483.0 366.2h0M488.1 365.6h0M486.8 363.6h0M485.1 365.2h0M497.4 363.6h0M491.1 363.8h0M493.9 365.5h0M485.7 363.6h0M492.6 368.5h0M490.2 366.2h0M487.2 363.9h0M483.4 364.5h0M482.8 363.8h0M488.1 365.7h0M493.4 364.4h0M483.7 363.7h0M483.9 361.5h0M484.5 368.5h0M493.8 363.6h0M480.9 363.5h0M484.0 363.4h0M490.1 366.3h0M480.3 364.8h0M490.1 366.2h0M485.8 362.7h0M483.5 363.7h0M483.7 366.0h0M477.8 362.3h0M490.5 365.9h0M478.4 364.7h0M483.6 361.4h0M489.3 369.0h0M491.6 367.2h0M485.4 364.9h0M496.3 367.4h0M491.0 364.8h0M485.3 366.0h0M486.4 363.8h0M481.5 364.7h0M486.2 362.4h0M482.6 367.2h0M475.7 365.9h0M478.1 363.5h0M485.4 365.9h0M493.8 362.9h0M492.0 367.6h0M480.0 366.0h0M488.2 364.5h0M484.0 365.0h0M489.8 363.9h0M476.6 363.3h0M488.4 368.3h0M485.7 364.8h0" stroke="#7a3a12" stroke-width="0.90" stroke-linecap="square" fill="none" opacity="1.0"/><path d="M482.8 364.6h0M481.9 365.4h0M482.3 364.5h0M480.7 367.2h0M483.0 365.7h0M489.8 365.2h0M487.9 366.6h0M486.7 368.2h0M487.9 366.0h0M478.0 366.2h0M487.6 365.8h0M485.6 366.8h0M494.5 366.0h0M495.4 364.5h0M490.1 365.8h0M483.8 362.6h0M478.1 363.3h0M483.0 364.7h0M478.2 363.6h0M480.7 361.8h0M490.1 367.5h0M490.4 367.6h0M492.9 368.6h0M496.4 365.2h0M495.4 364.9h0M481.0 363.9h0M485.6 364.4h0M489.4 363.6h0M493.4 364.2h0M491.2 362.5h0M479.2 363.1h0M488.9 365.3h0M484.9 366.8h0M490.2 366.0h0M487.9 363.8h0M485.9 368.3h0M476.7 366.7h0M493.2 364.2h0M492.6 364.5h0M486.7 365.2h0M476.0 364.9h0M485.3 366.0h0M483.2 367.3h0M487.7 367.5h0M477.6 365.4h0M475.5 366.1h0M491.4 365.6h0M495.1 364.8h0M493.2 368.3h0M494.1 366.8h0M493.0 366.0h0M489.8 364.1h0M495.2 367.2h0M497.7 366.2h0M481.3 365.0h0M491.5 364.3h0M494.5 363.7h0M481.3 363.0h0M477.5 367.5h0M481.7 367.2h0M480.4 365.1h0M494.7 364.6h0M484.9 363.8h0M483.0 365.7h0M485.9 362.4h0M481.3 363.7h0M488.6 366.6h0M493.3 363.1h0M484.2 364.8h0M479.5 364.6h0M491.0 363.5h0" stroke="#8a4a20" stroke-width="0.90" stroke-linecap="square" fill="none" opacity="1.0"/><path d="M483.1 363.8h0M478.2 363.7h0M474.9 365.4h0M486.6 362.8h0M490.5 364.8h0M494.8 368.2h0M491.5 365.1h0M485.5 366.3h0M492.7 363.5h0M473.9 364.4h0M486.3 367.7h0M487.8 368.0h0M489.7 365.4h0M489.0 365.7h0M486.4 365.4h0M491.4 366.5h0M494.5 366.1h0M485.5 368.1h0M498.0 366.6h0M476.3 366.9h0M495.5 365.5h0M490.6 365.5h0M496.4 366.7h0M490.9 368.1h0M482.1 364.0h0M491.9 363.3h0M495.3 367.3h0M492.4 365.6h0M483.5 362.2h0M486.3 365.3h0M476.0 364.4h0M486.8 367.7h0M491.6 362.4h0M478.0 364.4h0M488.0 367.9h0M483.5 365.6h0M482.9 365.1h0M483.3 364.0h0M486.3 365.7h0M477.5 363.8h0M478.4 362.8h0M482.7 367.4h0M486.8 364.5h0M488.2 364.8h0M479.2 368.5h0M478.9 365.4h0M486.1 364.9h0M487.0 366.1h0M482.1 366.0h0M492.3 366.4h0M478.3 362.6h0M482.2 365.5h0M490.9 367.3h0M483.5 365.0h0M483.8 368.6h0M486.7 365.3h0M487.5 364.5h0M481.4 364.4h0M483.1 362.0h0M495.1 364.9h0M479.8 366.3h0M484.9 367.6h0" stroke="#6a3010" stroke-width="0.90" stroke-linecap="square" fill="none" opacity="1.0"/><path d="M495.2 363.1h0M498.5 369.4h0M500.3 365.8h0M498.1 363.6h0M494.2 364.6h0M500.6 363.9h0M500.1 362.2h0M499.0 365.9h0M499.6 365.6h0M500.1 365.1h0M498.8 367.6h0M497.4 368.0h0M499.7 364.2h0M500.1 364.8h0M497.4 364.6h0M495.2 359.9h0M498.9 366.3h0M502.3 366.1h0M501.0 365.8h0M499.9 365.7h0M497.0 365.3h0" stroke="#8a4a20" stroke-width="0.80" stroke-linecap="square" fill="none" opacity="1.0"/><path d="M499.1 365.4h0M497.7 366.9h0M501.3 367.5h0M497.7 366.8h0M498.4 367.7h0M499.8 364.1h0M494.4 363.6h0M494.9 365.9h0M496.2 365.6h0M495.8 363.7h0M495.2 365.1h0M502.4 368.8h0M494.8 362.2h0M496.8 367.3h0M499.1 365.9h0M497.5 367.4h0M498.9 364.5h0M496.9 365.4h0M497.5 362.4h0" stroke="#7a3a12" stroke-width="0.80" stroke-linecap="square" fill="none" opacity="1.0"/></g>
<text x="108.40" y="461.20" font-size="10.2" text-anchor="start" font-weight="bold" fill="#000" >D</text>
<line x1="141.30" y1="461.50" x2="141.30" y2="653.60" stroke="#231f20" stroke-width="1.1"/>
<line x1="140.80" y1="653.10" x2="401.70" y2="653.10" stroke="#231f20" stroke-width="1.1"/>
<line x1="144.00" y1="653.10" x2="144.00" y2="656.30" stroke="#231f20" stroke-width="0.9"/>
<text x="144.00" y="663.90" font-size="7.8" text-anchor="middle" font-weight="normal" fill="#231f20" >0</text>
<line x1="192.65" y1="653.10" x2="192.65" y2="656.30" stroke="#231f20" stroke-width="0.9"/>
<text x="192.65" y="663.90" font-size="7.8" text-anchor="middle" font-weight="normal" fill="#231f20" >50</text>
<line x1="241.30" y1="653.10" x2="241.30" y2="656.30" stroke="#231f20" stroke-width="0.9"/>
<text x="241.30" y="663.90" font-size="7.8" text-anchor="middle" font-weight="normal" fill="#231f20" >100</text>
<line x1="289.95" y1="653.10" x2="289.95" y2="656.30" stroke="#231f20" stroke-width="0.9"/>
<text x="289.95" y="663.90" font-size="7.8" text-anchor="middle" font-weight="normal" fill="#231f20" >150</text>
<line x1="338.60" y1="653.10" x2="338.60" y2="656.30" stroke="#231f20" stroke-width="0.9"/>
<text x="338.60" y="663.90" font-size="7.8" text-anchor="middle" font-weight="normal" fill="#231f20" >200</text>
<line x1="387.25" y1="653.10" x2="387.25" y2="656.30" stroke="#231f20" stroke-width="0.9"/>
<text x="387.25" y="663.90" font-size="7.8" text-anchor="middle" font-weight="normal" fill="#231f20" >250</text>
<text x="247.50" y="676.40" font-size="8.2" text-anchor="start" font-weight="normal" fill="#231f20" textLength="49" lengthAdjust="spacingAndGlyphs" class="cd" >Day post infusion</text>
<text transform="translate(122.4,557) rotate(-90)" font-size="8.2" text-anchor="middle" fill="#231f20" textLength="30.5" lengthAdjust="spacingAndGlyphs" class="cd">Patient no.</text>
<line x1="137.90" y1="468.80" x2="250.54" y2="468.80" stroke="#5a5a5a" stroke-width="1.25"/>
<text x="135.90" y="471.55" font-size="7.6" text-anchor="end" font-weight="normal" fill="#231f20" >1</text>
<path d="M142.84,467.35 L145.74,470.25 M142.84,470.25 L145.74,467.35" stroke="#1f5c9c" stroke-width="1.1" fill="none"/>
<path d="M156.07,467.35 L158.97,470.25 M156.07,470.25 L158.97,467.35" stroke="#1f5c9c" stroke-width="1.1" fill="none"/>
<path d="M169.79,467.35 L172.69,470.25 M169.79,470.25 L172.69,467.35" stroke="#1f5c9c" stroke-width="1.1" fill="none"/>
<path d="M180.30,467.35 L183.20,470.25 M180.30,470.25 L183.20,467.35" stroke="#1f5c9c" stroke-width="1.1" fill="none"/>
<path d="M187.79,467.35 L190.69,470.25 M187.79,470.25 L190.69,467.35" stroke="#1f5c9c" stroke-width="1.1" fill="none"/>
<path d="M200.93,467.35 L203.83,470.25 M200.93,470.25 L203.83,467.35" stroke="#1f5c9c" stroke-width="1.1" fill="none"/>
<path d="M249.09,467.35 L251.99,470.25 M249.09,470.25 L251.99,467.35" stroke="#1f5c9c" stroke-width="1.1" fill="none"/>
<circle cx="151.01" cy="468.80" r="2.1" fill="#c8102e"/>
<circle cx="164.24" cy="468.80" r="2.1" fill="#c8102e"/>
<line x1="137.90" y1="481.42" x2="269.52" y2="481.42" stroke="#5a5a5a" stroke-width="1.25"/>
<text x="135.90" y="484.17" font-size="7.6" text-anchor="end" font-weight="normal" fill="#231f20" >2</text>
<path d="M142.06,479.97 L144.96,482.87 M142.06,482.87 L144.96,479.97" stroke="#1f5c9c" stroke-width="1.1" fill="none"/>
<path d="M145.27,479.97 L148.17,482.87 M145.27,482.87 L148.17,479.97" stroke="#1f5c9c" stroke-width="1.1" fill="none"/>
<path d="M152.77,479.97 L155.67,482.87 M152.77,482.87 L155.67,479.97" stroke="#1f5c9c" stroke-width="1.1" fill="none"/>
<path d="M172.71,479.97 L175.61,482.87 M172.71,482.87 L175.61,479.97" stroke="#1f5c9c" stroke-width="1.1" fill="none"/>
<path d="M180.30,479.97 L183.20,482.87 M180.30,482.87 L183.20,479.97" stroke="#1f5c9c" stroke-width="1.1" fill="none"/>
<path d="M181.28,479.97 L184.18,482.87 M181.28,482.87 L184.18,479.97" stroke="#1f5c9c" stroke-width="1.1" fill="none"/>
<path d="M186.34,479.97 L189.23,482.87 M186.34,482.87 L189.23,479.97" stroke="#1f5c9c" stroke-width="1.1" fill="none"/>
<path d="M193.54,479.97 L196.44,482.87 M193.54,482.87 L196.44,479.97" stroke="#1f5c9c" stroke-width="1.1" fill="none"/>
<path d="M200.35,479.97 L203.25,482.87 M200.35,482.87 L203.25,479.97" stroke="#1f5c9c" stroke-width="1.1" fill="none"/>
<path d="M236.54,479.97 L239.44,482.87 M236.54,482.87 L239.44,479.97" stroke="#1f5c9c" stroke-width="1.1" fill="none"/>
<path d="M268.07,479.97 L270.97,482.87 M268.07,482.87 L270.97,479.97" stroke="#1f5c9c" stroke-width="1.1" fill="none"/>
<circle cx="149.74" cy="481.42" r="2.1" fill="#c8102e"/>
<circle cx="208.70" cy="481.42" r="2.1" fill="#c8102e"/>
<circle cx="226.02" cy="481.42" r="2.1" fill="#c8102e"/>
<line x1="137.90" y1="494.04" x2="324.98" y2="494.04" stroke="#5a5a5a" stroke-width="1.25"/>
<text x="135.90" y="496.79" font-size="7.6" text-anchor="end" font-weight="normal" fill="#231f20" >3</text>
<path d="M149.56,492.59 L152.46,495.49 M149.56,495.49 L152.46,492.59" stroke="#1f5c9c" stroke-width="1.1" fill="none"/>
<path d="M156.07,492.59 L158.97,495.49 M156.07,495.49 L158.97,492.59" stroke="#1f5c9c" stroke-width="1.1" fill="none"/>
<path d="M169.79,492.59 L172.69,495.49 M169.79,495.49 L172.69,492.59" stroke="#1f5c9c" stroke-width="1.1" fill="none"/>
<path d="M183.42,492.59 L186.32,495.49 M183.42,495.49 L186.32,492.59" stroke="#1f5c9c" stroke-width="1.1" fill="none"/>
<path d="M205.31,492.59 L208.21,495.49 M205.31,495.49 L208.21,492.59" stroke="#1f5c9c" stroke-width="1.1" fill="none"/>
<path d="M234.01,492.59 L236.91,495.49 M234.01,495.49 L236.91,492.59" stroke="#1f5c9c" stroke-width="1.1" fill="none"/>
<path d="M295.51,492.59 L298.41,495.49 M295.51,495.49 L298.41,492.59" stroke="#1f5c9c" stroke-width="1.1" fill="none"/>
<path d="M323.53,492.59 L326.43,495.49 M323.53,495.49 L326.43,492.59" stroke="#1f5c9c" stroke-width="1.1" fill="none"/>
<circle cx="144.97" cy="494.04" r="2.1" fill="#c8102e"/>
<circle cx="164.24" cy="494.04" r="2.1" fill="#c8102e"/>
<circle cx="262.90" cy="494.04" r="2.1" fill="#c8102e"/>
<line x1="137.90" y1="506.66" x2="399.90" y2="506.66" stroke="#5a5a5a" stroke-width="1.25"/>
<text x="135.90" y="509.41" font-size="7.6" text-anchor="end" font-weight="normal" fill="#231f20" >4</text>
<path d="M162.79,505.21 L165.69,508.11 M162.79,508.11 L165.69,505.21" stroke="#1f5c9c" stroke-width="1.1" fill="none"/>
<path d="M168.82,505.21 L171.72,508.11 M168.82,508.11 L171.72,505.21" stroke="#1f5c9c" stroke-width="1.1" fill="none"/>
<path d="M183.42,505.21 L186.32,508.11 M183.42,508.11 L186.32,505.21" stroke="#1f5c9c" stroke-width="1.1" fill="none"/>
<path d="M200.35,505.21 L203.25,508.11 M200.35,508.11 L203.25,505.21" stroke="#1f5c9c" stroke-width="1.1" fill="none"/>
<path d="M219.03,505.21 L221.93,508.11 M219.03,508.11 L221.93,505.21" stroke="#1f5c9c" stroke-width="1.1" fill="none"/>
<path d="M224.28,505.21 L227.18,508.11 M224.28,508.11 L227.18,505.21" stroke="#1f5c9c" stroke-width="1.1" fill="none"/>
<path d="M227.20,505.21 L230.10,508.11 M227.20,508.11 L230.10,505.21" stroke="#1f5c9c" stroke-width="1.1" fill="none"/>
<path d="M230.12,505.21 L233.02,508.11 M230.12,508.11 L233.02,505.21" stroke="#1f5c9c" stroke-width="1.1" fill="none"/>
<path d="M234.01,505.21 L236.91,508.11 M234.01,508.11 L236.91,505.21" stroke="#1f5c9c" stroke-width="1.1" fill="none"/>
<path d="M244.52,505.21 L247.42,508.11 M244.52,508.11 L247.42,505.21" stroke="#1f5c9c" stroke-width="1.1" fill="none"/>
<path d="M275.27,505.21 L278.17,508.11 M275.27,508.11 L278.17,505.21" stroke="#1f5c9c" stroke-width="1.1" fill="none"/>
<path d="M329.76,505.21 L332.66,508.11 M329.76,508.11 L332.66,505.21" stroke="#1f5c9c" stroke-width="1.1" fill="none"/>
<path d="M371.01,505.21 L373.91,508.11 M371.01,508.11 L373.91,505.21" stroke="#1f5c9c" stroke-width="1.1" fill="none"/>
<path d="M398.45,505.21 L401.35,508.11 M398.45,508.11 L401.35,505.21" stroke="#1f5c9c" stroke-width="1.1" fill="none"/>
<circle cx="144.97" cy="506.66" r="2.1" fill="#c8102e"/>
<circle cx="151.01" cy="506.66" r="2.1" fill="#c8102e"/>
<circle cx="157.52" cy="506.66" r="2.1" fill="#c8102e"/>
<circle cx="239.26" cy="506.66" r="2.1" fill="#c8102e"/>
<line x1="137.90" y1="519.28" x2="321.38" y2="519.28" stroke="#5a5a5a" stroke-width="1.25"/>
<text x="135.90" y="522.03" font-size="7.6" text-anchor="end" font-weight="normal" fill="#231f20" >5</text>
<path d="M162.79,517.83 L165.69,520.73 M162.79,520.73 L165.69,517.83" stroke="#1f5c9c" stroke-width="1.1" fill="none"/>
<path d="M168.82,517.83 L171.72,520.73 M168.82,520.73 L171.72,517.83" stroke="#1f5c9c" stroke-width="1.1" fill="none"/>
<path d="M197.04,517.83 L199.94,520.73 M197.04,520.73 L199.94,517.83" stroke="#1f5c9c" stroke-width="1.1" fill="none"/>
<path d="M264.86,517.83 L267.76,520.73 M264.86,520.73 L267.76,517.83" stroke="#1f5c9c" stroke-width="1.1" fill="none"/>
<path d="M292.59,517.83 L295.49,520.73 M292.59,520.73 L295.49,517.83" stroke="#1f5c9c" stroke-width="1.1" fill="none"/>
<path d="M319.93,517.83 L322.83,520.73 M319.93,520.73 L322.83,517.83" stroke="#1f5c9c" stroke-width="1.1" fill="none"/>
<circle cx="144.97" cy="519.28" r="2.1" fill="#c8102e"/>
<circle cx="151.01" cy="519.28" r="2.1" fill="#c8102e"/>
<circle cx="182.53" cy="519.28" r="2.1" fill="#c8102e"/>
<circle cx="232.54" cy="519.28" r="2.1" fill="#c8102e"/>
<line x1="137.90" y1="531.90" x2="233.71" y2="531.90" stroke="#5a5a5a" stroke-width="1.25"/>
<text x="135.90" y="534.65" font-size="7.6" text-anchor="end" font-weight="normal" fill="#231f20" >6</text>
<path d="M142.36,530.45 L145.26,533.35 M142.36,533.35 L145.26,530.45" stroke="#1f5c9c" stroke-width="1.1" fill="none"/>
<path d="M144.01,530.45 L146.91,533.35 M144.01,533.35 L146.91,530.45" stroke="#1f5c9c" stroke-width="1.1" fill="none"/>
<path d="M147.80,530.45 L150.70,533.35 M147.80,533.35 L150.70,530.45" stroke="#1f5c9c" stroke-width="1.1" fill="none"/>
<path d="M154.52,530.45 L157.42,533.35 M154.52,533.35 L157.42,530.45" stroke="#1f5c9c" stroke-width="1.1" fill="none"/>
<path d="M161.04,530.45 L163.94,533.35 M161.04,533.35 L163.94,530.45" stroke="#1f5c9c" stroke-width="1.1" fill="none"/>
<path d="M184.58,530.45 L187.48,533.35 M184.58,533.35 L187.48,530.45" stroke="#1f5c9c" stroke-width="1.1" fill="none"/>
<path d="M198.30,530.45 L201.20,533.35 M198.30,533.35 L201.20,530.45" stroke="#1f5c9c" stroke-width="1.1" fill="none"/>
<circle cx="169.30" cy="531.90" r="2.1" fill="#c8102e"/>
<circle cx="233.71" cy="531.90" r="2.1" fill="#c8102e"/>
<line x1="137.90" y1="544.52" x2="320.60" y2="544.52" stroke="#5a5a5a" stroke-width="1.25"/>
<text x="135.90" y="547.27" font-size="7.6" text-anchor="end" font-weight="normal" fill="#231f20" >7</text>
<path d="M142.36,543.07 L145.26,545.97 M142.36,545.97 L145.26,543.07" stroke="#1f5c9c" stroke-width="1.1" fill="none"/>
<path d="M145.27,543.07 L148.17,545.97 M145.27,545.97 L148.17,543.07" stroke="#1f5c9c" stroke-width="1.1" fill="none"/>
<path d="M148.58,543.07 L151.48,545.97 M148.58,545.97 L151.48,543.07" stroke="#1f5c9c" stroke-width="1.1" fill="none"/>
<path d="M153.54,543.07 L156.44,545.97 M153.54,545.97 L156.44,543.07" stroke="#1f5c9c" stroke-width="1.1" fill="none"/>
<path d="M160.26,543.07 L163.16,545.97 M160.26,545.97 L163.16,543.07" stroke="#1f5c9c" stroke-width="1.1" fill="none"/>
<path d="M197.04,543.07 L199.94,545.97 M197.04,545.97 L199.94,543.07" stroke="#1f5c9c" stroke-width="1.1" fill="none"/>
<path d="M231.58,543.07 L234.48,545.97 M231.58,545.97 L234.48,543.07" stroke="#1f5c9c" stroke-width="1.1" fill="none"/>
<path d="M264.18,543.07 L267.07,545.97 M264.18,545.97 L267.07,543.07" stroke="#1f5c9c" stroke-width="1.1" fill="none"/>
<path d="M291.71,543.07 L294.61,545.97 M291.71,545.97 L294.61,543.07" stroke="#1f5c9c" stroke-width="1.1" fill="none"/>
<path d="M319.15,543.07 L322.05,545.97 M319.15,545.97 L322.05,543.07" stroke="#1f5c9c" stroke-width="1.1" fill="none"/>
<circle cx="183.02" cy="544.52" r="2.1" fill="#c8102e"/>
<line x1="137.90" y1="557.14" x2="356.02" y2="557.14" stroke="#5a5a5a" stroke-width="1.25"/>
<text x="135.90" y="559.89" font-size="7.6" text-anchor="end" font-weight="normal" fill="#231f20" >8</text>
<path d="M149.07,555.69 L151.97,558.59 M149.07,558.59 L151.97,555.69" stroke="#1f5c9c" stroke-width="1.1" fill="none"/>
<path d="M237.32,555.69 L240.22,558.59 M237.32,558.59 L240.22,555.69" stroke="#1f5c9c" stroke-width="1.1" fill="none"/>
<path d="M265.73,555.69 L268.63,558.59 M265.73,558.59 L268.63,555.69" stroke="#1f5c9c" stroke-width="1.1" fill="none"/>
<path d="M299.49,555.69 L302.39,558.59 M299.49,558.59 L302.39,555.69" stroke="#1f5c9c" stroke-width="1.1" fill="none"/>
<path d="M326.93,555.69 L329.83,558.59 M326.93,558.59 L329.83,555.69" stroke="#1f5c9c" stroke-width="1.1" fill="none"/>
<path d="M354.57,555.69 L357.47,558.59 M354.57,558.59 L357.47,555.69" stroke="#1f5c9c" stroke-width="1.1" fill="none"/>
<circle cx="144.97" cy="557.14" r="2.1" fill="#c8102e"/>
<circle cx="157.52" cy="557.14" r="2.1" fill="#c8102e"/>
<circle cx="161.71" cy="557.14" r="2.1" fill="#c8102e"/>
<circle cx="168.52" cy="557.14" r="2.1" fill="#c8102e"/>
<circle cx="182.53" cy="557.14" r="2.1" fill="#c8102e"/>
<circle cx="189.24" cy="557.14" r="2.1" fill="#c8102e"/>
<circle cx="202.96" cy="557.14" r="2.1" fill="#c8102e"/>
<circle cx="211.23" cy="557.14" r="2.1" fill="#c8102e"/>
<circle cx="224.27" cy="557.14" r="2.1" fill="#c8102e"/>
<line x1="137.90" y1="569.76" x2="233.03" y2="569.76" stroke="#5a5a5a" stroke-width="1.25"/>
<text x="135.90" y="572.51" font-size="7.6" text-anchor="end" font-weight="normal" fill="#231f20" >10</text>
<path d="M152.77,568.31 L155.67,571.21 M152.77,571.21 L155.67,568.31" stroke="#1f5c9c" stroke-width="1.1" fill="none"/>
<path d="M162.79,568.31 L165.69,571.21 M162.79,571.21 L165.69,568.31" stroke="#1f5c9c" stroke-width="1.1" fill="none"/>
<path d="M165.32,568.31 L168.22,571.21 M165.32,571.21 L168.22,568.31" stroke="#1f5c9c" stroke-width="1.1" fill="none"/>
<path d="M167.07,568.31 L169.97,571.21 M167.07,571.21 L169.97,568.31" stroke="#1f5c9c" stroke-width="1.1" fill="none"/>
<path d="M173.59,568.31 L176.49,571.21 M173.59,571.21 L176.49,568.31" stroke="#1f5c9c" stroke-width="1.1" fill="none"/>
<path d="M181.08,568.31 L183.98,571.21 M181.08,571.21 L183.98,568.31" stroke="#1f5c9c" stroke-width="1.1" fill="none"/>
<path d="M231.58,568.31 L234.48,571.21 M231.58,571.21 L234.48,568.31" stroke="#1f5c9c" stroke-width="1.1" fill="none"/>
<circle cx="144.97" cy="569.76" r="2.1" fill="#c8102e"/>
<circle cx="195.96" cy="569.76" r="2.1" fill="#c8102e"/>
<line x1="137.90" y1="582.38" x2="268.74" y2="582.38" stroke="#5a5a5a" stroke-width="1.25"/>
<text x="135.90" y="585.13" font-size="7.6" text-anchor="end" font-weight="normal" fill="#231f20" >12</text>
<path d="M142.36,580.93 L145.26,583.83 M142.36,583.83 L145.26,580.93" stroke="#1f5c9c" stroke-width="1.1" fill="none"/>
<path d="M144.01,580.93 L146.91,583.83 M144.01,583.83 L146.91,580.93" stroke="#1f5c9c" stroke-width="1.1" fill="none"/>
<path d="M147.80,580.93 L150.70,583.83 M147.80,583.83 L150.70,580.93" stroke="#1f5c9c" stroke-width="1.1" fill="none"/>
<path d="M154.52,580.93 L157.42,583.83 M154.52,583.83 L157.42,580.93" stroke="#1f5c9c" stroke-width="1.1" fill="none"/>
<path d="M167.85,580.93 L170.75,583.83 M167.85,583.83 L170.75,580.93" stroke="#1f5c9c" stroke-width="1.1" fill="none"/>
<path d="M181.57,580.93 L184.47,583.83 M181.57,583.83 L184.47,580.93" stroke="#1f5c9c" stroke-width="1.1" fill="none"/>
<path d="M205.31,580.93 L208.21,583.83 M205.31,583.83 L208.21,580.93" stroke="#1f5c9c" stroke-width="1.1" fill="none"/>
<path d="M232.84,580.93 L235.74,583.83 M232.84,583.83 L235.74,580.93" stroke="#1f5c9c" stroke-width="1.1" fill="none"/>
<path d="M267.29,580.93 L270.19,583.83 M267.29,583.83 L270.19,580.93" stroke="#1f5c9c" stroke-width="1.1" fill="none"/>
<circle cx="165.02" cy="582.38" r="2.1" fill="#c8102e"/>
<line x1="137.90" y1="595.00" x2="327.80" y2="595.00" stroke="#5a5a5a" stroke-width="1.25"/>
<text x="135.90" y="597.75" font-size="7.6" text-anchor="end" font-weight="normal" fill="#231f20" >14</text>
<path d="M153.54,593.55 L156.44,596.45 M153.54,596.45 L156.44,593.55" stroke="#1f5c9c" stroke-width="1.1" fill="none"/>
<path d="M160.26,593.55 L163.16,596.45 M160.26,596.45 L163.16,593.55" stroke="#1f5c9c" stroke-width="1.1" fill="none"/>
<path d="M167.07,593.55 L169.97,596.45 M167.07,596.45 L169.97,593.55" stroke="#1f5c9c" stroke-width="1.1" fill="none"/>
<path d="M174.08,593.55 L176.98,596.45 M174.08,596.45 L176.98,593.55" stroke="#1f5c9c" stroke-width="1.1" fill="none"/>
<path d="M182.83,593.55 L185.73,596.45 M182.83,596.45 L185.73,593.55" stroke="#1f5c9c" stroke-width="1.1" fill="none"/>
<path d="M194.51,593.55 L197.41,596.45 M194.51,596.45 L197.41,593.55" stroke="#1f5c9c" stroke-width="1.1" fill="none"/>
<path d="M224.57,593.55 L227.47,596.45 M224.57,596.45 L227.47,593.55" stroke="#1f5c9c" stroke-width="1.1" fill="none"/>
<path d="M264.86,593.55 L267.76,596.45 M264.86,596.45 L267.76,593.55" stroke="#1f5c9c" stroke-width="1.1" fill="none"/>
<path d="M326.35,593.55 L329.25,596.45 M326.35,596.45 L329.25,593.55" stroke="#1f5c9c" stroke-width="1.1" fill="none"/>
<circle cx="144.97" cy="595.00" r="2.1" fill="#c8102e"/>
<line x1="137.90" y1="607.62" x2="321.09" y2="607.62" stroke="#5a5a5a" stroke-width="1.25"/>
<text x="135.90" y="610.37" font-size="7.6" text-anchor="end" font-weight="normal" fill="#231f20" >15</text>
<path d="M142.84,606.17 L145.74,609.07 M142.84,609.07 L145.74,606.17" stroke="#1f5c9c" stroke-width="1.1" fill="none"/>
<path d="M153.54,606.17 L156.44,609.07 M153.54,609.07 L156.44,606.17" stroke="#1f5c9c" stroke-width="1.1" fill="none"/>
<path d="M160.26,606.17 L163.16,609.07 M160.26,609.07 L163.16,606.17" stroke="#1f5c9c" stroke-width="1.1" fill="none"/>
<path d="M174.08,606.17 L176.98,609.07 M174.08,609.07 L176.98,606.17" stroke="#1f5c9c" stroke-width="1.1" fill="none"/>
<path d="M181.57,606.17 L184.47,609.07 M181.57,609.07 L184.47,606.17" stroke="#1f5c9c" stroke-width="1.1" fill="none"/>
<path d="M194.51,606.17 L197.41,609.07 M194.51,609.07 L197.41,606.17" stroke="#1f5c9c" stroke-width="1.1" fill="none"/>
<path d="M231.58,606.17 L234.48,609.07 M231.58,609.07 L234.48,606.17" stroke="#1f5c9c" stroke-width="1.1" fill="none"/>
<path d="M264.86,606.17 L267.76,609.07 M264.86,609.07 L267.76,606.17" stroke="#1f5c9c" stroke-width="1.1" fill="none"/>
<path d="M292.59,606.17 L295.49,609.07 M292.59,609.07 L295.49,606.17" stroke="#1f5c9c" stroke-width="1.1" fill="none"/>
<path d="M319.64,606.17 L322.54,609.07 M319.64,609.07 L322.54,606.17" stroke="#1f5c9c" stroke-width="1.1" fill="none"/>
<circle cx="168.52" cy="607.62" r="2.1" fill="#c8102e"/>
<line x1="137.90" y1="620.24" x2="321.09" y2="620.24" stroke="#5a5a5a" stroke-width="1.25"/>
<text x="135.90" y="622.99" font-size="7.6" text-anchor="end" font-weight="normal" fill="#231f20" >17</text>
<path d="M142.84,618.79 L145.74,621.69 M142.84,621.69 L145.74,618.79" stroke="#1f5c9c" stroke-width="1.1" fill="none"/>
<path d="M153.54,618.79 L156.44,621.69 M153.54,621.69 L156.44,618.79" stroke="#1f5c9c" stroke-width="1.1" fill="none"/>
<path d="M160.26,618.79 L163.16,621.69 M160.26,621.69 L163.16,618.79" stroke="#1f5c9c" stroke-width="1.1" fill="none"/>
<path d="M174.08,618.79 L176.98,621.69 M174.08,621.69 L176.98,618.79" stroke="#1f5c9c" stroke-width="1.1" fill="none"/>
<path d="M181.57,618.79 L184.47,621.69 M181.57,621.69 L184.47,618.79" stroke="#1f5c9c" stroke-width="1.1" fill="none"/>
<path d="M194.51,618.79 L197.41,621.69 M194.51,621.69 L197.41,618.79" stroke="#1f5c9c" stroke-width="1.1" fill="none"/>
<path d="M231.58,618.79 L234.48,621.69 M231.58,621.69 L234.48,618.79" stroke="#1f5c9c" stroke-width="1.1" fill="none"/>
<path d="M264.86,618.79 L267.76,621.69 M264.86,621.69 L267.76,618.79" stroke="#1f5c9c" stroke-width="1.1" fill="none"/>
<path d="M292.59,618.79 L295.49,621.69 M292.59,621.69 L295.49,618.79" stroke="#1f5c9c" stroke-width="1.1" fill="none"/>
<path d="M319.64,618.79 L322.54,621.69 M319.64,621.69 L322.54,618.79" stroke="#1f5c9c" stroke-width="1.1" fill="none"/>
<circle cx="168.52" cy="620.24" r="2.1" fill="#c8102e"/>
<line x1="137.90" y1="632.86" x2="300.36" y2="632.86" stroke="#5a5a5a" stroke-width="1.25"/>
<text x="135.90" y="635.61" font-size="7.6" text-anchor="end" font-weight="normal" fill="#231f20" >18</text>
<path d="M153.54,631.41 L156.44,634.31 M153.54,634.31 L156.44,631.41" stroke="#1f5c9c" stroke-width="1.1" fill="none"/>
<path d="M160.26,631.41 L163.16,634.31 M160.26,634.31 L163.16,631.41" stroke="#1f5c9c" stroke-width="1.1" fill="none"/>
<path d="M167.07,631.41 L169.97,634.31 M167.07,634.31 L169.97,631.41" stroke="#1f5c9c" stroke-width="1.1" fill="none"/>
<path d="M180.30,631.41 L183.20,634.31 M180.30,634.31 L183.20,631.41" stroke="#1f5c9c" stroke-width="1.1" fill="none"/>
<path d="M196.55,631.41 L199.45,634.31 M196.55,634.31 L199.45,631.41" stroke="#1f5c9c" stroke-width="1.1" fill="none"/>
<path d="M223.50,631.41 L226.40,634.31 M223.50,634.31 L226.40,631.41" stroke="#1f5c9c" stroke-width="1.1" fill="none"/>
<path d="M257.75,631.41 L260.65,634.31 M257.75,634.31 L260.65,631.41" stroke="#1f5c9c" stroke-width="1.1" fill="none"/>
<path d="M298.91,631.41 L301.81,634.31 M298.91,634.31 L301.81,631.41" stroke="#1f5c9c" stroke-width="1.1" fill="none"/>
<circle cx="144.97" cy="632.86" r="2.1" fill="#c8102e"/>
<circle cx="149.25" cy="632.86" r="2.1" fill="#c8102e"/>
<line x1="137.90" y1="645.48" x2="259.98" y2="645.48" stroke="#5a5a5a" stroke-width="1.25"/>
<text x="135.90" y="648.23" font-size="7.6" text-anchor="end" font-weight="normal" fill="#231f20" >19</text>
<path d="M144.98,644.03 L147.88,646.93 M144.98,646.93 L147.88,644.03" stroke="#1f5c9c" stroke-width="1.1" fill="none"/>
<path d="M160.26,644.03 L163.16,646.93 M160.26,646.93 L163.16,644.03" stroke="#1f5c9c" stroke-width="1.1" fill="none"/>
<path d="M167.07,644.03 L169.97,646.93 M167.07,646.93 L169.97,644.03" stroke="#1f5c9c" stroke-width="1.1" fill="none"/>
<path d="M180.30,644.03 L183.20,646.93 M180.30,646.93 L183.20,644.03" stroke="#1f5c9c" stroke-width="1.1" fill="none"/>
<path d="M231.58,644.03 L234.48,646.93 M231.58,646.93 L234.48,644.03" stroke="#1f5c9c" stroke-width="1.1" fill="none"/>
<path d="M258.53,644.03 L261.43,646.93 M258.53,646.93 L261.43,644.03" stroke="#1f5c9c" stroke-width="1.1" fill="none"/>
<circle cx="144.97" cy="645.48" r="2.1" fill="#c8102e"/>
<circle cx="198.78" cy="645.48" r="2.1" fill="#c8102e"/>
<text x="356.10" y="624.60" font-size="7.5" text-anchor="start" font-weight="normal" fill="#231f20" >VST DNA copies</text>
<circle cx="359.90" cy="630.00" r="1.9" fill="#c8102e"/>
<text x="367.30" y="632.40" font-size="6.95" text-anchor="start" font-weight="normal" fill="#231f20" >Detected</text>
<path d="M358.50,637.10 L361.30,639.90 M358.50,639.90 L361.30,637.10" stroke="#1f5c9c" stroke-width="1.0" fill="none"/>
<text x="367.30" y="640.60" font-size="6.95" text-anchor="start" font-weight="normal" fill="#231f20" >Not detected</text>
<rect x="0.6" y="0.6" width="518.8" height="681.8" fill="none" stroke="#000" stroke-width="1.2"/>
</svg></body></html>
